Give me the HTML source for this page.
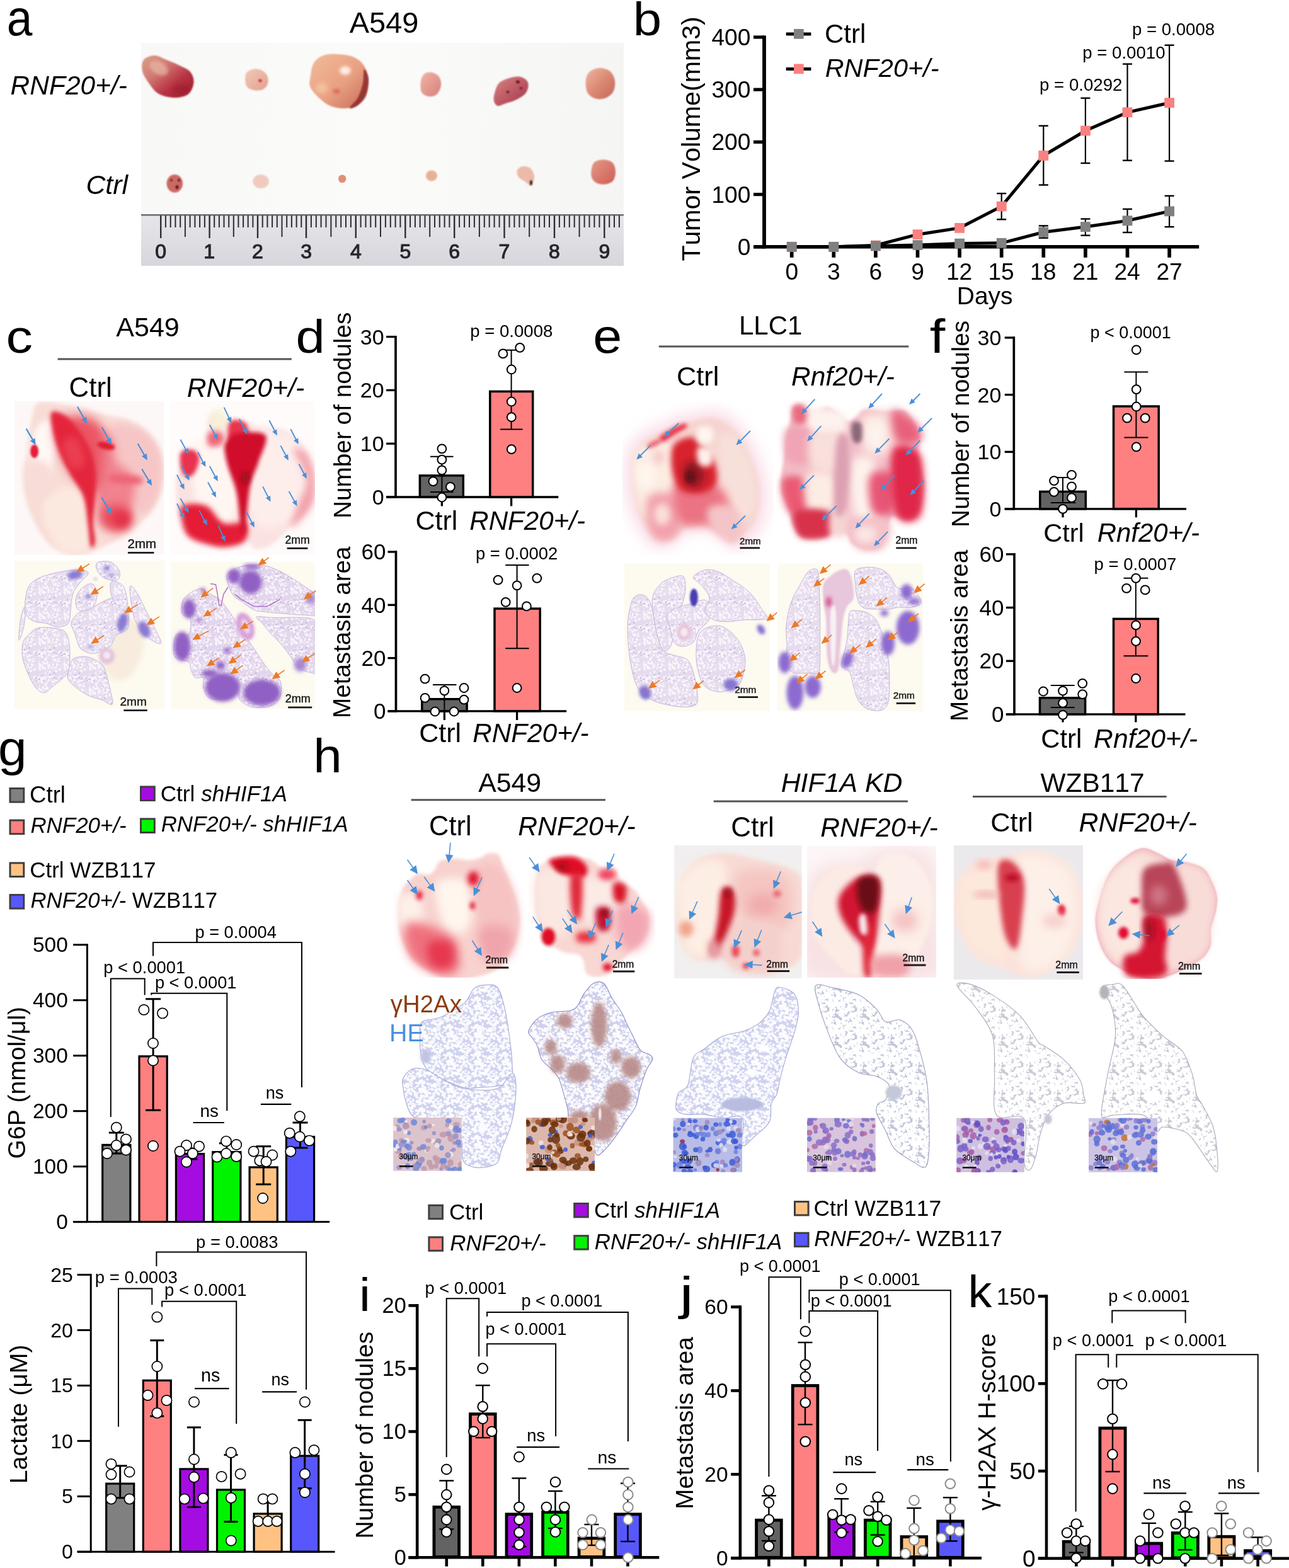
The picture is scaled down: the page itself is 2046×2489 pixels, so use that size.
<!DOCTYPE html>
<html><head><meta charset="utf-8"><title>Figure</title>
<style>
html,body{margin:0;padding:0;background:#fff;}
svg{display:block;}
text{font-family:"Liberation Sans",Arial,sans-serif;font-kerning:none;}
</style></head><body>
<svg width="2046" height="2489" viewBox="0 0 2046 2489">
<rect width="2046" height="2489" fill="#fff"/>
<defs><filter id="b0_6" x="-50%" y="-50%" width="200%" height="200%"><feGaussianBlur stdDeviation="0.6"/></filter><filter id="b0_8" x="-50%" y="-50%" width="200%" height="200%"><feGaussianBlur stdDeviation="0.8"/></filter><filter id="b1" x="-50%" y="-50%" width="200%" height="200%"><feGaussianBlur stdDeviation="1"/></filter><filter id="b1_2" x="-50%" y="-50%" width="200%" height="200%"><feGaussianBlur stdDeviation="1.2"/></filter><filter id="b1_5" x="-50%" y="-50%" width="200%" height="200%"><feGaussianBlur stdDeviation="1.5"/></filter><filter id="b2" x="-50%" y="-50%" width="200%" height="200%"><feGaussianBlur stdDeviation="2"/></filter><filter id="b2_5" x="-50%" y="-50%" width="200%" height="200%"><feGaussianBlur stdDeviation="2.5"/></filter><filter id="b3" x="-50%" y="-50%" width="200%" height="200%"><feGaussianBlur stdDeviation="3"/></filter><filter id="b3_5" x="-50%" y="-50%" width="200%" height="200%"><feGaussianBlur stdDeviation="3.5"/></filter><filter id="b4" x="-50%" y="-50%" width="200%" height="200%"><feGaussianBlur stdDeviation="4"/></filter><filter id="b5" x="-50%" y="-50%" width="200%" height="200%"><feGaussianBlur stdDeviation="5"/></filter><filter id="b6" x="-50%" y="-50%" width="200%" height="200%"><feGaussianBlur stdDeviation="6"/></filter><filter id="b7" x="-50%" y="-50%" width="200%" height="200%"><feGaussianBlur stdDeviation="7"/></filter><filter id="b8" x="-50%" y="-50%" width="200%" height="200%"><feGaussianBlur stdDeviation="8"/></filter><filter id="b9" x="-50%" y="-50%" width="200%" height="200%"><feGaussianBlur stdDeviation="9"/></filter><filter id="b12" x="-50%" y="-50%" width="200%" height="200%"><feGaussianBlur stdDeviation="12"/></filter></defs>
<defs><pattern id="alv" width="40" height="40" patternUnits="userSpaceOnUse"><circle cx="13.0" cy="6.0" r="1.8" fill="#fdf8fc" fill-opacity="0.8"/><circle cx="2.9" cy="21.4" r="1.4" fill="#fdf8fc" fill-opacity="0.8"/><circle cx="42.9" cy="21.4" r="1.4" fill="#fdf8fc" fill-opacity="0.8"/><circle cx="2.3" cy="20.3" r="0.9" fill="#fdf8fc" fill-opacity="0.8"/><circle cx="42.3" cy="20.3" r="0.9" fill="#fdf8fc" fill-opacity="0.8"/><circle cx="17.3" cy="2.8" r="0.9" fill="#fdf8fc" fill-opacity="0.8"/><circle cx="17.3" cy="42.8" r="0.9" fill="#fdf8fc" fill-opacity="0.8"/><circle cx="17.0" cy="33.1" r="1.0" fill="#fdf8fc" fill-opacity="0.8"/><circle cx="8.9" cy="25.1" r="2.3" fill="#fdf8fc" fill-opacity="0.8"/><circle cx="23.1" cy="15.9" r="2.4" fill="#fdf8fc" fill-opacity="0.8"/><circle cx="1.9" cy="34.3" r="1.3" fill="#fdf8fc" fill-opacity="0.8"/><circle cx="41.9" cy="34.3" r="1.3" fill="#fdf8fc" fill-opacity="0.8"/><circle cx="5.8" cy="4.7" r="1.3" fill="#fdf8fc" fill-opacity="0.8"/><circle cx="32.6" cy="7.2" r="1.7" fill="#fdf8fc" fill-opacity="0.8"/><circle cx="25.6" cy="14.9" r="1.7" fill="#fdf8fc" fill-opacity="0.8"/><circle cx="2.5" cy="2.4" r="1.1" fill="#fdf8fc" fill-opacity="0.8"/><circle cx="2.5" cy="42.4" r="1.1" fill="#fdf8fc" fill-opacity="0.8"/><circle cx="42.5" cy="2.4" r="1.1" fill="#fdf8fc" fill-opacity="0.8"/><circle cx="42.5" cy="42.4" r="1.1" fill="#fdf8fc" fill-opacity="0.8"/><circle cx="27.2" cy="17.1" r="1.3" fill="#fdf8fc" fill-opacity="0.8"/><circle cx="23.4" cy="18.1" r="1.3" fill="#fdf8fc" fill-opacity="0.8"/><circle cx="31.8" cy="28.0" r="1.2" fill="#fdf8fc" fill-opacity="0.8"/><circle cx="23.0" cy="21.0" r="2.2" fill="#fdf8fc" fill-opacity="0.8"/><circle cx="29.2" cy="11.5" r="2.4" fill="#fdf8fc" fill-opacity="0.8"/><circle cx="4.7" cy="16.7" r="2.0" fill="#fdf8fc" fill-opacity="0.8"/><circle cx="6.1" cy="19.6" r="0.9" fill="#fdf8fc" fill-opacity="0.8"/><circle cx="26.7" cy="30.6" r="1.7" fill="#fdf8fc" fill-opacity="0.8"/><circle cx="35.0" cy="12.5" r="1.9" fill="#fdf8fc" fill-opacity="0.8"/><circle cx="23.8" cy="23.2" r="1.5" fill="#fdf8fc" fill-opacity="0.8"/><circle cx="33.6" cy="-2.2" r="1.6" fill="#fdf8fc" fill-opacity="0.8"/><circle cx="33.6" cy="37.8" r="1.6" fill="#fdf8fc" fill-opacity="0.8"/><circle cx="26.6" cy="2.4" r="1.9" fill="#fdf8fc" fill-opacity="0.8"/><circle cx="26.6" cy="42.4" r="1.9" fill="#fdf8fc" fill-opacity="0.8"/><circle cx="25.9" cy="-0.3" r="2.1" fill="#fdf8fc" fill-opacity="0.8"/><circle cx="25.9" cy="39.7" r="2.1" fill="#fdf8fc" fill-opacity="0.8"/><circle cx="11.4" cy="15.4" r="1.9" fill="#fdf8fc" fill-opacity="0.8"/><circle cx="0.9" cy="18.5" r="1.1" fill="#fdf8fc" fill-opacity="0.8"/><circle cx="40.9" cy="18.5" r="1.1" fill="#fdf8fc" fill-opacity="0.8"/><circle cx="4.7" cy="2.4" r="2.0" fill="#fdf8fc" fill-opacity="0.8"/><circle cx="4.7" cy="42.4" r="2.0" fill="#fdf8fc" fill-opacity="0.8"/><circle cx="5.2" cy="9.9" r="1.4" fill="#fdf8fc" fill-opacity="0.8"/><circle cx="34.9" cy="3.2" r="1.5" fill="#fdf8fc" fill-opacity="0.8"/><circle cx="22.0" cy="35.3" r="2.1" fill="#fdf8fc" fill-opacity="0.8"/><circle cx="34.6" cy="11.1" r="1.5" fill="#fdf8fc" fill-opacity="0.8"/><circle cx="14.4" cy="35.4" r="2.3" fill="#fdf8fc" fill-opacity="0.8"/><circle cx="6.0" cy="7.0" r="1.2" fill="#fdf8fc" fill-opacity="0.8"/><circle cx="9.3" cy="19.4" r="1.7" fill="#fdf8fc" fill-opacity="0.8"/><circle cx="10.5" cy="0.2" r="1.5" fill="#fdf8fc" fill-opacity="0.8"/><circle cx="10.5" cy="40.2" r="1.5" fill="#fdf8fc" fill-opacity="0.8"/><circle cx="14.8" cy="22.7" r="2.3" fill="#fdf8fc" fill-opacity="0.8"/><circle cx="27.6" cy="20.6" r="1.8" fill="#fdf8fc" fill-opacity="0.8"/><circle cx="27.0" cy="2.2" r="2.2" fill="#fdf8fc" fill-opacity="0.8"/><circle cx="27.0" cy="42.2" r="2.2" fill="#fdf8fc" fill-opacity="0.8"/><circle cx="31.2" cy="35.0" r="2.1" fill="#fdf8fc" fill-opacity="0.8"/><circle cx="15.7" cy="16.0" r="1.0" fill="#fdf8fc" fill-opacity="0.8"/><circle cx="25.4" cy="2.5" r="0.9" fill="#fdf8fc" fill-opacity="0.8"/><circle cx="25.4" cy="42.5" r="0.9" fill="#fdf8fc" fill-opacity="0.8"/><circle cx="8.4" cy="6.5" r="1.3" fill="#fdf8fc" fill-opacity="0.8"/><circle cx="2.1" cy="0.0" r="1.0" fill="#fdf8fc" fill-opacity="0.8"/><circle cx="2.1" cy="40.0" r="1.0" fill="#fdf8fc" fill-opacity="0.8"/><circle cx="42.1" cy="0.0" r="1.0" fill="#fdf8fc" fill-opacity="0.8"/><circle cx="42.1" cy="40.0" r="1.0" fill="#fdf8fc" fill-opacity="0.8"/><circle cx="4.1" cy="14.5" r="0.8" fill="#fdf8fc" fill-opacity="0.8"/><circle cx="35.0" cy="24.6" r="1.0" fill="#fdf8fc" fill-opacity="0.8"/><circle cx="10.1" cy="13.9" r="1.4" fill="#fdf8fc" fill-opacity="0.8"/><circle cx="4.9" cy="34.0" r="2.4" fill="#fdf8fc" fill-opacity="0.8"/><circle cx="18.6" cy="19.4" r="0.9" fill="#fdf8fc" fill-opacity="0.8"/><circle cx="4.1" cy="13.7" r="1.2" fill="#fdf8fc" fill-opacity="0.8"/><circle cx="33.2" cy="6.5" r="0.8" fill="#fdf8fc" fill-opacity="0.8"/><circle cx="-2.0" cy="21.1" r="1.0" fill="#fdf8fc" fill-opacity="0.8"/><circle cx="38.0" cy="21.1" r="1.0" fill="#fdf8fc" fill-opacity="0.8"/><circle cx="21.7" cy="1.1" r="1.6" fill="#fdf8fc" fill-opacity="0.8"/><circle cx="21.7" cy="41.1" r="1.6" fill="#fdf8fc" fill-opacity="0.8"/><circle cx="-0.9" cy="34.5" r="1.9" fill="#fdf8fc" fill-opacity="0.8"/><circle cx="39.1" cy="34.5" r="1.9" fill="#fdf8fc" fill-opacity="0.8"/><circle cx="10.4" cy="14.7" r="1.1" fill="#fdf8fc" fill-opacity="0.8"/><circle cx="30.9" cy="21.3" r="2.0" fill="#fdf8fc" fill-opacity="0.8"/><circle cx="13.2" cy="8.9" r="2.1" fill="#fdf8fc" fill-opacity="0.8"/><circle cx="-0.6" cy="34.1" r="2.1" fill="#fdf8fc" fill-opacity="0.8"/><circle cx="39.4" cy="34.1" r="2.1" fill="#fdf8fc" fill-opacity="0.8"/><circle cx="32.7" cy="29.6" r="1.2" fill="#fdf8fc" fill-opacity="0.8"/><circle cx="20.7" cy="14.2" r="0.8" fill="#fdf8fc" fill-opacity="0.8"/><circle cx="1.1" cy="11.2" r="1.2" fill="#fdf8fc" fill-opacity="0.8"/><circle cx="41.1" cy="11.2" r="1.2" fill="#fdf8fc" fill-opacity="0.8"/><circle cx="27.7" cy="-1.7" r="1.5" fill="#fdf8fc" fill-opacity="0.8"/><circle cx="27.7" cy="38.3" r="1.5" fill="#fdf8fc" fill-opacity="0.8"/><circle cx="-2.5" cy="-0.5" r="2.3" fill="#fdf8fc" fill-opacity="0.8"/><circle cx="-2.5" cy="39.5" r="2.3" fill="#fdf8fc" fill-opacity="0.8"/><circle cx="37.5" cy="-0.5" r="2.3" fill="#fdf8fc" fill-opacity="0.8"/><circle cx="37.5" cy="39.5" r="2.3" fill="#fdf8fc" fill-opacity="0.8"/><circle cx="14.6" cy="8.8" r="1.2" fill="#fdf8fc" fill-opacity="0.8"/><circle cx="7.9" cy="8.2" r="1.8" fill="#fdf8fc" fill-opacity="0.8"/><circle cx="36.0" cy="33.6" r="1.6" fill="#fdf8fc" fill-opacity="0.8"/><circle cx="26.1" cy="32.0" r="0.9" fill="#fdf8fc" fill-opacity="0.8"/><circle cx="26.4" cy="36.4" r="2.1" fill="#fdf8fc" fill-opacity="0.8"/><circle cx="30.0" cy="19.1" r="1.1" fill="#fdf8fc" fill-opacity="0.8"/><circle cx="31.6" cy="13.3" r="2.1" fill="#fdf8fc" fill-opacity="0.8"/><circle cx="-1.1" cy="15.8" r="1.4" fill="#fdf8fc" fill-opacity="0.8"/><circle cx="38.9" cy="15.8" r="1.4" fill="#fdf8fc" fill-opacity="0.8"/><circle cx="-2.1" cy="29.0" r="1.1" fill="#fdf8fc" fill-opacity="0.8"/><circle cx="37.9" cy="29.0" r="1.1" fill="#fdf8fc" fill-opacity="0.8"/><circle cx="5.1" cy="6.0" r="2.2" fill="#fdf8fc" fill-opacity="0.8"/><circle cx="32.3" cy="5.8" r="2.1" fill="#fdf8fc" fill-opacity="0.8"/><circle cx="-0.8" cy="26.3" r="1.4" fill="#fdf8fc" fill-opacity="0.8"/><circle cx="39.2" cy="26.3" r="1.4" fill="#fdf8fc" fill-opacity="0.8"/><circle cx="21.9" cy="5.2" r="0.8" fill="#fdf8fc" fill-opacity="0.8"/><circle cx="-1.2" cy="26.0" r="1.6" fill="#fdf8fc" fill-opacity="0.8"/><circle cx="38.8" cy="26.0" r="1.6" fill="#fdf8fc" fill-opacity="0.8"/><circle cx="-2.7" cy="17.4" r="2.2" fill="#fdf8fc" fill-opacity="0.8"/><circle cx="37.3" cy="17.4" r="2.2" fill="#fdf8fc" fill-opacity="0.8"/><circle cx="33.0" cy="8.4" r="1.2" fill="#fdf8fc" fill-opacity="0.8"/><circle cx="11.7" cy="9.6" r="1.7" fill="#fdf8fc" fill-opacity="0.8"/><circle cx="10.4" cy="16.8" r="1.0" fill="#fdf8fc" fill-opacity="0.8"/><circle cx="36.4" cy="14.2" r="1.5" fill="#fdf8fc" fill-opacity="0.8"/><circle cx="23.3" cy="36.2" r="1.5" fill="#fdf8fc" fill-opacity="0.8"/><circle cx="36.7" cy="20.1" r="1.7" fill="#fdf8fc" fill-opacity="0.8"/><circle cx="20.9" cy="0.7" r="1.5" fill="#fdf8fc" fill-opacity="0.8"/><circle cx="20.9" cy="40.7" r="1.5" fill="#fdf8fc" fill-opacity="0.8"/><circle cx="7.3" cy="0.2" r="2.1" fill="#fdf8fc" fill-opacity="0.8"/><circle cx="7.3" cy="40.2" r="2.1" fill="#fdf8fc" fill-opacity="0.8"/><circle cx="6.9" cy="18.9" r="2.0" fill="#fdf8fc" fill-opacity="0.8"/><circle cx="22.3" cy="13.0" r="1.6" fill="#fdf8fc" fill-opacity="0.8"/><circle cx="22.2" cy="31.4" r="1.0" fill="#fdf8fc" fill-opacity="0.8"/><circle cx="22.4" cy="9.9" r="1.2" fill="#fdf8fc" fill-opacity="0.8"/><circle cx="30.9" cy="20.3" r="1.7" fill="#fdf8fc" fill-opacity="0.8"/><circle cx="30.4" cy="36.5" r="1.5" fill="#fdf8fc" fill-opacity="0.8"/><circle cx="24.5" cy="20.2" r="1.6" fill="#fdf8fc" fill-opacity="0.8"/><circle cx="27.7" cy="18.1" r="1.7" fill="#fdf8fc" fill-opacity="0.8"/><circle cx="19.1" cy="-2.3" r="1.9" fill="#fdf8fc" fill-opacity="0.8"/><circle cx="19.1" cy="37.7" r="1.9" fill="#fdf8fc" fill-opacity="0.8"/><circle cx="35.1" cy="37.7" r="0.9" fill="#a58acc" fill-opacity="0.45"/><circle cx="22.4" cy="37.7" r="1.4" fill="#a58acc" fill-opacity="0.45"/><circle cx="5.5" cy="4.9" r="1.0" fill="#a58acc" fill-opacity="0.45"/><circle cx="2.9" cy="9.6" r="0.7" fill="#a58acc" fill-opacity="0.45"/><circle cx="26.8" cy="31.4" r="1.5" fill="#a58acc" fill-opacity="0.45"/><circle cx="6.2" cy="28.6" r="1.3" fill="#a58acc" fill-opacity="0.45"/><circle cx="5.7" cy="35.3" r="1.6" fill="#a58acc" fill-opacity="0.45"/><circle cx="8.8" cy="38.1" r="1.0" fill="#a58acc" fill-opacity="0.45"/><circle cx="19.5" cy="39.6" r="1.4" fill="#a58acc" fill-opacity="0.45"/><circle cx="6.5" cy="17.3" r="1.1" fill="#a58acc" fill-opacity="0.45"/><circle cx="13.6" cy="7.8" r="0.9" fill="#a58acc" fill-opacity="0.45"/><circle cx="28.9" cy="0.8" r="1.2" fill="#a58acc" fill-opacity="0.45"/><circle cx="17.6" cy="0.7" r="0.9" fill="#a58acc" fill-opacity="0.45"/><circle cx="25.0" cy="20.5" r="0.7" fill="#a58acc" fill-opacity="0.45"/><circle cx="39.4" cy="31.5" r="1.6" fill="#a58acc" fill-opacity="0.45"/><circle cx="4.2" cy="10.6" r="0.6" fill="#a58acc" fill-opacity="0.45"/><circle cx="31.2" cy="10.8" r="0.7" fill="#a58acc" fill-opacity="0.45"/><circle cx="16.9" cy="36.5" r="1.4" fill="#a58acc" fill-opacity="0.45"/></pattern><pattern id="alvb" width="9" height="8" patternUnits="userSpaceOnUse"><circle cx="3" cy="3" r="2.6" fill="none" stroke="#8890c8" stroke-width="0.9" stroke-opacity="0.6"/><circle cx="7.5" cy="6.8" r="2.1" fill="none" stroke="#8890c8" stroke-width="0.9" stroke-opacity="0.55"/></pattern><pattern id="alvg" width="9" height="8" patternUnits="userSpaceOnUse"><circle cx="3" cy="3" r="2.6" fill="none" stroke="#a0a4c0" stroke-width="0.8" stroke-opacity="0.6"/><circle cx="7.5" cy="6.8" r="2.1" fill="none" stroke="#a0a4c0" stroke-width="0.8" stroke-opacity="0.55"/></pattern></defs>
<defs><linearGradient id="abg" x1="0" y1="0" x2="1" y2="0"><stop offset="0" stop-color="#f8f8f6"/><stop offset="0.5" stop-color="#fbfbf9"/><stop offset="1" stop-color="#f5f5f4"/></linearGradient></defs>
<rect x="224.0" y="68.0" width="766.0" height="273.0" fill="url(#abg)"/>
<defs><linearGradient id="arul" x1="0" y1="0" x2="0" y2="1"><stop offset="0" stop-color="#e6e6ea"/><stop offset="0.5" stop-color="#dedee3"/><stop offset="1" stop-color="#d6d6dc"/></linearGradient></defs>
<rect x="224.0" y="341.0" width="766.0" height="81.0" fill="url(#arul)"/>
<line x1="224.0" y1="341.2" x2="990.0" y2="341.2" stroke="#6a6a70" stroke-width="2.4"/>
<line x1="255.2" y1="342.0" x2="255.2" y2="378.0" stroke="#2c2c32" stroke-width="2.4"/>
<line x1="262.9" y1="342.0" x2="262.9" y2="361.0" stroke="#2c2c32" stroke-width="2.0"/>
<line x1="270.7" y1="342.0" x2="270.7" y2="361.0" stroke="#2c2c32" stroke-width="2.0"/>
<line x1="278.4" y1="342.0" x2="278.4" y2="361.0" stroke="#2c2c32" stroke-width="2.0"/>
<line x1="286.2" y1="342.0" x2="286.2" y2="361.0" stroke="#2c2c32" stroke-width="2.0"/>
<line x1="293.9" y1="342.0" x2="293.9" y2="376.0" stroke="#2c2c32" stroke-width="2.0"/>
<line x1="301.6" y1="342.0" x2="301.6" y2="361.0" stroke="#2c2c32" stroke-width="2.0"/>
<line x1="309.4" y1="342.0" x2="309.4" y2="361.0" stroke="#2c2c32" stroke-width="2.0"/>
<line x1="317.1" y1="342.0" x2="317.1" y2="361.0" stroke="#2c2c32" stroke-width="2.0"/>
<line x1="324.9" y1="342.0" x2="324.9" y2="361.0" stroke="#2c2c32" stroke-width="2.0"/>
<g stroke="#26262c" stroke-width="1.1">
<text x="246.3" y="409.5" font-size="32.00" fill="#26262c"><tspan>0</tspan></text>
</g>
<line x1="332.6" y1="342.0" x2="332.6" y2="378.0" stroke="#2c2c32" stroke-width="2.4"/>
<line x1="340.2" y1="342.0" x2="340.2" y2="361.0" stroke="#2c2c32" stroke-width="2.0"/>
<line x1="347.9" y1="342.0" x2="347.9" y2="361.0" stroke="#2c2c32" stroke-width="2.0"/>
<line x1="355.5" y1="342.0" x2="355.5" y2="361.0" stroke="#2c2c32" stroke-width="2.0"/>
<line x1="363.2" y1="342.0" x2="363.2" y2="361.0" stroke="#2c2c32" stroke-width="2.0"/>
<line x1="370.8" y1="342.0" x2="370.8" y2="376.0" stroke="#2c2c32" stroke-width="2.0"/>
<line x1="378.4" y1="342.0" x2="378.4" y2="361.0" stroke="#2c2c32" stroke-width="2.0"/>
<line x1="386.1" y1="342.0" x2="386.1" y2="361.0" stroke="#2c2c32" stroke-width="2.0"/>
<line x1="393.7" y1="342.0" x2="393.7" y2="361.0" stroke="#2c2c32" stroke-width="2.0"/>
<line x1="401.4" y1="342.0" x2="401.4" y2="361.0" stroke="#2c2c32" stroke-width="2.0"/>
<g stroke="#26262c" stroke-width="1.1">
<text x="323.3" y="409.5" font-size="32.00" fill="#26262c"><tspan>1</tspan></text>
</g>
<line x1="409.0" y1="342.0" x2="409.0" y2="378.0" stroke="#2c2c32" stroke-width="2.4"/>
<line x1="416.7" y1="342.0" x2="416.7" y2="361.0" stroke="#2c2c32" stroke-width="2.0"/>
<line x1="424.4" y1="342.0" x2="424.4" y2="361.0" stroke="#2c2c32" stroke-width="2.0"/>
<line x1="432.1" y1="342.0" x2="432.1" y2="361.0" stroke="#2c2c32" stroke-width="2.0"/>
<line x1="439.8" y1="342.0" x2="439.8" y2="361.0" stroke="#2c2c32" stroke-width="2.0"/>
<line x1="447.5" y1="342.0" x2="447.5" y2="376.0" stroke="#2c2c32" stroke-width="2.0"/>
<line x1="455.2" y1="342.0" x2="455.2" y2="361.0" stroke="#2c2c32" stroke-width="2.0"/>
<line x1="462.9" y1="342.0" x2="462.9" y2="361.0" stroke="#2c2c32" stroke-width="2.0"/>
<line x1="470.6" y1="342.0" x2="470.6" y2="361.0" stroke="#2c2c32" stroke-width="2.0"/>
<line x1="478.3" y1="342.0" x2="478.3" y2="361.0" stroke="#2c2c32" stroke-width="2.0"/>
<g stroke="#26262c" stroke-width="1.1">
<text x="400.1" y="409.5" font-size="32.00" fill="#26262c"><tspan>2</tspan></text>
</g>
<line x1="486.0" y1="342.0" x2="486.0" y2="378.0" stroke="#2c2c32" stroke-width="2.4"/>
<line x1="493.9" y1="342.0" x2="493.9" y2="361.0" stroke="#2c2c32" stroke-width="2.0"/>
<line x1="501.8" y1="342.0" x2="501.8" y2="361.0" stroke="#2c2c32" stroke-width="2.0"/>
<line x1="509.6" y1="342.0" x2="509.6" y2="361.0" stroke="#2c2c32" stroke-width="2.0"/>
<line x1="517.5" y1="342.0" x2="517.5" y2="361.0" stroke="#2c2c32" stroke-width="2.0"/>
<line x1="525.4" y1="342.0" x2="525.4" y2="376.0" stroke="#2c2c32" stroke-width="2.0"/>
<line x1="533.3" y1="342.0" x2="533.3" y2="361.0" stroke="#2c2c32" stroke-width="2.0"/>
<line x1="541.2" y1="342.0" x2="541.2" y2="361.0" stroke="#2c2c32" stroke-width="2.0"/>
<line x1="549.0" y1="342.0" x2="549.0" y2="361.0" stroke="#2c2c32" stroke-width="2.0"/>
<line x1="556.9" y1="342.0" x2="556.9" y2="361.0" stroke="#2c2c32" stroke-width="2.0"/>
<g stroke="#26262c" stroke-width="1.1">
<text x="477.2" y="409.5" font-size="32.00" fill="#26262c"><tspan>3</tspan></text>
</g>
<line x1="564.8" y1="342.0" x2="564.8" y2="378.0" stroke="#2c2c32" stroke-width="2.4"/>
<line x1="572.6" y1="342.0" x2="572.6" y2="361.0" stroke="#2c2c32" stroke-width="2.0"/>
<line x1="580.5" y1="342.0" x2="580.5" y2="361.0" stroke="#2c2c32" stroke-width="2.0"/>
<line x1="588.3" y1="342.0" x2="588.3" y2="361.0" stroke="#2c2c32" stroke-width="2.0"/>
<line x1="596.2" y1="342.0" x2="596.2" y2="361.0" stroke="#2c2c32" stroke-width="2.0"/>
<line x1="604.0" y1="342.0" x2="604.0" y2="376.0" stroke="#2c2c32" stroke-width="2.0"/>
<line x1="611.9" y1="342.0" x2="611.9" y2="361.0" stroke="#2c2c32" stroke-width="2.0"/>
<line x1="619.8" y1="342.0" x2="619.8" y2="361.0" stroke="#2c2c32" stroke-width="2.0"/>
<line x1="627.6" y1="342.0" x2="627.6" y2="361.0" stroke="#2c2c32" stroke-width="2.0"/>
<line x1="635.4" y1="342.0" x2="635.4" y2="361.0" stroke="#2c2c32" stroke-width="2.0"/>
<g stroke="#26262c" stroke-width="1.1">
<text x="556.0" y="409.5" font-size="32.00" fill="#26262c"><tspan>4</tspan></text>
</g>
<line x1="643.3" y1="342.0" x2="643.3" y2="378.0" stroke="#2c2c32" stroke-width="2.4"/>
<line x1="651.1" y1="342.0" x2="651.1" y2="361.0" stroke="#2c2c32" stroke-width="2.0"/>
<line x1="658.9" y1="342.0" x2="658.9" y2="361.0" stroke="#2c2c32" stroke-width="2.0"/>
<line x1="666.7" y1="342.0" x2="666.7" y2="361.0" stroke="#2c2c32" stroke-width="2.0"/>
<line x1="674.5" y1="342.0" x2="674.5" y2="361.0" stroke="#2c2c32" stroke-width="2.0"/>
<line x1="682.2" y1="342.0" x2="682.2" y2="376.0" stroke="#2c2c32" stroke-width="2.0"/>
<line x1="690.0" y1="342.0" x2="690.0" y2="361.0" stroke="#2c2c32" stroke-width="2.0"/>
<line x1="697.8" y1="342.0" x2="697.8" y2="361.0" stroke="#2c2c32" stroke-width="2.0"/>
<line x1="705.6" y1="342.0" x2="705.6" y2="361.0" stroke="#2c2c32" stroke-width="2.0"/>
<line x1="713.4" y1="342.0" x2="713.4" y2="361.0" stroke="#2c2c32" stroke-width="2.0"/>
<g stroke="#26262c" stroke-width="1.1">
<text x="634.4" y="409.5" font-size="32.00" fill="#26262c"><tspan>5</tspan></text>
</g>
<line x1="721.2" y1="342.0" x2="721.2" y2="378.0" stroke="#2c2c32" stroke-width="2.4"/>
<line x1="729.1" y1="342.0" x2="729.1" y2="361.0" stroke="#2c2c32" stroke-width="2.0"/>
<line x1="737.1" y1="342.0" x2="737.1" y2="361.0" stroke="#2c2c32" stroke-width="2.0"/>
<line x1="745.0" y1="342.0" x2="745.0" y2="361.0" stroke="#2c2c32" stroke-width="2.0"/>
<line x1="752.9" y1="342.0" x2="752.9" y2="361.0" stroke="#2c2c32" stroke-width="2.0"/>
<line x1="760.9" y1="342.0" x2="760.9" y2="376.0" stroke="#2c2c32" stroke-width="2.0"/>
<line x1="768.8" y1="342.0" x2="768.8" y2="361.0" stroke="#2c2c32" stroke-width="2.0"/>
<line x1="776.7" y1="342.0" x2="776.7" y2="361.0" stroke="#2c2c32" stroke-width="2.0"/>
<line x1="784.6" y1="342.0" x2="784.6" y2="361.0" stroke="#2c2c32" stroke-width="2.0"/>
<line x1="792.6" y1="342.0" x2="792.6" y2="361.0" stroke="#2c2c32" stroke-width="2.0"/>
<g stroke="#26262c" stroke-width="1.1">
<text x="712.2" y="409.5" font-size="32.00" fill="#26262c"><tspan>6</tspan></text>
</g>
<line x1="800.5" y1="342.0" x2="800.5" y2="378.0" stroke="#2c2c32" stroke-width="2.4"/>
<line x1="808.5" y1="342.0" x2="808.5" y2="361.0" stroke="#2c2c32" stroke-width="2.0"/>
<line x1="816.4" y1="342.0" x2="816.4" y2="361.0" stroke="#2c2c32" stroke-width="2.0"/>
<line x1="824.4" y1="342.0" x2="824.4" y2="361.0" stroke="#2c2c32" stroke-width="2.0"/>
<line x1="832.3" y1="342.0" x2="832.3" y2="361.0" stroke="#2c2c32" stroke-width="2.0"/>
<line x1="840.2" y1="342.0" x2="840.2" y2="376.0" stroke="#2c2c32" stroke-width="2.0"/>
<line x1="848.2" y1="342.0" x2="848.2" y2="361.0" stroke="#2c2c32" stroke-width="2.0"/>
<line x1="856.1" y1="342.0" x2="856.1" y2="361.0" stroke="#2c2c32" stroke-width="2.0"/>
<line x1="864.1" y1="342.0" x2="864.1" y2="361.0" stroke="#2c2c32" stroke-width="2.0"/>
<line x1="872.0" y1="342.0" x2="872.0" y2="361.0" stroke="#2c2c32" stroke-width="2.0"/>
<g stroke="#26262c" stroke-width="1.1">
<text x="791.6" y="409.5" font-size="32.00" fill="#26262c"><tspan>7</tspan></text>
</g>
<line x1="880.0" y1="342.0" x2="880.0" y2="378.0" stroke="#2c2c32" stroke-width="2.4"/>
<line x1="887.9" y1="342.0" x2="887.9" y2="361.0" stroke="#2c2c32" stroke-width="2.0"/>
<line x1="895.9" y1="342.0" x2="895.9" y2="361.0" stroke="#2c2c32" stroke-width="2.0"/>
<line x1="903.8" y1="342.0" x2="903.8" y2="361.0" stroke="#2c2c32" stroke-width="2.0"/>
<line x1="911.7" y1="342.0" x2="911.7" y2="361.0" stroke="#2c2c32" stroke-width="2.0"/>
<line x1="919.6" y1="342.0" x2="919.6" y2="376.0" stroke="#2c2c32" stroke-width="2.0"/>
<line x1="927.6" y1="342.0" x2="927.6" y2="361.0" stroke="#2c2c32" stroke-width="2.0"/>
<line x1="935.5" y1="342.0" x2="935.5" y2="361.0" stroke="#2c2c32" stroke-width="2.0"/>
<line x1="943.4" y1="342.0" x2="943.4" y2="361.0" stroke="#2c2c32" stroke-width="2.0"/>
<line x1="951.4" y1="342.0" x2="951.4" y2="361.0" stroke="#2c2c32" stroke-width="2.0"/>
<g stroke="#26262c" stroke-width="1.1">
<text x="871.1" y="409.5" font-size="32.00" fill="#26262c"><tspan>8</tspan></text>
</g>
<line x1="959.3" y1="342.0" x2="959.3" y2="378.0" stroke="#2c2c32" stroke-width="2.4"/>
<line x1="967.2" y1="342.0" x2="967.2" y2="361.0" stroke="#2c2c32" stroke-width="2.0"/>
<line x1="975.0" y1="342.0" x2="975.0" y2="361.0" stroke="#2c2c32" stroke-width="2.0"/>
<line x1="982.9" y1="342.0" x2="982.9" y2="361.0" stroke="#2c2c32" stroke-width="2.0"/>
<g stroke="#26262c" stroke-width="1.1">
<text x="950.4" y="409.5" font-size="32.00" fill="#26262c"><tspan>9</tspan></text>
</g>
<defs><linearGradient id="t1" x1="0" y1="0" x2="1" y2="1"><stop offset="0" stop-color="#dca08a"/><stop offset="0.35" stop-color="#d07872"/><stop offset="0.65" stop-color="#b83444"/><stop offset="1" stop-color="#9a1a2a"/></linearGradient></defs>
<path d="M228.0,95.0C231.2,90.8 239.3,88.2 245.0,88.0C250.7,87.8 255.7,91.5 262.0,94.0C268.3,96.5 276.3,99.7 283.0,103.0C289.7,106.3 297.9,109.3 302.0,114.0C306.1,118.7 308.0,125.2 307.5,131.0C307.0,136.8 304.1,145.0 299.0,149.0C293.9,153.0 284.8,155.0 277.0,155.0C269.2,155.0 258.7,152.7 252.0,149.0C245.3,145.3 241.3,139.0 237.0,133.0C232.7,127.0 227.5,119.3 226.0,113.0C224.5,106.7 224.8,99.2 228.0,95.0Z" fill="url(#t1)" filter="url(#b0_8)"/>
<ellipse cx="252.0" cy="108.0" rx="16.0" ry="10.0" fill="#e8b8a6" opacity="0.7" transform="rotate(30 252.0 108.0)" filter="url(#b2_5)"/>
<ellipse cx="287.0" cy="142.0" rx="13.0" ry="8.0" fill="#9c1a2a" opacity="0.6" filter="url(#b3)"/>
<defs><linearGradient id="t2" x1="0" y1="0" x2="1" y2="1"><stop offset="0" stop-color="#f2c8b8"/><stop offset="1" stop-color="#e2a090"/></linearGradient></defs>
<path d="M390.0,118.0C391.5,113.7 396.0,111.2 400.0,110.0C404.0,108.8 410.0,109.3 414.0,111.0C418.0,112.7 422.2,116.3 424.0,120.0C425.8,123.7 426.2,129.3 425.0,133.0C423.8,136.7 420.8,140.3 417.0,142.0C413.2,143.7 406.3,144.0 402.0,143.0C397.7,142.0 393.0,140.2 391.0,136.0C389.0,131.8 388.5,122.3 390.0,118.0Z" fill="url(#t2)" filter="url(#b0_8)"/>
<ellipse cx="413.0" cy="128.0" rx="3.0" ry="2.5" fill="#d84040" filter="url(#b1)"/>
<defs><linearGradient id="t3" x1="0" y1="0" x2="1" y2="1"><stop offset="0" stop-color="#f2bc9c"/><stop offset="0.55" stop-color="#e8a080"/><stop offset="1" stop-color="#c86a5a"/></linearGradient></defs>
<path d="M493.0,120.0C494.0,113.8 494.7,105.3 498.0,100.0C501.3,94.7 506.8,90.3 513.0,88.0C519.2,85.7 527.2,85.7 535.0,86.0C542.8,86.3 553.0,87.2 560.0,90.0C567.0,92.8 573.0,97.2 577.0,103.0C581.0,108.8 583.5,117.2 584.0,125.0C584.5,132.8 583.0,143.0 580.0,150.0C577.0,157.0 571.8,163.3 566.0,167.0C560.2,170.7 552.3,172.0 545.0,172.0C537.7,172.0 529.0,170.3 522.0,167.0C515.0,163.7 508.0,157.0 503.0,152.0C498.0,147.0 493.7,142.3 492.0,137.0C490.3,131.7 492.0,126.2 493.0,120.0Z" fill="url(#t3)" filter="url(#b0_8)"/>
<ellipse cx="548.0" cy="112.0" rx="9.0" ry="7.0" fill="#fff4ec" opacity="0.9" filter="url(#b2_5)"/>
<ellipse cx="511.0" cy="140.0" rx="10.0" ry="9.0" fill="#f6caa6" opacity="0.7" filter="url(#b3)"/>
<path d="M578.0,110.0C579.5,108.8 584.5,118.0 585.0,125.0C585.5,132.0 584.0,144.8 581.0,152.0C578.0,159.2 571.3,164.8 567.0,168.0C562.7,171.2 554.8,173.2 555.0,171.0C555.2,168.8 564.5,161.5 568.0,155.0C571.5,148.5 574.3,139.5 576.0,132.0C577.7,124.5 576.5,111.2 578.0,110.0Z" fill="#8c2a2a" opacity="0.85" filter="url(#b1_2)"/>
<ellipse cx="534.0" cy="145.0" rx="6.0" ry="4.0" fill="#d05050" opacity="0.6" filter="url(#b2)"/>
<defs><linearGradient id="t4" x1="0" y1="0" x2="1" y2="1"><stop offset="0" stop-color="#f0b4a6"/><stop offset="1" stop-color="#d8807a"/></linearGradient></defs>
<path d="M668.0,128.0C668.8,123.2 671.0,119.2 674.0,117.0C677.0,114.8 682.2,114.2 686.0,115.0C689.8,115.8 694.7,118.5 697.0,122.0C699.3,125.5 700.7,131.3 700.0,136.0C699.3,140.7 696.3,147.2 693.0,150.0C689.7,152.8 684.0,153.7 680.0,153.0C676.0,152.3 671.0,150.2 669.0,146.0C667.0,141.8 667.2,132.8 668.0,128.0Z" fill="url(#t4)" filter="url(#b0_8)"/>
<defs><linearGradient id="t5" x1="0" y1="0" x2="1" y2="1"><stop offset="0" stop-color="#d48884"/><stop offset="0.5" stop-color="#bf5a66"/><stop offset="1" stop-color="#9c3848"/></linearGradient></defs>
<path d="M785.0,148.0C786.3,143.3 788.2,136.0 792.0,132.0C795.8,128.0 802.3,125.7 808.0,124.0C813.7,122.3 821.0,120.8 826.0,122.0C831.0,123.2 836.5,126.8 838.0,131.0C839.5,135.2 838.0,142.5 835.0,147.0C832.0,151.5 825.3,155.2 820.0,158.0C814.7,160.8 808.0,162.3 803.0,164.0C798.0,165.7 793.2,168.7 790.0,168.0C786.8,167.3 784.8,163.3 784.0,160.0C783.2,156.7 783.7,152.7 785.0,148.0Z" fill="url(#t5)" filter="url(#b0_8)"/>
<ellipse cx="822.0" cy="130.0" rx="3.0" ry="2.5" fill="#6a1c28" filter="url(#b1)"/>
<ellipse cx="806.0" cy="146.0" rx="2.5" ry="2.0" fill="#6a1c28" filter="url(#b1)"/>
<ellipse cx="827.0" cy="140.0" rx="2.5" ry="2.0" fill="#7a2030" filter="url(#b1)"/>
<defs><linearGradient id="t6" x1="0" y1="0" x2="1" y2="1"><stop offset="0" stop-color="#ecb6a2"/><stop offset="0.5" stop-color="#dc8a74"/><stop offset="1" stop-color="#c4645a"/></linearGradient></defs>
<path d="M930.0,126.0C930.8,120.5 933.3,116.0 937.0,113.0C940.7,110.0 946.8,108.0 952.0,108.0C957.2,108.0 964.0,109.7 968.0,113.0C972.0,116.3 975.2,122.5 976.0,128.0C976.8,133.5 975.7,141.3 973.0,146.0C970.3,150.7 964.8,154.3 960.0,156.0C955.2,157.7 948.7,157.7 944.0,156.0C939.3,154.3 934.3,151.0 932.0,146.0C929.7,141.0 929.2,131.5 930.0,126.0Z" fill="url(#t6)" filter="url(#b0_8)"/>
<ellipse cx="277.3" cy="291.3" rx="12.8" ry="14.3" fill="#c96a64" filter="url(#b0_8)"/>
<ellipse cx="281.0" cy="297.0" rx="2.5" ry="3.0" fill="#6a1020" filter="url(#b1)"/>
<ellipse cx="272.0" cy="286.0" rx="2.0" ry="2.0" fill="#8a2030" filter="url(#b1)"/>
<ellipse cx="284.0" cy="286.0" rx="2.0" ry="2.5" fill="#7a1828" filter="url(#b1)"/>
<ellipse cx="414.0" cy="288.0" rx="12.8" ry="11.0" fill="#f0cbbd" filter="url(#b0_8)"/>
<ellipse cx="543.2" cy="283.8" rx="6.2" ry="6.4" fill="#e08f76" filter="url(#b0_6)"/>
<ellipse cx="685.0" cy="279.0" rx="9.0" ry="8.5" fill="#eab092" filter="url(#b0_8)"/>
<path d="M821.0,270.0C822.2,267.2 826.5,264.5 830.0,264.0C833.5,263.5 839.0,264.5 842.0,267.0C845.0,269.5 847.3,275.2 848.0,279.0C848.7,282.8 847.0,287.3 846.0,290.0C845.0,292.7 844.2,295.3 842.0,295.0C839.8,294.7 836.2,290.3 833.0,288.0C829.8,285.7 825.0,284.0 823.0,281.0C821.0,278.0 819.8,272.8 821.0,270.0Z" fill="#ecbaa8" filter="url(#b0_8)"/>
<ellipse cx="843.0" cy="290.0" rx="2.0" ry="4.0" fill="#3a2020" filter="url(#b0_8)"/>
<defs><linearGradient id="c6" x1="0" y1="0" x2="1" y2="1"><stop offset="0" stop-color="#e69a88"/><stop offset="1" stop-color="#cc5c54"/></linearGradient></defs>
<path d="M939.0,268.0C939.8,264.0 940.8,259.4 944.0,257.0C947.2,254.6 953.3,253.3 958.0,253.5C962.7,253.7 968.8,254.9 972.0,258.0C975.2,261.1 976.8,267.2 977.0,272.0C977.2,276.8 975.8,283.6 973.0,287.0C970.2,290.4 964.5,292.0 960.0,292.5C955.5,293.0 949.5,291.9 946.0,290.0C942.5,288.1 940.2,284.7 939.0,281.0C937.8,277.3 938.2,272.0 939.0,268.0Z" fill="url(#c6)" filter="url(#b0_8)"/>
<clipPath id="cp1"><rect x="23.2" y="636.5" width="237.3" height="244.8"/></clipPath><g clip-path="url(#cp1)">
<rect x="23.2" y="636.5" width="237.3" height="244.8" fill="#fdf8f7"/>
<path d="M63.2,638.6C75.0,635.3 104.0,642.7 120.8,645.8C137.6,649.0 149.6,653.8 164.0,657.4C178.4,661.0 195.2,662.4 207.2,667.4C219.2,672.5 228.3,679.4 236.0,687.6C243.7,695.8 249.5,706.8 253.3,716.4C257.1,726.0 258.6,735.6 259.1,745.2C259.5,754.8 258.6,764.4 256.2,774.0C253.8,783.6 250.4,793.2 244.7,802.8C238.9,812.4 230.3,823.2 221.6,831.6C213.0,840.0 202.4,847.2 192.8,853.2C183.2,859.2 172.4,863.5 164.0,867.6C155.6,871.7 149.6,875.4 142.4,877.7C135.2,880.0 128.7,881.8 120.8,881.3C112.9,880.8 102.6,878.3 94.9,874.8C87.2,871.3 81.2,867.6 74.7,860.4C68.2,853.2 61.5,842.4 56.0,831.6C50.5,820.8 44.7,807.6 41.6,795.6C38.5,783.6 37.3,770.4 37.3,759.6C37.3,748.8 40.4,740.9 41.6,730.8C42.8,720.7 43.0,709.9 44.5,699.1C45.9,688.3 47.1,676.1 50.2,666.0C53.4,655.9 51.4,642.0 63.2,638.6Z" fill="#f8dcd6" filter="url(#b3)"/>
<path d="M178.4,673.2C185.6,668.4 209.6,674.4 221.6,680.4C233.6,686.4 244.4,698.4 250.4,709.2C256.4,720.0 257.6,732.0 257.6,745.2C257.6,758.4 255.2,776.4 250.4,788.4C245.6,800.4 236.0,817.2 228.8,817.2C221.6,817.2 213.2,800.4 207.2,788.4C201.2,776.4 197.6,758.4 192.8,745.2C188.0,732.0 180.8,721.2 178.4,709.2C176.0,697.2 171.2,678.0 178.4,673.2Z" fill="#f6c6c6" filter="url(#b6)"/>
<path d="M113.6,666.0C119.6,662.4 138.8,668.4 149.6,673.2C160.4,678.0 172.4,685.2 178.4,694.8C184.4,704.4 180.8,721.2 185.6,730.8C190.4,740.4 202.4,745.2 207.2,752.4C212.0,759.6 214.4,763.2 214.4,774.0C214.4,784.8 209.6,806.4 207.2,817.2C204.8,828.0 206.0,835.2 200.0,838.8C194.0,842.4 178.4,842.4 171.2,838.8C164.0,835.2 160.4,828.0 156.8,817.2C153.2,806.4 153.2,788.4 149.6,774.0C146.0,759.6 141.2,744.0 135.2,730.8C129.2,717.6 117.2,705.6 113.6,694.8C110.0,684.0 107.6,669.6 113.6,666.0Z" fill="#f07484" opacity="0.85" filter="url(#b7)"/>
<path d="M80.5,781.2C87.0,776.2 97.3,772.6 106.4,772.6C115.5,772.6 128.5,773.8 135.2,781.2C141.9,788.7 145.0,805.2 146.7,817.2C148.4,829.2 147.2,843.1 145.3,853.2C143.4,863.3 141.7,873.6 135.2,877.7C128.7,881.8 114.8,880.6 106.4,877.7C98.0,874.8 90.8,868.1 84.8,860.4C78.8,852.7 73.3,841.2 70.4,831.6C67.5,822.0 65.8,811.2 67.5,802.8C69.2,794.4 74.0,786.2 80.5,781.2Z" fill="#fbe8de" filter="url(#b5)"/>
<path d="M63.2,673.2C68.0,668.6 76.4,665.0 80.5,667.4C84.6,669.8 87.0,677.0 87.7,687.6C88.4,698.2 87.0,718.8 84.8,730.8C82.6,742.8 78.8,754.8 74.7,759.6C70.6,764.4 64.6,764.4 60.3,759.6C56.0,754.8 50.2,741.6 48.8,730.8C47.4,720.0 49.3,704.4 51.7,694.8C54.1,685.2 58.4,677.8 63.2,673.2Z" fill="#fff8f4" filter="url(#b5)"/>
<path d="M41.6,730.8C47.1,724.8 70.4,730.8 77.6,738.0C84.8,745.2 86.5,765.6 84.8,774.0C83.1,782.4 74.2,788.4 67.5,788.4C60.8,788.4 48.8,783.6 44.5,774.0C40.2,764.4 36.1,736.8 41.6,730.8Z" fill="#f8dcd8" filter="url(#b6)"/>
<path d="M92.0,666.0C102.3,658.8 146.0,655.2 156.8,673.2C167.6,691.2 162.8,759.6 156.8,774.0C150.8,788.4 131.1,769.2 120.8,759.6C110.5,750.0 99.7,732.0 94.9,716.4C90.1,700.8 81.7,673.2 92.0,666.0Z" fill="#e84454" opacity="0.75" filter="url(#b9)"/>
<path d="M81.9,654.5C85.5,650.2 98.7,656.2 106.4,661.7C114.1,667.2 121.3,677.3 128.0,687.6C134.7,697.9 142.6,711.6 146.7,723.6C150.8,735.6 151.8,747.6 152.5,759.6C153.2,771.6 151.8,783.6 151.0,795.6C150.3,807.6 148.2,820.8 148.2,831.6C148.2,842.4 151.8,854.4 151.0,860.4C150.3,866.4 145.8,872.4 143.8,867.6C141.9,862.8 141.4,844.8 139.5,831.6C137.6,818.4 136.9,801.4 132.3,788.4C127.8,775.4 118.4,765.4 112.2,753.8C105.9,742.3 99.4,730.3 94.9,719.3C90.3,708.2 87.0,698.4 84.8,687.6C82.6,676.8 78.3,658.8 81.9,654.5Z" fill="#e4283c" filter="url(#b3)"/>
<path d="M100.6,702.0C103.0,696.0 115.0,690.0 120.8,694.8C126.6,699.6 135.2,722.4 135.2,730.8C135.2,739.2 125.6,745.2 120.8,745.2C116.0,745.2 109.8,738.0 106.4,730.8C103.0,723.6 98.2,708.0 100.6,702.0Z" fill="#ec4454" opacity="0.8" filter="url(#b6)"/>
<ellipse cx="184.2" cy="821.5" rx="25.9" ry="20.2" fill="#e84858" filter="url(#b9)"/>
<ellipse cx="192.8" cy="824.4" rx="13.0" ry="13.0" fill="#e43048" filter="url(#b6)"/>
<path d="M175.5,753.8C182.7,752.4 213.9,754.3 221.6,756.7C229.3,759.1 228.8,766.8 221.6,768.2C214.4,769.7 186.1,767.8 178.4,765.4C170.7,763.0 168.3,755.3 175.5,753.8Z" fill="#ee6474" filter="url(#b4)"/>
<ellipse cx="54.6" cy="716.4" rx="6.5" ry="10.8" fill="#e61e3c" filter="url(#b1_5)"/>
<ellipse cx="168.3" cy="707.8" rx="14.4" ry="6.0" fill="#e01c32" transform="rotate(12 168.3 707.8)" filter="url(#b2)"/>
</g>
<line x1="41.6" y1="680.4" x2="52.7" y2="699.4" stroke="#4a90d8" stroke-width="2.2"/>
<polygon points="56.7,706.3 47.8,700.0 55.6,695.4" fill="#4a90d8"/>
<line x1="123.0" y1="645.8" x2="134.1" y2="665.5" stroke="#4a90d8" stroke-width="2.2"/>
<polygon points="138.1,672.5 129.2,666.0 137.1,661.6" fill="#4a90d8"/>
<line x1="161.8" y1="678.2" x2="173.1" y2="698.6" stroke="#4a90d8" stroke-width="2.2"/>
<polygon points="177.0,705.6 168.2,699.0 176.1,694.7" fill="#4a90d8"/>
<line x1="218.7" y1="704.2" x2="229.9" y2="723.8" stroke="#4a90d8" stroke-width="2.2"/>
<polygon points="233.9,730.8 225.0,724.3 232.8,719.9" fill="#4a90d8"/>
<line x1="225.2" y1="744.5" x2="237.0" y2="764.3" stroke="#4a90d8" stroke-width="2.2"/>
<polygon points="241.1,771.1 232.1,764.8 239.8,760.2" fill="#4a90d8"/>
<line x1="161.1" y1="789.1" x2="173.0" y2="809.6" stroke="#4a90d8" stroke-width="2.2"/>
<polygon points="177.0,816.5 168.1,810.1 175.9,805.6" fill="#4a90d8"/>
<text x="202.6" y="869.8" font-size="20.51" fill="#1a1a1a" stroke="#1a1a1a" stroke-width="0.45"><tspan>2mm</tspan></text>
<line x1="202.9" y1="877.4" x2="244.4" y2="877.4" stroke="#1a1a1a" stroke-width="2.8"/>
<clipPath id="cp2"><rect x="270.0" y="636.5" width="230.0" height="244.5"/></clipPath><g clip-path="url(#cp2)">
<rect x="270.0" y="636.5" width="230.0" height="244.5" fill="#fefbfa"/>
<path d="M285.7,740.6C283.9,748.7 279.3,756.7 278.8,768.3C278.4,779.8 280.0,795.9 283.0,809.7C286.0,823.6 288.3,842.0 296.8,851.2C305.3,860.4 323.3,862.3 334.1,865.0C345.0,867.8 352.6,869.6 361.8,867.8C371.0,866.0 382.5,853.5 389.4,854.0C396.3,854.4 396.3,868.7 403.3,870.6C410.2,872.4 420.5,871.7 430.9,865.0C441.3,858.4 455.1,840.8 465.5,830.5C475.8,820.1 487.4,813.2 493.1,802.8C498.9,792.4 500.0,779.8 500.0,768.3C500.0,756.7 496.6,744.1 493.1,733.7C489.7,723.3 486.2,714.6 479.3,706.0C472.4,697.5 462.0,687.1 451.6,682.5C441.3,677.9 428.6,680.7 417.1,678.4C405.6,676.1 391.7,669.9 382.5,668.7C373.3,667.6 368.7,673.3 361.8,671.5C354.9,669.6 346.3,658.1 341.0,657.7C335.7,657.2 331.8,661.3 330.0,668.7C328.1,676.1 333.9,694.5 330.0,701.9C326.1,709.3 313.2,710.0 306.5,713.0C299.8,715.9 293.3,715.3 289.9,719.9C286.4,724.5 287.6,732.5 285.7,740.6Z" fill="#fbe2e0" filter="url(#b3)"/>
<ellipse cx="346.6" cy="668.7" rx="15.2" ry="19.4" fill="#f8f0d8" filter="url(#b6)"/>
<path d="M403.3,685.3C413.6,674.9 444.7,685.3 458.6,692.2C472.4,699.1 480.7,714.1 486.2,726.8C491.7,739.5 492.9,754.4 491.7,768.3C490.6,782.1 486.0,799.4 479.3,809.7C472.6,820.1 462.0,825.9 451.6,830.5C441.3,835.1 426.3,840.8 417.1,837.4C407.9,833.9 399.8,823.6 396.3,809.7C392.9,795.9 395.2,775.2 396.3,754.4C397.5,733.7 392.9,695.7 403.3,685.3Z" fill="#fdeeec" filter="url(#b7)"/>
<path d="M465.5,713.0C466.6,709.5 480.7,713.0 486.2,719.9C491.7,726.8 496.8,741.8 498.7,754.4C500.5,767.1 500.5,784.4 497.3,795.9C494.0,807.4 485.3,816.6 479.3,823.6C473.3,830.5 462.5,840.8 461.3,837.4C460.2,833.9 468.2,814.3 472.4,802.8C476.5,791.3 485.1,778.6 486.2,768.3C487.4,757.9 482.8,749.8 479.3,740.6C475.8,731.4 464.3,716.4 465.5,713.0Z" fill="#f0909c" opacity="0.8" filter="url(#b6)"/>
<path d="M303.7,706.0C312.9,694.5 349.8,691.1 361.8,699.1C373.8,707.2 373.8,734.8 375.6,754.4C377.4,774.0 377.4,804.0 372.8,816.6C368.2,829.3 357.2,830.5 348.0,830.5C338.7,830.5 324.4,827.0 317.5,816.6C310.6,806.3 308.8,786.7 306.5,768.3C304.2,749.8 294.5,717.6 303.7,706.0Z" fill="#fff6f2" filter="url(#b6)"/>
<path d="M289.9,802.8C296.3,799.4 316.4,798.2 327.2,802.8C338.0,807.4 344.5,825.9 354.9,830.5C365.2,835.1 383.7,825.9 389.4,830.5C395.2,835.1 394.0,851.9 389.4,858.1C384.8,864.3 371.0,866.6 361.8,867.8C352.6,869.0 344.5,867.8 334.1,865.0C323.8,862.3 307.2,858.1 299.6,851.2C292.0,844.3 290.1,831.6 288.5,823.6C286.9,815.5 283.4,806.3 289.9,802.8Z" fill="#e41e36" filter="url(#b4)"/>
<path d="M287.1,718.5C290.1,713.0 301.6,713.0 306.5,714.3C311.3,715.7 315.5,721.2 316.2,726.8C316.8,732.3 313.4,742.4 310.6,747.5C307.9,752.6 303.3,757.2 299.6,757.2C295.9,757.2 290.6,754.0 288.5,747.5C286.4,741.1 284.1,724.0 287.1,718.5Z" fill="#e83250" filter="url(#b3)"/>
<path d="M364.5,670.1C368.7,664.1 384.4,666.6 389.4,671.5C394.5,676.3 395.9,691.8 395.0,699.1C394.0,706.5 389.0,714.3 383.9,715.7C378.8,717.1 367.8,715.0 364.5,707.4C361.3,699.8 360.4,676.1 364.5,670.1Z" fill="#e8344c" filter="url(#b3)"/>
<path d="M330.0,688.1C332.7,684.4 343.6,683.9 348.0,685.3C352.3,686.7 356.2,692.7 356.2,696.4C356.2,700.0 352.1,705.6 348.0,707.4C343.8,709.3 334.4,710.6 331.4,707.4C328.4,704.2 327.2,691.8 330.0,688.1Z" fill="#f06878" filter="url(#b4)"/>
<path d="M359.0,701.9C362.2,697.7 365.2,689.9 375.6,688.1C386.0,686.2 415.5,683.2 421.2,690.8C427.0,698.4 414.1,720.8 410.2,733.7C406.3,746.6 400.7,755.6 397.7,768.3C394.7,780.9 393.6,797.1 392.2,809.7C390.8,822.4 391.0,839.7 389.4,844.3C387.8,848.9 384.8,847.8 382.5,837.4C380.2,827.0 379.1,798.2 375.6,782.1C372.1,766.0 365.0,752.1 361.8,740.6C358.6,729.1 356.7,719.4 356.2,713.0C355.8,706.5 355.8,706.0 359.0,701.9Z" fill="#d0102a" filter="url(#b3)"/>
<ellipse cx="389.4" cy="758.6" rx="5.5" ry="8.3" fill="#8a0a1a" filter="url(#b5)"/>
</g>
<line x1="355.6" y1="646.6" x2="364.3" y2="665.1" stroke="#4a90d8" stroke-width="1.9"/>
<polygon points="367.3,671.5 359.8,665.0 367.1,661.6" fill="#4a90d8"/>
<line x1="332.7" y1="674.2" x2="342.5" y2="692.3" stroke="#4a90d8" stroke-width="1.9"/>
<polygon points="345.9,698.4 338.1,692.4 345.1,688.6" fill="#4a90d8"/>
<line x1="379.8" y1="665.3" x2="389.0" y2="683.2" stroke="#4a90d8" stroke-width="1.9"/>
<polygon points="392.2,689.4 384.5,683.3 391.6,679.6" fill="#4a90d8"/>
<line x1="427.4" y1="667.3" x2="436.7" y2="685.3" stroke="#4a90d8" stroke-width="1.9"/>
<polygon points="439.9,691.5 432.2,685.3 439.3,681.7" fill="#4a90d8"/>
<line x1="461.3" y1="681.2" x2="470.6" y2="699.1" stroke="#4a90d8" stroke-width="1.9"/>
<polygon points="473.8,705.3 466.1,699.2 473.2,695.5" fill="#4a90d8"/>
<line x1="286.4" y1="697.7" x2="295.9" y2="715.1" stroke="#4a90d8" stroke-width="1.9"/>
<polygon points="299.3,721.2 291.5,715.3 298.5,711.4" fill="#4a90d8"/>
<line x1="314.1" y1="717.8" x2="323.2" y2="735.1" stroke="#4a90d8" stroke-width="1.9"/>
<polygon points="326.5,741.3 318.8,735.2 325.8,731.5" fill="#4a90d8"/>
<line x1="445.4" y1="707.4" x2="454.6" y2="724.7" stroke="#4a90d8" stroke-width="1.9"/>
<polygon points="457.9,730.9 450.1,724.8 457.2,721.1" fill="#4a90d8"/>
<line x1="332.7" y1="739.9" x2="342.5" y2="758.0" stroke="#4a90d8" stroke-width="1.9"/>
<polygon points="345.9,764.1 338.1,758.1 345.1,754.3" fill="#4a90d8"/>
<line x1="474.5" y1="736.5" x2="483.6" y2="753.8" stroke="#4a90d8" stroke-width="1.9"/>
<polygon points="486.9,760.0 479.2,753.9 486.2,750.1" fill="#4a90d8"/>
<line x1="287.8" y1="739.2" x2="297.3" y2="756.6" stroke="#4a90d8" stroke-width="1.9"/>
<polygon points="300.7,762.7 292.8,756.7 299.9,752.9" fill="#4a90d8"/>
<line x1="280.9" y1="753.7" x2="289.5" y2="771.0" stroke="#4a90d8" stroke-width="1.9"/>
<polygon points="292.7,777.2 285.0,771.0 292.2,767.4" fill="#4a90d8"/>
<line x1="330.0" y1="765.5" x2="339.8" y2="783.5" stroke="#4a90d8" stroke-width="1.9"/>
<polygon points="343.1,789.7 335.3,783.7 342.3,779.9" fill="#4a90d8"/>
<line x1="417.1" y1="772.4" x2="426.3" y2="790.4" stroke="#4a90d8" stroke-width="1.9"/>
<polygon points="429.5,796.6 421.9,790.4 429.0,786.8" fill="#4a90d8"/>
<line x1="458.6" y1="780.0" x2="468.3" y2="797.4" stroke="#4a90d8" stroke-width="1.9"/>
<polygon points="471.7,803.5 463.8,797.6 470.8,793.7" fill="#4a90d8"/>
<line x1="286.4" y1="791.1" x2="296.1" y2="808.5" stroke="#4a90d8" stroke-width="1.9"/>
<polygon points="299.6,814.6 291.7,808.7 298.7,804.8" fill="#4a90d8"/>
<line x1="280.9" y1="799.4" x2="289.6" y2="817.3" stroke="#4a90d8" stroke-width="1.9"/>
<polygon points="292.7,823.6 285.1,817.2 292.3,813.7" fill="#4a90d8"/>
<line x1="316.2" y1="810.4" x2="325.5" y2="827.8" stroke="#4a90d8" stroke-width="1.9"/>
<polygon points="328.9,833.9 321.1,827.9 328.1,824.1" fill="#4a90d8"/>
<line x1="391.5" y1="813.2" x2="400.7" y2="831.2" stroke="#4a90d8" stroke-width="1.9"/>
<polygon points="403.9,837.4 396.3,831.2 403.4,827.5" fill="#4a90d8"/>
<line x1="346.6" y1="834.6" x2="354.8" y2="853.1" stroke="#4a90d8" stroke-width="1.9"/>
<polygon points="357.6,859.5 350.3,852.9 357.6,849.7" fill="#4a90d8"/>
<text x="452.5" y="862.5" font-size="17.62" fill="#1a1a1a" stroke="#1a1a1a" stroke-width="0.45"><tspan>2mm</tspan></text>
<line x1="455.6" y1="870.4" x2="488.5" y2="870.4" stroke="#1a1a1a" stroke-width="2.8"/>
<clipPath id="cp3"><rect x="22.8" y="890.0" width="239.2" height="235.0"/></clipPath><g clip-path="url(#cp3)">
<rect x="22.8" y="890.0" width="239.2" height="235.0" fill="#fdfaf0"/>
<path d="M175.2,983.8C185.8,975.6 216.4,981.4 224.6,990.8C232.9,1000.3 228.2,1026.1 224.6,1040.2C221.1,1054.3 211.7,1069.6 203.5,1075.5C195.2,1081.4 182.3,1081.4 175.2,1075.5C168.2,1069.6 161.1,1055.5 161.1,1040.2C161.1,1024.9 164.7,992.0 175.2,983.8Z" fill="#f7ecde" filter="url(#b4)"/>
<path d="M39.8,958.4C40.2,950.9 41.6,938.4 45.4,931.6C49.2,924.7 54.8,921.2 62.3,917.5C69.9,913.7 81.2,911.1 90.6,909.0C100.0,906.9 110.6,904.8 118.8,904.8C127.0,904.8 138.5,905.7 140.0,909.0C141.4,912.3 131.0,919.6 127.3,924.5C123.5,929.5 119.7,933.5 117.4,938.6C115.0,943.8 114.3,948.0 113.1,955.6C112.0,963.1 111.7,977.7 110.3,983.8C108.9,989.9 108.0,990.4 104.7,992.3C101.4,994.1 95.7,995.5 90.6,995.1C85.4,994.6 79.5,990.8 73.6,989.4C67.7,988.0 60.5,988.7 55.3,986.6C50.1,984.5 45.2,981.4 42.6,976.7C40.0,972.0 39.3,965.9 39.8,958.4Z" fill="#e6dcee" filter="url(#b0_8)"/>
<path d="M39.8,958.4C40.2,950.9 41.6,938.4 45.4,931.6C49.2,924.7 54.8,921.2 62.3,917.5C69.9,913.7 81.2,911.1 90.6,909.0C100.0,906.9 110.6,904.8 118.8,904.8C127.0,904.8 138.5,905.7 140.0,909.0C141.4,912.3 131.0,919.6 127.3,924.5C123.5,929.5 119.7,933.5 117.4,938.6C115.0,943.8 114.3,948.0 113.1,955.6C112.0,963.1 111.7,977.7 110.3,983.8C108.9,989.9 108.0,990.4 104.7,992.3C101.4,994.1 95.7,995.5 90.6,995.1C85.4,994.6 79.5,990.8 73.6,989.4C67.7,988.0 60.5,988.7 55.3,986.6C50.1,984.5 45.2,981.4 42.6,976.7C40.0,972.0 39.3,965.9 39.8,958.4Z" fill="url(#alv)" stroke="#c4b4dc" stroke-width="1"/>
<path d="M29.9,1016.2C29.2,1013.9 31.3,992.5 32.7,983.8C34.1,975.1 37.2,965.2 38.3,964.0C39.5,962.9 40.0,971.1 39.8,976.7C39.5,982.4 38.6,991.3 36.9,997.9C35.3,1004.5 30.6,1018.6 29.9,1016.2Z" fill="#e6dcee" filter="url(#b0_8)"/>
<path d="M29.9,1016.2C29.2,1013.9 31.3,992.5 32.7,983.8C34.1,975.1 37.2,965.2 38.3,964.0C39.5,962.9 40.0,971.1 39.8,976.7C39.5,982.4 38.6,991.3 36.9,997.9C35.3,1004.5 30.6,1018.6 29.9,1016.2Z" fill="url(#alv)" stroke="#c4b4dc" stroke-width="1"/>
<path d="M36.9,1019.1C39.1,1013.2 44.0,1008.7 48.2,1005.0C52.5,1001.2 55.3,997.7 62.3,996.5C69.4,995.3 83.5,996.5 90.6,997.9C97.6,999.3 101.4,1000.3 104.7,1005.0C108.0,1009.7 109.4,1017.9 110.3,1026.1C111.3,1034.4 110.8,1047.3 110.3,1054.3C109.8,1061.4 112.0,1062.6 107.5,1068.5C103.0,1074.3 89.9,1084.5 83.5,1089.6C77.2,1094.8 74.1,1099.5 69.4,1099.5C64.7,1099.5 60.0,1096.0 55.3,1089.6C50.6,1083.3 44.5,1069.6 41.2,1061.4C37.9,1053.2 36.2,1047.3 35.5,1040.2C34.8,1033.2 34.8,1024.9 36.9,1019.1Z" fill="#e6dcee" filter="url(#b0_8)"/>
<path d="M36.9,1019.1C39.1,1013.2 44.0,1008.7 48.2,1005.0C52.5,1001.2 55.3,997.7 62.3,996.5C69.4,995.3 83.5,996.5 90.6,997.9C97.6,999.3 101.4,1000.3 104.7,1005.0C108.0,1009.7 109.4,1017.9 110.3,1026.1C111.3,1034.4 110.8,1047.3 110.3,1054.3C109.8,1061.4 112.0,1062.6 107.5,1068.5C103.0,1074.3 89.9,1084.5 83.5,1089.6C77.2,1094.8 74.1,1099.5 69.4,1099.5C64.7,1099.5 60.0,1096.0 55.3,1089.6C50.6,1083.3 44.5,1069.6 41.2,1061.4C37.9,1053.2 36.2,1047.3 35.5,1040.2C34.8,1033.2 34.8,1024.9 36.9,1019.1Z" fill="url(#alv)" stroke="#c4b4dc" stroke-width="1"/>
<path d="M113.1,988.0C114.3,982.6 120.2,976.5 125.8,972.5C131.5,968.5 140.0,967.3 147.0,964.0C154.1,960.7 162.3,955.1 168.2,952.7C174.1,950.4 177.6,948.5 182.3,949.9C187.0,951.3 192.9,957.9 196.4,961.2C199.9,964.5 202.3,964.0 203.5,969.7C204.6,975.3 204.6,989.7 203.5,995.1C202.3,1000.5 199.7,999.8 196.4,1002.1C193.1,1004.5 187.2,1005.2 183.7,1009.2C180.2,1013.2 179.0,1022.1 175.2,1026.1C171.5,1030.1 165.8,1031.3 161.1,1033.2C156.4,1035.1 152.4,1037.9 147.0,1037.4C141.6,1036.9 132.9,1034.1 128.7,1030.4C124.4,1026.6 123.3,1019.1 121.6,1014.8C120.0,1010.6 120.2,1009.4 118.8,1005.0C117.4,1000.5 112.0,993.4 113.1,988.0Z" fill="#e6dcee" filter="url(#b0_8)"/>
<path d="M113.1,988.0C114.3,982.6 120.2,976.5 125.8,972.5C131.5,968.5 140.0,967.3 147.0,964.0C154.1,960.7 162.3,955.1 168.2,952.7C174.1,950.4 177.6,948.5 182.3,949.9C187.0,951.3 192.9,957.9 196.4,961.2C199.9,964.5 202.3,964.0 203.5,969.7C204.6,975.3 204.6,989.7 203.5,995.1C202.3,1000.5 199.7,999.8 196.4,1002.1C193.1,1004.5 187.2,1005.2 183.7,1009.2C180.2,1013.2 179.0,1022.1 175.2,1026.1C171.5,1030.1 165.8,1031.3 161.1,1033.2C156.4,1035.1 152.4,1037.9 147.0,1037.4C141.6,1036.9 132.9,1034.1 128.7,1030.4C124.4,1026.6 123.3,1019.1 121.6,1014.8C120.0,1010.6 120.2,1009.4 118.8,1005.0C117.4,1000.5 112.0,993.4 113.1,988.0Z" fill="url(#alv)" stroke="#c4b4dc" stroke-width="1"/>
<path d="M111.7,1054.3C113.6,1049.2 114.1,1046.4 118.8,1044.5C123.5,1042.6 132.9,1041.4 140.0,1043.1C147.0,1044.7 156.4,1050.1 161.1,1054.3C165.8,1058.6 165.8,1061.4 168.2,1068.5C170.5,1075.5 173.6,1088.5 175.2,1096.7C176.9,1104.9 180.4,1115.5 178.1,1117.9C175.7,1120.2 167.5,1113.1 161.1,1110.8C154.8,1108.4 147.0,1107.3 140.0,1103.7C132.9,1100.2 124.2,1094.3 118.8,1089.6C113.4,1084.9 108.7,1081.4 107.5,1075.5C106.3,1069.6 109.8,1059.5 111.7,1054.3Z" fill="#e6dcee" filter="url(#b0_8)"/>
<path d="M111.7,1054.3C113.6,1049.2 114.1,1046.4 118.8,1044.5C123.5,1042.6 132.9,1041.4 140.0,1043.1C147.0,1044.7 156.4,1050.1 161.1,1054.3C165.8,1058.6 165.8,1061.4 168.2,1068.5C170.5,1075.5 173.6,1088.5 175.2,1096.7C176.9,1104.9 180.4,1115.5 178.1,1117.9C175.7,1120.2 167.5,1113.1 161.1,1110.8C154.8,1108.4 147.0,1107.3 140.0,1103.7C132.9,1100.2 124.2,1094.3 118.8,1089.6C113.4,1084.9 108.7,1081.4 107.5,1075.5C106.3,1069.6 109.8,1059.5 111.7,1054.3Z" fill="url(#alv)" stroke="#c4b4dc" stroke-width="1"/>
<path d="M206.3,931.6C207.5,926.9 213.3,935.1 217.6,941.4C221.8,947.8 227.0,960.3 231.7,969.7C236.4,979.1 241.8,989.7 245.8,997.9C249.8,1006.1 255.2,1015.3 255.7,1019.1C256.1,1022.8 252.6,1022.1 248.6,1020.5C244.6,1018.8 236.9,1014.1 231.7,1009.2C226.5,1004.2 221.1,997.4 217.6,990.8C214.0,984.3 212.4,979.6 210.5,969.7C208.6,959.8 205.1,936.3 206.3,931.6Z" fill="#e6dcee" filter="url(#b0_8)"/>
<path d="M206.3,931.6C207.5,926.9 213.3,935.1 217.6,941.4C221.8,947.8 227.0,960.3 231.7,969.7C236.4,979.1 241.8,989.7 245.8,997.9C249.8,1006.1 255.2,1015.3 255.7,1019.1C256.1,1022.8 252.6,1022.1 248.6,1020.5C244.6,1018.8 236.9,1014.1 231.7,1009.2C226.5,1004.2 221.1,997.4 217.6,990.8C214.0,984.3 212.4,979.6 210.5,969.7C208.6,959.8 205.1,936.3 206.3,931.6Z" fill="url(#alv)" stroke="#c4b4dc" stroke-width="1"/>
<path d="M175.2,927.3C175.9,923.1 178.8,922.4 182.3,923.1C185.8,923.8 193.1,926.2 196.4,931.6C199.7,937.0 201.3,949.2 202.0,955.6C202.8,961.9 202.8,968.3 200.6,969.7C198.5,971.1 193.1,967.6 189.3,964.0C185.6,960.5 180.4,954.6 178.1,948.5C175.7,942.4 174.5,931.6 175.2,927.3Z" fill="#e6dcee" filter="url(#b0_8)"/>
<path d="M175.2,927.3C175.9,923.1 178.8,922.4 182.3,923.1C185.8,923.8 193.1,926.2 196.4,931.6C199.7,937.0 201.3,949.2 202.0,955.6C202.8,961.9 202.8,968.3 200.6,969.7C198.5,971.1 193.1,967.6 189.3,964.0C185.6,960.5 180.4,954.6 178.1,948.5C175.7,942.4 174.5,931.6 175.2,927.3Z" fill="url(#alv)" stroke="#c4b4dc" stroke-width="1"/>
<path d="M121.6,945.7C123.5,940.3 128.7,934.6 132.9,931.6C137.1,928.5 143.5,925.2 147.0,927.3C150.5,929.5 154.1,938.2 154.1,944.3C154.1,950.4 151.0,959.8 147.0,964.0C143.0,968.3 134.3,969.7 130.1,969.7C125.8,969.7 123.0,968.0 121.6,964.0C120.2,960.0 119.7,951.1 121.6,945.7Z" fill="#e6dcee" filter="url(#b0_8)"/>
<path d="M121.6,945.7C123.5,940.3 128.7,934.6 132.9,931.6C137.1,928.5 143.5,925.2 147.0,927.3C150.5,929.5 154.1,938.2 154.1,944.3C154.1,950.4 151.0,959.8 147.0,964.0C143.0,968.3 134.3,969.7 130.1,969.7C125.8,969.7 123.0,968.0 121.6,964.0C120.2,960.0 119.7,951.1 121.6,945.7Z" fill="url(#alv)" stroke="#c4b4dc" stroke-width="1"/>
<path d="M154.1,893.5C157.4,890.9 169.4,889.9 175.2,892.1C181.1,894.2 187.5,901.5 189.3,906.2C191.2,910.9 190.1,918.2 186.5,920.3C183.0,922.4 173.4,921.0 168.2,918.9C163.0,916.8 157.8,911.8 155.5,907.6C153.1,903.3 150.8,896.1 154.1,893.5Z" fill="#e6dcee" filter="url(#b0_8)"/>
<path d="M154.1,893.5C157.4,890.9 169.4,889.9 175.2,892.1C181.1,894.2 187.5,901.5 189.3,906.2C191.2,910.9 190.1,918.2 186.5,920.3C183.0,922.4 173.4,921.0 168.2,918.9C163.0,916.8 157.8,911.8 155.5,907.6C153.1,903.3 150.8,896.1 154.1,893.5Z" fill="url(#alv)" stroke="#c4b4dc" stroke-width="1"/>
<ellipse cx="169.6" cy="1041.6" rx="12.7" ry="12.7" fill="#e4c4dc" filter="url(#b2)"/>
<ellipse cx="169.6" cy="1040.2" rx="5.6" ry="5.6" fill="#f4e8f0" filter="url(#b1_5)"/>
<ellipse cx="118.8" cy="912.5" rx="12.0" ry="7.1" fill="#8a7ad4" transform="rotate(-15 118.8 912.5)" filter="url(#b2_5)"/>
<ellipse cx="194.3" cy="988.0" rx="7.8" ry="15.5" fill="#8a7ad4" transform="rotate(15 194.3 988.0)" filter="url(#b2_5)"/>
<ellipse cx="228.9" cy="999.3" rx="8.5" ry="13.4" fill="#8a7ad4" transform="rotate(-25 228.9 999.3)" filter="url(#b2_5)"/>
<ellipse cx="140.0" cy="946.4" rx="4.2" ry="3.5" fill="#8a7ad4" filter="url(#b2_5)"/>
<ellipse cx="143.5" cy="1026.1" rx="2.8" ry="2.3" fill="#8a7ad4" filter="url(#b2_5)"/>
<ellipse cx="169.6" cy="901.9" rx="4.9" ry="4.2" fill="#8a7ad4" filter="url(#b2_5)"/>
<ellipse cx="176.6" cy="913.2" rx="4.9" ry="2.1" fill="#8a7ad4" filter="url(#b2_5)"/>
<ellipse cx="151.2" cy="918.9" rx="2.1" ry="1.7" fill="#8a7ad4" filter="url(#b2_5)"/>
</g>
<line x1="142.1" y1="894.9" x2="129.8" y2="902.7" stroke="#ec7a26" stroke-width="1.6"/>
<polygon points="120.9,908.3 128.4,896.7 134.5,906.5" fill="#ec7a26"/>
<line x1="163.9" y1="930.9" x2="152.3" y2="938.5" stroke="#ec7a26" stroke-width="1.6"/>
<polygon points="143.5,944.3 150.8,932.6 157.1,942.2" fill="#ec7a26"/>
<line x1="218.3" y1="959.8" x2="206.0" y2="967.6" stroke="#ec7a26" stroke-width="1.6"/>
<polygon points="197.1,973.2 204.6,961.7 210.7,971.4" fill="#ec7a26"/>
<line x1="252.9" y1="978.8" x2="241.2" y2="986.5" stroke="#ec7a26" stroke-width="1.6"/>
<polygon points="232.4,992.3 239.7,980.6 246.0,990.2" fill="#ec7a26"/>
<line x1="165.4" y1="1008.5" x2="153.1" y2="1016.3" stroke="#ec7a26" stroke-width="1.6"/>
<polygon points="144.2,1021.9 151.7,1010.3 157.8,1020.1" fill="#ec7a26"/>
<text x="190.5" y="1120.0" font-size="19.09" fill="#1a1a1a" stroke="#1a1a1a" stroke-width="0.45"><tspan>2mm</tspan></text>
<line x1="196.4" y1="1127.7" x2="233.8" y2="1127.7" stroke="#1a1a1a" stroke-width="2.8"/>
<clipPath id="cp4"><rect x="271.2" y="891.2" width="228.8" height="234.4"/></clipPath><g clip-path="url(#cp4)">
<rect x="271.2" y="891.2" width="228.8" height="234.4" fill="#fdfaf0"/>
<path d="M361.8,909.9C365.7,905.3 376.1,900.9 385.3,898.8C394.5,896.8 407.2,896.1 417.1,897.4C427.0,898.8 435.5,902.7 444.7,907.1C453.9,911.5 464.3,918.6 472.4,923.7C480.4,928.8 487.1,933.6 493.1,937.5C499.1,941.5 505.8,941.0 508.3,947.2C510.9,953.4 512.0,970.0 508.3,974.9C504.6,979.7 496.8,976.5 486.2,976.2C475.6,976.0 456.3,974.4 444.7,973.5C433.2,972.6 424.0,971.6 417.1,970.7C410.2,969.8 409.0,970.7 403.3,968.0C397.5,965.2 388.0,958.0 382.5,954.1C377.0,950.2 373.5,949.1 370.1,944.4C366.6,939.8 363.2,932.2 361.8,926.5C360.4,920.7 357.9,914.5 361.8,909.9Z" fill="#e2d6ec" filter="url(#b0_8)"/>
<path d="M361.8,909.9C365.7,905.3 376.1,900.9 385.3,898.8C394.5,896.8 407.2,896.1 417.1,897.4C427.0,898.8 435.5,902.7 444.7,907.1C453.9,911.5 464.3,918.6 472.4,923.7C480.4,928.8 487.1,933.6 493.1,937.5C499.1,941.5 505.8,941.0 508.3,947.2C510.9,953.4 512.0,970.0 508.3,974.9C504.6,979.7 496.8,976.5 486.2,976.2C475.6,976.0 456.3,974.4 444.7,973.5C433.2,972.6 424.0,971.6 417.1,970.7C410.2,969.8 409.0,970.7 403.3,968.0C397.5,965.2 388.0,958.0 382.5,954.1C377.0,950.2 373.5,949.1 370.1,944.4C366.6,939.8 363.2,932.2 361.8,926.5C360.4,920.7 357.9,914.5 361.8,909.9Z" fill="url(#alv)" stroke="#c4b4dc" stroke-width="1"/>
<path d="M407.4,979.0C409.7,977.4 416.6,979.9 430.9,980.4C445.2,980.9 481.6,979.2 493.1,981.8C504.6,984.3 497.5,991.0 500.0,995.6C502.6,1000.2 506.9,997.9 508.3,1009.4C509.7,1021.0 510.9,1055.1 508.3,1064.7C505.8,1074.4 499.1,1068.4 493.1,1067.5C487.1,1066.6 477.5,1063.1 472.4,1059.2C467.3,1055.3 467.3,1050.4 462.7,1044.0C458.1,1037.5 450.0,1026.7 444.7,1020.5C439.4,1014.3 435.5,1011.7 430.9,1006.7C426.3,1001.6 421.0,994.7 417.1,990.1C413.2,985.5 405.1,980.6 407.4,979.0Z" fill="#e2d6ec" filter="url(#b0_8)"/>
<path d="M407.4,979.0C409.7,977.4 416.6,979.9 430.9,980.4C445.2,980.9 481.6,979.2 493.1,981.8C504.6,984.3 497.5,991.0 500.0,995.6C502.6,1000.2 506.9,997.9 508.3,1009.4C509.7,1021.0 510.9,1055.1 508.3,1064.7C505.8,1074.4 499.1,1068.4 493.1,1067.5C487.1,1066.6 477.5,1063.1 472.4,1059.2C467.3,1055.3 467.3,1050.4 462.7,1044.0C458.1,1037.5 450.0,1026.7 444.7,1020.5C439.4,1014.3 435.5,1011.7 430.9,1006.7C426.3,1001.6 421.0,994.7 417.1,990.1C413.2,985.5 405.1,980.6 407.4,979.0Z" fill="url(#alv)" stroke="#c4b4dc" stroke-width="1"/>
<path d="M289.9,954.1C292.2,948.4 298.6,943.5 303.7,940.3C308.8,937.1 315.2,934.3 320.3,934.8C325.4,935.2 329.5,940.3 334.1,943.1C338.7,945.8 343.3,947.2 348.0,951.4C352.6,955.5 357.2,961.7 361.8,968.0C366.4,974.2 371.0,981.8 375.6,988.7C380.2,995.6 384.8,1002.5 389.4,1009.4C394.0,1016.3 398.6,1023.3 403.3,1030.2C407.9,1037.1 412.5,1044.5 417.1,1050.9C421.7,1057.4 426.3,1063.8 430.9,1068.9C435.5,1073.9 442.4,1075.1 444.7,1081.3C447.0,1087.5 447.0,1099.8 444.7,1106.2C442.4,1112.7 437.8,1117.3 430.9,1120.0C424.0,1122.8 411.3,1124.0 403.3,1122.8C395.2,1121.6 387.1,1117.0 382.5,1113.1C377.9,1109.2 379.1,1100.0 375.6,1099.3C372.1,1098.6 368.7,1107.4 361.8,1109.0C354.9,1110.6 340.6,1111.7 334.1,1109.0C327.7,1106.2 324.9,1097.9 323.1,1092.4C321.2,1086.9 325.1,1078.6 323.1,1075.8C321.0,1073.0 313.9,1077.6 310.6,1075.8C307.4,1073.9 305.6,1068.9 303.7,1064.7C301.9,1060.6 303.7,1054.4 299.6,1050.9C295.4,1047.4 282.7,1048.6 278.8,1044.0C274.9,1039.4 275.6,1029.5 276.1,1023.3C276.5,1017.0 277.7,1009.4 281.6,1006.7C285.5,1003.9 296.1,1010.8 299.6,1006.7C303.0,1002.5 303.9,987.1 302.3,981.8C300.7,976.5 292.0,979.5 289.9,974.9C287.8,970.3 287.6,959.9 289.9,954.1Z" fill="#e2d6ec" filter="url(#b0_8)"/>
<path d="M289.9,954.1C292.2,948.4 298.6,943.5 303.7,940.3C308.8,937.1 315.2,934.3 320.3,934.8C325.4,935.2 329.5,940.3 334.1,943.1C338.7,945.8 343.3,947.2 348.0,951.4C352.6,955.5 357.2,961.7 361.8,968.0C366.4,974.2 371.0,981.8 375.6,988.7C380.2,995.6 384.8,1002.5 389.4,1009.4C394.0,1016.3 398.6,1023.3 403.3,1030.2C407.9,1037.1 412.5,1044.5 417.1,1050.9C421.7,1057.4 426.3,1063.8 430.9,1068.9C435.5,1073.9 442.4,1075.1 444.7,1081.3C447.0,1087.5 447.0,1099.8 444.7,1106.2C442.4,1112.7 437.8,1117.3 430.9,1120.0C424.0,1122.8 411.3,1124.0 403.3,1122.8C395.2,1121.6 387.1,1117.0 382.5,1113.1C377.9,1109.2 379.1,1100.0 375.6,1099.3C372.1,1098.6 368.7,1107.4 361.8,1109.0C354.9,1110.6 340.6,1111.7 334.1,1109.0C327.7,1106.2 324.9,1097.9 323.1,1092.4C321.2,1086.9 325.1,1078.6 323.1,1075.8C321.0,1073.0 313.9,1077.6 310.6,1075.8C307.4,1073.9 305.6,1068.9 303.7,1064.7C301.9,1060.6 303.7,1054.4 299.6,1050.9C295.4,1047.4 282.7,1048.6 278.8,1044.0C274.9,1039.4 275.6,1029.5 276.1,1023.3C276.5,1017.0 277.7,1009.4 281.6,1006.7C285.5,1003.9 296.1,1010.8 299.6,1006.7C303.0,1002.5 303.9,987.1 302.3,981.8C300.7,976.5 292.0,979.5 289.9,974.9C287.8,970.3 287.6,959.9 289.9,954.1Z" fill="url(#alv)" stroke="#c4b4dc" stroke-width="1"/>
<ellipse cx="389.4" cy="994.2" rx="13.1" ry="22.8" fill="#d8a2d8" transform="rotate(-20 389.4 994.2)" filter="url(#b2)"/>
<ellipse cx="390.1" cy="994.2" rx="4.8" ry="12.4" fill="#f0dcf0" transform="rotate(-20 390.1 994.2)" filter="url(#b2)"/>
<ellipse cx="371.5" cy="914.7" rx="10.4" ry="11.8" fill="#9060c4" filter="url(#b3)"/>
<ellipse cx="397.7" cy="924.4" rx="18.0" ry="18.7" fill="#9060c4" filter="url(#b3)"/>
<ellipse cx="399.8" cy="899.5" rx="13.8" ry="4.1" fill="#9060c4" filter="url(#b3)"/>
<ellipse cx="300.3" cy="966.6" rx="10.4" ry="15.2" fill="#9060c4" filter="url(#b3)"/>
<ellipse cx="289.2" cy="1026.0" rx="13.1" ry="23.5" fill="#9060c4" filter="url(#b3)"/>
<ellipse cx="353.5" cy="1091.0" rx="27.7" ry="22.8" fill="#9060c4" filter="url(#b3)"/>
<ellipse cx="415.7" cy="1099.3" rx="29.7" ry="20.7" fill="#9060c4" filter="url(#b3)"/>
<ellipse cx="350.0" cy="1056.4" rx="7.6" ry="6.9" fill="#9060c4" filter="url(#b3)"/>
<ellipse cx="360.4" cy="1032.9" rx="5.5" ry="4.8" fill="#9060c4" filter="url(#b3)"/>
<ellipse cx="332.7" cy="1068.9" rx="12.4" ry="6.2" fill="#9060c4" filter="url(#b3)"/>
<ellipse cx="321.7" cy="936.8" rx="4.1" ry="3.5" fill="#9060c4" filter="url(#b3)"/>
<ellipse cx="316.2" cy="983.9" rx="4.1" ry="3.5" fill="#9060c4" filter="url(#b3)"/>
<ellipse cx="476.5" cy="1055.1" rx="9.7" ry="11.1" fill="#a888d4" filter="url(#b3)"/>
<ellipse cx="493.1" cy="950.0" rx="7.6" ry="9.0" fill="#a888d4" filter="url(#b3)"/>
<path d="M334.1,926.5 L342.4,927.9 L345.2,943.1 L348.0,962.4" fill="none" stroke="#b070c8" stroke-width="1.5"/>
<path d="M361.8,932.0 L354.9,943.1 L350.7,962.4" fill="none" stroke="#b070c8" stroke-width="1.5"/>
<path d="M372.8,943.1 L382.5,951.4 L403.3,962.4 L424.0,962.4 L444.7,951.4" fill="none" stroke="#b070c8" stroke-width="1.5"/>
</g>
<line x1="426.8" y1="885.0" x2="418.0" y2="891.3" stroke="#ec7a26" stroke-width="1.6"/>
<polygon points="409.5,897.4 416.3,885.5 423.0,894.8" fill="#ec7a26"/>
<line x1="338.3" y1="933.4" x2="326.6" y2="942.3" stroke="#ec7a26" stroke-width="1.6"/>
<polygon points="318.2,948.6 324.7,936.5 331.7,945.6" fill="#ec7a26"/>
<line x1="343.8" y1="965.2" x2="331.2" y2="973.3" stroke="#ec7a26" stroke-width="1.6"/>
<polygon points="322.4,979.0 329.8,967.4 336.0,977.1" fill="#ec7a26"/>
<line x1="331.4" y1="1001.1" x2="314.3" y2="1010.6" stroke="#ec7a26" stroke-width="1.6"/>
<polygon points="305.1,1015.7 313.3,1004.6 318.8,1014.6" fill="#ec7a26"/>
<line x1="401.9" y1="985.9" x2="390.0" y2="993.4" stroke="#ec7a26" stroke-width="1.6"/>
<polygon points="381.1,999.1 388.6,987.5 394.8,997.2" fill="#ec7a26"/>
<line x1="501.4" y1="937.5" x2="490.6" y2="945.3" stroke="#ec7a26" stroke-width="1.6"/>
<polygon points="482.1,951.4 488.9,939.4 495.6,948.8" fill="#ec7a26"/>
<line x1="389.4" y1="1015.0" x2="378.0" y2="1022.8" stroke="#ec7a26" stroke-width="1.6"/>
<polygon points="369.4,1028.8 376.4,1017.0 382.9,1026.4" fill="#ec7a26"/>
<line x1="348.0" y1="1044.0" x2="336.5" y2="1051.9" stroke="#ec7a26" stroke-width="1.6"/>
<polygon points="327.9,1057.8 334.9,1046.0 341.5,1055.5" fill="#ec7a26"/>
<line x1="382.5" y1="1039.8" x2="371.1" y2="1047.7" stroke="#ec7a26" stroke-width="1.6"/>
<polygon points="362.5,1053.7 369.5,1041.8 376.0,1051.3" fill="#ec7a26"/>
<line x1="385.3" y1="1056.4" x2="373.9" y2="1064.3" stroke="#ec7a26" stroke-width="1.6"/>
<polygon points="365.2,1070.3 372.3,1058.4 378.8,1067.9" fill="#ec7a26"/>
<line x1="500.0" y1="1037.1" x2="487.3" y2="1045.7" stroke="#ec7a26" stroke-width="1.6"/>
<polygon points="478.6,1051.6 485.7,1039.8 492.2,1049.3" fill="#ec7a26"/>
<line x1="451.6" y1="1064.0" x2="440.2" y2="1071.9" stroke="#ec7a26" stroke-width="1.6"/>
<polygon points="431.6,1077.9 438.6,1066.0 445.2,1075.5" fill="#ec7a26"/>
<text x="452.8" y="1115.2" font-size="18.04" fill="#1a1a1a" stroke="#1a1a1a" stroke-width="0.45"><tspan>2mm</tspan></text>
<line x1="457.2" y1="1122.8" x2="495.2" y2="1122.8" stroke="#1a1a1a" stroke-width="2.8"/>
<clipPath id="cp5"><rect x="988.0" y="636.0" width="240.0" height="246.0"/></clipPath><g clip-path="url(#cp5)">
<rect x="988.0" y="636.0" width="240.0" height="246.0" fill="#ffffff"/>
<path d="M994.9,721.5C997.5,712.1 1002.4,703.5 1007.8,697.3C1013.1,691.1 1019.9,688.4 1027.1,684.4C1034.4,680.4 1043.2,676.9 1051.3,673.1C1059.4,669.3 1067.4,664.5 1075.5,661.8C1083.6,659.1 1091.4,658.6 1099.7,657.0C1108.0,655.4 1117.4,652.4 1125.5,652.1C1133.6,651.9 1140.3,651.9 1148.1,655.4C1155.9,658.9 1165.5,666.1 1172.3,673.1C1179.0,680.1 1183.6,689.2 1188.4,697.3C1193.2,705.4 1197.3,712.1 1201.3,721.5C1205.3,730.9 1209.9,743.0 1212.6,753.7C1215.3,764.5 1217.2,775.2 1217.4,786.0C1217.7,796.8 1216.4,808.9 1214.2,818.3C1212.1,827.7 1208.8,835.7 1204.5,842.5C1200.2,849.2 1193.8,853.5 1188.4,858.6C1183.0,863.7 1177.6,871.8 1172.3,873.1C1166.9,874.4 1161.5,870.4 1156.1,866.6C1150.8,862.9 1145.4,854.6 1140.0,850.5C1134.6,846.5 1129.3,843.8 1123.9,842.5C1118.5,841.1 1114.5,841.6 1107.8,842.5C1101.0,843.3 1090.3,843.8 1083.6,847.3C1076.8,850.8 1073.3,859.7 1067.4,863.4C1061.5,867.2 1054.0,869.9 1048.1,869.9C1042.2,869.9 1037.3,868.0 1031.9,863.4C1026.6,858.9 1020.7,850.0 1015.8,842.5C1011.0,834.9 1006.4,827.7 1002.9,818.3C999.4,808.9 996.7,796.8 994.9,786.0C993.0,775.2 991.6,764.5 991.6,753.7C991.6,743.0 992.2,730.9 994.9,721.5Z" fill="#fadce6" filter="url(#b12)"/>
<path d="M1006.6,725.8C1009.0,717.4 1013.3,709.7 1018.1,704.2C1022.9,698.7 1028.9,696.3 1035.4,692.7C1041.9,689.1 1049.8,686.0 1057.0,682.6C1064.2,679.2 1071.4,674.9 1078.6,672.5C1085.8,670.1 1092.8,669.6 1100.2,668.2C1107.6,666.8 1116.0,664.1 1123.2,663.9C1130.4,663.6 1136.4,663.6 1143.4,666.8C1150.4,669.9 1159.0,676.4 1165.0,682.6C1171.0,688.8 1175.1,697.0 1179.4,704.2C1183.7,711.4 1187.3,717.4 1190.9,725.8C1194.5,734.2 1198.6,745.0 1201.0,754.6C1203.4,764.2 1205.1,773.8 1205.3,783.4C1205.6,793.0 1204.4,803.8 1202.5,812.2C1200.5,820.6 1197.7,827.8 1193.8,833.8C1190.0,839.8 1184.2,843.7 1179.4,848.2C1174.6,852.8 1169.8,860.0 1165.0,861.2C1160.2,862.4 1155.4,858.8 1150.6,855.4C1145.8,852.1 1141.0,844.6 1136.2,841.0C1131.4,837.4 1126.6,835.0 1121.8,833.8C1117.0,832.6 1113.4,833.1 1107.4,833.8C1101.4,834.5 1091.8,835.0 1085.8,838.1C1079.8,841.3 1076.7,849.2 1071.4,852.5C1066.1,855.9 1059.4,858.3 1054.1,858.3C1048.8,858.3 1044.5,856.6 1039.7,852.5C1034.9,848.5 1029.6,840.5 1025.3,833.8C1021.0,827.1 1016.9,820.6 1013.8,812.2C1010.7,803.8 1008.3,793.0 1006.6,783.4C1004.9,773.8 1003.7,764.2 1003.7,754.6C1003.7,745.0 1004.2,734.2 1006.6,725.8Z" fill="#f6d4d0" filter="url(#b3)"/>
<path d="M1006.6,718.6C1012.6,706.6 1032.8,699.4 1042.6,697.0C1052.4,694.6 1061.3,694.6 1065.6,704.2C1070.0,713.8 1069.5,739.0 1068.5,754.6C1067.6,770.2 1064.7,787.0 1059.9,797.8C1055.1,808.6 1046.9,817.0 1039.7,819.4C1032.5,821.8 1022.2,820.6 1016.7,812.2C1011.2,803.8 1008.3,784.6 1006.6,769.0C1004.9,753.4 1000.6,730.6 1006.6,718.6Z" fill="#fcece2" filter="url(#b6)"/>
<ellipse cx="1025.3" cy="754.6" rx="13.0" ry="21.6" fill="#fff8f0" filter="url(#b8)"/>
<ellipse cx="1045.5" cy="725.8" rx="8.6" ry="11.5" fill="#f6c8c8" filter="url(#b6)"/>
<path d="M1143.4,689.8C1148.2,682.6 1163.8,688.6 1172.2,697.0C1180.6,705.4 1189.0,725.8 1193.8,740.2C1198.6,754.6 1201.0,770.2 1201.0,783.4C1201.0,796.6 1198.6,813.4 1193.8,819.4C1189.0,825.4 1179.4,825.4 1172.2,819.4C1165.0,813.4 1155.4,796.6 1150.6,783.4C1145.8,770.2 1144.6,755.8 1143.4,740.2C1142.2,724.6 1138.6,697.0 1143.4,689.8Z" fill="#f8e0da" filter="url(#b7)"/>
<path d="M1028.2,790.6C1033.7,781.0 1055.1,779.8 1064.2,783.4C1073.3,787.0 1081.2,801.4 1082.9,812.2C1084.6,823.0 1079.8,840.5 1074.3,848.2C1068.8,855.9 1057.0,859.5 1049.8,858.3C1042.6,857.1 1034.7,852.3 1031.1,841.0C1027.5,829.7 1022.7,800.2 1028.2,790.6Z" fill="#f2a0aa" filter="url(#b7)"/>
<ellipse cx="1051.2" cy="816.5" rx="13.0" ry="17.3" fill="#fae0dc" filter="url(#b6)"/>
<path d="M1071.4,769.0C1080.5,761.8 1115.8,766.6 1129.0,769.0C1142.2,771.4 1145.8,776.2 1150.6,783.4C1155.4,790.6 1159.0,803.8 1157.8,812.2C1156.6,820.6 1150.6,830.2 1143.4,833.8C1136.2,837.4 1124.2,833.8 1114.6,833.8C1105.0,833.8 1092.5,837.4 1085.8,833.8C1079.1,830.2 1076.7,823.0 1074.3,812.2C1071.9,801.4 1062.3,776.2 1071.4,769.0Z" fill="#ea6476" opacity="0.85" filter="url(#b7)"/>
<path d="M1126.1,805.0C1132.6,800.2 1156.1,799.0 1165.0,805.0C1173.9,811.0 1179.4,831.7 1179.4,841.0C1179.4,850.4 1171.0,859.3 1165.0,861.2C1159.0,863.1 1149.9,857.1 1143.4,852.5C1136.9,848.0 1129.0,841.7 1126.1,833.8C1123.2,825.9 1119.6,809.8 1126.1,805.0Z" fill="#f4c4c8" filter="url(#b6)"/>
<path d="M1071.4,704.2C1076.7,698.9 1090.8,693.9 1097.3,694.1C1103.8,694.4 1105.0,700.4 1110.3,705.6C1115.6,710.9 1124.4,718.8 1129.0,725.8C1133.6,732.8 1136.4,740.2 1137.6,747.4C1138.8,754.6 1138.8,763.5 1136.2,769.0C1133.6,774.5 1127.8,778.1 1121.8,780.5C1115.8,782.9 1107.4,784.1 1100.2,783.4C1093.0,782.7 1083.9,781.0 1078.6,776.2C1073.3,771.4 1070.7,763.0 1068.5,754.6C1066.4,746.2 1065.2,734.2 1065.6,725.8C1066.1,717.4 1066.1,709.5 1071.4,704.2Z" fill="#d8202e" filter="url(#b5)"/>
<path d="M1085.8,740.2C1088.4,734.4 1102.1,732.0 1107.4,734.4C1112.7,736.8 1117.2,748.4 1117.5,754.6C1117.7,760.8 1113.2,769.5 1108.8,771.9C1104.5,774.3 1095.4,774.3 1091.6,769.0C1087.7,763.7 1083.2,746.0 1085.8,740.2Z" fill="#8a1420" filter="url(#b6)"/>
<ellipse cx="1094.4" cy="757.5" rx="5.8" ry="8.6" fill="#400810" filter="url(#b5)"/>
<path d="M1046.9,694.1C1049.1,690.8 1059.2,684.8 1065.6,681.2C1072.1,677.6 1081.7,673.0 1085.8,672.5C1089.9,672.0 1092.3,675.6 1090.1,678.3C1088.0,680.9 1079.1,684.5 1072.8,688.4C1066.6,692.2 1057.0,700.4 1052.7,701.3C1048.4,702.3 1044.8,697.5 1046.9,694.1Z" fill="#e83048" filter="url(#b3)"/>
<path d="M1028.2,705.6C1030.6,703.2 1042.1,697.5 1045.5,697.0C1048.8,696.5 1050.8,700.4 1048.4,702.8C1046.0,705.2 1034.4,710.9 1031.1,711.4C1027.7,711.9 1025.8,708.0 1028.2,705.6Z" fill="#ec5a6a" filter="url(#b3)"/>
<path d="M1107.4,679.7C1110.3,675.9 1125.2,676.4 1129.0,679.7C1132.8,683.1 1133.3,696.0 1130.4,699.9C1127.6,703.7 1115.6,706.1 1111.7,702.8C1107.9,699.4 1104.5,683.6 1107.4,679.7Z" fill="#fff6f0" filter="url(#b4)"/>
<path d="M1107.4,711.4C1110.5,707.6 1125.4,710.0 1129.0,714.3C1132.6,718.6 1132.1,733.5 1129.0,737.3C1125.9,741.2 1113.9,741.6 1110.3,737.3C1106.7,733.0 1104.3,715.2 1107.4,711.4Z" fill="#fdf0ea" filter="url(#b4)"/>
</g>
<line x1="1077.2" y1="671.8" x2="1059.6" y2="688.3" stroke="#4a90d8" stroke-width="1.9"/>
<polygon points="1054.1,693.4 1058.1,683.8 1064.0,690.0" fill="#4a90d8"/>
<line x1="1032.5" y1="707.1" x2="1015.5" y2="724.1" stroke="#4a90d8" stroke-width="1.9"/>
<polygon points="1010.2,729.4 1013.9,719.7 1019.9,725.7" fill="#4a90d8"/>
<line x1="1190.9" y1="684.0" x2="1173.9" y2="701.1" stroke="#4a90d8" stroke-width="1.9"/>
<polygon points="1168.6,706.4 1172.3,696.6 1178.3,702.7" fill="#4a90d8"/>
<line x1="1183.0" y1="818.7" x2="1166.1" y2="835.1" stroke="#4a90d8" stroke-width="1.9"/>
<polygon points="1160.7,840.3 1164.6,830.6 1170.5,836.7" fill="#4a90d8"/>
<text x="1174.0" y="864.0" font-size="15.19" fill="#1a1a1a" stroke="#1a1a1a" stroke-width="0.45"><tspan>2mm</tspan></text>
<line x1="1174.4" y1="869.8" x2="1206.0" y2="869.8" stroke="#1a1a1a" stroke-width="2.8"/>
<clipPath id="cp6"><rect x="1232.0" y="636.0" width="246.0" height="246.0"/></clipPath><g clip-path="url(#cp6)">
<rect x="1232.0" y="636.0" width="246.0" height="246.0" fill="#ffffff"/>
<path d="M1258.8,646.6C1261.9,642.5 1267.9,642.5 1273.2,643.7C1278.5,644.9 1283.8,653.3 1290.5,653.8C1297.2,654.3 1306.8,646.1 1313.5,646.6C1320.2,647.1 1325.5,653.1 1330.8,656.7C1336.1,660.3 1340.4,667.5 1345.2,668.2C1350.0,668.9 1354.8,664.1 1359.6,661.0C1364.4,657.9 1366.8,650.7 1374.0,649.5C1381.2,648.3 1394.4,653.6 1402.8,653.8C1411.2,654.0 1418.4,650.9 1424.4,650.9C1430.4,650.9 1434.0,649.7 1438.8,653.8C1443.6,657.9 1449.6,668.2 1453.2,675.4C1456.8,682.6 1459.7,689.8 1460.4,697.0C1461.1,704.2 1457.5,711.4 1457.5,718.6C1457.5,725.8 1458.7,731.8 1460.4,740.2C1462.1,748.6 1467.1,759.4 1467.6,769.0C1468.1,778.6 1465.7,789.4 1463.3,797.8C1460.9,806.2 1457.3,814.6 1453.2,819.4C1449.1,824.2 1444.8,826.6 1438.8,826.6C1432.8,826.6 1422.0,818.2 1417.2,819.4C1412.4,820.6 1412.4,827.8 1410.0,833.8C1407.6,839.8 1405.2,849.4 1402.8,855.4C1400.4,861.4 1400.4,866.9 1395.6,869.8C1390.8,872.7 1381.2,873.9 1374.0,872.7C1366.8,871.5 1357.2,866.7 1352.4,862.6C1347.6,858.5 1348.8,851.8 1345.2,848.2C1341.6,844.6 1335.6,841.0 1330.8,841.0C1326.0,841.0 1322.4,845.8 1316.4,848.2C1310.4,850.6 1302.0,854.7 1294.8,855.4C1287.6,856.1 1279.2,856.1 1273.2,852.5C1267.2,848.9 1262.4,841.7 1258.8,833.8C1255.2,825.9 1254.5,813.4 1251.6,805.0C1248.7,796.6 1243.4,791.8 1241.5,783.4C1239.6,775.0 1239.6,764.2 1240.1,754.6C1240.6,745.0 1243.2,735.4 1244.4,725.8C1245.6,716.2 1245.6,706.6 1247.3,697.0C1249.0,687.4 1252.6,676.6 1254.5,668.2C1256.4,659.8 1255.7,650.7 1258.8,646.6Z" fill="#f2bcc6" filter="url(#b2_5)"/>
<path d="M1273.2,646.6C1282.8,641.8 1326.5,647.3 1338.0,653.8C1349.5,660.3 1345.9,678.8 1342.3,685.5C1338.7,692.2 1326.7,694.6 1316.4,694.1C1306.1,693.6 1287.6,690.5 1280.4,682.6C1273.2,674.7 1263.6,651.4 1273.2,646.6Z" fill="#fdf2ee" filter="url(#b6)"/>
<path d="M1258.8,645.2C1261.4,640.6 1274.2,640.8 1277.5,645.2C1280.9,649.5 1281.6,666.5 1279.0,671.1C1276.3,675.6 1265.0,676.8 1261.7,672.5C1258.3,668.2 1256.2,649.7 1258.8,645.2Z" fill="#e8687e" filter="url(#b5)"/>
<path d="M1247.3,682.6C1253.3,674.4 1277.5,672.5 1284.7,679.7C1291.9,686.9 1292.4,716.2 1290.5,725.8C1288.6,735.4 1280.2,736.8 1273.2,737.3C1266.2,737.8 1253.0,737.8 1248.7,728.7C1244.4,719.6 1241.3,690.8 1247.3,682.6Z" fill="#f0a4b4" filter="url(#b6)"/>
<path d="M1287.6,689.8C1295.8,680.9 1330.8,680.9 1339.4,689.8C1348.1,698.7 1347.6,734.2 1339.4,743.1C1331.3,752.0 1299.1,752.0 1290.5,743.1C1281.8,734.2 1279.4,698.7 1287.6,689.8Z" fill="#f9e0dc" filter="url(#b7)"/>
<path d="M1241.5,761.8C1245.8,753.4 1271.0,753.4 1277.5,761.8C1284.0,770.2 1284.7,803.8 1280.4,812.2C1276.1,820.6 1258.1,820.6 1251.6,812.2C1245.1,803.8 1237.2,770.2 1241.5,761.8Z" fill="#ea5a72" filter="url(#b6)"/>
<path d="M1280.4,754.6C1286.9,745.5 1316.4,745.5 1323.6,754.6C1330.8,763.7 1330.1,800.2 1323.6,809.3C1317.1,818.5 1291.9,818.5 1284.7,809.3C1277.5,800.2 1273.9,763.7 1280.4,754.6Z" fill="#fcece4" filter="url(#b7)"/>
<path d="M1261.7,812.2C1270.1,806.2 1306.8,806.2 1316.4,812.2C1326.0,818.2 1324.1,841.0 1319.3,848.2C1314.5,855.4 1296.5,855.4 1287.6,855.4C1278.7,855.4 1270.3,855.4 1266.0,848.2C1261.7,841.0 1253.3,818.2 1261.7,812.2Z" fill="#d8304c" filter="url(#b5)"/>
<path d="M1319.3,812.2C1323.6,806.2 1340.9,806.2 1345.2,812.2C1349.5,818.2 1349.5,842.2 1345.2,848.2C1340.9,854.2 1323.6,854.2 1319.3,848.2C1315.0,842.2 1315.0,818.2 1319.3,812.2Z" fill="#f6d4d4" filter="url(#b6)"/>
<path d="M1366.8,656.7C1375.2,651.2 1408.8,646.4 1417.2,656.7C1425.6,667.0 1424.4,707.6 1417.2,718.6C1410.0,729.6 1382.4,727.7 1374.0,722.9C1365.6,718.1 1368.0,700.8 1366.8,689.8C1365.6,678.8 1358.4,662.2 1366.8,656.7Z" fill="#f8d4d4" filter="url(#b7)"/>
<path d="M1374.0,668.2C1378.8,661.0 1400.4,661.0 1405.7,668.2C1411.0,675.4 1410.5,704.2 1405.7,711.4C1400.9,718.6 1382.2,718.6 1376.9,711.4C1371.6,704.2 1369.2,675.4 1374.0,668.2Z" fill="#fdf2ec" filter="url(#b7)"/>
<path d="M1417.2,650.9C1422.3,646.4 1447.5,664.4 1454.7,672.5C1461.9,680.7 1465.5,695.3 1460.4,699.9C1455.4,704.4 1431.6,708.0 1424.4,699.9C1417.2,691.7 1412.2,655.5 1417.2,650.9Z" fill="#e8607c" filter="url(#b7)"/>
<path d="M1352.4,733.0C1357.7,718.6 1382.4,718.6 1388.4,733.0C1394.4,747.4 1393.7,805.0 1388.4,819.4C1383.1,833.8 1362.7,833.8 1356.7,819.4C1350.7,805.0 1347.1,747.4 1352.4,733.0Z" fill="#fdf4ee" filter="url(#b8)"/>
<path d="M1381.2,754.6C1386.5,745.0 1411.2,745.0 1417.2,754.6C1423.2,764.2 1422.5,802.6 1417.2,812.2C1411.9,821.8 1391.5,821.8 1385.5,812.2C1379.5,802.6 1375.9,764.2 1381.2,754.6Z" fill="#e85474" filter="url(#b7)"/>
<path d="M1417.2,714.3C1423.9,700.8 1449.4,708.0 1457.5,717.2C1465.7,726.3 1465.7,752.0 1466.2,769.0C1466.7,786.1 1466.2,809.8 1460.4,819.4C1454.7,829.0 1438.8,830.2 1431.6,826.6C1424.4,823.0 1419.6,816.5 1417.2,797.8C1414.8,779.1 1410.5,727.7 1417.2,714.3Z" fill="#e02848" filter="url(#b6)"/>
<path d="M1348.1,826.6C1356.5,819.4 1400.9,819.4 1410.0,826.6C1419.1,833.8 1411.2,862.6 1402.8,869.8C1394.4,877.0 1368.7,877.0 1359.6,869.8C1350.5,862.6 1339.7,833.8 1348.1,826.6Z" fill="#f4c2c8" filter="url(#b6)"/>
<ellipse cx="1374.0" cy="848.2" rx="17.3" ry="13.0" fill="#fbe6e4" filter="url(#b6)"/>
<path d="M1352.4,672.5C1354.6,668.0 1364.4,668.0 1366.8,672.5C1369.2,677.1 1369.0,695.3 1366.8,699.9C1364.6,704.4 1356.2,704.4 1353.8,699.9C1351.4,695.3 1350.2,677.1 1352.4,672.5Z" fill="#8a6878" filter="url(#b3)"/>
<path d="M1327.9,699.9C1331.8,682.1 1345.7,685.2 1348.1,702.8C1350.5,720.3 1346.2,787.3 1342.3,805.0C1338.5,822.8 1327.4,826.9 1325.0,809.3C1322.6,791.8 1324.1,717.6 1327.9,699.9Z" fill="#dca0b2" filter="url(#b5)"/>
</g>
<line x1="1293.4" y1="633.6" x2="1276.8" y2="651.9" stroke="#4a90d8" stroke-width="1.9"/>
<polygon points="1271.8,657.4 1275.0,647.5 1281.3,653.2" fill="#4a90d8"/>
<line x1="1303.4" y1="676.1" x2="1286.2" y2="695.1" stroke="#4a90d8" stroke-width="1.9"/>
<polygon points="1281.1,700.6 1284.4,690.7 1290.7,696.4" fill="#4a90d8"/>
<line x1="1399.9" y1="625.0" x2="1383.4" y2="643.2" stroke="#4a90d8" stroke-width="1.9"/>
<polygon points="1378.3,648.8 1381.6,638.9 1387.9,644.6" fill="#4a90d8"/>
<line x1="1460.4" y1="625.0" x2="1448.4" y2="637.0" stroke="#4a90d8" stroke-width="1.9"/>
<polygon points="1443.1,642.3 1446.8,632.6 1452.9,638.6" fill="#4a90d8"/>
<line x1="1479.1" y1="663.9" x2="1461.4" y2="681.6" stroke="#4a90d8" stroke-width="1.9"/>
<polygon points="1456.1,686.9 1459.8,677.2 1465.8,683.2" fill="#4a90d8"/>
<line x1="1411.5" y1="696.3" x2="1393.6" y2="714.7" stroke="#4a90d8" stroke-width="1.9"/>
<polygon points="1388.4,720.0 1392.0,710.3 1398.1,716.2" fill="#4a90d8"/>
<line x1="1460.4" y1="699.2" x2="1442.6" y2="717.5" stroke="#4a90d8" stroke-width="1.9"/>
<polygon points="1437.4,722.9 1440.9,713.1 1447.0,719.1" fill="#4a90d8"/>
<line x1="1291.9" y1="754.6" x2="1274.2" y2="772.3" stroke="#4a90d8" stroke-width="1.9"/>
<polygon points="1268.9,777.6 1272.6,767.9 1278.6,773.9" fill="#4a90d8"/>
<line x1="1420.1" y1="754.6" x2="1402.9" y2="772.9" stroke="#4a90d8" stroke-width="1.9"/>
<polygon points="1397.8,778.4 1401.2,768.5 1407.4,774.4" fill="#4a90d8"/>
<line x1="1466.2" y1="762.5" x2="1449.6" y2="780.7" stroke="#4a90d8" stroke-width="1.9"/>
<polygon points="1444.6,786.3 1447.8,776.4 1454.1,782.1" fill="#4a90d8"/>
<line x1="1327.9" y1="802.9" x2="1309.5" y2="820.7" stroke="#4a90d8" stroke-width="1.9"/>
<polygon points="1304.2,825.9 1308.0,816.2 1313.9,822.3" fill="#4a90d8"/>
<line x1="1379.8" y1="815.1" x2="1362.6" y2="833.4" stroke="#4a90d8" stroke-width="1.9"/>
<polygon points="1357.4,838.9 1360.9,829.0 1367.1,834.8" fill="#4a90d8"/>
<line x1="1409.3" y1="843.9" x2="1392.2" y2="861.5" stroke="#4a90d8" stroke-width="1.9"/>
<polygon points="1387.0,866.9 1390.5,857.2 1396.6,863.1" fill="#4a90d8"/>
<text x="1421.5" y="862.6" font-size="15.72" fill="#1a1a1a" stroke="#1a1a1a" stroke-width="0.45"><tspan>2mm</tspan></text>
<line x1="1422.3" y1="869.8" x2="1454.7" y2="869.8" stroke="#1a1a1a" stroke-width="2.8"/>
<clipPath id="cp7"><rect x="990.6" y="894.2" width="231.4" height="234.9"/></clipPath><g clip-path="url(#cp7)">
<rect x="990.6" y="894.2" width="231.4" height="234.9" fill="#fdfaf0"/>
<path d="M1006.2,948.5C1009.7,944.3 1016.0,943.1 1020.3,944.3C1024.5,945.4 1028.5,949.0 1031.6,955.6C1034.6,962.1 1036.5,974.4 1038.6,983.8C1040.7,993.2 1041.9,1003.8 1044.3,1012.0C1046.6,1020.2 1048.5,1028.5 1052.7,1033.2C1057.0,1037.9 1063.3,1037.9 1069.7,1040.2C1076.0,1042.6 1085.7,1042.6 1090.8,1047.3C1096.0,1052.0 1098.1,1060.2 1100.7,1068.5C1103.3,1076.7 1105.7,1088.5 1106.4,1096.7C1107.1,1104.9 1108.7,1113.6 1105.0,1117.9C1101.2,1122.1 1092.0,1122.1 1083.8,1122.1C1075.6,1122.1 1063.8,1119.7 1055.6,1117.9C1047.3,1116.0 1041.0,1114.3 1034.4,1110.8C1027.8,1107.3 1020.8,1102.6 1016.0,1096.7C1011.3,1090.8 1009.0,1084.9 1006.2,1075.5C1003.3,1066.1 1000.8,1053.2 999.1,1040.2C997.5,1027.3 996.3,1009.7 996.3,997.9C996.3,986.1 997.5,977.9 999.1,969.7C1000.8,961.4 1002.6,952.7 1006.2,948.5Z" fill="#e6dcee" filter="url(#b0_8)"/>
<path d="M1006.2,948.5C1009.7,944.3 1016.0,943.1 1020.3,944.3C1024.5,945.4 1028.5,949.0 1031.6,955.6C1034.6,962.1 1036.5,974.4 1038.6,983.8C1040.7,993.2 1041.9,1003.8 1044.3,1012.0C1046.6,1020.2 1048.5,1028.5 1052.7,1033.2C1057.0,1037.9 1063.3,1037.9 1069.7,1040.2C1076.0,1042.6 1085.7,1042.6 1090.8,1047.3C1096.0,1052.0 1098.1,1060.2 1100.7,1068.5C1103.3,1076.7 1105.7,1088.5 1106.4,1096.7C1107.1,1104.9 1108.7,1113.6 1105.0,1117.9C1101.2,1122.1 1092.0,1122.1 1083.8,1122.1C1075.6,1122.1 1063.8,1119.7 1055.6,1117.9C1047.3,1116.0 1041.0,1114.3 1034.4,1110.8C1027.8,1107.3 1020.8,1102.6 1016.0,1096.7C1011.3,1090.8 1009.0,1084.9 1006.2,1075.5C1003.3,1066.1 1000.8,1053.2 999.1,1040.2C997.5,1027.3 996.3,1009.7 996.3,997.9C996.3,986.1 997.5,977.9 999.1,969.7C1000.8,961.4 1002.6,952.7 1006.2,948.5Z" fill="url(#alv)" stroke="#c4b4dc" stroke-width="1"/>
<path d="M1035.8,948.5C1037.5,939.1 1044.0,932.3 1048.5,927.3C1053.0,922.4 1056.7,921.0 1062.6,918.9C1068.5,916.8 1079.6,912.0 1083.8,914.6C1088.0,917.2 1088.0,927.6 1088.0,934.4C1088.0,941.2 1085.7,948.5 1083.8,955.6C1081.9,962.6 1078.6,969.7 1076.7,976.7C1074.8,983.8 1074.6,989.7 1072.5,997.9C1070.4,1006.1 1067.3,1020.2 1064.0,1026.1C1060.7,1032.0 1056.0,1035.5 1052.7,1033.2C1049.4,1030.8 1046.6,1020.2 1044.3,1012.0C1041.9,1003.8 1040.0,994.4 1038.6,983.8C1037.2,973.2 1034.2,957.9 1035.8,948.5Z" fill="#e6dcee" filter="url(#b0_8)"/>
<path d="M1035.8,948.5C1037.5,939.1 1044.0,932.3 1048.5,927.3C1053.0,922.4 1056.7,921.0 1062.6,918.9C1068.5,916.8 1079.6,912.0 1083.8,914.6C1088.0,917.2 1088.0,927.6 1088.0,934.4C1088.0,941.2 1085.7,948.5 1083.8,955.6C1081.9,962.6 1078.6,969.7 1076.7,976.7C1074.8,983.8 1074.6,989.7 1072.5,997.9C1070.4,1006.1 1067.3,1020.2 1064.0,1026.1C1060.7,1032.0 1056.0,1035.5 1052.7,1033.2C1049.4,1030.8 1046.6,1020.2 1044.3,1012.0C1041.9,1003.8 1040.0,994.4 1038.6,983.8C1037.2,973.2 1034.2,957.9 1035.8,948.5Z" fill="url(#alv)" stroke="#c4b4dc" stroke-width="1"/>
<path d="M1058.4,976.7C1060.5,971.1 1070.1,967.1 1076.7,964.0C1083.3,961.0 1090.8,960.3 1097.9,958.4C1105.0,956.5 1113.7,950.9 1119.1,952.7C1124.5,954.6 1129.7,964.0 1130.4,969.7C1131.1,975.3 1126.8,981.4 1123.3,986.6C1119.8,991.8 1113.0,995.3 1109.2,1000.7C1105.4,1006.1 1105.0,1014.8 1100.7,1019.1C1096.5,1023.3 1089.0,1026.1 1083.8,1026.1C1078.6,1026.1 1073.0,1023.8 1069.7,1019.1C1066.4,1014.4 1065.9,1005.0 1064.0,997.9C1062.1,990.8 1056.3,982.4 1058.4,976.7Z" fill="#e6dcee" filter="url(#b0_8)"/>
<path d="M1058.4,976.7C1060.5,971.1 1070.1,967.1 1076.7,964.0C1083.3,961.0 1090.8,960.3 1097.9,958.4C1105.0,956.5 1113.7,950.9 1119.1,952.7C1124.5,954.6 1129.7,964.0 1130.4,969.7C1131.1,975.3 1126.8,981.4 1123.3,986.6C1119.8,991.8 1113.0,995.3 1109.2,1000.7C1105.4,1006.1 1105.0,1014.8 1100.7,1019.1C1096.5,1023.3 1089.0,1026.1 1083.8,1026.1C1078.6,1026.1 1073.0,1023.8 1069.7,1019.1C1066.4,1014.4 1065.9,1005.0 1064.0,997.9C1062.1,990.8 1056.3,982.4 1058.4,976.7Z" fill="url(#alv)" stroke="#c4b4dc" stroke-width="1"/>
<path d="M1100.7,916.0C1101.9,912.3 1112.5,906.2 1119.1,904.8C1125.7,903.3 1133.2,905.0 1140.2,907.6C1147.3,910.2 1154.3,915.8 1161.4,920.3C1168.5,924.7 1176.7,929.7 1182.6,934.4C1188.5,939.1 1192.0,942.6 1196.7,948.5C1201.4,954.4 1207.3,964.3 1210.8,969.7C1214.3,975.1 1219.0,978.6 1217.9,981.0C1216.7,983.3 1209.6,983.3 1203.7,983.8C1197.9,984.3 1190.8,983.3 1182.6,983.8C1174.3,984.3 1162.6,986.6 1154.3,986.6C1146.1,986.6 1139.1,986.6 1133.2,983.8C1127.3,981.0 1120.2,975.6 1119.1,969.7C1117.9,963.8 1127.3,955.6 1126.1,948.5C1124.9,941.4 1116.2,932.7 1112.0,927.3C1107.8,921.9 1099.5,919.8 1100.7,916.0Z" fill="#e6dcee" filter="url(#b0_8)"/>
<path d="M1100.7,916.0C1101.9,912.3 1112.5,906.2 1119.1,904.8C1125.7,903.3 1133.2,905.0 1140.2,907.6C1147.3,910.2 1154.3,915.8 1161.4,920.3C1168.5,924.7 1176.7,929.7 1182.6,934.4C1188.5,939.1 1192.0,942.6 1196.7,948.5C1201.4,954.4 1207.3,964.3 1210.8,969.7C1214.3,975.1 1219.0,978.6 1217.9,981.0C1216.7,983.3 1209.6,983.3 1203.7,983.8C1197.9,984.3 1190.8,983.3 1182.6,983.8C1174.3,984.3 1162.6,986.6 1154.3,986.6C1146.1,986.6 1139.1,986.6 1133.2,983.8C1127.3,981.0 1120.2,975.6 1119.1,969.7C1117.9,963.8 1127.3,955.6 1126.1,948.5C1124.9,941.4 1116.2,932.7 1112.0,927.3C1107.8,921.9 1099.5,919.8 1100.7,916.0Z" fill="url(#alv)" stroke="#c4b4dc" stroke-width="1"/>
<path d="M1109.2,1007.8C1112.7,1000.3 1119.8,997.2 1126.1,995.1C1132.5,993.0 1140.2,992.3 1147.3,995.1C1154.3,997.9 1163.1,1005.7 1168.5,1012.0C1173.9,1018.4 1177.4,1026.1 1179.8,1033.2C1182.1,1040.2 1183.3,1046.1 1182.6,1054.3C1181.9,1062.6 1179.0,1076.0 1175.5,1082.6C1172.0,1089.2 1167.3,1091.3 1161.4,1093.9C1155.5,1096.4 1147.3,1098.8 1140.2,1098.1C1133.2,1097.4 1124.2,1094.6 1119.1,1089.6C1113.9,1084.7 1111.5,1076.7 1109.2,1068.5C1106.8,1060.2 1105.0,1050.3 1105.0,1040.2C1105.0,1030.1 1105.7,1015.3 1109.2,1007.8Z" fill="#e6dcee" filter="url(#b0_8)"/>
<path d="M1109.2,1007.8C1112.7,1000.3 1119.8,997.2 1126.1,995.1C1132.5,993.0 1140.2,992.3 1147.3,995.1C1154.3,997.9 1163.1,1005.7 1168.5,1012.0C1173.9,1018.4 1177.4,1026.1 1179.8,1033.2C1182.1,1040.2 1183.3,1046.1 1182.6,1054.3C1181.9,1062.6 1179.0,1076.0 1175.5,1082.6C1172.0,1089.2 1167.3,1091.3 1161.4,1093.9C1155.5,1096.4 1147.3,1098.8 1140.2,1098.1C1133.2,1097.4 1124.2,1094.6 1119.1,1089.6C1113.9,1084.7 1111.5,1076.7 1109.2,1068.5C1106.8,1060.2 1105.0,1050.3 1105.0,1040.2C1105.0,1030.1 1105.7,1015.3 1109.2,1007.8Z" fill="url(#alv)" stroke="#c4b4dc" stroke-width="1"/>
<ellipse cx="1085.9" cy="1003.5" rx="11.3" ry="13.4" fill="#e8c4d8" filter="url(#b2)"/>
<ellipse cx="1085.9" cy="1003.5" rx="5.6" ry="7.1" fill="#f6eaf2" filter="url(#b1_5)"/>
<ellipse cx="1101.4" cy="948.5" rx="6.4" ry="14.1" fill="#4a3eb4" filter="url(#b1_5)"/>
<ellipse cx="1023.8" cy="1099.5" rx="9.2" ry="11.3" fill="#8676d0" transform="rotate(-20 1023.8 1099.5)" filter="url(#b2_5)"/>
<ellipse cx="1160.0" cy="1086.8" rx="11.3" ry="9.9" fill="#8676d0" filter="url(#b2_5)"/>
<ellipse cx="1208.0" cy="999.3" rx="5.6" ry="8.5" fill="#8676d0" transform="rotate(-30 1208.0 999.3)" filter="url(#b2_5)"/>
</g>
<line x1="1233.4" y1="972.5" x2="1224.7" y2="979.4" stroke="#ec7a26" stroke-width="1.6"/>
<polygon points="1216.4,985.9 1222.7,973.6 1229.8,982.7" fill="#ec7a26"/>
<line x1="1182.6" y1="1063.5" x2="1174.0" y2="1069.9" stroke="#ec7a26" stroke-width="1.6"/>
<polygon points="1165.6,1076.2 1172.2,1064.1 1179.1,1073.3" fill="#ec7a26"/>
<line x1="1047.1" y1="1079.8" x2="1037.2" y2="1087.0" stroke="#ec7a26" stroke-width="1.6"/>
<polygon points="1028.7,1093.2 1035.4,1081.1 1042.2,1090.4" fill="#ec7a26"/>
<line x1="1117.0" y1="1080.5" x2="1107.5" y2="1088.0" stroke="#ec7a26" stroke-width="1.6"/>
<polygon points="1099.3,1094.6 1105.5,1082.3 1112.7,1091.2" fill="#ec7a26"/>
<text x="1166.2" y="1100.2" font-size="15.43" fill="#1a1a1a" stroke="#1a1a1a" stroke-width="0.45"><tspan>2mm</tspan></text>
<line x1="1171.3" y1="1106.6" x2="1203.0" y2="1106.6" stroke="#1a1a1a" stroke-width="2.8"/>
<clipPath id="cp8"><rect x="1233.6" y="894.2" width="231.4" height="234.8"/></clipPath><g clip-path="url(#cp8)">
<rect x="1233.6" y="894.2" width="231.4" height="234.8" fill="#fdfaf0"/>
<path d="M1274.6,920.3C1277.4,915.8 1280.7,908.8 1284.4,906.2C1288.2,903.6 1294.6,901.2 1297.2,904.8C1299.7,908.3 1299.3,916.5 1300.0,927.3C1300.7,938.2 1301.1,955.6 1301.4,969.7C1301.6,983.8 1301.4,997.9 1301.4,1012.0C1301.4,1026.1 1301.9,1044.9 1301.4,1054.3C1300.9,1063.8 1301.4,1066.1 1298.6,1068.5C1295.7,1070.8 1290.3,1068.5 1284.4,1068.5C1278.6,1068.5 1268.0,1068.9 1263.3,1068.5C1258.6,1068.0 1259.0,1068.0 1256.2,1065.6C1253.4,1063.3 1247.5,1060.9 1246.3,1054.3C1245.2,1047.8 1248.9,1035.5 1249.2,1026.1C1249.4,1016.7 1247.3,1007.3 1247.8,997.9C1248.2,988.5 1250.1,977.9 1252.0,969.7C1253.9,961.4 1256.5,954.6 1259.0,948.5C1261.6,942.4 1264.9,937.7 1267.5,933.0C1270.1,928.3 1271.7,924.7 1274.6,920.3Z" fill="#e6dcee" filter="url(#b0_8)"/>
<path d="M1274.6,920.3C1277.4,915.8 1280.7,908.8 1284.4,906.2C1288.2,903.6 1294.6,901.2 1297.2,904.8C1299.7,908.3 1299.3,916.5 1300.0,927.3C1300.7,938.2 1301.1,955.6 1301.4,969.7C1301.6,983.8 1301.4,997.9 1301.4,1012.0C1301.4,1026.1 1301.9,1044.9 1301.4,1054.3C1300.9,1063.8 1301.4,1066.1 1298.6,1068.5C1295.7,1070.8 1290.3,1068.5 1284.4,1068.5C1278.6,1068.5 1268.0,1068.9 1263.3,1068.5C1258.6,1068.0 1259.0,1068.0 1256.2,1065.6C1253.4,1063.3 1247.5,1060.9 1246.3,1054.3C1245.2,1047.8 1248.9,1035.5 1249.2,1026.1C1249.4,1016.7 1247.3,1007.3 1247.8,997.9C1248.2,988.5 1250.1,977.9 1252.0,969.7C1253.9,961.4 1256.5,954.6 1259.0,948.5C1261.6,942.4 1264.9,937.7 1267.5,933.0C1270.1,928.3 1271.7,924.7 1274.6,920.3Z" fill="url(#alv)" stroke="#c4b4dc" stroke-width="1"/>
<path d="M1357.8,906.2C1360.9,901.7 1369.6,901.0 1376.2,900.5C1382.8,900.1 1391.5,901.2 1397.3,903.3C1403.2,905.5 1407.2,908.5 1411.5,913.2C1415.7,917.9 1419.2,928.0 1422.8,931.6C1426.3,935.1 1428.6,934.2 1432.6,934.4C1436.6,934.6 1442.3,930.6 1446.7,933.0C1451.2,935.3 1457.1,944.3 1459.4,948.5C1461.8,952.7 1463.0,955.8 1460.9,958.4C1458.7,961.0 1452.6,963.1 1446.7,964.0C1440.9,965.0 1431.5,963.6 1425.6,964.0C1419.7,964.5 1417.3,966.4 1411.5,966.9C1405.6,967.3 1397.3,967.3 1390.3,966.9C1383.2,966.4 1374.1,967.1 1369.1,964.0C1364.2,961.0 1362.5,954.6 1360.7,948.5C1358.8,942.4 1358.3,934.4 1357.8,927.3C1357.4,920.3 1354.8,910.6 1357.8,906.2Z" fill="#e6dcee" filter="url(#b0_8)"/>
<path d="M1357.8,906.2C1360.9,901.7 1369.6,901.0 1376.2,900.5C1382.8,900.1 1391.5,901.2 1397.3,903.3C1403.2,905.5 1407.2,908.5 1411.5,913.2C1415.7,917.9 1419.2,928.0 1422.8,931.6C1426.3,935.1 1428.6,934.2 1432.6,934.4C1436.6,934.6 1442.3,930.6 1446.7,933.0C1451.2,935.3 1457.1,944.3 1459.4,948.5C1461.8,952.7 1463.0,955.8 1460.9,958.4C1458.7,961.0 1452.6,963.1 1446.7,964.0C1440.9,965.0 1431.5,963.6 1425.6,964.0C1419.7,964.5 1417.3,966.4 1411.5,966.9C1405.6,967.3 1397.3,967.3 1390.3,966.9C1383.2,966.4 1374.1,967.1 1369.1,964.0C1364.2,961.0 1362.5,954.6 1360.7,948.5C1358.8,942.4 1358.3,934.4 1357.8,927.3C1357.4,920.3 1354.8,910.6 1357.8,906.2Z" fill="url(#alv)" stroke="#c4b4dc" stroke-width="1"/>
<path d="M1349.4,971.1C1352.0,967.6 1357.6,969.4 1362.1,969.7C1366.5,969.9 1371.5,970.1 1376.2,972.5C1380.9,974.8 1386.3,978.4 1390.3,983.8C1394.3,989.2 1397.6,997.9 1400.2,1005.0C1402.8,1012.0 1404.2,1019.1 1405.8,1026.1C1407.5,1033.2 1409.1,1040.2 1410.0,1047.3C1411.0,1054.3 1411.2,1060.2 1411.5,1068.5C1411.7,1076.7 1411.9,1088.5 1411.5,1096.7C1411.0,1104.9 1411.0,1112.7 1408.6,1117.9C1406.3,1123.0 1402.8,1126.6 1397.3,1127.7C1391.9,1128.9 1382.1,1127.7 1376.2,1124.9C1370.3,1122.1 1365.6,1116.7 1362.1,1110.8C1358.5,1104.9 1357.1,1096.7 1355.0,1089.6C1352.9,1082.6 1351.7,1073.2 1349.4,1068.5C1347.0,1063.8 1343.3,1063.8 1340.9,1061.4C1338.5,1059.1 1335.3,1059.1 1335.3,1054.3C1335.3,1049.6 1339.3,1040.2 1340.9,1033.2C1342.5,1026.1 1344.2,1019.1 1345.1,1012.0C1346.1,1005.0 1345.8,997.7 1346.5,990.8C1347.2,984.0 1346.8,974.6 1349.4,971.1Z" fill="#e6dcee" filter="url(#b0_8)"/>
<path d="M1349.4,971.1C1352.0,967.6 1357.6,969.4 1362.1,969.7C1366.5,969.9 1371.5,970.1 1376.2,972.5C1380.9,974.8 1386.3,978.4 1390.3,983.8C1394.3,989.2 1397.6,997.9 1400.2,1005.0C1402.8,1012.0 1404.2,1019.1 1405.8,1026.1C1407.5,1033.2 1409.1,1040.2 1410.0,1047.3C1411.0,1054.3 1411.2,1060.2 1411.5,1068.5C1411.7,1076.7 1411.9,1088.5 1411.5,1096.7C1411.0,1104.9 1411.0,1112.7 1408.6,1117.9C1406.3,1123.0 1402.8,1126.6 1397.3,1127.7C1391.9,1128.9 1382.1,1127.7 1376.2,1124.9C1370.3,1122.1 1365.6,1116.7 1362.1,1110.8C1358.5,1104.9 1357.1,1096.7 1355.0,1089.6C1352.9,1082.6 1351.7,1073.2 1349.4,1068.5C1347.0,1063.8 1343.3,1063.8 1340.9,1061.4C1338.5,1059.1 1335.3,1059.1 1335.3,1054.3C1335.3,1049.6 1339.3,1040.2 1340.9,1033.2C1342.5,1026.1 1344.2,1019.1 1345.1,1012.0C1346.1,1005.0 1345.8,997.7 1346.5,990.8C1347.2,984.0 1346.8,974.6 1349.4,971.1Z" fill="url(#alv)" stroke="#c4b4dc" stroke-width="1"/>
<path d="M1307.0,927.3C1309.1,920.3 1315.3,917.0 1319.7,913.2C1324.2,909.5 1329.6,906.2 1333.8,904.8C1338.1,903.3 1342.1,902.2 1345.1,904.8C1348.2,907.3 1350.5,913.0 1352.2,920.3C1353.8,927.6 1356.4,941.2 1355.0,948.5C1353.6,955.8 1346.5,958.1 1343.7,964.0C1340.9,969.9 1339.5,975.8 1338.1,983.8C1336.7,991.8 1336.2,1002.6 1335.3,1012.0C1334.3,1021.4 1333.4,1031.3 1332.4,1040.2C1331.5,1049.2 1331.7,1061.4 1329.6,1065.6C1327.5,1069.9 1322.6,1069.9 1319.7,1065.6C1316.9,1061.4 1314.1,1053.9 1312.7,1040.2C1311.3,1026.6 1312.2,997.9 1311.3,983.8C1310.3,969.7 1307.7,965.0 1307.0,955.6C1306.3,946.2 1304.9,934.4 1307.0,927.3Z" fill="#e8c6dc" filter="url(#b1_5)"/>
<path d="M1318.3,969.7C1319.5,956.7 1325.6,956.7 1326.8,969.7C1328.0,982.6 1326.6,1034.4 1325.4,1047.3C1324.2,1060.2 1320.9,1060.2 1319.7,1047.3C1318.6,1034.4 1317.1,982.6 1318.3,969.7Z" fill="#f8f0f4" filter="url(#b1_5)"/>
<ellipse cx="1315.5" cy="955.6" rx="4.2" ry="8.5" fill="#d44c88" filter="url(#b3)"/>
<ellipse cx="1441.1" cy="996.5" rx="18.3" ry="26.8" fill="#8c6ad0" filter="url(#b3)"/>
<ellipse cx="1409.3" cy="1021.2" rx="10.6" ry="19.1" fill="#8c6ad0" filter="url(#b3)"/>
<ellipse cx="1439.0" cy="939.3" rx="9.2" ry="12.0" fill="#8c6ad0" filter="url(#b3)"/>
<ellipse cx="1451.0" cy="954.9" rx="9.9" ry="4.9" fill="#8c6ad0" filter="url(#b3)"/>
<ellipse cx="1345.1" cy="1047.3" rx="8.5" ry="14.1" fill="#8c6ad0" transform="rotate(20 1345.1 1047.3)" filter="url(#b3)"/>
<ellipse cx="1261.9" cy="1099.5" rx="13.4" ry="26.8" fill="#8c6ad0" filter="url(#b3)"/>
<ellipse cx="1290.1" cy="1090.3" rx="12.7" ry="17.6" fill="#8c6ad0" filter="url(#b3)"/>
<ellipse cx="1245.6" cy="1051.5" rx="9.9" ry="16.9" fill="#8c6ad0" filter="url(#b3)"/>
<ellipse cx="1403.7" cy="973.2" rx="6.4" ry="4.9" fill="#8c6ad0" filter="url(#b3)"/>
</g>
<line x1="1318.3" y1="896.3" x2="1308.7" y2="904.4" stroke="#ec7a26" stroke-width="1.6"/>
<polygon points="1300.7,911.1 1306.6,898.7 1313.9,907.5" fill="#ec7a26"/>
<line x1="1308.4" y1="918.2" x2="1299.2" y2="925.2" stroke="#ec7a26" stroke-width="1.6"/>
<polygon points="1290.8,931.6 1297.3,919.4 1304.2,928.6" fill="#ec7a26"/>
<line x1="1379.7" y1="914.6" x2="1370.8" y2="922.0" stroke="#ec7a26" stroke-width="1.6"/>
<polygon points="1362.8,928.7 1368.7,916.3 1376.1,925.2" fill="#ec7a26"/>
<line x1="1467.9" y1="926.6" x2="1458.3" y2="934.7" stroke="#ec7a26" stroke-width="1.6"/>
<polygon points="1450.3,941.4 1456.1,929.0 1463.5,937.8" fill="#ec7a26"/>
<line x1="1407.9" y1="949.2" x2="1398.7" y2="956.3" stroke="#ec7a26" stroke-width="1.6"/>
<polygon points="1390.3,962.6 1396.8,950.5 1403.7,959.6" fill="#ec7a26"/>
<line x1="1458.0" y1="973.9" x2="1449.2" y2="981.3" stroke="#ec7a26" stroke-width="1.6"/>
<polygon points="1441.1,988.0 1447.0,975.6 1454.4,984.4" fill="#ec7a26"/>
<line x1="1273.2" y1="983.1" x2="1263.7" y2="990.6" stroke="#ec7a26" stroke-width="1.6"/>
<polygon points="1255.5,997.2 1261.7,984.9 1268.9,993.9" fill="#ec7a26"/>
<line x1="1320.4" y1="1007.8" x2="1311.6" y2="1015.2" stroke="#ec7a26" stroke-width="1.6"/>
<polygon points="1303.5,1021.9 1309.4,1009.5 1316.8,1018.3" fill="#ec7a26"/>
<line x1="1425.6" y1="1003.5" x2="1417.0" y2="1009.9" stroke="#ec7a26" stroke-width="1.6"/>
<polygon points="1408.6,1016.2 1415.2,1004.1 1422.1,1013.3" fill="#ec7a26"/>
<line x1="1391.0" y1="1014.1" x2="1382.1" y2="1021.5" stroke="#ec7a26" stroke-width="1.6"/>
<polygon points="1374.1,1028.2 1380.0,1015.8 1387.3,1024.7" fill="#ec7a26"/>
<line x1="1365.6" y1="1023.3" x2="1356.2" y2="1030.9" stroke="#ec7a26" stroke-width="1.6"/>
<polygon points="1348.0,1037.4 1354.1,1025.1 1361.3,1034.1" fill="#ec7a26"/>
<line x1="1269.6" y1="1036.0" x2="1260.8" y2="1043.4" stroke="#ec7a26" stroke-width="1.6"/>
<polygon points="1252.7,1050.1 1258.6,1037.7 1266.0,1046.5" fill="#ec7a26"/>
<line x1="1281.6" y1="1069.9" x2="1272.0" y2="1077.9" stroke="#ec7a26" stroke-width="1.6"/>
<polygon points="1264.0,1084.7 1269.9,1072.2 1277.3,1081.1" fill="#ec7a26"/>
<line x1="1310.6" y1="1064.9" x2="1301.9" y2="1071.8" stroke="#ec7a26" stroke-width="1.6"/>
<polygon points="1293.6,1078.3 1299.9,1066.1 1307.0,1075.1" fill="#ec7a26"/>
<text x="1417.7" y="1108.7" font-size="15.43" fill="#1a1a1a" stroke="#1a1a1a" stroke-width="0.45"><tspan>2mm</tspan></text>
<line x1="1422.7" y1="1116.4" x2="1453.1" y2="1116.4" stroke="#1a1a1a" stroke-width="2.8"/>
<defs><pattern id="mesh" width="44" height="44" patternUnits="userSpaceOnUse"><circle cx="10.5" cy="23.9" r="1.6" fill="#fff" fill-opacity="0.85"/><circle cx="26.6" cy="27.5" r="1.2" fill="#fff" fill-opacity="0.85"/><circle cx="0.6" cy="36.8" r="1.4" fill="#fff" fill-opacity="0.85"/><circle cx="44.6" cy="36.8" r="1.4" fill="#fff" fill-opacity="0.85"/><circle cx="10.3" cy="-0.2" r="1.7" fill="#fff" fill-opacity="0.85"/><circle cx="10.3" cy="43.8" r="1.7" fill="#fff" fill-opacity="0.85"/><circle cx="36.8" cy="21.0" r="1.9" fill="#fff" fill-opacity="0.85"/><circle cx="6.6" cy="27.9" r="2.2" fill="#fff" fill-opacity="0.85"/><circle cx="23.0" cy="32.6" r="2.0" fill="#fff" fill-opacity="0.85"/><circle cx="2.8" cy="33.4" r="1.9" fill="#fff" fill-opacity="0.85"/><circle cx="46.8" cy="33.4" r="1.9" fill="#fff" fill-opacity="0.85"/><circle cx="13.3" cy="1.4" r="2.2" fill="#fff" fill-opacity="0.85"/><circle cx="13.3" cy="45.4" r="2.2" fill="#fff" fill-opacity="0.85"/><circle cx="20.8" cy="31.6" r="2.2" fill="#fff" fill-opacity="0.85"/><circle cx="31.4" cy="-3.5" r="1.6" fill="#fff" fill-opacity="0.85"/><circle cx="31.4" cy="40.5" r="1.6" fill="#fff" fill-opacity="0.85"/><circle cx="35.2" cy="19.6" r="2.3" fill="#fff" fill-opacity="0.85"/><circle cx="38.7" cy="4.3" r="1.3" fill="#fff" fill-opacity="0.85"/><circle cx="9.5" cy="-1.5" r="1.7" fill="#fff" fill-opacity="0.85"/><circle cx="9.5" cy="42.5" r="1.7" fill="#fff" fill-opacity="0.85"/><circle cx="27.6" cy="13.2" r="1.8" fill="#fff" fill-opacity="0.85"/><circle cx="17.0" cy="15.4" r="1.9" fill="#fff" fill-opacity="0.85"/><circle cx="25.7" cy="39.8" r="2.0" fill="#fff" fill-opacity="0.85"/><circle cx="-3.1" cy="37.7" r="2.4" fill="#fff" fill-opacity="0.85"/><circle cx="40.9" cy="37.7" r="2.4" fill="#fff" fill-opacity="0.85"/><circle cx="29.5" cy="7.2" r="2.2" fill="#fff" fill-opacity="0.85"/><circle cx="-1.6" cy="39.8" r="1.8" fill="#fff" fill-opacity="0.85"/><circle cx="42.4" cy="39.8" r="1.8" fill="#fff" fill-opacity="0.85"/><circle cx="31.4" cy="9.3" r="2.2" fill="#fff" fill-opacity="0.85"/><circle cx="25.2" cy="12.5" r="1.2" fill="#fff" fill-opacity="0.85"/><circle cx="37.6" cy="-0.4" r="1.2" fill="#fff" fill-opacity="0.85"/><circle cx="37.6" cy="43.6" r="1.2" fill="#fff" fill-opacity="0.85"/><circle cx="35.2" cy="18.1" r="1.3" fill="#fff" fill-opacity="0.85"/><circle cx="12.9" cy="33.8" r="2.2" fill="#fff" fill-opacity="0.85"/><circle cx="1.9" cy="27.0" r="1.2" fill="#fff" fill-opacity="0.85"/><circle cx="45.9" cy="27.0" r="1.2" fill="#fff" fill-opacity="0.85"/><circle cx="31.6" cy="14.6" r="2.2" fill="#fff" fill-opacity="0.85"/><circle cx="-0.9" cy="22.2" r="2.4" fill="#fff" fill-opacity="0.85"/><circle cx="43.1" cy="22.2" r="2.4" fill="#fff" fill-opacity="0.85"/><circle cx="13.6" cy="3.4" r="1.9" fill="#fff" fill-opacity="0.85"/><circle cx="13.6" cy="47.4" r="1.9" fill="#fff" fill-opacity="0.85"/><circle cx="1.4" cy="8.7" r="1.6" fill="#fff" fill-opacity="0.85"/><circle cx="45.4" cy="8.7" r="1.6" fill="#fff" fill-opacity="0.85"/><circle cx="26.9" cy="6.9" r="1.2" fill="#fff" fill-opacity="0.85"/><circle cx="38.2" cy="13.8" r="2.3" fill="#fff" fill-opacity="0.85"/><circle cx="39.5" cy="16.6" r="1.7" fill="#fff" fill-opacity="0.85"/><circle cx="22.9" cy="28.3" r="1.9" fill="#fff" fill-opacity="0.85"/><circle cx="24.6" cy="27.3" r="2.3" fill="#fff" fill-opacity="0.85"/><circle cx="22.3" cy="19.0" r="2.0" fill="#fff" fill-opacity="0.85"/><circle cx="10.5" cy="13.2" r="2.4" fill="#fff" fill-opacity="0.85"/><circle cx="22.9" cy="24.1" r="1.1" fill="#fff" fill-opacity="0.85"/><circle cx="18.3" cy="25.5" r="1.1" fill="#fff" fill-opacity="0.85"/><circle cx="27.1" cy="27.8" r="1.2" fill="#fff" fill-opacity="0.85"/><circle cx="27.6" cy="20.5" r="2.0" fill="#fff" fill-opacity="0.85"/><circle cx="15.5" cy="31.1" r="2.1" fill="#fff" fill-opacity="0.85"/><circle cx="1.0" cy="2.7" r="2.0" fill="#fff" fill-opacity="0.85"/><circle cx="1.0" cy="46.7" r="2.0" fill="#fff" fill-opacity="0.85"/><circle cx="45.0" cy="2.7" r="2.0" fill="#fff" fill-opacity="0.85"/><circle cx="45.0" cy="46.7" r="2.0" fill="#fff" fill-opacity="0.85"/><circle cx="-1.6" cy="11.0" r="1.7" fill="#fff" fill-opacity="0.85"/><circle cx="42.4" cy="11.0" r="1.7" fill="#fff" fill-opacity="0.85"/><circle cx="26.1" cy="14.1" r="1.6" fill="#fff" fill-opacity="0.85"/><circle cx="13.8" cy="16.2" r="1.9" fill="#fff" fill-opacity="0.85"/><circle cx="13.2" cy="16.6" r="2.1" fill="#fff" fill-opacity="0.85"/><circle cx="1.2" cy="25.0" r="2.1" fill="#fff" fill-opacity="0.85"/><circle cx="45.2" cy="25.0" r="2.1" fill="#fff" fill-opacity="0.85"/><circle cx="13.6" cy="9.8" r="2.1" fill="#fff" fill-opacity="0.85"/><circle cx="10.5" cy="8.2" r="1.7" fill="#fff" fill-opacity="0.85"/><circle cx="30.7" cy="4.5" r="1.5" fill="#fff" fill-opacity="0.85"/><circle cx="14.7" cy="36.7" r="1.7" fill="#fff" fill-opacity="0.85"/><circle cx="37.6" cy="7.4" r="1.5" fill="#fff" fill-opacity="0.85"/><circle cx="28.6" cy="38.9" r="1.7" fill="#fff" fill-opacity="0.85"/><circle cx="9.9" cy="5.3" r="1.8" fill="#fff" fill-opacity="0.85"/><circle cx="8.4" cy="35.5" r="2.2" fill="#fff" fill-opacity="0.85"/><circle cx="8.1" cy="12.3" r="2.1" fill="#fff" fill-opacity="0.85"/><circle cx="28.2" cy="35.5" r="1.5" fill="#fff" fill-opacity="0.85"/><circle cx="5.7" cy="12.8" r="2.1" fill="#fff" fill-opacity="0.85"/><circle cx="11.9" cy="15.2" r="1.6" fill="#fff" fill-opacity="0.85"/><circle cx="18.5" cy="18.0" r="2.3" fill="#fff" fill-opacity="0.85"/><circle cx="6.9" cy="0.2" r="2.3" fill="#fff" fill-opacity="0.85"/><circle cx="6.9" cy="44.2" r="2.3" fill="#fff" fill-opacity="0.85"/><circle cx="38.7" cy="-0.6" r="1.7" fill="#fff" fill-opacity="0.85"/><circle cx="38.7" cy="43.4" r="1.7" fill="#fff" fill-opacity="0.85"/><circle cx="-2.2" cy="-3.2" r="1.4" fill="#fff" fill-opacity="0.85"/><circle cx="-2.2" cy="40.8" r="1.4" fill="#fff" fill-opacity="0.85"/><circle cx="41.8" cy="-3.2" r="1.4" fill="#fff" fill-opacity="0.85"/><circle cx="41.8" cy="40.8" r="1.4" fill="#fff" fill-opacity="0.85"/><circle cx="32.8" cy="36.8" r="2.0" fill="#fff" fill-opacity="0.85"/><circle cx="22.8" cy="12.7" r="1.5" fill="#fff" fill-opacity="0.85"/><circle cx="10.0" cy="3.0" r="1.9" fill="#fff" fill-opacity="0.85"/><circle cx="10.0" cy="47.0" r="1.9" fill="#fff" fill-opacity="0.85"/><circle cx="12.6" cy="35.6" r="1.2" fill="#fff" fill-opacity="0.85"/><circle cx="39.8" cy="30.5" r="2.3" fill="#fff" fill-opacity="0.85"/><circle cx="39.4" cy="39.6" r="1.9" fill="#fff" fill-opacity="0.85"/><circle cx="0.6" cy="32.8" r="1.3" fill="#fff" fill-opacity="0.85"/><circle cx="44.6" cy="32.8" r="1.3" fill="#fff" fill-opacity="0.85"/><circle cx="13.2" cy="29.2" r="1.8" fill="#fff" fill-opacity="0.85"/><circle cx="18.2" cy="-2.7" r="1.9" fill="#fff" fill-opacity="0.85"/><circle cx="18.2" cy="41.3" r="1.9" fill="#fff" fill-opacity="0.85"/><circle cx="15.0" cy="11.1" r="2.2" fill="#fff" fill-opacity="0.85"/><circle cx="21.0" cy="34.4" r="1.6" fill="#fff" fill-opacity="0.85"/><circle cx="8.7" cy="23.5" r="2.2" fill="#fff" fill-opacity="0.85"/><circle cx="7.5" cy="34.8" r="2.3" fill="#fff" fill-opacity="0.85"/><circle cx="35.5" cy="36.2" r="1.1" fill="#fff" fill-opacity="0.85"/><circle cx="27.7" cy="38.0" r="1.2" fill="#fff" fill-opacity="0.85"/><circle cx="11.9" cy="11.8" r="1.8" fill="#fff" fill-opacity="0.85"/><circle cx="18.6" cy="20.8" r="2.1" fill="#fff" fill-opacity="0.85"/><circle cx="0.1" cy="2.4" r="1.3" fill="#fff" fill-opacity="0.85"/><circle cx="0.1" cy="46.4" r="1.3" fill="#fff" fill-opacity="0.85"/><circle cx="44.1" cy="2.4" r="1.3" fill="#fff" fill-opacity="0.85"/><circle cx="44.1" cy="46.4" r="1.3" fill="#fff" fill-opacity="0.85"/><circle cx="5.5" cy="3.0" r="2.4" fill="#fff" fill-opacity="0.85"/><circle cx="5.5" cy="47.0" r="2.4" fill="#fff" fill-opacity="0.85"/><circle cx="37.6" cy="3.8" r="1.8" fill="#fff" fill-opacity="0.85"/><circle cx="37.6" cy="47.8" r="1.8" fill="#fff" fill-opacity="0.85"/><circle cx="13.9" cy="13.8" r="1.6" fill="#fff" fill-opacity="0.85"/><circle cx="28.5" cy="25.8" r="1.6" fill="#fff" fill-opacity="0.85"/><circle cx="8.4" cy="14.5" r="1.3" fill="#fff" fill-opacity="0.85"/><circle cx="24.4" cy="31.5" r="1.6" fill="#fff" fill-opacity="0.85"/><circle cx="3.5" cy="7.9" r="1.6" fill="#fff" fill-opacity="0.85"/><circle cx="47.5" cy="7.9" r="1.6" fill="#fff" fill-opacity="0.85"/><circle cx="26.6" cy="34.4" r="1.6" fill="#fff" fill-opacity="0.85"/><circle cx="35.3" cy="27.4" r="1.7" fill="#fff" fill-opacity="0.85"/><circle cx="16.4" cy="21.8" r="2.0" fill="#fff" fill-opacity="0.85"/><circle cx="18.5" cy="30.5" r="1.7" fill="#fff" fill-opacity="0.85"/><circle cx="10.8" cy="23.6" r="2.0" fill="#fff" fill-opacity="0.85"/><circle cx="3.1" cy="18.7" r="1.7" fill="#fff" fill-opacity="0.85"/><circle cx="47.1" cy="18.7" r="1.7" fill="#fff" fill-opacity="0.85"/><circle cx="38.7" cy="-2.8" r="1.6" fill="#fff" fill-opacity="0.85"/><circle cx="38.7" cy="41.2" r="1.6" fill="#fff" fill-opacity="0.85"/><circle cx="39.5" cy="34.8" r="1.4" fill="#fff" fill-opacity="0.85"/><circle cx="20.4" cy="5.4" r="2.2" fill="#fff" fill-opacity="0.85"/><circle cx="29.1" cy="39.0" r="2.1" fill="#fff" fill-opacity="0.85"/><circle cx="29.4" cy="32.3" r="1.8" fill="#fff" fill-opacity="0.85"/><circle cx="4.5" cy="25.9" r="1.1" fill="#fff" fill-opacity="0.85"/><circle cx="6.3" cy="34.1" r="1.2" fill="#fff" fill-opacity="0.85"/><circle cx="4.0" cy="4.4" r="2.2" fill="#fff" fill-opacity="0.85"/><circle cx="7.9" cy="1.0" r="2.2" fill="#fff" fill-opacity="0.85"/><circle cx="7.9" cy="45.0" r="2.2" fill="#fff" fill-opacity="0.85"/><circle cx="5.3" cy="37.1" r="2.0" fill="#fff" fill-opacity="0.85"/><circle cx="36.8" cy="-2.1" r="1.9" fill="#fff" fill-opacity="0.85"/><circle cx="36.8" cy="41.9" r="1.9" fill="#fff" fill-opacity="0.85"/><circle cx="35.1" cy="1.6" r="2.1" fill="#fff" fill-opacity="0.85"/><circle cx="35.1" cy="45.6" r="2.1" fill="#fff" fill-opacity="0.85"/><circle cx="22.5" cy="31.5" r="1.2" fill="#fff" fill-opacity="0.85"/><circle cx="33.0" cy="-2.9" r="1.2" fill="#fff" fill-opacity="0.85"/><circle cx="33.0" cy="41.1" r="1.2" fill="#fff" fill-opacity="0.85"/><circle cx="14.3" cy="24.8" r="2.2" fill="#fff" fill-opacity="0.85"/><circle cx="10.7" cy="7.9" r="1.4" fill="#fff" fill-opacity="0.85"/><circle cx="27.1" cy="33.2" r="1.6" fill="#fff" fill-opacity="0.85"/><circle cx="16.2" cy="17.5" r="1.6" fill="#fff" fill-opacity="0.85"/><circle cx="18.4" cy="3.7" r="1.8" fill="#fff" fill-opacity="0.85"/><circle cx="18.4" cy="47.7" r="1.8" fill="#fff" fill-opacity="0.85"/><circle cx="-1.2" cy="18.2" r="2.1" fill="#fff" fill-opacity="0.85"/><circle cx="42.8" cy="18.2" r="2.1" fill="#fff" fill-opacity="0.85"/><circle cx="7.1" cy="30.4" r="2.1" fill="#fff" fill-opacity="0.85"/><circle cx="29.6" cy="22.8" r="1.7" fill="#fff" fill-opacity="0.85"/><circle cx="28.3" cy="39.5" r="1.3" fill="#fff" fill-opacity="0.85"/><circle cx="4.2" cy="32.9" r="2.3" fill="#fff" fill-opacity="0.85"/><circle cx="22.8" cy="19.5" r="2.0" fill="#fff" fill-opacity="0.85"/><circle cx="8.2" cy="11.8" r="1.4" fill="#fff" fill-opacity="0.85"/><circle cx="25.8" cy="13.9" r="1.4" fill="#fff" fill-opacity="0.85"/><circle cx="30.4" cy="-2.0" r="1.5" fill="#fff" fill-opacity="0.85"/><circle cx="30.4" cy="42.0" r="1.5" fill="#fff" fill-opacity="0.85"/><circle cx="31.0" cy="18.2" r="2.2" fill="#fff" fill-opacity="0.85"/><circle cx="25.7" cy="11.8" r="1.4" fill="#fff" fill-opacity="0.85"/><circle cx="1.0" cy="21.1" r="1.6" fill="#fff" fill-opacity="0.85"/><circle cx="45.0" cy="21.1" r="1.6" fill="#fff" fill-opacity="0.85"/><circle cx="7.6" cy="15.9" r="1.5" fill="#fff" fill-opacity="0.85"/><circle cx="34.1" cy="6.3" r="2.4" fill="#fff" fill-opacity="0.85"/><circle cx="21.1" cy="26.4" r="1.7" fill="#fff" fill-opacity="0.85"/><circle cx="36.7" cy="36.2" r="1.8" fill="#fff" fill-opacity="0.85"/><circle cx="21.2" cy="31.7" r="2.2" fill="#fff" fill-opacity="0.85"/><circle cx="17.6" cy="32.3" r="2.3" fill="#fff" fill-opacity="0.85"/><circle cx="20.6" cy="10.1" r="1.4" fill="#fff" fill-opacity="0.85"/><circle cx="31.6" cy="29.7" r="2.3" fill="#fff" fill-opacity="0.85"/><circle cx="37.6" cy="10.7" r="1.3" fill="#fff" fill-opacity="0.85"/><circle cx="11.4" cy="8.2" r="2.0" fill="#fff" fill-opacity="0.85"/><circle cx="37.8" cy="39.6" r="1.4" fill="#fff" fill-opacity="0.85"/><circle cx="38.1" cy="13.8" r="1.7" fill="#fff" fill-opacity="0.85"/><circle cx="32.1" cy="3.8" r="1.2" fill="#fff" fill-opacity="0.85"/><circle cx="32.1" cy="47.8" r="1.2" fill="#fff" fill-opacity="0.85"/><circle cx="36.7" cy="12.8" r="1.6" fill="#fff" fill-opacity="0.85"/><circle cx="25.5" cy="29.7" r="1.1" fill="#fff" fill-opacity="0.85"/><circle cx="14.7" cy="19.2" r="1.7" fill="#fff" fill-opacity="0.85"/><circle cx="9.2" cy="25.7" r="2.3" fill="#fff" fill-opacity="0.85"/><circle cx="17.2" cy="24.0" r="1.3" fill="#fff" fill-opacity="0.85"/><circle cx="12.1" cy="29.3" r="1.2" fill="#fff" fill-opacity="0.85"/><circle cx="39.0" cy="40.0" r="1.2" fill="#fff" fill-opacity="0.85"/><circle cx="-2.6" cy="16.5" r="2.1" fill="#fff" fill-opacity="0.85"/><circle cx="41.4" cy="16.5" r="2.1" fill="#fff" fill-opacity="0.85"/><circle cx="33.3" cy="13.0" r="2.0" fill="#fff" fill-opacity="0.85"/><circle cx="28.8" cy="35.5" r="1.4" fill="#fff" fill-opacity="0.85"/><circle cx="33.2" cy="-1.7" r="2.0" fill="#fff" fill-opacity="0.85"/><circle cx="33.2" cy="42.3" r="2.0" fill="#fff" fill-opacity="0.85"/><circle cx="23.6" cy="5.0" r="1.7" fill="#fff" fill-opacity="0.85"/><circle cx="15.5" cy="31.6" r="2.0" fill="#fff" fill-opacity="0.85"/><circle cx="24.9" cy="8.0" r="1.9" fill="#fff" fill-opacity="0.85"/><circle cx="27.8" cy="7.9" r="2.3" fill="#fff" fill-opacity="0.85"/><circle cx="28.8" cy="5.4" r="2.3" fill="#fff" fill-opacity="0.85"/><circle cx="6.2" cy="14.6" r="2.0" fill="#fff" fill-opacity="0.85"/><circle cx="26.3" cy="24.4" r="1.9" fill="#fff" fill-opacity="0.85"/><circle cx="20.1" cy="13.7" r="1.3" fill="#fff" fill-opacity="0.85"/><circle cx="3.0" cy="31.5" r="2.1" fill="#fff" fill-opacity="0.85"/><circle cx="47.0" cy="31.5" r="2.1" fill="#fff" fill-opacity="0.85"/><circle cx="23.9" cy="32.5" r="1.6" fill="#fff" fill-opacity="0.85"/><circle cx="11.7" cy="16.9" r="2.2" fill="#fff" fill-opacity="0.85"/><circle cx="1.9" cy="22.2" r="1.4" fill="#fff" fill-opacity="0.85"/><circle cx="45.9" cy="22.2" r="1.4" fill="#fff" fill-opacity="0.85"/><circle cx="33.8" cy="15.6" r="1.5" fill="#fff" fill-opacity="0.85"/><circle cx="17.7" cy="23.8" r="2.1" fill="#fff" fill-opacity="0.85"/><circle cx="15.5" cy="37.3" r="1.2" fill="#fff" fill-opacity="0.85"/><circle cx="11.9" cy="4.4" r="1.2" fill="#fff" fill-opacity="0.85"/><circle cx="34.3" cy="32.0" r="1.3" fill="#fff" fill-opacity="0.85"/><circle cx="8.3" cy="18.3" r="2.1" fill="#fff" fill-opacity="0.85"/><circle cx="35.9" cy="32.9" r="1.9" fill="#fff" fill-opacity="0.85"/><circle cx="6.4" cy="17.5" r="1.4" fill="#fff" fill-opacity="0.85"/></pattern><pattern id="mesh2" width="44" height="44" patternUnits="userSpaceOnUse"><circle cx="23.2" cy="25.0" r="1.8" fill="#fff" fill-opacity="1"/><circle cx="11.0" cy="34.4" r="1.5" fill="#fff" fill-opacity="1"/><circle cx="35.3" cy="39.2" r="2.8" fill="#fff" fill-opacity="1"/><circle cx="16.9" cy="24.3" r="2.3" fill="#fff" fill-opacity="1"/><circle cx="27.9" cy="-1.0" r="2.5" fill="#fff" fill-opacity="1"/><circle cx="27.9" cy="43.0" r="2.5" fill="#fff" fill-opacity="1"/><circle cx="13.2" cy="37.8" r="2.2" fill="#fff" fill-opacity="1"/><circle cx="26.5" cy="32.0" r="1.5" fill="#fff" fill-opacity="1"/><circle cx="33.9" cy="29.1" r="2.2" fill="#fff" fill-opacity="1"/><circle cx="23.0" cy="20.3" r="1.8" fill="#fff" fill-opacity="1"/><circle cx="23.3" cy="1.6" r="2.2" fill="#fff" fill-opacity="1"/><circle cx="23.3" cy="45.6" r="2.2" fill="#fff" fill-opacity="1"/><circle cx="28.4" cy="19.5" r="2.3" fill="#fff" fill-opacity="1"/><circle cx="-1.8" cy="39.3" r="1.7" fill="#fff" fill-opacity="1"/><circle cx="42.2" cy="39.3" r="1.7" fill="#fff" fill-opacity="1"/><circle cx="34.9" cy="27.4" r="1.6" fill="#fff" fill-opacity="1"/><circle cx="15.8" cy="10.3" r="1.6" fill="#fff" fill-opacity="1"/><circle cx="23.7" cy="-3.1" r="2.0" fill="#fff" fill-opacity="1"/><circle cx="23.7" cy="40.9" r="2.0" fill="#fff" fill-opacity="1"/><circle cx="38.3" cy="30.6" r="1.7" fill="#fff" fill-opacity="1"/><circle cx="37.8" cy="26.4" r="2.8" fill="#fff" fill-opacity="1"/><circle cx="31.5" cy="32.5" r="2.0" fill="#fff" fill-opacity="1"/><circle cx="35.5" cy="-3.0" r="2.7" fill="#fff" fill-opacity="1"/><circle cx="35.5" cy="41.0" r="2.7" fill="#fff" fill-opacity="1"/><circle cx="19.2" cy="33.3" r="2.2" fill="#fff" fill-opacity="1"/><circle cx="4.8" cy="1.9" r="1.6" fill="#fff" fill-opacity="1"/><circle cx="4.8" cy="45.9" r="1.6" fill="#fff" fill-opacity="1"/><circle cx="8.8" cy="7.1" r="2.2" fill="#fff" fill-opacity="1"/><circle cx="30.8" cy="23.6" r="2.1" fill="#fff" fill-opacity="1"/><circle cx="28.6" cy="13.4" r="2.2" fill="#fff" fill-opacity="1"/><circle cx="33.3" cy="17.7" r="1.8" fill="#fff" fill-opacity="1"/><circle cx="39.6" cy="31.7" r="2.0" fill="#fff" fill-opacity="1"/><circle cx="16.3" cy="23.3" r="2.3" fill="#fff" fill-opacity="1"/><circle cx="9.8" cy="0.1" r="1.8" fill="#fff" fill-opacity="1"/><circle cx="9.8" cy="44.1" r="1.8" fill="#fff" fill-opacity="1"/><circle cx="34.5" cy="6.3" r="2.1" fill="#fff" fill-opacity="1"/><circle cx="8.6" cy="9.2" r="1.7" fill="#fff" fill-opacity="1"/><circle cx="17.8" cy="7.4" r="1.5" fill="#fff" fill-opacity="1"/><circle cx="4.8" cy="7.4" r="2.2" fill="#fff" fill-opacity="1"/><circle cx="2.6" cy="1.0" r="2.1" fill="#fff" fill-opacity="1"/><circle cx="2.6" cy="45.0" r="2.1" fill="#fff" fill-opacity="1"/><circle cx="46.6" cy="1.0" r="2.1" fill="#fff" fill-opacity="1"/><circle cx="46.6" cy="45.0" r="2.1" fill="#fff" fill-opacity="1"/><circle cx="17.9" cy="31.0" r="1.6" fill="#fff" fill-opacity="1"/><circle cx="17.7" cy="17.5" r="1.5" fill="#fff" fill-opacity="1"/><circle cx="-1.5" cy="9.6" r="1.6" fill="#fff" fill-opacity="1"/><circle cx="42.5" cy="9.6" r="1.6" fill="#fff" fill-opacity="1"/><circle cx="20.9" cy="7.2" r="2.4" fill="#fff" fill-opacity="1"/><circle cx="15.2" cy="5.5" r="1.6" fill="#fff" fill-opacity="1"/><circle cx="32.0" cy="12.1" r="2.6" fill="#fff" fill-opacity="1"/><circle cx="20.5" cy="-3.0" r="1.9" fill="#fff" fill-opacity="1"/><circle cx="20.5" cy="41.0" r="1.9" fill="#fff" fill-opacity="1"/><circle cx="11.0" cy="11.7" r="2.6" fill="#fff" fill-opacity="1"/><circle cx="27.7" cy="15.2" r="1.6" fill="#fff" fill-opacity="1"/><circle cx="30.0" cy="-1.4" r="2.3" fill="#fff" fill-opacity="1"/><circle cx="30.0" cy="42.6" r="2.3" fill="#fff" fill-opacity="1"/><circle cx="0.2" cy="1.3" r="1.6" fill="#fff" fill-opacity="1"/><circle cx="0.2" cy="45.3" r="1.6" fill="#fff" fill-opacity="1"/><circle cx="44.2" cy="1.3" r="1.6" fill="#fff" fill-opacity="1"/><circle cx="44.2" cy="45.3" r="1.6" fill="#fff" fill-opacity="1"/><circle cx="7.5" cy="1.6" r="1.6" fill="#fff" fill-opacity="1"/><circle cx="7.5" cy="45.6" r="1.6" fill="#fff" fill-opacity="1"/><circle cx="28.8" cy="39.6" r="1.8" fill="#fff" fill-opacity="1"/><circle cx="-1.2" cy="21.0" r="2.6" fill="#fff" fill-opacity="1"/><circle cx="42.8" cy="21.0" r="2.6" fill="#fff" fill-opacity="1"/><circle cx="-3.6" cy="-2.6" r="1.5" fill="#fff" fill-opacity="1"/><circle cx="-3.6" cy="41.4" r="1.5" fill="#fff" fill-opacity="1"/><circle cx="40.4" cy="-2.6" r="1.5" fill="#fff" fill-opacity="1"/><circle cx="40.4" cy="41.4" r="1.5" fill="#fff" fill-opacity="1"/><circle cx="13.4" cy="26.7" r="2.8" fill="#fff" fill-opacity="1"/><circle cx="3.9" cy="12.9" r="2.7" fill="#fff" fill-opacity="1"/><circle cx="47.9" cy="12.9" r="2.7" fill="#fff" fill-opacity="1"/><circle cx="5.0" cy="17.2" r="2.0" fill="#fff" fill-opacity="1"/><circle cx="29.9" cy="-3.1" r="1.7" fill="#fff" fill-opacity="1"/><circle cx="29.9" cy="40.9" r="1.7" fill="#fff" fill-opacity="1"/><circle cx="32.6" cy="32.3" r="2.7" fill="#fff" fill-opacity="1"/><circle cx="24.3" cy="-3.4" r="2.0" fill="#fff" fill-opacity="1"/><circle cx="24.3" cy="40.6" r="2.0" fill="#fff" fill-opacity="1"/><circle cx="18.2" cy="10.1" r="2.6" fill="#fff" fill-opacity="1"/><circle cx="21.1" cy="11.9" r="1.7" fill="#fff" fill-opacity="1"/><circle cx="31.7" cy="26.7" r="2.5" fill="#fff" fill-opacity="1"/><circle cx="17.0" cy="21.4" r="1.7" fill="#fff" fill-opacity="1"/><circle cx="31.3" cy="1.0" r="2.2" fill="#fff" fill-opacity="1"/><circle cx="31.3" cy="45.0" r="2.2" fill="#fff" fill-opacity="1"/><circle cx="33.4" cy="29.8" r="1.6" fill="#fff" fill-opacity="1"/><circle cx="10.4" cy="37.1" r="2.4" fill="#fff" fill-opacity="1"/><circle cx="38.7" cy="38.4" r="2.1" fill="#fff" fill-opacity="1"/><circle cx="39.5" cy="32.2" r="2.0" fill="#fff" fill-opacity="1"/><circle cx="16.3" cy="3.2" r="2.1" fill="#fff" fill-opacity="1"/><circle cx="16.3" cy="47.2" r="2.1" fill="#fff" fill-opacity="1"/><circle cx="-1.9" cy="4.6" r="2.3" fill="#fff" fill-opacity="1"/><circle cx="42.1" cy="4.6" r="2.3" fill="#fff" fill-opacity="1"/><circle cx="4.8" cy="3.6" r="2.4" fill="#fff" fill-opacity="1"/><circle cx="4.8" cy="47.6" r="2.4" fill="#fff" fill-opacity="1"/><circle cx="10.6" cy="2.1" r="1.7" fill="#fff" fill-opacity="1"/><circle cx="10.6" cy="46.1" r="1.7" fill="#fff" fill-opacity="1"/><circle cx="28.4" cy="25.8" r="1.5" fill="#fff" fill-opacity="1"/><circle cx="10.1" cy="-1.4" r="1.8" fill="#fff" fill-opacity="1"/><circle cx="10.1" cy="42.6" r="1.8" fill="#fff" fill-opacity="1"/><circle cx="24.7" cy="18.5" r="2.6" fill="#fff" fill-opacity="1"/><circle cx="26.6" cy="34.7" r="2.2" fill="#fff" fill-opacity="1"/><circle cx="8.3" cy="7.8" r="1.6" fill="#fff" fill-opacity="1"/><circle cx="36.3" cy="5.0" r="1.5" fill="#fff" fill-opacity="1"/><circle cx="-1.5" cy="8.8" r="2.8" fill="#fff" fill-opacity="1"/><circle cx="42.5" cy="8.8" r="2.8" fill="#fff" fill-opacity="1"/><circle cx="3.8" cy="20.5" r="1.8" fill="#fff" fill-opacity="1"/><circle cx="47.8" cy="20.5" r="1.8" fill="#fff" fill-opacity="1"/><circle cx="36.5" cy="27.1" r="2.4" fill="#fff" fill-opacity="1"/><circle cx="33.5" cy="38.4" r="2.0" fill="#fff" fill-opacity="1"/><circle cx="26.5" cy="19.6" r="1.7" fill="#fff" fill-opacity="1"/><circle cx="36.8" cy="26.2" r="2.6" fill="#fff" fill-opacity="1"/><circle cx="9.1" cy="23.7" r="2.1" fill="#fff" fill-opacity="1"/><circle cx="32.0" cy="3.4" r="2.0" fill="#fff" fill-opacity="1"/><circle cx="32.0" cy="47.4" r="2.0" fill="#fff" fill-opacity="1"/><circle cx="21.3" cy="3.1" r="2.3" fill="#fff" fill-opacity="1"/><circle cx="21.3" cy="47.1" r="2.3" fill="#fff" fill-opacity="1"/><circle cx="32.4" cy="18.6" r="2.4" fill="#fff" fill-opacity="1"/><circle cx="26.7" cy="9.4" r="2.0" fill="#fff" fill-opacity="1"/><circle cx="-0.2" cy="14.7" r="2.1" fill="#fff" fill-opacity="1"/><circle cx="43.8" cy="14.7" r="2.1" fill="#fff" fill-opacity="1"/><circle cx="3.7" cy="9.6" r="1.7" fill="#fff" fill-opacity="1"/><circle cx="47.7" cy="9.6" r="1.7" fill="#fff" fill-opacity="1"/><circle cx="-3.0" cy="32.0" r="2.7" fill="#fff" fill-opacity="1"/><circle cx="41.0" cy="32.0" r="2.7" fill="#fff" fill-opacity="1"/><circle cx="-0.6" cy="26.9" r="2.8" fill="#fff" fill-opacity="1"/><circle cx="43.4" cy="26.9" r="2.8" fill="#fff" fill-opacity="1"/><circle cx="23.6" cy="18.4" r="2.8" fill="#fff" fill-opacity="1"/><circle cx="39.7" cy="-2.2" r="2.2" fill="#fff" fill-opacity="1"/><circle cx="39.7" cy="41.8" r="2.2" fill="#fff" fill-opacity="1"/><circle cx="34.0" cy="17.9" r="2.9" fill="#fff" fill-opacity="1"/><circle cx="-3.5" cy="12.8" r="2.8" fill="#fff" fill-opacity="1"/><circle cx="40.5" cy="12.8" r="2.8" fill="#fff" fill-opacity="1"/><circle cx="8.1" cy="4.2" r="2.5" fill="#fff" fill-opacity="1"/><circle cx="12.9" cy="22.9" r="2.4" fill="#fff" fill-opacity="1"/><circle cx="1.8" cy="32.8" r="1.9" fill="#fff" fill-opacity="1"/><circle cx="45.8" cy="32.8" r="1.9" fill="#fff" fill-opacity="1"/><circle cx="19.0" cy="15.2" r="2.5" fill="#fff" fill-opacity="1"/><circle cx="32.9" cy="12.6" r="1.6" fill="#fff" fill-opacity="1"/><circle cx="13.2" cy="18.1" r="1.6" fill="#fff" fill-opacity="1"/><circle cx="6.7" cy="33.6" r="2.5" fill="#fff" fill-opacity="1"/><circle cx="-1.0" cy="-0.9" r="2.7" fill="#fff" fill-opacity="1"/><circle cx="-1.0" cy="43.1" r="2.7" fill="#fff" fill-opacity="1"/><circle cx="43.0" cy="-0.9" r="2.7" fill="#fff" fill-opacity="1"/><circle cx="43.0" cy="43.1" r="2.7" fill="#fff" fill-opacity="1"/><circle cx="16.4" cy="7.1" r="1.9" fill="#fff" fill-opacity="1"/><circle cx="20.4" cy="23.1" r="2.3" fill="#fff" fill-opacity="1"/><circle cx="15.8" cy="37.5" r="1.9" fill="#fff" fill-opacity="1"/><circle cx="20.4" cy="39.0" r="2.6" fill="#fff" fill-opacity="1"/><circle cx="13.1" cy="10.7" r="2.6" fill="#fff" fill-opacity="1"/><circle cx="0.4" cy="5.8" r="2.2" fill="#fff" fill-opacity="1"/><circle cx="44.4" cy="5.8" r="2.2" fill="#fff" fill-opacity="1"/><circle cx="23.6" cy="7.3" r="1.6" fill="#fff" fill-opacity="1"/><circle cx="9.0" cy="33.9" r="2.2" fill="#fff" fill-opacity="1"/><circle cx="-0.9" cy="34.6" r="2.9" fill="#fff" fill-opacity="1"/><circle cx="43.1" cy="34.6" r="2.9" fill="#fff" fill-opacity="1"/><circle cx="1.5" cy="8.1" r="1.5" fill="#fff" fill-opacity="1"/><circle cx="45.5" cy="8.1" r="1.5" fill="#fff" fill-opacity="1"/><circle cx="19.0" cy="14.9" r="1.6" fill="#fff" fill-opacity="1"/><circle cx="24.0" cy="4.1" r="1.9" fill="#fff" fill-opacity="1"/><circle cx="10.9" cy="35.3" r="2.1" fill="#fff" fill-opacity="1"/><circle cx="11.5" cy="1.9" r="2.1" fill="#fff" fill-opacity="1"/><circle cx="11.5" cy="45.9" r="2.1" fill="#fff" fill-opacity="1"/><circle cx="27.6" cy="29.7" r="2.8" fill="#fff" fill-opacity="1"/><circle cx="35.6" cy="10.9" r="1.7" fill="#fff" fill-opacity="1"/><circle cx="33.4" cy="34.7" r="2.2" fill="#fff" fill-opacity="1"/><circle cx="36.6" cy="24.3" r="1.9" fill="#fff" fill-opacity="1"/><circle cx="7.4" cy="0.8" r="2.4" fill="#fff" fill-opacity="1"/><circle cx="7.4" cy="44.8" r="2.4" fill="#fff" fill-opacity="1"/><circle cx="39.5" cy="39.9" r="2.2" fill="#fff" fill-opacity="1"/><circle cx="29.3" cy="-3.1" r="2.6" fill="#fff" fill-opacity="1"/><circle cx="29.3" cy="40.9" r="2.6" fill="#fff" fill-opacity="1"/><circle cx="26.5" cy="18.2" r="2.2" fill="#fff" fill-opacity="1"/><circle cx="7.5" cy="8.0" r="2.5" fill="#fff" fill-opacity="1"/><circle cx="-0.3" cy="24.1" r="2.1" fill="#fff" fill-opacity="1"/><circle cx="43.7" cy="24.1" r="2.1" fill="#fff" fill-opacity="1"/><circle cx="15.5" cy="20.0" r="2.6" fill="#fff" fill-opacity="1"/><circle cx="19.9" cy="-1.8" r="1.7" fill="#fff" fill-opacity="1"/><circle cx="19.9" cy="42.2" r="1.7" fill="#fff" fill-opacity="1"/><circle cx="13.9" cy="23.0" r="2.1" fill="#fff" fill-opacity="1"/><circle cx="37.4" cy="36.4" r="2.8" fill="#fff" fill-opacity="1"/><circle cx="26.9" cy="1.3" r="2.3" fill="#fff" fill-opacity="1"/><circle cx="26.9" cy="45.3" r="2.3" fill="#fff" fill-opacity="1"/><circle cx="24.2" cy="21.5" r="1.9" fill="#fff" fill-opacity="1"/><circle cx="31.2" cy="-3.9" r="1.6" fill="#fff" fill-opacity="1"/><circle cx="31.2" cy="40.1" r="1.6" fill="#fff" fill-opacity="1"/><circle cx="29.4" cy="16.3" r="2.2" fill="#fff" fill-opacity="1"/><circle cx="39.4" cy="-1.7" r="2.4" fill="#fff" fill-opacity="1"/><circle cx="39.4" cy="42.3" r="2.4" fill="#fff" fill-opacity="1"/><circle cx="8.6" cy="-3.5" r="1.8" fill="#fff" fill-opacity="1"/><circle cx="8.6" cy="40.5" r="1.8" fill="#fff" fill-opacity="1"/><circle cx="16.9" cy="36.4" r="1.9" fill="#fff" fill-opacity="1"/><circle cx="11.9" cy="-2.2" r="2.8" fill="#fff" fill-opacity="1"/><circle cx="11.9" cy="41.8" r="2.8" fill="#fff" fill-opacity="1"/><circle cx="14.0" cy="17.3" r="1.9" fill="#fff" fill-opacity="1"/><circle cx="5.8" cy="11.0" r="2.9" fill="#fff" fill-opacity="1"/><circle cx="3.5" cy="10.1" r="1.8" fill="#fff" fill-opacity="1"/><circle cx="47.5" cy="10.1" r="1.8" fill="#fff" fill-opacity="1"/><circle cx="3.5" cy="23.2" r="2.5" fill="#fff" fill-opacity="1"/><circle cx="47.5" cy="23.2" r="2.5" fill="#fff" fill-opacity="1"/><circle cx="36.9" cy="27.8" r="2.6" fill="#fff" fill-opacity="1"/><circle cx="0.2" cy="12.4" r="2.8" fill="#fff" fill-opacity="1"/><circle cx="44.2" cy="12.4" r="2.8" fill="#fff" fill-opacity="1"/><circle cx="3.1" cy="11.8" r="2.2" fill="#fff" fill-opacity="1"/><circle cx="47.1" cy="11.8" r="2.2" fill="#fff" fill-opacity="1"/><circle cx="11.8" cy="24.0" r="1.6" fill="#fff" fill-opacity="1"/><circle cx="10.4" cy="-1.9" r="1.7" fill="#fff" fill-opacity="1"/><circle cx="10.4" cy="42.1" r="1.7" fill="#fff" fill-opacity="1"/><circle cx="39.8" cy="7.8" r="2.9" fill="#fff" fill-opacity="1"/><circle cx="29.7" cy="28.5" r="1.7" fill="#fff" fill-opacity="1"/><circle cx="2.4" cy="33.4" r="1.7" fill="#fff" fill-opacity="1"/><circle cx="46.4" cy="33.4" r="1.7" fill="#fff" fill-opacity="1"/><circle cx="8.3" cy="36.2" r="2.7" fill="#fff" fill-opacity="1"/><circle cx="2.1" cy="-1.7" r="2.2" fill="#fff" fill-opacity="1"/><circle cx="2.1" cy="42.3" r="2.2" fill="#fff" fill-opacity="1"/><circle cx="46.1" cy="-1.7" r="2.2" fill="#fff" fill-opacity="1"/><circle cx="46.1" cy="42.3" r="2.2" fill="#fff" fill-opacity="1"/><circle cx="16.8" cy="4.7" r="2.0" fill="#fff" fill-opacity="1"/><circle cx="-0.5" cy="12.4" r="1.7" fill="#fff" fill-opacity="1"/><circle cx="43.5" cy="12.4" r="1.7" fill="#fff" fill-opacity="1"/><circle cx="6.4" cy="5.6" r="2.0" fill="#fff" fill-opacity="1"/><circle cx="-3.7" cy="3.4" r="1.8" fill="#fff" fill-opacity="1"/><circle cx="-3.7" cy="47.4" r="1.8" fill="#fff" fill-opacity="1"/><circle cx="40.3" cy="3.4" r="1.8" fill="#fff" fill-opacity="1"/><circle cx="40.3" cy="47.4" r="1.8" fill="#fff" fill-opacity="1"/><circle cx="-2.7" cy="-0.1" r="2.9" fill="#fff" fill-opacity="1"/><circle cx="-2.7" cy="43.9" r="2.9" fill="#fff" fill-opacity="1"/><circle cx="41.3" cy="-0.1" r="2.9" fill="#fff" fill-opacity="1"/><circle cx="41.3" cy="43.9" r="2.9" fill="#fff" fill-opacity="1"/><circle cx="10.8" cy="15.6" r="2.8" fill="#fff" fill-opacity="1"/><circle cx="21.3" cy="31.0" r="1.9" fill="#fff" fill-opacity="1"/><circle cx="0.9" cy="15.2" r="2.5" fill="#fff" fill-opacity="1"/><circle cx="44.9" cy="15.2" r="2.5" fill="#fff" fill-opacity="1"/><circle cx="34.4" cy="25.0" r="2.1" fill="#fff" fill-opacity="1"/><circle cx="23.7" cy="19.5" r="2.2" fill="#fff" fill-opacity="1"/><circle cx="36.7" cy="8.8" r="2.3" fill="#fff" fill-opacity="1"/><circle cx="-3.0" cy="37.3" r="1.8" fill="#fff" fill-opacity="1"/><circle cx="41.0" cy="37.3" r="1.8" fill="#fff" fill-opacity="1"/><circle cx="-1.6" cy="37.0" r="1.7" fill="#fff" fill-opacity="1"/><circle cx="42.4" cy="37.0" r="1.7" fill="#fff" fill-opacity="1"/><circle cx="11.7" cy="8.9" r="1.6" fill="#fff" fill-opacity="1"/><circle cx="-1.0" cy="18.0" r="2.7" fill="#fff" fill-opacity="1"/><circle cx="43.0" cy="18.0" r="2.7" fill="#fff" fill-opacity="1"/><circle cx="5.0" cy="0.6" r="2.7" fill="#fff" fill-opacity="1"/><circle cx="5.0" cy="44.6" r="2.7" fill="#fff" fill-opacity="1"/><circle cx="34.9" cy="-0.4" r="2.5" fill="#fff" fill-opacity="1"/><circle cx="34.9" cy="43.6" r="2.5" fill="#fff" fill-opacity="1"/><circle cx="23.1" cy="33.7" r="1.6" fill="#fff" fill-opacity="1"/><circle cx="23.8" cy="19.4" r="1.7" fill="#fff" fill-opacity="1"/><circle cx="26.4" cy="14.2" r="2.2" fill="#fff" fill-opacity="1"/><circle cx="16.4" cy="14.0" r="2.0" fill="#fff" fill-opacity="1"/><circle cx="26.4" cy="-0.9" r="2.8" fill="#fff" fill-opacity="1"/><circle cx="26.4" cy="43.1" r="2.8" fill="#fff" fill-opacity="1"/><circle cx="37.9" cy="36.7" r="1.9" fill="#fff" fill-opacity="1"/><circle cx="-1.0" cy="11.9" r="1.7" fill="#fff" fill-opacity="1"/><circle cx="43.0" cy="11.9" r="1.7" fill="#fff" fill-opacity="1"/><circle cx="22.0" cy="32.2" r="2.0" fill="#fff" fill-opacity="1"/><circle cx="28.4" cy="12.4" r="2.9" fill="#fff" fill-opacity="1"/><circle cx="19.9" cy="21.0" r="2.2" fill="#fff" fill-opacity="1"/><circle cx="38.5" cy="-0.6" r="2.2" fill="#fff" fill-opacity="1"/><circle cx="38.5" cy="43.4" r="2.2" fill="#fff" fill-opacity="1"/><circle cx="19.4" cy="27.2" r="1.6" fill="#fff" fill-opacity="1"/><circle cx="18.7" cy="37.3" r="2.6" fill="#fff" fill-opacity="1"/><circle cx="2.6" cy="37.6" r="2.0" fill="#fff" fill-opacity="1"/><circle cx="46.6" cy="37.6" r="2.0" fill="#fff" fill-opacity="1"/><circle cx="-0.8" cy="16.1" r="1.8" fill="#fff" fill-opacity="1"/><circle cx="43.2" cy="16.1" r="1.8" fill="#fff" fill-opacity="1"/><circle cx="24.1" cy="38.9" r="2.1" fill="#fff" fill-opacity="1"/><circle cx="38.2" cy="31.3" r="2.0" fill="#fff" fill-opacity="1"/><circle cx="13.2" cy="22.2" r="2.1" fill="#fff" fill-opacity="1"/><circle cx="16.4" cy="28.7" r="2.7" fill="#fff" fill-opacity="1"/><circle cx="25.7" cy="6.4" r="1.8" fill="#fff" fill-opacity="1"/><circle cx="16.3" cy="27.0" r="1.7" fill="#fff" fill-opacity="1"/><circle cx="3.6" cy="14.1" r="1.9" fill="#fff" fill-opacity="1"/><circle cx="47.6" cy="14.1" r="1.9" fill="#fff" fill-opacity="1"/><circle cx="1.3" cy="23.7" r="2.8" fill="#fff" fill-opacity="1"/><circle cx="45.3" cy="23.7" r="2.8" fill="#fff" fill-opacity="1"/><circle cx="23.5" cy="32.4" r="2.7" fill="#fff" fill-opacity="1"/><circle cx="36.9" cy="-3.8" r="2.1" fill="#fff" fill-opacity="1"/><circle cx="36.9" cy="40.2" r="2.1" fill="#fff" fill-opacity="1"/><circle cx="30.0" cy="5.3" r="2.7" fill="#fff" fill-opacity="1"/><circle cx="16.6" cy="20.9" r="2.7" fill="#fff" fill-opacity="1"/><circle cx="12.6" cy="8.4" r="2.7" fill="#fff" fill-opacity="1"/><circle cx="26.3" cy="3.7" r="1.5" fill="#fff" fill-opacity="1"/><circle cx="26.3" cy="47.7" r="1.5" fill="#fff" fill-opacity="1"/><circle cx="15.5" cy="0.3" r="2.7" fill="#fff" fill-opacity="1"/><circle cx="15.5" cy="44.3" r="2.7" fill="#fff" fill-opacity="1"/><circle cx="8.1" cy="12.1" r="2.0" fill="#fff" fill-opacity="1"/><circle cx="22.5" cy="19.0" r="2.4" fill="#fff" fill-opacity="1"/><circle cx="29.0" cy="19.2" r="1.6" fill="#fff" fill-opacity="1"/><circle cx="-0.9" cy="30.4" r="1.6" fill="#fff" fill-opacity="1"/><circle cx="43.1" cy="30.4" r="1.6" fill="#fff" fill-opacity="1"/><circle cx="19.4" cy="33.2" r="2.9" fill="#fff" fill-opacity="1"/><circle cx="2.9" cy="0.4" r="2.2" fill="#fff" fill-opacity="1"/><circle cx="2.9" cy="44.4" r="2.2" fill="#fff" fill-opacity="1"/><circle cx="46.9" cy="0.4" r="2.2" fill="#fff" fill-opacity="1"/><circle cx="46.9" cy="44.4" r="2.2" fill="#fff" fill-opacity="1"/><circle cx="18.6" cy="39.4" r="2.7" fill="#fff" fill-opacity="1"/><circle cx="14.6" cy="18.4" r="2.3" fill="#fff" fill-opacity="1"/><circle cx="38.9" cy="8.9" r="2.0" fill="#fff" fill-opacity="1"/><circle cx="3.9" cy="28.2" r="1.5" fill="#fff" fill-opacity="1"/><circle cx="47.9" cy="28.2" r="1.5" fill="#fff" fill-opacity="1"/><circle cx="-2.9" cy="23.0" r="2.3" fill="#fff" fill-opacity="1"/><circle cx="41.1" cy="23.0" r="2.3" fill="#fff" fill-opacity="1"/><circle cx="3.8" cy="10.2" r="2.2" fill="#fff" fill-opacity="1"/><circle cx="47.8" cy="10.2" r="2.2" fill="#fff" fill-opacity="1"/><circle cx="37.7" cy="23.7" r="1.9" fill="#fff" fill-opacity="1"/></pattern></defs>
<clipPath id="cp9"><rect x="624.0" y="1342.0" width="210.0" height="210.0"/></clipPath><g clip-path="url(#cp9)">
<rect x="624.0" y="1342.0" width="210.0" height="210.0" fill="#ffffff"/>
<path d="M632.7,1436.4C633.7,1426.9 635.8,1417.8 639.0,1411.0C642.2,1404.3 647.5,1399.8 651.7,1395.8C655.9,1391.8 659.5,1388.2 664.4,1387.0C669.2,1385.7 676.4,1389.5 680.8,1388.2C685.3,1387.0 688.0,1382.9 691.0,1379.4C693.9,1375.8 693.5,1369.4 698.6,1366.7C703.6,1363.9 713.4,1363.1 721.4,1362.9C729.4,1362.7 739.3,1365.8 746.7,1365.4C754.1,1365.0 761.5,1362.0 765.7,1360.3C770.0,1358.7 767.8,1355.9 772.1,1355.3C776.3,1354.6 786.4,1352.5 791.1,1356.5C795.7,1360.6 796.8,1371.3 800.0,1379.4C803.1,1387.4 806.7,1396.3 810.1,1404.7C813.5,1413.1 817.7,1420.5 820.2,1430.0C822.8,1439.5 825.3,1452.2 825.3,1461.7C825.3,1471.2 822.8,1478.6 820.2,1487.1C817.7,1495.5 813.9,1505.0 810.1,1512.4C806.3,1519.8 802.7,1526.1 797.4,1531.4C792.1,1536.7 786.9,1540.5 778.4,1544.1C770.0,1547.7 756.2,1551.5 746.7,1553.0C737.2,1554.4 729.8,1553.8 721.4,1553.0C712.9,1552.1 704.5,1550.9 696.0,1547.9C687.6,1544.9 678.1,1540.1 670.7,1535.2C663.3,1530.4 657.0,1525.7 651.7,1518.8C646.4,1511.8 642.2,1501.9 639.0,1493.4C635.8,1485.0 633.7,1477.6 632.7,1468.1C631.6,1458.6 631.6,1445.9 632.7,1436.4Z" fill="#f8d2ce" filter="url(#b2_5)"/>
<path d="M759.4,1373.0C767.8,1367.7 787.3,1368.8 797.4,1379.4C807.6,1389.9 817.1,1416.3 820.2,1436.4C823.4,1456.4 822.3,1489.2 816.4,1499.7C810.5,1510.3 794.2,1506.1 784.7,1499.7C775.2,1493.4 765.7,1476.5 759.4,1461.7C753.1,1446.9 746.7,1425.8 746.7,1411.0C746.7,1396.3 751.0,1378.3 759.4,1373.0Z" fill="#f6c2c2" filter="url(#b7)"/>
<path d="M632.7,1423.7C637.5,1415.3 658.0,1417.4 664.4,1423.7C670.7,1430.0 671.7,1452.2 670.7,1461.7C669.6,1471.2 663.9,1478.6 658.0,1480.7C652.1,1482.8 639.4,1483.9 635.2,1474.4C631.0,1464.9 627.8,1432.2 632.7,1423.7Z" fill="#fdf0ea" filter="url(#b7)"/>
<path d="M693.5,1400.9C699.8,1393.1 725.2,1392.0 734.1,1395.8C742.9,1399.6 744.6,1412.7 746.7,1423.7C748.8,1434.7 748.8,1452.2 746.7,1461.7C744.6,1471.2 740.4,1478.6 734.1,1480.7C727.7,1482.8 715.0,1480.7 708.7,1474.4C702.4,1468.1 698.6,1455.0 696.0,1442.7C693.5,1430.5 687.2,1408.7 693.5,1400.9Z" fill="#fff6ee" filter="url(#b7)"/>
<path d="M642.8,1468.1C647.5,1460.7 663.9,1463.8 677.0,1468.1C690.1,1472.3 712.9,1481.8 721.4,1493.4C729.8,1505.0 730.9,1528.7 727.7,1537.8C724.5,1546.8 711.9,1548.3 702.4,1547.9C692.9,1547.5 679.6,1541.1 670.7,1535.2C661.8,1529.3 653.8,1523.6 649.1,1512.4C644.5,1501.2 638.2,1475.5 642.8,1468.1Z" fill="#ee6676" opacity="0.9" filter="url(#b8)"/>
<path d="M680.8,1497.2C685.9,1491.3 710.4,1491.3 716.3,1497.2C722.2,1503.1 721.4,1526.8 716.3,1532.7C711.2,1538.6 691.8,1538.6 685.9,1532.7C680.0,1526.8 675.8,1503.1 680.8,1497.2Z" fill="#e63850" filter="url(#b7)"/>
<path d="M759.4,1474.4C765.7,1466.0 802.1,1467.0 810.1,1474.4C818.1,1481.8 813.9,1510.3 807.6,1518.8C801.2,1527.2 780.1,1532.5 772.1,1525.1C764.0,1517.7 753.1,1482.8 759.4,1474.4Z" fill="#f0a4ac" filter="url(#b8)"/>
<ellipse cx="751.2" cy="1394.6" rx="8.9" ry="11.4" fill="#e01830" filter="url(#b4)"/>
<ellipse cx="665.6" cy="1421.2" rx="5.1" ry="7.6" fill="#e8203c" filter="url(#b3)"/>
<ellipse cx="749.9" cy="1437.6" rx="4.4" ry="6.3" fill="#e02434" filter="url(#b3)"/>
</g>
<line x1="715.0" y1="1337.5" x2="713.0" y2="1358.9" stroke="#4a90d8" stroke-width="1.6"/>
<polygon points="711.9,1369.8 706.9,1356.3 719.4,1357.5" fill="#4a90d8"/>
<line x1="646.6" y1="1364.8" x2="656.6" y2="1378.7" stroke="#4a90d8" stroke-width="1.6"/>
<polygon points="663.1,1387.6 650.4,1380.7 660.5,1373.4" fill="#4a90d8"/>
<line x1="646.6" y1="1397.1" x2="656.8" y2="1411.5" stroke="#4a90d8" stroke-width="1.6"/>
<polygon points="663.1,1420.5 650.5,1413.5 660.7,1406.3" fill="#4a90d8"/>
<line x1="673.2" y1="1392.0" x2="683.8" y2="1406.6" stroke="#4a90d8" stroke-width="1.6"/>
<polygon points="690.3,1415.5 677.6,1408.7 687.7,1401.3" fill="#4a90d8"/>
<line x1="765.1" y1="1392.7" x2="756.3" y2="1412.4" stroke="#4a90d8" stroke-width="1.6"/>
<polygon points="751.8,1422.4 751.4,1408.0 762.8,1413.1" fill="#4a90d8"/>
<line x1="749.3" y1="1492.8" x2="759.2" y2="1508.2" stroke="#4a90d8" stroke-width="1.6"/>
<polygon points="765.1,1517.5 752.8,1509.9 763.3,1503.2" fill="#4a90d8"/>
<text x="770.6" y="1528.9" font-size="15.95" fill="#1a1a1a" stroke="#1a1a1a" stroke-width="0.45"><tspan>2mm</tspan></text>
<line x1="772.0" y1="1535.9" x2="807.3" y2="1535.9" stroke="#1a1a1a" stroke-width="3.0"/>
<clipPath id="cp10"><rect x="838.0" y="1342.0" width="202.0" height="210.0"/></clipPath><g clip-path="url(#cp10)">
<rect x="838.0" y="1342.0" width="202.0" height="210.0" fill="#ffffff"/>
<path d="M851.5,1392.0C852.7,1384.2 853.0,1381.5 856.5,1376.8C860.1,1372.2 867.1,1367.1 873.0,1364.1C878.9,1361.2 884.6,1359.7 892.0,1359.1C899.4,1358.4 910.0,1359.5 917.4,1360.3C924.8,1361.2 930.0,1361.4 936.4,1364.1C942.7,1366.9 949.1,1374.5 955.4,1376.8C961.7,1379.1 969.1,1374.1 974.4,1378.1C979.7,1382.1 981.8,1395.4 987.1,1400.9C992.4,1406.4 1000.8,1406.2 1006.1,1411.0C1011.4,1415.9 1015.0,1423.7 1018.8,1430.0C1022.6,1436.4 1027.2,1441.7 1028.9,1449.1C1030.6,1456.4 1030.6,1467.0 1028.9,1474.4C1027.2,1481.8 1023.6,1487.1 1018.8,1493.4C1013.9,1499.7 1005.0,1507.1 999.7,1512.4C994.5,1517.7 991.3,1520.9 987.1,1525.1C982.8,1529.3 978.6,1534.0 974.4,1537.8C970.2,1541.6 967.0,1545.8 961.7,1547.9C956.4,1550.0 948.0,1551.1 942.7,1550.4C937.4,1549.8 932.8,1548.3 930.0,1544.1C927.3,1539.9 928.4,1529.9 926.2,1525.1C924.1,1520.2 922.0,1517.1 917.4,1515.0C912.7,1512.8 904.7,1514.3 898.4,1512.4C892.0,1510.5 885.3,1506.7 879.4,1503.5C873.4,1500.4 866.5,1498.3 862.9,1493.4C859.3,1488.6 859.7,1480.7 857.8,1474.4C855.9,1468.1 853.0,1463.8 851.5,1455.4C850.0,1446.9 848.9,1434.3 848.9,1423.7C848.9,1413.1 850.2,1399.8 851.5,1392.0Z" fill="#f8d6d2" filter="url(#b2_5)"/>
<path d="M851.5,1385.7C859.9,1373.0 894.8,1373.0 904.7,1385.7C914.6,1398.4 914.2,1444.8 911.0,1461.7C907.9,1478.6 895.2,1487.1 885.7,1487.1C876.2,1487.1 859.7,1478.6 854.0,1461.7C848.3,1444.8 843.0,1398.4 851.5,1385.7Z" fill="#fbe8e2" filter="url(#b8)"/>
<path d="M923.7,1398.4C932.2,1388.2 971.2,1390.3 980.7,1400.9C990.2,1411.5 989.2,1451.6 980.7,1461.7C972.3,1471.9 939.5,1472.3 930.0,1461.7C920.5,1451.2 915.3,1408.5 923.7,1398.4Z" fill="#fbeae6" filter="url(#b7)"/>
<path d="M980.7,1436.4C988.8,1430.0 1021.5,1439.5 1028.9,1449.1C1036.3,1458.6 1029.9,1483.3 1025.1,1493.4C1020.2,1503.5 1007.1,1510.9 999.7,1509.9C992.4,1508.8 983.9,1499.3 980.7,1487.1C977.6,1474.8 972.7,1442.7 980.7,1436.4Z" fill="#f2a6b2" filter="url(#b8)"/>
<path d="M874.3,1364.1C880.0,1361.6 901.5,1358.4 911.0,1360.3C920.5,1362.2 928.8,1370.3 931.3,1375.6C933.8,1380.8 932.2,1389.9 926.2,1392.0C920.3,1394.1 904.1,1391.0 895.8,1388.2C887.6,1385.5 880.4,1379.6 876.8,1375.6C873.2,1371.5 868.6,1366.7 874.3,1364.1Z" fill="#e01028" filter="url(#b3_5)"/>
<ellipse cx="892.0" cy="1375.6" rx="8.9" ry="7.6" fill="#a80818" filter="url(#b4)"/>
<path d="M906.0,1392.0C908.5,1382.5 921.2,1381.5 923.7,1392.0C926.2,1402.6 923.7,1445.9 921.2,1455.4C918.6,1464.9 911.0,1459.6 908.5,1449.1C906.0,1438.5 903.4,1401.5 906.0,1392.0Z" fill="#e02838" filter="url(#b5)"/>
<ellipse cx="963.6" cy="1388.2" rx="13.9" ry="8.9" fill="#f04462" filter="url(#b4)"/>
<path d="M974.4,1402.2C977.4,1398.4 990.7,1401.1 993.4,1406.0C996.2,1410.8 993.8,1427.5 990.9,1431.3C987.9,1435.1 978.4,1433.6 975.7,1428.8C972.9,1423.9 971.4,1406.0 974.4,1402.2Z" fill="#d81428" filter="url(#b4)"/>
<path d="M946.5,1442.7C949.7,1437.4 964.7,1437.4 968.1,1442.7C971.4,1448.0 970.0,1469.1 966.8,1474.4C963.6,1479.7 952.4,1479.7 949.1,1474.4C945.7,1469.1 943.4,1448.0 946.5,1442.7Z" fill="#c01830" filter="url(#b4)"/>
<ellipse cx="959.8" cy="1449.1" rx="4.4" ry="3.8" fill="#600810" filter="url(#b4)"/>
<ellipse cx="870.5" cy="1487.1" rx="10.8" ry="13.9" fill="#e00c28" filter="url(#b2_5)"/>
<path d="M917.4,1480.7C921.6,1478.4 938.5,1478.4 942.7,1480.7C946.9,1483.1 946.9,1492.4 942.7,1494.7C938.5,1497.0 921.6,1497.0 917.4,1494.7C913.1,1492.4 913.1,1483.1 917.4,1480.7Z" fill="#e83040" filter="url(#b5)"/>
<ellipse cx="964.3" cy="1535.2" rx="7.6" ry="6.3" fill="#e01830" filter="url(#b3)"/>
</g>
<line x1="840.1" y1="1361.0" x2="850.2" y2="1375.4" stroke="#4a90d8" stroke-width="1.6"/>
<polygon points="856.5,1384.4 844.0,1377.4 854.2,1370.2" fill="#4a90d8"/>
<line x1="975.0" y1="1355.3" x2="967.9" y2="1372.4" stroke="#4a90d8" stroke-width="1.6"/>
<polygon points="963.6,1382.5 962.9,1368.1 974.4,1372.9" fill="#4a90d8"/>
<line x1="845.8" y1="1455.4" x2="855.6" y2="1470.3" stroke="#4a90d8" stroke-width="1.6"/>
<polygon points="861.6,1479.5 849.2,1472.0 859.7,1465.2" fill="#4a90d8"/>
<line x1="900.3" y1="1444.6" x2="909.8" y2="1458.4" stroke="#4a90d8" stroke-width="1.6"/>
<polygon points="916.1,1467.4 903.6,1460.3 913.8,1453.2" fill="#4a90d8"/>
<line x1="892.7" y1="1457.9" x2="902.3" y2="1472.3" stroke="#4a90d8" stroke-width="1.6"/>
<polygon points="908.5,1481.4 896.0,1474.1 906.4,1467.1" fill="#4a90d8"/>
<line x1="1013.7" y1="1423.7" x2="1006.5" y2="1440.8" stroke="#4a90d8" stroke-width="1.6"/>
<polygon points="1002.3,1451.0 1001.5,1436.5 1013.1,1441.4" fill="#4a90d8"/>
<line x1="972.5" y1="1445.3" x2="965.9" y2="1461.7" stroke="#4a90d8" stroke-width="1.6"/>
<polygon points="961.7,1471.9 960.8,1457.5 972.4,1462.2" fill="#4a90d8"/>
<line x1="945.9" y1="1464.3" x2="938.8" y2="1480.8" stroke="#4a90d8" stroke-width="1.6"/>
<polygon points="934.5,1490.9 933.9,1476.5 945.3,1481.4" fill="#4a90d8"/>
<line x1="989.0" y1="1480.7" x2="981.8" y2="1497.8" stroke="#4a90d8" stroke-width="1.6"/>
<polygon points="977.6,1508.0 976.8,1493.6 988.4,1498.4" fill="#4a90d8"/>
<line x1="966.2" y1="1499.7" x2="959.0" y2="1516.8" stroke="#4a90d8" stroke-width="1.6"/>
<polygon points="954.8,1527.0 954.0,1512.6 965.5,1517.4" fill="#4a90d8"/>
<text x="971.7" y="1535.9" font-size="15.62" fill="#1a1a1a" stroke="#1a1a1a" stroke-width="0.45"><tspan>2mm</tspan></text>
<line x1="973.1" y1="1541.9" x2="1007.3" y2="1541.9" stroke="#1a1a1a" stroke-width="3.0"/>
<clipPath id="cp11"><rect x="1070.1" y="1342.0" width="202.7" height="211.0"/></clipPath><g clip-path="url(#cp11)">
<rect x="1070.1" y="1342.0" width="202.7" height="211.0" fill="#f1efef"/>
<path d="M1077.7,1423.7C1079.2,1414.2 1079.8,1401.5 1084.0,1392.0C1088.2,1382.5 1095.6,1372.6 1103.0,1366.7C1110.4,1360.8 1118.9,1358.4 1128.4,1356.5C1137.9,1354.6 1150.5,1354.6 1160.0,1355.3C1169.5,1355.9 1176.9,1358.4 1185.4,1360.3C1193.8,1362.2 1202.3,1364.6 1210.7,1366.7C1219.2,1368.8 1227.6,1370.3 1236.1,1373.0C1244.5,1375.8 1255.3,1378.9 1261.4,1383.2C1267.6,1387.4 1270.5,1385.3 1272.8,1398.4C1275.2,1411.5 1275.4,1442.7 1275.4,1461.7C1275.4,1480.7 1275.2,1500.8 1272.8,1512.4C1270.5,1524.0 1266.5,1527.2 1261.4,1531.4C1256.4,1535.7 1249.8,1535.7 1242.4,1537.8C1235.0,1539.9 1226.6,1543.3 1217.1,1544.1C1207.6,1544.9 1194.9,1544.9 1185.4,1542.8C1175.9,1540.7 1167.4,1535.4 1160.0,1531.4C1152.7,1527.4 1147.4,1519.8 1141.0,1518.8C1134.7,1517.7 1128.4,1524.5 1122.0,1525.1C1115.7,1525.7 1108.9,1525.7 1103.0,1522.6C1097.1,1519.4 1090.8,1513.1 1086.5,1506.1C1082.3,1499.1 1079.6,1490.2 1077.7,1480.7C1075.8,1471.2 1075.1,1458.6 1075.1,1449.1C1075.1,1439.5 1076.2,1433.2 1077.7,1423.7Z" fill="#f8dad4" filter="url(#b3)"/>
<path d="M1080.2,1398.4C1089.7,1384.6 1122.4,1368.8 1134.7,1366.7C1146.9,1364.6 1152.7,1367.7 1153.7,1385.7C1154.8,1403.6 1146.3,1452.2 1141.0,1474.4C1135.8,1496.6 1130.5,1513.5 1122.0,1518.8C1113.6,1524.0 1097.7,1517.7 1090.3,1506.1C1083.0,1494.5 1079.4,1467.0 1077.7,1449.1C1076.0,1431.1 1070.7,1412.1 1080.2,1398.4Z" fill="#fcebe0" filter="url(#b7)"/>
<path d="M1084.0,1392.0C1088.0,1380.6 1094.4,1372.4 1103.0,1367.9C1111.7,1363.5 1128.8,1360.3 1136.0,1365.4C1143.1,1370.5 1146.1,1384.4 1146.1,1398.4C1146.1,1412.3 1139.3,1432.2 1136.0,1449.1C1132.6,1466.0 1131.3,1488.1 1125.8,1499.7C1120.3,1511.4 1109.8,1519.8 1103.0,1518.8C1096.3,1517.7 1089.3,1507.1 1085.3,1493.4C1081.3,1479.7 1079.2,1453.3 1078.9,1436.4C1078.7,1419.5 1080.0,1403.4 1084.0,1392.0Z" fill="#fdf0e6" opacity="0.7" filter="url(#b9)"/>
<ellipse cx="1089.1" cy="1474.4" rx="11.4" ry="12.7" fill="#f0a48c" filter="url(#b5)"/>
<path d="M1172.7,1385.7C1185.4,1376.2 1235.4,1378.3 1248.8,1392.0C1262.1,1405.8 1259.9,1454.3 1252.6,1468.1C1245.2,1481.8 1217.7,1477.6 1204.4,1474.4C1191.1,1471.2 1178.0,1463.8 1172.7,1449.1C1167.4,1434.3 1160.0,1395.2 1172.7,1385.7Z" fill="#f5c6c2" filter="url(#b8)"/>
<ellipse cx="1210.7" cy="1436.4" rx="25.3" ry="19.0" fill="#f0acac" filter="url(#b9)"/>
<path d="M1147.4,1468.1C1160.0,1458.6 1215.0,1456.4 1229.7,1468.1C1244.5,1479.7 1244.5,1525.1 1236.1,1537.8C1227.6,1550.4 1192.8,1546.2 1179.1,1544.1C1165.3,1542.0 1159.0,1537.8 1153.7,1525.1C1148.4,1512.4 1134.7,1477.6 1147.4,1468.1Z" fill="#f4d0cc" filter="url(#b7)"/>
<path d="M1146.1,1411.0C1148.9,1407.4 1155.4,1406.4 1158.8,1408.5C1162.2,1410.6 1165.3,1416.9 1166.4,1423.7C1167.4,1430.5 1166.8,1440.6 1165.1,1449.1C1163.4,1457.5 1159.2,1467.0 1156.2,1474.4C1153.3,1481.8 1150.8,1487.1 1147.4,1493.4C1144.0,1499.7 1139.1,1509.7 1136.0,1512.4C1132.8,1515.2 1128.4,1515.2 1128.4,1509.9C1128.4,1504.6 1133.9,1490.9 1136.0,1480.7C1138.1,1470.6 1140.0,1457.5 1141.0,1449.1C1142.1,1440.6 1141.5,1436.4 1142.3,1430.0C1143.1,1423.7 1143.4,1414.6 1146.1,1411.0Z" fill="#c81428" filter="url(#b4)"/>
<ellipse cx="1155.6" cy="1417.4" rx="5.1" ry="6.3" fill="#8a0e1c" filter="url(#b4)"/>
<path d="M1125.8,1493.4C1128.4,1489.8 1138.1,1493.0 1141.0,1497.2C1144.0,1501.4 1146.1,1515.2 1143.6,1518.8C1141.0,1522.3 1128.8,1523.0 1125.8,1518.8C1122.9,1514.5 1123.3,1497.0 1125.8,1493.4Z" fill="#e8a0a8" filter="url(#b6)"/>
<ellipse cx="1167.6" cy="1509.9" rx="6.3" ry="10.1" fill="#e84858" filter="url(#b3)"/>
<ellipse cx="1200.6" cy="1512.4" rx="5.1" ry="5.1" fill="#e85060" filter="url(#b3)"/>
<ellipse cx="1184.1" cy="1533.3" rx="5.1" ry="4.4" fill="#e02840" filter="url(#b3)"/>
<ellipse cx="1233.5" cy="1418.6" rx="6.3" ry="5.1" fill="#e86068" filter="url(#b3)"/>
</g>
<line x1="1106.8" y1="1430.7" x2="1098.5" y2="1449.7" stroke="#4a90d8" stroke-width="1.6"/>
<polygon points="1094.1,1459.8 1093.6,1445.4 1105.1,1450.4" fill="#4a90d8"/>
<line x1="1239.2" y1="1383.2" x2="1232.0" y2="1400.9" stroke="#4a90d8" stroke-width="1.6"/>
<polygon points="1227.8,1411.0 1227.0,1396.6 1238.6,1401.4" fill="#4a90d8"/>
<line x1="1272.8" y1="1447.8" x2="1254.2" y2="1453.5" stroke="#4a90d8" stroke-width="1.6"/>
<polygon points="1243.7,1456.7 1254.3,1446.9 1257.9,1458.9" fill="#4a90d8"/>
<line x1="1177.2" y1="1476.9" x2="1169.5" y2="1494.7" stroke="#4a90d8" stroke-width="1.6"/>
<polygon points="1165.1,1504.8 1164.5,1490.4 1176.0,1495.4" fill="#4a90d8"/>
<line x1="1208.8" y1="1476.3" x2="1201.6" y2="1494.0" stroke="#4a90d8" stroke-width="1.6"/>
<polygon points="1197.4,1504.2 1196.6,1489.8 1208.1,1494.5" fill="#4a90d8"/>
<line x1="1209.5" y1="1532.1" x2="1192.6" y2="1531.3" stroke="#4a90d8" stroke-width="1.6"/>
<polygon points="1181.6,1530.8 1194.9,1525.1 1194.3,1537.6" fill="#4a90d8"/>
<text x="1216.3" y="1535.9" font-size="15.62" fill="#1a1a1a" stroke="#1a1a1a" stroke-width="0.45"><tspan>2mm</tspan></text>
<line x1="1217.7" y1="1541.6" x2="1253.2" y2="1541.6" stroke="#1a1a1a" stroke-width="3.0"/>
<clipPath id="cp12"><rect x="1281.1" y="1342.6" width="204.9" height="209.1"/></clipPath><g clip-path="url(#cp12)">
<rect x="1281.1" y="1342.6" width="204.9" height="209.1" fill="#fdf6f6"/>
<path d="M1281.3,1411.0C1286.6,1381.5 1299.3,1380.4 1313.0,1373.0C1326.7,1365.6 1350.0,1370.5 1363.7,1366.7C1377.4,1362.9 1380.6,1353.4 1395.4,1350.2C1410.2,1347.0 1437.6,1343.9 1452.4,1347.7C1467.2,1351.5 1478.2,1354.0 1484.1,1373.0C1490.0,1392.0 1487.9,1432.2 1487.9,1461.7C1487.9,1491.3 1518.5,1535.7 1484.1,1550.4C1449.7,1565.2 1315.1,1573.7 1281.3,1550.4C1247.5,1527.2 1276.1,1440.6 1281.3,1411.0Z" fill="#f8e2e4" filter="url(#b12)"/>
<path d="M1287.7,1449.1C1288.3,1437.4 1290.2,1421.2 1294.0,1411.0C1297.8,1400.9 1304.1,1393.9 1310.5,1388.2C1316.8,1382.5 1324.2,1379.1 1332.0,1376.8C1339.8,1374.5 1350.4,1372.8 1357.4,1374.3C1364.3,1375.8 1370.7,1379.6 1373.8,1385.7C1377.0,1391.8 1378.1,1403.6 1376.4,1411.0C1374.7,1418.4 1367.9,1423.7 1363.7,1430.0C1359.5,1436.4 1353.1,1439.5 1351.0,1449.1C1348.9,1458.6 1348.9,1476.5 1351.0,1487.1C1353.1,1497.6 1359.5,1504.0 1363.7,1512.4C1367.9,1520.9 1375.3,1531.8 1376.4,1537.8C1377.4,1543.7 1375.3,1546.8 1370.0,1547.9C1364.8,1549.0 1352.1,1547.9 1344.7,1544.1C1337.3,1540.3 1332.0,1531.4 1325.7,1525.1C1319.4,1518.8 1312.6,1513.5 1306.7,1506.1C1300.8,1498.7 1293.4,1490.2 1290.2,1480.7C1287.0,1471.2 1287.0,1460.7 1287.7,1449.1Z" fill="#fcebe4" filter="url(#b2_5)"/>
<path d="M1391.6,1373.0C1394.8,1364.1 1395.8,1361.0 1401.7,1357.8C1407.6,1354.6 1418.6,1353.0 1427.1,1354.0C1435.5,1355.1 1445.0,1357.8 1452.4,1364.1C1459.8,1370.5 1466.8,1382.1 1471.4,1392.0C1476.1,1402.0 1479.2,1412.1 1480.3,1423.7C1481.4,1435.3 1480.3,1449.1 1477.8,1461.7C1475.2,1474.4 1470.4,1488.1 1465.1,1499.7C1459.8,1511.4 1452.4,1524.0 1446.1,1531.4C1439.7,1538.8 1434.5,1541.4 1427.1,1544.1C1419.7,1546.8 1409.1,1549.0 1401.7,1547.9C1394.3,1546.8 1386.3,1543.7 1382.7,1537.8C1379.1,1531.8 1380.2,1523.0 1380.2,1512.4C1380.2,1501.9 1382.9,1485.0 1382.7,1474.4C1382.5,1463.8 1378.9,1459.6 1378.9,1449.1C1378.9,1438.5 1380.6,1423.7 1382.7,1411.0C1384.8,1398.4 1388.4,1381.9 1391.6,1373.0Z" fill="#fceee8" filter="url(#b2_5)"/>
<path d="M1420.7,1446.5C1426.0,1442.3 1447.1,1444.4 1452.4,1449.1C1457.7,1453.7 1457.7,1470.2 1452.4,1474.4C1447.1,1478.6 1426.0,1479.0 1420.7,1474.4C1415.5,1469.8 1415.5,1450.7 1420.7,1446.5Z" fill="#f4c4c4" filter="url(#b8)"/>
<path d="M1332.0,1423.7C1336.3,1412.1 1353.1,1396.7 1363.7,1392.0C1374.3,1387.4 1390.1,1386.3 1395.4,1395.8C1400.7,1405.3 1396.9,1431.7 1395.4,1449.1C1393.9,1466.4 1390.7,1491.3 1386.5,1499.7C1382.3,1508.2 1378.1,1506.1 1370.0,1499.7C1362.0,1493.4 1344.7,1474.4 1338.4,1461.7C1332.0,1449.1 1327.8,1435.3 1332.0,1423.7Z" fill="#d01830" filter="url(#b5)"/>
<path d="M1363.7,1395.8C1368.4,1390.5 1383.8,1389.5 1389.1,1392.0C1394.3,1394.6 1395.4,1402.2 1395.4,1411.0C1395.4,1419.9 1393.1,1439.3 1389.1,1445.3C1385.0,1451.2 1376.0,1450.1 1371.3,1446.5C1366.7,1442.9 1362.4,1432.2 1361.2,1423.7C1359.9,1415.3 1359.1,1401.1 1363.7,1395.8Z" fill="#6a0a14" filter="url(#b4)"/>
<path d="M1371.3,1474.4C1373.8,1462.8 1384.4,1462.8 1386.5,1474.4C1388.6,1486.0 1386.5,1532.5 1384.0,1544.1C1381.5,1555.7 1373.4,1555.7 1371.3,1544.1C1369.2,1532.5 1368.8,1486.0 1371.3,1474.4Z" fill="#e02838" filter="url(#b4)"/>
<path d="M1386.5,1518.8C1395.0,1513.9 1431.3,1513.9 1439.7,1518.8C1448.2,1523.6 1445.7,1543.0 1437.2,1547.9C1428.8,1552.8 1397.5,1552.8 1389.1,1547.9C1380.6,1543.0 1378.1,1523.6 1386.5,1518.8Z" fill="#f0a0a8" filter="url(#b6)"/>
<path d="M1363.7,1455.4C1365.0,1450.7 1371.7,1448.6 1373.8,1452.9C1376.0,1457.1 1377.6,1476.1 1376.4,1480.7C1375.1,1485.4 1368.4,1485.0 1366.2,1480.7C1364.1,1476.5 1362.4,1460.0 1363.7,1455.4Z" fill="#f8e8ec" filter="url(#b3)"/>
</g>
<line x1="1447.3" y1="1424.3" x2="1441.5" y2="1440.6" stroke="#4a90d8" stroke-width="1.6"/>
<polygon points="1437.8,1451.0 1436.3,1436.6 1448.1,1440.8" fill="#4a90d8"/>
<line x1="1289.6" y1="1463.0" x2="1299.4" y2="1477.9" stroke="#4a90d8" stroke-width="1.6"/>
<polygon points="1305.4,1487.1 1293.0,1479.6 1303.5,1472.8" fill="#4a90d8"/>
<line x1="1404.3" y1="1466.8" x2="1414.3" y2="1480.7" stroke="#4a90d8" stroke-width="1.6"/>
<polygon points="1420.7,1489.6 1408.1,1482.7 1418.2,1475.4" fill="#4a90d8"/>
<text x="1432.6" y="1525.7" font-size="15.67" fill="#1a1a1a" stroke="#1a1a1a" stroke-width="0.45"><tspan>2mm</tspan></text>
<line x1="1434.4" y1="1532.1" x2="1469.5" y2="1532.1" stroke="#1a1a1a" stroke-width="3.0"/>
<clipPath id="cp13"><rect x="1513.9" y="1342.0" width="205.3" height="212.9"/></clipPath><g clip-path="url(#cp13)">
<rect x="1513.9" y="1342.0" width="205.3" height="212.9" fill="#ebe9ec"/>
<path d="M1515.1,1423.7C1516.6,1413.1 1518.3,1401.5 1524.0,1392.0C1529.7,1382.5 1540.9,1371.8 1549.4,1366.7C1557.8,1361.6 1567.3,1362.7 1574.7,1361.6C1582.1,1360.6 1587.4,1361.6 1593.7,1360.3C1600.0,1359.1 1605.3,1355.5 1612.7,1354.0C1620.1,1352.5 1628.6,1350.8 1638.1,1351.5C1647.6,1352.1 1660.2,1354.2 1669.7,1357.8C1679.2,1361.4 1688.3,1366.3 1695.1,1373.0C1701.8,1379.8 1706.5,1388.9 1710.3,1398.4C1714.1,1407.9 1716.6,1419.5 1717.9,1430.0C1719.2,1440.6 1719.2,1451.2 1717.9,1461.7C1716.6,1472.3 1714.1,1483.9 1710.3,1493.4C1706.5,1502.9 1701.8,1511.4 1695.1,1518.8C1688.3,1526.1 1678.2,1532.5 1669.7,1537.8C1661.3,1543.0 1652.8,1548.5 1644.4,1550.4C1636.0,1552.3 1626.4,1550.9 1619.1,1549.2C1611.7,1547.5 1606.4,1543.3 1600.0,1540.3C1593.7,1537.3 1587.4,1534.0 1581.0,1531.4C1574.7,1528.9 1568.4,1528.3 1562.0,1525.1C1555.7,1521.9 1549.4,1519.8 1543.0,1512.4C1536.7,1505.0 1528.7,1490.2 1524.0,1480.7C1519.4,1471.2 1516.6,1464.9 1515.1,1455.4C1513.7,1445.9 1513.7,1434.3 1515.1,1423.7Z" fill="#fbe2da" filter="url(#b3)"/>
<path d="M1524.0,1398.4C1534.1,1385.7 1568.4,1366.7 1581.0,1373.0C1593.7,1379.4 1597.9,1411.0 1600.0,1436.4C1602.2,1461.7 1603.2,1513.5 1593.7,1525.1C1584.2,1536.7 1555.3,1518.8 1543.0,1506.1C1530.8,1493.4 1523.4,1467.0 1520.2,1449.1C1517.0,1431.1 1513.9,1411.0 1524.0,1398.4Z" fill="#fde8dc" filter="url(#b9)"/>
<path d="M1619.1,1360.3C1631.7,1348.7 1680.3,1362.5 1695.1,1379.4C1709.9,1396.3 1709.9,1437.4 1707.8,1461.7C1705.7,1486.0 1696.1,1512.4 1682.4,1525.1C1668.7,1537.8 1636.0,1550.4 1625.4,1537.8C1614.8,1525.1 1620.1,1478.6 1619.1,1449.1C1618.0,1419.5 1606.4,1372.0 1619.1,1360.3Z" fill="#fdf0e8" filter="url(#b9)"/>
<path d="M1584.8,1373.0C1588.0,1361.6 1599.6,1363.7 1606.4,1367.9C1613.1,1372.2 1622.9,1382.7 1625.4,1398.4C1627.9,1414.0 1623.7,1443.8 1621.6,1461.7C1619.5,1479.7 1616.9,1501.9 1612.7,1506.1C1608.5,1510.3 1600.5,1498.7 1596.2,1487.1C1592.0,1475.5 1589.3,1455.4 1587.4,1436.4C1585.5,1417.4 1581.7,1384.4 1584.8,1373.0Z" fill="#d84050" filter="url(#b4)"/>
<ellipse cx="1606.4" cy="1393.3" rx="11.4" ry="6.3" fill="#c0102a" filter="url(#b3)"/>
<ellipse cx="1685.0" cy="1445.3" rx="6.3" ry="9.5" fill="#e42040" filter="url(#b2_5)"/>
<ellipse cx="1562.0" cy="1373.0" rx="12.7" ry="6.3" fill="#f4b4b4" filter="url(#b6)"/>
<ellipse cx="1565.8" cy="1419.9" rx="21.5" ry="4.4" fill="#f0a8a8" filter="url(#b6)"/>
<ellipse cx="1673.5" cy="1461.7" rx="19.0" ry="11.4" fill="#f6d0cc" filter="url(#b7)"/>
</g>
<line x1="1665.3" y1="1411.0" x2="1676.0" y2="1426.1" stroke="#4a90d8" stroke-width="1.6"/>
<polygon points="1682.4,1435.1 1669.8,1428.1 1680.0,1420.9" fill="#4a90d8"/>
<text x="1675.3" y="1536.5" font-size="15.95" fill="#1a1a1a" stroke="#1a1a1a" stroke-width="0.45"><tspan>2mm</tspan></text>
<line x1="1677.4" y1="1543.5" x2="1712.8" y2="1543.5" stroke="#1a1a1a" stroke-width="3.0"/>
<clipPath id="cp14"><rect x="1729.0" y="1342.0" width="209.0" height="212.0"/></clipPath><g clip-path="url(#cp14)">
<rect x="1729.0" y="1342.0" width="209.0" height="212.0" fill="#ffffff"/>
<path d="M1740.2,1461.7C1740.2,1449.1 1744.0,1436.4 1747.8,1423.7C1751.6,1411.0 1756.3,1396.3 1763.0,1385.7C1769.8,1375.1 1779.9,1366.7 1788.4,1360.3C1796.8,1354.0 1805.3,1348.3 1813.7,1347.7C1822.2,1347.0 1831.7,1353.4 1839.1,1356.5C1846.4,1359.7 1850.7,1364.4 1858.1,1366.7C1865.5,1369.0 1875.0,1368.4 1883.4,1370.5C1891.9,1372.6 1902.4,1374.7 1908.8,1379.4C1915.1,1384.0 1917.8,1391.0 1921.4,1398.4C1925.0,1405.8 1929.2,1415.3 1930.3,1423.7C1931.4,1432.2 1929.5,1440.6 1927.8,1449.1C1926.1,1457.5 1921.4,1466.0 1920.2,1474.4C1918.9,1482.8 1922.1,1492.4 1920.2,1499.7C1918.3,1507.1 1913.8,1513.5 1908.8,1518.8C1903.7,1524.0 1897.1,1527.2 1889.7,1531.4C1882.4,1535.7 1871.8,1540.9 1864.4,1544.1C1857.0,1547.3 1851.7,1549.0 1845.4,1550.4C1839.1,1551.9 1832.7,1553.4 1826.4,1553.0C1820.0,1552.5 1814.8,1550.4 1807.4,1547.9C1800.0,1545.4 1789.4,1541.6 1782.0,1537.8C1774.6,1534.0 1768.7,1531.4 1763.0,1525.1C1757.3,1518.8 1751.6,1510.3 1747.8,1499.7C1744.0,1489.2 1740.2,1474.4 1740.2,1461.7Z" fill="#f2b8bc" filter="url(#b2_5)"/>
<path d="M1740.2,1461.7C1740.2,1449.1 1744.0,1436.4 1747.8,1423.7C1751.6,1411.0 1756.3,1396.3 1763.0,1385.7C1769.8,1375.1 1779.9,1366.7 1788.4,1360.3C1796.8,1354.0 1805.3,1348.3 1813.7,1347.7C1822.2,1347.0 1831.7,1353.4 1839.1,1356.5C1846.4,1359.7 1850.7,1364.4 1858.1,1366.7C1865.5,1369.0 1875.0,1368.4 1883.4,1370.5C1891.9,1372.6 1902.4,1374.7 1908.8,1379.4C1915.1,1384.0 1917.8,1391.0 1921.4,1398.4C1925.0,1405.8 1929.2,1415.3 1930.3,1423.7C1931.4,1432.2 1929.5,1440.6 1927.8,1449.1C1926.1,1457.5 1921.4,1466.0 1920.2,1474.4C1918.9,1482.8 1922.1,1492.4 1920.2,1499.7C1918.3,1507.1 1913.8,1513.5 1908.8,1518.8C1903.7,1524.0 1897.1,1527.2 1889.7,1531.4C1882.4,1535.7 1871.8,1540.9 1864.4,1544.1C1857.0,1547.3 1851.7,1549.0 1845.4,1550.4C1839.1,1551.9 1832.7,1553.4 1826.4,1553.0C1820.0,1552.5 1814.8,1550.4 1807.4,1547.9C1800.0,1545.4 1789.4,1541.6 1782.0,1537.8C1774.6,1534.0 1768.7,1531.4 1763.0,1525.1C1757.3,1518.8 1751.6,1510.3 1747.8,1499.7C1744.0,1489.2 1740.2,1474.4 1740.2,1461.7Z" fill="none" stroke="#e890a0" stroke-width="1.6" filter="url(#b0_8)"/>
<path d="M1743.7,1461.2C1743.7,1449.1 1747.3,1436.9 1751.0,1424.7C1754.6,1412.6 1759.1,1398.4 1765.6,1388.2C1772.0,1378.1 1781.8,1370.0 1789.9,1363.9C1798.0,1357.8 1806.1,1352.3 1814.2,1351.7C1822.3,1351.1 1831.5,1357.2 1838.5,1360.2C1845.6,1363.3 1849.7,1367.7 1856.8,1370.0C1863.9,1372.2 1873.0,1371.6 1881.1,1373.6C1889.2,1375.7 1899.4,1377.7 1905.5,1382.1C1911.5,1386.6 1914.2,1393.3 1917.6,1400.4C1921.1,1407.5 1925.1,1416.6 1926.1,1424.7C1927.2,1432.8 1925.3,1440.9 1923.7,1449.1C1922.1,1457.2 1917.6,1465.3 1916.4,1473.4C1915.2,1481.5 1918.2,1490.6 1916.4,1497.7C1914.6,1504.8 1910.3,1510.9 1905.5,1516.0C1900.6,1521.0 1894.3,1524.1 1887.2,1528.1C1880.1,1532.2 1870.0,1537.3 1862.9,1540.3C1855.8,1543.3 1850.7,1545.0 1844.6,1546.4C1838.5,1547.8 1832.5,1549.2 1826.4,1548.8C1820.3,1548.4 1815.2,1546.4 1808.1,1543.9C1801.0,1541.5 1790.9,1537.9 1783.8,1534.2C1776.7,1530.6 1771.0,1528.1 1765.6,1522.0C1760.1,1516.0 1754.6,1507.9 1751.0,1497.7C1747.3,1487.6 1743.7,1473.4 1743.7,1461.2Z" fill="#f8dcd8" filter="url(#b4)"/>
<path d="M1747.8,1411.0C1754.6,1393.1 1776.3,1373.0 1788.4,1366.7C1800.4,1360.3 1815.4,1357.2 1820.0,1373.0C1824.7,1388.9 1818.4,1436.4 1816.2,1461.7C1814.1,1487.1 1815.2,1515.6 1807.4,1525.1C1799.6,1534.6 1779.3,1527.2 1769.4,1518.8C1759.4,1510.3 1751.4,1492.4 1747.8,1474.4C1744.2,1456.4 1741.1,1429.0 1747.8,1411.0Z" fill="#fbe6e0" filter="url(#b8)"/>
<path d="M1864.4,1379.4C1873.9,1369.8 1905.6,1378.3 1915.1,1392.0C1924.6,1405.8 1922.5,1441.7 1921.4,1461.7C1920.4,1481.8 1918.3,1502.9 1908.8,1512.4C1899.2,1521.9 1872.8,1529.3 1864.4,1518.8C1856.0,1508.2 1858.1,1472.3 1858.1,1449.1C1858.1,1425.8 1854.9,1388.9 1864.4,1379.4Z" fill="#f8dcd8" filter="url(#b8)"/>
<path d="M1816.2,1379.4C1821.7,1372.6 1837.4,1371.1 1845.4,1370.5C1853.4,1369.8 1858.1,1364.1 1864.4,1375.6C1870.7,1387.0 1885.5,1425.6 1883.4,1438.9C1881.3,1452.2 1862.9,1453.7 1851.7,1455.4C1840.5,1457.1 1822.8,1456.4 1816.2,1449.1C1809.7,1441.7 1812.4,1422.7 1812.4,1411.0C1812.4,1399.4 1810.8,1386.1 1816.2,1379.4Z" fill="#b84458" filter="url(#b5)"/>
<ellipse cx="1839.1" cy="1421.2" rx="13.9" ry="16.5" fill="#d88a98" opacity="0.7" filter="url(#b7)"/>
<path d="M1816.2,1455.4C1821.3,1450.1 1840.7,1450.1 1846.7,1455.4C1852.6,1460.7 1851.3,1476.5 1851.7,1487.1C1852.1,1497.6 1849.2,1509.2 1849.2,1518.8C1849.2,1528.3 1855.5,1538.4 1851.7,1544.1C1847.9,1549.8 1836.9,1552.3 1826.4,1553.0C1815.8,1553.6 1795.3,1553.6 1788.4,1547.9C1781.4,1542.2 1781.4,1525.1 1784.6,1518.8C1787.7,1512.4 1802.1,1515.2 1807.4,1509.9C1812.7,1504.6 1814.8,1496.2 1816.2,1487.1C1817.7,1478.0 1811.2,1460.7 1816.2,1455.4Z" fill="#d41830" filter="url(#b5)"/>
<ellipse cx="1823.8" cy="1474.4" rx="7.6" ry="19.0" fill="#a01020" filter="url(#b6)"/>
<ellipse cx="1801.7" cy="1430.0" rx="7.6" ry="4.4" fill="#e01030" filter="url(#b2_5)"/>
<ellipse cx="1783.3" cy="1480.7" rx="8.2" ry="9.5" fill="#e01030" filter="url(#b2_5)"/>
<ellipse cx="1843.5" cy="1483.9" rx="7.6" ry="10.1" fill="#e01030" filter="url(#b2_5)"/>
</g>
<line x1="1883.4" y1="1355.3" x2="1873.3" y2="1367.7" stroke="#4a90d8" stroke-width="1.6"/>
<polygon points="1866.3,1376.2 1869.7,1362.2 1879.4,1370.1" fill="#4a90d8"/>
<line x1="1781.4" y1="1447.2" x2="1766.9" y2="1462.1" stroke="#4a90d8" stroke-width="1.6"/>
<polygon points="1759.2,1470.0 1763.8,1456.3 1772.8,1465.0" fill="#4a90d8"/>
<line x1="1824.5" y1="1485.2" x2="1807.6" y2="1483.6" stroke="#4a90d8" stroke-width="1.6"/>
<polygon points="1796.6,1482.6 1810.1,1477.6 1809.0,1490.0" fill="#4a90d8"/>
<line x1="1872.0" y1="1468.7" x2="1859.0" y2="1479.4" stroke="#4a90d8" stroke-width="1.6"/>
<polygon points="1850.5,1486.4 1856.5,1473.3 1864.5,1483.0" fill="#4a90d8"/>
<text x="1869.9" y="1539.0" font-size="15.95" fill="#1a1a1a" stroke="#1a1a1a" stroke-width="0.45"><tspan>2mm</tspan></text>
<line x1="1872.0" y1="1545.4" x2="1907.5" y2="1545.4" stroke="#1a1a1a" stroke-width="3.0"/>
<path d="M669.7,1622.1C675.1,1617.2 688.3,1619.6 699.5,1614.7C710.7,1609.7 728.1,1599.7 736.8,1592.3C745.5,1584.8 746.7,1574.6 751.7,1569.9C756.7,1565.2 760.4,1564.4 766.6,1563.9C772.8,1563.5 783.3,1561.0 789.0,1566.9C794.7,1572.9 797.7,1586.8 800.9,1599.7C804.2,1612.7 806.4,1629.6 808.4,1644.5C810.4,1659.4 812.9,1676.8 812.9,1689.2C812.9,1701.7 817.3,1712.9 808.4,1719.1C799.4,1725.3 771.1,1725.3 759.2,1726.5C747.2,1727.8 746.7,1729.0 736.8,1726.5C726.8,1724.1 709.4,1716.6 699.5,1711.6C689.6,1706.7 682.3,1702.9 677.1,1696.7C671.9,1690.5 669.9,1683.0 668.2,1674.3C666.4,1665.6 666.4,1653.2 666.7,1644.5C666.9,1635.8 664.2,1627.1 669.7,1622.1Z" fill="#d0d3ef" filter="url(#b0_6)"/>
<path d="M669.7,1622.1C675.1,1617.2 688.3,1619.6 699.5,1614.7C710.7,1609.7 728.1,1599.7 736.8,1592.3C745.5,1584.8 746.7,1574.6 751.7,1569.9C756.7,1565.2 760.4,1564.4 766.6,1563.9C772.8,1563.5 783.3,1561.0 789.0,1566.9C794.7,1572.9 797.7,1586.8 800.9,1599.7C804.2,1612.7 806.4,1629.6 808.4,1644.5C810.4,1659.4 812.9,1676.8 812.9,1689.2C812.9,1701.7 817.3,1712.9 808.4,1719.1C799.4,1725.3 771.1,1725.3 759.2,1726.5C747.2,1727.8 746.7,1729.0 736.8,1726.5C726.8,1724.1 709.4,1716.6 699.5,1711.6C689.6,1706.7 682.3,1702.9 677.1,1696.7C671.9,1690.5 669.9,1683.0 668.2,1674.3C666.4,1665.6 666.4,1653.2 666.7,1644.5C666.9,1635.8 664.2,1627.1 669.7,1622.1Z" fill="url(#mesh)" stroke="#a6aad6" stroke-width="1.1"/>
<path d="M639.8,1711.6C642.3,1706.7 648.5,1698.9 654.7,1696.7C661.0,1694.5 669.7,1695.7 677.1,1698.2C684.6,1700.7 689.6,1706.7 699.5,1711.6C709.4,1716.6 721.9,1725.3 736.8,1728.0C751.7,1730.8 776.6,1732.0 789.0,1728.0C801.4,1724.1 806.4,1705.7 811.4,1704.2C816.3,1702.7 818.1,1709.1 818.8,1719.1C819.6,1729.0 817.6,1751.4 815.8,1763.8C814.1,1776.3 811.6,1783.7 808.4,1793.7C805.2,1803.6 799.7,1814.8 796.5,1823.5C793.2,1832.2 794.0,1840.9 789.0,1845.9C784.0,1850.8 774.1,1852.6 766.6,1853.3C759.2,1854.1 749.7,1852.8 744.2,1850.3C738.8,1847.9 735.8,1845.4 733.8,1838.4C731.8,1831.5 735.5,1814.8 732.3,1808.6C729.1,1802.4 722.4,1804.9 714.4,1801.1C706.5,1797.4 694.5,1791.2 684.6,1786.2C674.6,1781.2 661.5,1777.5 654.7,1771.3C648.0,1765.1 646.8,1756.4 644.3,1748.9C641.8,1741.5 640.6,1732.8 639.8,1726.5C639.1,1720.3 637.3,1716.6 639.8,1711.6Z" fill="#d0d3ef" filter="url(#b0_6)"/>
<path d="M639.8,1711.6C642.3,1706.7 648.5,1698.9 654.7,1696.7C661.0,1694.5 669.7,1695.7 677.1,1698.2C684.6,1700.7 689.6,1706.7 699.5,1711.6C709.4,1716.6 721.9,1725.3 736.8,1728.0C751.7,1730.8 776.6,1732.0 789.0,1728.0C801.4,1724.1 806.4,1705.7 811.4,1704.2C816.3,1702.7 818.1,1709.1 818.8,1719.1C819.6,1729.0 817.6,1751.4 815.8,1763.8C814.1,1776.3 811.6,1783.7 808.4,1793.7C805.2,1803.6 799.7,1814.8 796.5,1823.5C793.2,1832.2 794.0,1840.9 789.0,1845.9C784.0,1850.8 774.1,1852.6 766.6,1853.3C759.2,1854.1 749.7,1852.8 744.2,1850.3C738.8,1847.9 735.8,1845.4 733.8,1838.4C731.8,1831.5 735.5,1814.8 732.3,1808.6C729.1,1802.4 722.4,1804.9 714.4,1801.1C706.5,1797.4 694.5,1791.2 684.6,1786.2C674.6,1781.2 661.5,1777.5 654.7,1771.3C648.0,1765.1 646.8,1756.4 644.3,1748.9C641.8,1741.5 640.6,1732.8 639.8,1726.5C639.1,1720.3 637.3,1716.6 639.8,1711.6Z" fill="url(#mesh)" stroke="#a6aad6" stroke-width="1.1"/>
<ellipse cx="675.6" cy="1677.3" rx="8.2" ry="11.2" fill="#c0c4e2" filter="url(#b2)"/>
<ellipse cx="762.1" cy="1638.5" rx="3.7" ry="11.9" fill="#fbfbff" transform="rotate(20 762.1 1638.5)" filter="url(#b1)"/>
<ellipse cx="723.4" cy="1647.5" rx="3.0" ry="6.0" fill="#fbfbff" transform="rotate(-30 723.4 1647.5)" filter="url(#b1)"/>
<ellipse cx="765.1" cy="1790.7" rx="5.2" ry="10.4" fill="#fbfbff" filter="url(#b1)"/>
<ellipse cx="759.2" cy="1669.9" rx="6.0" ry="3.0" fill="#fbfbff" transform="rotate(30 759.2 1669.9)" filter="url(#b1)"/>
<rect x="624.2" y="1774.0" width="108.4" height="84.6" fill="#dcc4cc"/>
<clipPath id="cp15"><rect x="624.2" y="1774.0" width="108.4" height="84.6"/></clipPath><g clip-path="url(#cp15)">
<ellipse cx="684.9" cy="1852.2" rx="4.4" ry="4.2" fill="#c09aa8" opacity="0.85"/>
<ellipse cx="644.2" cy="1817.3" rx="4.9" ry="5.2" fill="#c09aa8" opacity="0.85"/>
<ellipse cx="657.1" cy="1781.7" rx="5.0" ry="5.1" fill="#6e88dc" opacity="0.85"/>
<ellipse cx="730.7" cy="1855.6" rx="4.6" ry="4.6" fill="#6e88dc" opacity="0.85"/>
<ellipse cx="625.8" cy="1818.7" rx="3.1" ry="2.6" fill="#6e88dc" opacity="0.85"/>
<ellipse cx="627.5" cy="1813.2" rx="4.1" ry="4.4" fill="#6e88dc" opacity="0.85"/>
<ellipse cx="693.6" cy="1816.3" rx="4.9" ry="4.6" fill="#c09aa8" opacity="0.85"/>
<ellipse cx="732.3" cy="1858.2" rx="5.1" ry="5.2" fill="#6e88dc" opacity="0.85"/>
<ellipse cx="649.1" cy="1798.5" rx="3.1" ry="3.3" fill="#6e88dc" opacity="0.85"/>
<ellipse cx="716.0" cy="1806.7" rx="5.7" ry="6.2" fill="#c09aa8" opacity="0.85"/>
<ellipse cx="646.9" cy="1851.0" rx="4.1" ry="4.7" fill="#6e88dc" opacity="0.85"/>
<ellipse cx="632.1" cy="1827.3" rx="5.3" ry="4.5" fill="#c09aa8" opacity="0.85"/>
<ellipse cx="660.3" cy="1855.6" rx="4.9" ry="3.9" fill="#6e88dc" opacity="0.85"/>
<ellipse cx="635.2" cy="1779.1" rx="4.9" ry="4.1" fill="#6e88dc" opacity="0.85"/>
<ellipse cx="672.7" cy="1790.1" rx="5.1" ry="4.1" fill="#c09aa8" opacity="0.85"/>
<ellipse cx="636.8" cy="1809.6" rx="3.7" ry="3.2" fill="#c09aa8" opacity="0.85"/>
<ellipse cx="711.3" cy="1799.7" rx="4.9" ry="4.1" fill="#9890c8" opacity="0.85"/>
<ellipse cx="716.8" cy="1828.3" rx="3.4" ry="3.9" fill="#c09aa8" opacity="0.85"/>
<ellipse cx="652.2" cy="1839.4" rx="3.8" ry="3.3" fill="#6e88dc" opacity="0.85"/>
<ellipse cx="634.0" cy="1823.3" rx="3.6" ry="3.5" fill="#6e88dc" opacity="0.85"/>
<ellipse cx="673.3" cy="1855.1" rx="4.5" ry="4.4" fill="#c09aa8" opacity="0.85"/>
<ellipse cx="644.0" cy="1787.0" rx="5.0" ry="5.4" fill="#9890c8" opacity="0.85"/>
<ellipse cx="644.8" cy="1836.6" rx="5.3" ry="4.4" fill="#6e88dc" opacity="0.85"/>
<ellipse cx="719.8" cy="1825.1" rx="3.8" ry="3.0" fill="#9890c8" opacity="0.85"/>
<ellipse cx="728.6" cy="1794.2" rx="4.7" ry="4.0" fill="#6e88dc" opacity="0.85"/>
<ellipse cx="688.9" cy="1798.8" rx="3.2" ry="3.3" fill="#9890c8" opacity="0.85"/>
<ellipse cx="649.0" cy="1821.3" rx="5.1" ry="5.1" fill="#6e88dc" opacity="0.85"/>
<ellipse cx="723.6" cy="1791.3" rx="3.0" ry="2.6" fill="#6e88dc" opacity="0.85"/>
<ellipse cx="630.8" cy="1788.9" rx="4.1" ry="4.1" fill="#c09aa8" opacity="0.85"/>
<ellipse cx="663.5" cy="1849.4" rx="5.4" ry="5.5" fill="#6e88dc" opacity="0.85"/>
<ellipse cx="687.6" cy="1785.9" rx="2.5" ry="1.9" fill="#f4ecec" opacity="0.85"/>
<ellipse cx="700.2" cy="1855.5" rx="2.9" ry="2.9" fill="#9890c8" opacity="0.85"/>
<ellipse cx="703.4" cy="1801.0" rx="5.8" ry="4.6" fill="#c09aa8" opacity="0.85"/>
<ellipse cx="704.1" cy="1850.2" rx="5.1" ry="5.3" fill="#c09aa8" opacity="0.85"/>
<ellipse cx="723.4" cy="1803.8" rx="4.4" ry="4.9" fill="#9890c8" opacity="0.85"/>
<ellipse cx="669.4" cy="1840.9" rx="4.9" ry="4.8" fill="#9890c8" opacity="0.85"/>
<ellipse cx="665.6" cy="1823.3" rx="4.8" ry="3.7" fill="#c09aa8" opacity="0.85"/>
<ellipse cx="731.9" cy="1848.4" rx="5.1" ry="4.6" fill="#c09aa8" opacity="0.85"/>
<ellipse cx="687.2" cy="1811.3" rx="4.2" ry="3.3" fill="#f4ecec" opacity="0.85"/>
<ellipse cx="627.4" cy="1824.9" rx="3.5" ry="2.9" fill="#f4ecec" opacity="0.85"/>
<ellipse cx="678.1" cy="1826.0" rx="4.4" ry="3.7" fill="#f4ecec" opacity="0.85"/>
<ellipse cx="656.8" cy="1831.4" rx="3.5" ry="2.8" fill="#6e88dc" opacity="0.85"/>
<ellipse cx="695.7" cy="1811.4" rx="4.9" ry="4.4" fill="#9890c8" opacity="0.85"/>
<ellipse cx="645.7" cy="1810.5" rx="4.1" ry="4.6" fill="#f4ecec" opacity="0.85"/>
<ellipse cx="665.9" cy="1823.3" rx="3.6" ry="2.9" fill="#9890c8" opacity="0.85"/>
<ellipse cx="714.9" cy="1845.8" rx="5.1" ry="5.7" fill="#c09aa8" opacity="0.85"/>
<ellipse cx="642.5" cy="1812.1" rx="3.6" ry="3.0" fill="#6e88dc" opacity="0.85"/>
<ellipse cx="692.0" cy="1815.8" rx="4.0" ry="4.3" fill="#c09aa8" opacity="0.85"/>
<ellipse cx="673.2" cy="1780.3" rx="2.9" ry="3.2" fill="#9890c8" opacity="0.85"/>
<ellipse cx="701.0" cy="1822.3" rx="3.7" ry="4.0" fill="#6e88dc" opacity="0.85"/>
<ellipse cx="638.9" cy="1812.5" rx="3.0" ry="3.2" fill="#6e88dc" opacity="0.85"/>
<ellipse cx="639.5" cy="1778.0" rx="4.5" ry="4.2" fill="#6e88dc" opacity="0.85"/>
<ellipse cx="695.2" cy="1842.3" rx="5.7" ry="5.9" fill="#c09aa8" opacity="0.85"/>
<ellipse cx="675.7" cy="1789.1" rx="3.0" ry="2.8" fill="#6e88dc" opacity="0.85"/>
<ellipse cx="643.6" cy="1797.0" rx="3.2" ry="3.3" fill="#f4ecec" opacity="0.85"/>
<ellipse cx="690.8" cy="1838.0" rx="4.2" ry="4.5" fill="#c09aa8" opacity="0.85"/>
<ellipse cx="633.7" cy="1852.9" rx="4.5" ry="3.6" fill="#9890c8" opacity="0.85"/>
<ellipse cx="692.0" cy="1851.0" rx="4.2" ry="4.1" fill="#c09aa8" opacity="0.85"/>
<ellipse cx="710.6" cy="1853.9" rx="3.9" ry="4.0" fill="#9890c8" opacity="0.85"/>
<ellipse cx="702.5" cy="1843.2" rx="4.6" ry="4.7" fill="#6e88dc" opacity="0.85"/>
<ellipse cx="721.8" cy="1856.9" rx="5.4" ry="5.2" fill="#6e88dc" opacity="0.85"/>
<ellipse cx="658.9" cy="1851.0" rx="4.9" ry="4.3" fill="#9890c8" opacity="0.85"/>
<ellipse cx="672.0" cy="1820.6" rx="4.9" ry="4.6" fill="#6e88dc" opacity="0.85"/>
<ellipse cx="711.9" cy="1779.4" rx="5.0" ry="4.1" fill="#6e88dc" opacity="0.85"/>
<ellipse cx="709.6" cy="1785.9" rx="3.6" ry="3.4" fill="#c09aa8" opacity="0.85"/>
<ellipse cx="715.3" cy="1832.3" rx="4.4" ry="4.2" fill="#f4ecec" opacity="0.85"/>
<ellipse cx="633.5" cy="1792.7" rx="4.1" ry="3.5" fill="#9890c8" opacity="0.85"/>
<ellipse cx="693.5" cy="1818.2" rx="4.2" ry="4.1" fill="#f4ecec" opacity="0.85"/>
<ellipse cx="665.5" cy="1845.5" rx="5.2" ry="4.3" fill="#6e88dc" opacity="0.85"/>
<ellipse cx="729.2" cy="1818.3" rx="4.2" ry="3.5" fill="#9890c8" opacity="0.85"/>
<ellipse cx="678.7" cy="1825.2" rx="3.2" ry="3.7" fill="#c09aa8" opacity="0.85"/>
<ellipse cx="667.6" cy="1841.8" rx="4.7" ry="4.4" fill="#c09aa8" opacity="0.85"/>
<ellipse cx="631.3" cy="1819.6" rx="3.3" ry="3.8" fill="#f4ecec" opacity="0.85"/>
<ellipse cx="653.4" cy="1814.0" rx="3.1" ry="2.9" fill="#9890c8" opacity="0.85"/>
<ellipse cx="721.8" cy="1814.3" rx="3.6" ry="2.9" fill="#9890c8" opacity="0.85"/>
<ellipse cx="724.5" cy="1785.0" rx="5.3" ry="4.0" fill="#c09aa8" opacity="0.85"/>
<ellipse cx="648.8" cy="1832.1" rx="3.8" ry="3.3" fill="#6e88dc" opacity="0.85"/>
<ellipse cx="635.6" cy="1835.8" rx="3.5" ry="3.3" fill="#c09aa8" opacity="0.85"/>
<ellipse cx="645.6" cy="1818.9" rx="4.0" ry="3.6" fill="#6e88dc" opacity="0.85"/>
<ellipse cx="681.6" cy="1787.5" rx="3.7" ry="3.7" fill="#c09aa8" opacity="0.85"/>
<ellipse cx="681.6" cy="1846.0" rx="4.8" ry="5.2" fill="#c09aa8" opacity="0.85"/>
<ellipse cx="704.5" cy="1842.6" rx="5.2" ry="4.6" fill="#6e88dc" opacity="0.85"/>
<ellipse cx="724.2" cy="1792.5" rx="5.5" ry="6.0" fill="#6e88dc" opacity="0.85"/>
<ellipse cx="650.1" cy="1835.5" rx="3.6" ry="2.8" fill="#6e88dc" opacity="0.85"/>
<ellipse cx="669.9" cy="1840.8" rx="3.1" ry="2.8" fill="#9890c8" opacity="0.85"/>
<ellipse cx="626.1" cy="1791.0" rx="3.9" ry="4.3" fill="#f4ecec" opacity="0.85"/>
<ellipse cx="636.7" cy="1816.8" rx="4.6" ry="4.4" fill="#9890c8" opacity="0.85"/>
<ellipse cx="644.7" cy="1780.0" rx="2.7" ry="2.0" fill="#f4ecec" opacity="0.85"/>
<ellipse cx="680.0" cy="1822.1" rx="3.5" ry="2.9" fill="#c09aa8" opacity="0.85"/>
<ellipse cx="715.3" cy="1857.8" rx="5.3" ry="4.2" fill="#6e88dc" opacity="0.85"/>
<ellipse cx="727.3" cy="1813.1" rx="4.9" ry="4.3" fill="#6e88dc" opacity="0.85"/>
<ellipse cx="680.1" cy="1810.4" rx="4.8" ry="3.6" fill="#c09aa8" opacity="0.85"/>
<ellipse cx="715.7" cy="1789.3" rx="3.4" ry="3.6" fill="#f4ecec" opacity="0.85"/>
<ellipse cx="645.4" cy="1788.0" rx="4.5" ry="3.4" fill="#c09aa8" opacity="0.85"/>
<ellipse cx="711.1" cy="1833.6" rx="4.9" ry="4.9" fill="#9890c8" opacity="0.85"/>
</g>
<text x="633.4" y="1840.2" font-size="11.91" fill="#111" stroke="#111" stroke-width="0.3"><tspan>30μm</tspan></text>
<line x1="633.9" y1="1851.3" x2="655.7" y2="1851.3" stroke="#111" stroke-width="2.6"/>
<path d="M838.9,1637.0C840.2,1632.1 846.4,1622.6 852.4,1617.6C858.3,1612.7 866.0,1609.4 874.7,1607.2C883.5,1605.0 897.6,1606.0 904.6,1604.2C911.5,1602.5 912.8,1601.2 916.5,1596.8C920.2,1592.3 922.7,1583.3 927.0,1577.4C931.2,1571.4 936.7,1563.7 941.9,1561.0C947.1,1558.2 953.3,1557.0 958.3,1561.0C963.3,1564.9 967.0,1577.1 971.7,1584.8C976.4,1592.5 982.4,1599.7 986.6,1607.2C990.8,1614.7 994.1,1623.4 997.1,1629.6C1000.0,1635.8 1001.3,1638.3 1004.5,1644.5C1007.8,1650.7 1012.0,1661.9 1016.5,1666.9C1020.9,1671.8 1028.1,1671.8 1031.4,1674.3C1034.6,1676.8 1036.6,1678.1 1035.8,1681.8C1035.1,1685.5 1030.1,1689.2 1026.9,1696.7C1023.7,1704.2 1019.4,1716.6 1016.5,1726.5C1013.5,1736.5 1012.7,1747.7 1009.0,1756.4C1005.3,1765.1 999.1,1771.3 994.1,1778.7C989.1,1786.2 984.1,1794.2 979.2,1801.1C974.2,1808.1 969.2,1815.0 964.2,1820.5C959.3,1826.0 953.1,1833.4 949.3,1833.9C945.6,1834.4 944.4,1827.7 941.9,1823.5C939.4,1819.3 940.6,1813.6 934.4,1808.6C928.2,1803.6 910.1,1801.1 904.6,1793.7C899.1,1786.2 903.3,1773.8 901.6,1763.8C899.9,1753.9 896.6,1742.7 894.1,1734.0C891.7,1725.3 889.9,1717.8 886.7,1711.6C883.5,1705.4 879.2,1701.7 874.7,1696.7C870.3,1691.7 863.6,1688.0 859.8,1681.8C856.1,1675.6 854.9,1665.1 852.4,1659.4C849.9,1653.7 847.2,1651.2 844.9,1647.5C842.7,1643.8 837.7,1642.0 838.9,1637.0Z" fill="#cfd0ec" filter="url(#b0_6)"/>
<path d="M838.9,1637.0C840.2,1632.1 846.4,1622.6 852.4,1617.6C858.3,1612.7 866.0,1609.4 874.7,1607.2C883.5,1605.0 897.6,1606.0 904.6,1604.2C911.5,1602.5 912.8,1601.2 916.5,1596.8C920.2,1592.3 922.7,1583.3 927.0,1577.4C931.2,1571.4 936.7,1563.7 941.9,1561.0C947.1,1558.2 953.3,1557.0 958.3,1561.0C963.3,1564.9 967.0,1577.1 971.7,1584.8C976.4,1592.5 982.4,1599.7 986.6,1607.2C990.8,1614.7 994.1,1623.4 997.1,1629.6C1000.0,1635.8 1001.3,1638.3 1004.5,1644.5C1007.8,1650.7 1012.0,1661.9 1016.5,1666.9C1020.9,1671.8 1028.1,1671.8 1031.4,1674.3C1034.6,1676.8 1036.6,1678.1 1035.8,1681.8C1035.1,1685.5 1030.1,1689.2 1026.9,1696.7C1023.7,1704.2 1019.4,1716.6 1016.5,1726.5C1013.5,1736.5 1012.7,1747.7 1009.0,1756.4C1005.3,1765.1 999.1,1771.3 994.1,1778.7C989.1,1786.2 984.1,1794.2 979.2,1801.1C974.2,1808.1 969.2,1815.0 964.2,1820.5C959.3,1826.0 953.1,1833.4 949.3,1833.9C945.6,1834.4 944.4,1827.7 941.9,1823.5C939.4,1819.3 940.6,1813.6 934.4,1808.6C928.2,1803.6 910.1,1801.1 904.6,1793.7C899.1,1786.2 903.3,1773.8 901.6,1763.8C899.9,1753.9 896.6,1742.7 894.1,1734.0C891.7,1725.3 889.9,1717.8 886.7,1711.6C883.5,1705.4 879.2,1701.7 874.7,1696.7C870.3,1691.7 863.6,1688.0 859.8,1681.8C856.1,1675.6 854.9,1665.1 852.4,1659.4C849.9,1653.7 847.2,1651.2 844.9,1647.5C842.7,1643.8 837.7,1642.0 838.9,1637.0Z" fill="url(#mesh)" stroke="#8c8cc8" stroke-width="1.1"/>
<ellipse cx="896.4" cy="1620.6" rx="12.7" ry="11.9" fill="#b88a88" opacity="0.9" filter="url(#b3)"/>
<ellipse cx="950.8" cy="1626.6" rx="12.7" ry="35.8" fill="#b88a88" opacity="0.9" filter="url(#b3)"/>
<ellipse cx="874.0" cy="1662.4" rx="9.7" ry="11.9" fill="#b88a88" opacity="0.9" filter="url(#b3)"/>
<ellipse cx="885.2" cy="1689.2" rx="11.9" ry="14.9" fill="#b88a88" opacity="0.9" filter="url(#b3)"/>
<ellipse cx="918.0" cy="1702.7" rx="19.4" ry="16.4" fill="#b88a88" opacity="0.9" filter="url(#b3)"/>
<ellipse cx="977.7" cy="1677.3" rx="8.9" ry="11.9" fill="#b88a88" opacity="0.9" filter="url(#b3)"/>
<ellipse cx="1001.5" cy="1694.5" rx="15.7" ry="17.2" fill="#b88a88" opacity="0.9" filter="url(#b3)"/>
<ellipse cx="980.7" cy="1740.0" rx="20.9" ry="23.9" fill="#b88a88" opacity="0.9" filter="url(#b3)"/>
<ellipse cx="956.8" cy="1781.7" rx="22.4" ry="29.8" fill="#b88a88" opacity="0.9" filter="url(#b3)"/>
<ellipse cx="919.5" cy="1771.3" rx="14.9" ry="8.9" fill="#b88a88" opacity="0.9" filter="url(#b3)"/>
<ellipse cx="952.3" cy="1768.3" rx="1.8" ry="10.4" fill="#ffffff" filter="url(#b1)"/>
<rect x="835.2" y="1774.0" width="108.9" height="84.6" fill="#dcb8ac"/>
<clipPath id="cp16"><rect x="835.2" y="1774.0" width="108.9" height="84.6"/></clipPath><g clip-path="url(#cp16)">
<ellipse cx="850.5" cy="1776.0" rx="5.8" ry="4.8" fill="#c89080" opacity="0.85"/>
<ellipse cx="906.1" cy="1803.2" rx="6.8" ry="5.7" fill="#6a300c" opacity="0.85"/>
<ellipse cx="870.0" cy="1824.9" rx="5.7" ry="5.8" fill="#c89080" opacity="0.85"/>
<ellipse cx="912.3" cy="1778.1" rx="5.5" ry="5.5" fill="#c89080" opacity="0.85"/>
<ellipse cx="855.9" cy="1845.9" rx="5.8" ry="6.5" fill="#6a300c" opacity="0.85"/>
<ellipse cx="939.9" cy="1821.9" rx="3.9" ry="3.9" fill="#f0e4e0" opacity="0.85"/>
<ellipse cx="939.4" cy="1800.4" rx="6.4" ry="7.3" fill="#6a300c" opacity="0.85"/>
<ellipse cx="850.7" cy="1843.8" rx="4.4" ry="3.6" fill="#3a5ad0" opacity="0.85"/>
<ellipse cx="893.1" cy="1776.7" rx="6.9" ry="6.6" fill="#6a300c" opacity="0.85"/>
<ellipse cx="879.8" cy="1829.9" rx="6.2" ry="5.5" fill="#9a5020" opacity="0.85"/>
<ellipse cx="898.6" cy="1799.2" rx="5.3" ry="5.1" fill="#9a5020" opacity="0.85"/>
<ellipse cx="908.5" cy="1818.7" rx="3.8" ry="4.3" fill="#9a5020" opacity="0.85"/>
<ellipse cx="882.2" cy="1808.1" rx="6.9" ry="7.8" fill="#6a300c" opacity="0.85"/>
<ellipse cx="878.8" cy="1782.2" rx="6.2" ry="5.1" fill="#9a5020" opacity="0.85"/>
<ellipse cx="873.2" cy="1801.8" rx="3.7" ry="3.0" fill="#3a5ad0" opacity="0.85"/>
<ellipse cx="893.5" cy="1841.3" rx="6.0" ry="5.0" fill="#6a300c" opacity="0.85"/>
<ellipse cx="840.9" cy="1808.7" rx="4.8" ry="5.4" fill="#3a5ad0" opacity="0.85"/>
<ellipse cx="927.4" cy="1816.2" rx="5.1" ry="5.0" fill="#9a5020" opacity="0.85"/>
<ellipse cx="916.2" cy="1814.0" rx="5.1" ry="5.2" fill="#c89080" opacity="0.85"/>
<ellipse cx="920.6" cy="1843.4" rx="5.9" ry="6.6" fill="#6a300c" opacity="0.85"/>
<ellipse cx="889.7" cy="1827.7" rx="5.0" ry="4.1" fill="#6a300c" opacity="0.85"/>
<ellipse cx="882.5" cy="1796.8" rx="2.9" ry="3.3" fill="#3a5ad0" opacity="0.85"/>
<ellipse cx="848.1" cy="1792.3" rx="4.7" ry="5.1" fill="#6a300c" opacity="0.85"/>
<ellipse cx="865.3" cy="1782.2" rx="5.4" ry="4.5" fill="#6a300c" opacity="0.85"/>
<ellipse cx="915.2" cy="1852.3" rx="6.6" ry="5.1" fill="#6a300c" opacity="0.85"/>
<ellipse cx="927.6" cy="1776.8" rx="4.1" ry="3.9" fill="#9a5020" opacity="0.85"/>
<ellipse cx="916.9" cy="1834.8" rx="4.9" ry="4.2" fill="#9a5020" opacity="0.85"/>
<ellipse cx="864.2" cy="1779.5" rx="6.0" ry="4.9" fill="#6a300c" opacity="0.85"/>
<ellipse cx="905.5" cy="1778.8" rx="4.5" ry="4.5" fill="#c89080" opacity="0.85"/>
<ellipse cx="888.2" cy="1776.5" rx="6.4" ry="4.8" fill="#6a300c" opacity="0.85"/>
<ellipse cx="942.5" cy="1845.6" rx="3.4" ry="3.2" fill="#3a5ad0" opacity="0.85"/>
<ellipse cx="872.5" cy="1847.1" rx="6.5" ry="4.9" fill="#6a300c" opacity="0.85"/>
<ellipse cx="904.9" cy="1788.8" rx="5.9" ry="6.5" fill="#9a5020" opacity="0.85"/>
<ellipse cx="874.6" cy="1845.8" rx="4.0" ry="3.3" fill="#3a5ad0" opacity="0.85"/>
<ellipse cx="852.5" cy="1845.0" rx="5.5" ry="5.7" fill="#6a300c" opacity="0.85"/>
<ellipse cx="941.2" cy="1790.1" rx="3.3" ry="3.6" fill="#f0e4e0" opacity="0.85"/>
<ellipse cx="877.3" cy="1829.5" rx="2.9" ry="2.3" fill="#f0e4e0" opacity="0.85"/>
<ellipse cx="876.5" cy="1794.0" rx="5.6" ry="6.3" fill="#6a300c" opacity="0.85"/>
<ellipse cx="895.9" cy="1847.1" rx="5.8" ry="5.6" fill="#6a300c" opacity="0.85"/>
<ellipse cx="837.6" cy="1854.2" rx="3.9" ry="4.2" fill="#f0e4e0" opacity="0.85"/>
<ellipse cx="845.9" cy="1779.6" rx="3.6" ry="3.5" fill="#c89080" opacity="0.85"/>
<ellipse cx="934.2" cy="1808.9" rx="4.8" ry="5.1" fill="#c89080" opacity="0.85"/>
<ellipse cx="940.9" cy="1853.7" rx="6.2" ry="6.9" fill="#6a300c" opacity="0.85"/>
<ellipse cx="906.2" cy="1801.2" rx="3.0" ry="2.6" fill="#f0e4e0" opacity="0.85"/>
<ellipse cx="936.0" cy="1799.2" rx="3.9" ry="3.4" fill="#6a300c" opacity="0.85"/>
<ellipse cx="883.7" cy="1802.1" rx="4.4" ry="4.2" fill="#6a300c" opacity="0.85"/>
<ellipse cx="873.8" cy="1842.8" rx="4.4" ry="4.3" fill="#9a5020" opacity="0.85"/>
<ellipse cx="939.6" cy="1805.7" rx="3.3" ry="3.7" fill="#c89080" opacity="0.85"/>
<ellipse cx="858.9" cy="1784.8" rx="4.2" ry="3.7" fill="#9a5020" opacity="0.85"/>
<ellipse cx="840.5" cy="1858.1" rx="6.6" ry="5.2" fill="#6a300c" opacity="0.85"/>
<ellipse cx="922.5" cy="1816.7" rx="3.7" ry="3.3" fill="#9a5020" opacity="0.85"/>
<ellipse cx="934.8" cy="1823.3" rx="4.9" ry="4.9" fill="#9a5020" opacity="0.85"/>
<ellipse cx="909.9" cy="1842.4" rx="6.1" ry="5.4" fill="#6a300c" opacity="0.85"/>
<ellipse cx="836.3" cy="1780.9" rx="4.4" ry="4.1" fill="#6a300c" opacity="0.85"/>
<ellipse cx="858.8" cy="1814.0" rx="3.8" ry="3.8" fill="#f0e4e0" opacity="0.85"/>
<ellipse cx="935.4" cy="1823.5" rx="4.9" ry="4.1" fill="#6a300c" opacity="0.85"/>
<ellipse cx="936.8" cy="1802.5" rx="3.8" ry="3.7" fill="#3a5ad0" opacity="0.85"/>
<ellipse cx="879.4" cy="1851.6" rx="5.7" ry="6.1" fill="#6a300c" opacity="0.85"/>
<ellipse cx="929.8" cy="1840.2" rx="4.6" ry="4.4" fill="#6a300c" opacity="0.85"/>
<ellipse cx="897.6" cy="1824.9" rx="3.4" ry="3.3" fill="#3a5ad0" opacity="0.85"/>
<ellipse cx="922.1" cy="1805.5" rx="7.1" ry="7.0" fill="#6a300c" opacity="0.85"/>
<ellipse cx="880.5" cy="1784.8" rx="6.3" ry="4.8" fill="#6a300c" opacity="0.85"/>
<ellipse cx="868.7" cy="1839.7" rx="3.1" ry="3.2" fill="#3a5ad0" opacity="0.85"/>
<ellipse cx="860.6" cy="1785.0" rx="3.7" ry="3.7" fill="#3a5ad0" opacity="0.85"/>
<ellipse cx="836.2" cy="1811.3" rx="6.5" ry="5.3" fill="#6a300c" opacity="0.85"/>
<ellipse cx="890.5" cy="1787.6" rx="3.4" ry="3.1" fill="#c89080" opacity="0.85"/>
<ellipse cx="854.3" cy="1781.1" rx="5.0" ry="4.3" fill="#9a5020" opacity="0.85"/>
<ellipse cx="884.3" cy="1833.0" rx="5.2" ry="4.4" fill="#9a5020" opacity="0.85"/>
<ellipse cx="928.7" cy="1778.3" rx="4.3" ry="3.3" fill="#6a300c" opacity="0.85"/>
<ellipse cx="894.1" cy="1852.1" rx="4.8" ry="4.3" fill="#c89080" opacity="0.85"/>
<ellipse cx="915.0" cy="1793.6" rx="5.9" ry="5.4" fill="#9a5020" opacity="0.85"/>
<ellipse cx="872.6" cy="1821.4" rx="4.3" ry="4.8" fill="#6a300c" opacity="0.85"/>
<ellipse cx="890.9" cy="1850.5" rx="5.0" ry="4.8" fill="#c89080" opacity="0.85"/>
<ellipse cx="939.0" cy="1851.8" rx="5.3" ry="4.8" fill="#6a300c" opacity="0.85"/>
<ellipse cx="902.6" cy="1846.3" rx="5.1" ry="4.4" fill="#6a300c" opacity="0.85"/>
<ellipse cx="921.6" cy="1788.4" rx="3.5" ry="3.5" fill="#3a5ad0" opacity="0.85"/>
<ellipse cx="924.2" cy="1800.7" rx="6.6" ry="6.1" fill="#6a300c" opacity="0.85"/>
<ellipse cx="837.3" cy="1783.6" rx="4.7" ry="5.0" fill="#6a300c" opacity="0.85"/>
<ellipse cx="903.9" cy="1800.0" rx="3.8" ry="4.0" fill="#f0e4e0" opacity="0.85"/>
<ellipse cx="844.1" cy="1813.7" rx="4.2" ry="3.4" fill="#9a5020" opacity="0.85"/>
<ellipse cx="843.3" cy="1850.0" rx="4.3" ry="4.8" fill="#9a5020" opacity="0.85"/>
<ellipse cx="836.4" cy="1850.1" rx="4.1" ry="4.0" fill="#f0e4e0" opacity="0.85"/>
<ellipse cx="887.3" cy="1776.1" rx="3.6" ry="3.1" fill="#c89080" opacity="0.85"/>
<ellipse cx="925.5" cy="1784.0" rx="4.1" ry="3.3" fill="#c89080" opacity="0.85"/>
<ellipse cx="873.5" cy="1809.1" rx="4.3" ry="4.4" fill="#6a300c" opacity="0.85"/>
<ellipse cx="932.1" cy="1814.7" rx="5.3" ry="5.6" fill="#6a300c" opacity="0.85"/>
<ellipse cx="863.2" cy="1784.4" rx="4.8" ry="4.1" fill="#6a300c" opacity="0.85"/>
<ellipse cx="873.9" cy="1833.8" rx="3.0" ry="2.4" fill="#f0e4e0" opacity="0.85"/>
<ellipse cx="878.0" cy="1851.0" rx="4.5" ry="3.8" fill="#6a300c" opacity="0.85"/>
<ellipse cx="862.8" cy="1855.2" rx="6.9" ry="5.8" fill="#6a300c" opacity="0.85"/>
<ellipse cx="888.2" cy="1823.5" rx="4.2" ry="3.9" fill="#6a300c" opacity="0.85"/>
<ellipse cx="835.3" cy="1834.8" rx="3.9" ry="4.1" fill="#f0e4e0" opacity="0.85"/>
<ellipse cx="885.7" cy="1817.9" rx="3.9" ry="3.7" fill="#9a5020" opacity="0.85"/>
<ellipse cx="870.2" cy="1777.8" rx="4.4" ry="3.4" fill="#6a300c" opacity="0.85"/>
<ellipse cx="860.9" cy="1821.0" rx="4.0" ry="3.4" fill="#3a5ad0" opacity="0.85"/>
</g>
<text x="844.4" y="1840.2" font-size="11.91" fill="#111" stroke="#111" stroke-width="0.3"><tspan>30μm</tspan></text>
<line x1="844.9" y1="1851.3" x2="866.7" y2="1851.3" stroke="#111" stroke-width="2.6"/>
<path d="M1073.0,1751.6C1073.4,1746.8 1074.2,1739.1 1077.3,1734.3C1080.4,1729.5 1087.8,1731.9 1091.7,1722.8C1095.5,1713.7 1096.0,1689.2 1100.3,1679.6C1104.6,1670.0 1109.9,1671.0 1117.6,1665.2C1125.3,1659.4 1135.8,1649.8 1146.4,1645.0C1157.0,1640.2 1171.4,1639.8 1181.0,1636.4C1190.6,1633.0 1197.3,1630.2 1204.0,1624.9C1210.7,1619.6 1217.0,1613.4 1221.3,1604.7C1225.6,1596.1 1227.1,1579.3 1229.9,1573.0C1232.8,1566.8 1233.3,1566.3 1238.6,1567.3C1243.9,1568.2 1256.8,1572.1 1261.6,1578.8C1266.4,1585.5 1267.4,1598.0 1267.4,1607.6C1267.4,1617.2 1265.0,1624.4 1261.6,1636.4C1258.3,1648.4 1251.1,1667.1 1247.2,1679.6C1243.4,1692.1 1241.0,1701.7 1238.6,1711.3C1236.2,1720.9 1235.2,1730.5 1232.8,1737.2C1230.4,1743.9 1226.1,1744.4 1224.2,1751.6C1222.3,1758.8 1225.6,1771.8 1221.3,1780.4C1217.0,1789.1 1205.4,1797.2 1198.2,1803.5C1191.0,1809.7 1181.4,1822.7 1178.1,1817.9C1174.7,1813.1 1183.4,1781.9 1178.1,1774.7C1172.8,1767.5 1156.5,1775.6 1146.4,1774.7C1136.3,1773.7 1127.2,1769.9 1117.6,1768.9C1108.0,1767.9 1096.0,1769.9 1088.8,1768.9C1081.6,1767.9 1077.0,1766.0 1074.4,1763.1C1071.8,1760.3 1072.5,1756.4 1073.0,1751.6Z" fill="#d0d3ef" filter="url(#b0_6)"/>
<path d="M1073.0,1751.6C1073.4,1746.8 1074.2,1739.1 1077.3,1734.3C1080.4,1729.5 1087.8,1731.9 1091.7,1722.8C1095.5,1713.7 1096.0,1689.2 1100.3,1679.6C1104.6,1670.0 1109.9,1671.0 1117.6,1665.2C1125.3,1659.4 1135.8,1649.8 1146.4,1645.0C1157.0,1640.2 1171.4,1639.8 1181.0,1636.4C1190.6,1633.0 1197.3,1630.2 1204.0,1624.9C1210.7,1619.6 1217.0,1613.4 1221.3,1604.7C1225.6,1596.1 1227.1,1579.3 1229.9,1573.0C1232.8,1566.8 1233.3,1566.3 1238.6,1567.3C1243.9,1568.2 1256.8,1572.1 1261.6,1578.8C1266.4,1585.5 1267.4,1598.0 1267.4,1607.6C1267.4,1617.2 1265.0,1624.4 1261.6,1636.4C1258.3,1648.4 1251.1,1667.1 1247.2,1679.6C1243.4,1692.1 1241.0,1701.7 1238.6,1711.3C1236.2,1720.9 1235.2,1730.5 1232.8,1737.2C1230.4,1743.9 1226.1,1744.4 1224.2,1751.6C1222.3,1758.8 1225.6,1771.8 1221.3,1780.4C1217.0,1789.1 1205.4,1797.2 1198.2,1803.5C1191.0,1809.7 1181.4,1822.7 1178.1,1817.9C1174.7,1813.1 1183.4,1781.9 1178.1,1774.7C1172.8,1767.5 1156.5,1775.6 1146.4,1774.7C1136.3,1773.7 1127.2,1769.9 1117.6,1768.9C1108.0,1767.9 1096.0,1769.9 1088.8,1768.9C1081.6,1767.9 1077.0,1766.0 1074.4,1763.1C1071.8,1760.3 1072.5,1756.4 1073.0,1751.6Z" fill="url(#mesh)" stroke="#a6aad6" stroke-width="1.1"/>
<ellipse cx="1178.1" cy="1753.1" rx="33.1" ry="10.9" fill="#b8bce0" filter="url(#b1_5)"/>
<ellipse cx="1212.6" cy="1664.6" rx="10.1" ry="5.2" fill="#ffffff" filter="url(#b0_8)"/>
<ellipse cx="1192.5" cy="1702.1" rx="8.6" ry="5.2" fill="#ffffff" filter="url(#b0_8)"/>
<rect x="1068.6" y="1774.7" width="109.4" height="85.8" fill="#b8bce6"/>
<clipPath id="cp17"><rect x="1068.6" y="1774.7" width="109.4" height="85.8"/></clipPath><g clip-path="url(#cp17)">
<ellipse cx="1137.8" cy="1844.8" rx="3.5" ry="3.5" fill="#6a80e0" opacity="0.85"/>
<ellipse cx="1168.0" cy="1790.7" rx="3.8" ry="3.8" fill="#e0e0f4" opacity="0.85"/>
<ellipse cx="1174.3" cy="1820.0" rx="3.9" ry="4.4" fill="#6a80e0" opacity="0.85"/>
<ellipse cx="1101.6" cy="1801.2" rx="4.0" ry="3.1" fill="#6a80e0" opacity="0.85"/>
<ellipse cx="1149.1" cy="1811.3" rx="4.8" ry="5.4" fill="#6a80e0" opacity="0.85"/>
<ellipse cx="1143.1" cy="1784.8" rx="2.9" ry="3.4" fill="#6a80e0" opacity="0.85"/>
<ellipse cx="1091.9" cy="1851.6" rx="5.2" ry="4.1" fill="#3c5ad8" opacity="0.85"/>
<ellipse cx="1095.1" cy="1798.1" rx="3.2" ry="3.0" fill="#3c5ad8" opacity="0.85"/>
<ellipse cx="1111.7" cy="1790.6" rx="3.4" ry="2.6" fill="#3c5ad8" opacity="0.85"/>
<ellipse cx="1150.4" cy="1822.7" rx="2.7" ry="2.2" fill="#e0e0f4" opacity="0.85"/>
<ellipse cx="1103.2" cy="1779.6" rx="3.9" ry="3.2" fill="#3c5ad8" opacity="0.85"/>
<ellipse cx="1140.1" cy="1814.0" rx="4.4" ry="4.0" fill="#3c5ad8" opacity="0.85"/>
<ellipse cx="1154.5" cy="1801.1" rx="3.0" ry="2.8" fill="#6a80e0" opacity="0.85"/>
<ellipse cx="1154.0" cy="1784.2" rx="5.5" ry="4.2" fill="#3c5ad8" opacity="0.85"/>
<ellipse cx="1117.1" cy="1801.8" rx="4.9" ry="5.1" fill="#6a80e0" opacity="0.85"/>
<ellipse cx="1122.7" cy="1827.2" rx="3.2" ry="2.5" fill="#3c5ad8" opacity="0.85"/>
<ellipse cx="1148.4" cy="1814.4" rx="3.8" ry="3.6" fill="#6a80e0" opacity="0.85"/>
<ellipse cx="1164.5" cy="1857.2" rx="4.5" ry="3.4" fill="#3c5ad8" opacity="0.85"/>
<ellipse cx="1156.5" cy="1802.6" rx="3.4" ry="2.8" fill="#3c5ad8" opacity="0.85"/>
<ellipse cx="1136.6" cy="1799.3" rx="4.3" ry="4.5" fill="#6a80e0" opacity="0.85"/>
<ellipse cx="1159.5" cy="1811.9" rx="4.2" ry="4.6" fill="#e0e0f4" opacity="0.85"/>
<ellipse cx="1150.7" cy="1825.0" rx="3.5" ry="3.8" fill="#e0e0f4" opacity="0.85"/>
<ellipse cx="1147.5" cy="1794.3" rx="3.0" ry="2.6" fill="#6a80e0" opacity="0.85"/>
<ellipse cx="1131.3" cy="1791.7" rx="3.3" ry="3.7" fill="#6a80e0" opacity="0.85"/>
<ellipse cx="1169.9" cy="1840.9" rx="4.7" ry="5.4" fill="#3c5ad8" opacity="0.85"/>
<ellipse cx="1069.3" cy="1855.3" rx="3.8" ry="4.2" fill="#6a80e0" opacity="0.85"/>
<ellipse cx="1083.7" cy="1778.1" rx="2.8" ry="3.0" fill="#a088b8" opacity="0.85"/>
<ellipse cx="1093.5" cy="1784.4" rx="3.7" ry="3.9" fill="#a088b8" opacity="0.85"/>
<ellipse cx="1163.5" cy="1857.8" rx="4.6" ry="5.0" fill="#a088b8" opacity="0.85"/>
<ellipse cx="1069.3" cy="1848.7" rx="4.8" ry="4.2" fill="#3c5ad8" opacity="0.85"/>
<ellipse cx="1105.0" cy="1803.8" rx="4.5" ry="4.2" fill="#3c5ad8" opacity="0.85"/>
<ellipse cx="1077.6" cy="1792.1" rx="3.5" ry="2.8" fill="#3c5ad8" opacity="0.85"/>
<ellipse cx="1082.8" cy="1843.3" rx="4.6" ry="4.3" fill="#3c5ad8" opacity="0.85"/>
<ellipse cx="1094.3" cy="1776.7" rx="3.0" ry="2.6" fill="#6a80e0" opacity="0.85"/>
<ellipse cx="1096.2" cy="1801.0" rx="5.4" ry="4.1" fill="#3c5ad8" opacity="0.85"/>
<ellipse cx="1110.5" cy="1798.9" rx="4.5" ry="3.8" fill="#6a80e0" opacity="0.85"/>
<ellipse cx="1086.0" cy="1858.6" rx="4.1" ry="3.3" fill="#3c5ad8" opacity="0.85"/>
<ellipse cx="1139.2" cy="1856.8" rx="2.7" ry="2.9" fill="#903048" opacity="0.85"/>
<ellipse cx="1094.6" cy="1842.9" rx="4.5" ry="4.8" fill="#3c5ad8" opacity="0.85"/>
<ellipse cx="1164.5" cy="1781.4" rx="4.8" ry="4.0" fill="#3c5ad8" opacity="0.85"/>
<ellipse cx="1165.2" cy="1811.6" rx="5.3" ry="4.6" fill="#3c5ad8" opacity="0.85"/>
<ellipse cx="1167.9" cy="1828.5" rx="3.4" ry="3.4" fill="#6a80e0" opacity="0.85"/>
<ellipse cx="1156.2" cy="1812.8" rx="3.3" ry="2.6" fill="#e0e0f4" opacity="0.85"/>
<ellipse cx="1085.9" cy="1793.4" rx="2.9" ry="2.3" fill="#a088b8" opacity="0.85"/>
<ellipse cx="1120.7" cy="1789.7" rx="4.3" ry="4.5" fill="#3c5ad8" opacity="0.85"/>
<ellipse cx="1083.4" cy="1819.5" rx="5.6" ry="6.2" fill="#3c5ad8" opacity="0.85"/>
<ellipse cx="1078.6" cy="1849.7" rx="5.2" ry="5.8" fill="#6a80e0" opacity="0.85"/>
<ellipse cx="1110.5" cy="1825.1" rx="4.7" ry="5.4" fill="#6a80e0" opacity="0.85"/>
<ellipse cx="1124.0" cy="1801.3" rx="4.1" ry="4.0" fill="#6a80e0" opacity="0.85"/>
<ellipse cx="1118.7" cy="1853.3" rx="3.8" ry="3.2" fill="#3c5ad8" opacity="0.85"/>
<ellipse cx="1162.5" cy="1800.7" rx="5.4" ry="6.0" fill="#3c5ad8" opacity="0.85"/>
<ellipse cx="1156.6" cy="1791.4" rx="3.4" ry="3.7" fill="#e0e0f4" opacity="0.85"/>
<ellipse cx="1134.4" cy="1849.4" rx="5.7" ry="5.0" fill="#3c5ad8" opacity="0.85"/>
<ellipse cx="1072.0" cy="1801.9" rx="4.6" ry="4.0" fill="#3c5ad8" opacity="0.85"/>
<ellipse cx="1139.7" cy="1828.0" rx="4.8" ry="4.2" fill="#a088b8" opacity="0.85"/>
<ellipse cx="1107.0" cy="1799.5" rx="3.1" ry="3.3" fill="#6a80e0" opacity="0.85"/>
<ellipse cx="1072.0" cy="1836.2" rx="2.6" ry="2.4" fill="#e0e0f4" opacity="0.85"/>
<ellipse cx="1167.4" cy="1811.8" rx="4.5" ry="4.0" fill="#3c5ad8" opacity="0.85"/>
<ellipse cx="1095.2" cy="1780.0" rx="3.2" ry="3.1" fill="#3c5ad8" opacity="0.85"/>
<ellipse cx="1142.0" cy="1796.9" rx="5.2" ry="4.0" fill="#a088b8" opacity="0.85"/>
<ellipse cx="1105.1" cy="1790.1" rx="5.1" ry="5.3" fill="#6a80e0" opacity="0.85"/>
<ellipse cx="1088.0" cy="1844.2" rx="4.2" ry="3.6" fill="#3c5ad8" opacity="0.85"/>
<ellipse cx="1104.2" cy="1825.2" rx="4.0" ry="3.9" fill="#3c5ad8" opacity="0.85"/>
<ellipse cx="1127.2" cy="1824.8" rx="4.0" ry="4.4" fill="#3c5ad8" opacity="0.85"/>
<ellipse cx="1140.5" cy="1810.0" rx="2.8" ry="2.8" fill="#e0e0f4" opacity="0.85"/>
<ellipse cx="1086.6" cy="1820.4" rx="3.7" ry="3.7" fill="#3c5ad8" opacity="0.85"/>
<ellipse cx="1069.9" cy="1829.0" rx="3.3" ry="2.9" fill="#a088b8" opacity="0.85"/>
<ellipse cx="1174.2" cy="1801.6" rx="4.6" ry="4.1" fill="#6a80e0" opacity="0.85"/>
<ellipse cx="1087.6" cy="1831.7" rx="2.6" ry="2.6" fill="#e0e0f4" opacity="0.85"/>
<ellipse cx="1168.5" cy="1840.4" rx="4.1" ry="3.7" fill="#a088b8" opacity="0.85"/>
<ellipse cx="1139.5" cy="1827.1" rx="4.5" ry="4.7" fill="#6a80e0" opacity="0.85"/>
<ellipse cx="1136.5" cy="1849.9" rx="4.0" ry="3.6" fill="#e0e0f4" opacity="0.85"/>
<ellipse cx="1108.6" cy="1845.8" rx="4.9" ry="5.4" fill="#a088b8" opacity="0.85"/>
<ellipse cx="1144.4" cy="1817.4" rx="3.1" ry="3.1" fill="#e0e0f4" opacity="0.85"/>
<ellipse cx="1107.8" cy="1792.8" rx="4.0" ry="4.5" fill="#e0e0f4" opacity="0.85"/>
<ellipse cx="1083.8" cy="1784.3" rx="4.6" ry="5.0" fill="#3c5ad8" opacity="0.85"/>
<ellipse cx="1155.1" cy="1778.7" rx="3.7" ry="3.6" fill="#3c5ad8" opacity="0.85"/>
<ellipse cx="1122.6" cy="1833.7" rx="3.7" ry="3.3" fill="#a088b8" opacity="0.85"/>
<ellipse cx="1068.8" cy="1791.9" rx="3.6" ry="3.7" fill="#6a80e0" opacity="0.85"/>
<ellipse cx="1095.2" cy="1859.7" rx="4.9" ry="4.5" fill="#3c5ad8" opacity="0.85"/>
<ellipse cx="1146.8" cy="1844.8" rx="4.1" ry="4.1" fill="#a088b8" opacity="0.85"/>
<ellipse cx="1115.5" cy="1808.4" rx="3.8" ry="3.4" fill="#3c5ad8" opacity="0.85"/>
<ellipse cx="1093.0" cy="1784.5" rx="3.2" ry="2.6" fill="#e0e0f4" opacity="0.85"/>
<ellipse cx="1168.5" cy="1821.7" rx="3.2" ry="3.1" fill="#3c5ad8" opacity="0.85"/>
<ellipse cx="1121.5" cy="1855.8" rx="5.8" ry="5.3" fill="#3c5ad8" opacity="0.85"/>
<ellipse cx="1122.5" cy="1781.6" rx="3.8" ry="4.0" fill="#a088b8" opacity="0.85"/>
<ellipse cx="1147.7" cy="1859.5" rx="3.7" ry="3.8" fill="#a088b8" opacity="0.85"/>
<ellipse cx="1169.7" cy="1849.4" rx="4.9" ry="4.3" fill="#a088b8" opacity="0.85"/>
<ellipse cx="1136.3" cy="1785.0" rx="4.0" ry="3.6" fill="#3c5ad8" opacity="0.85"/>
<ellipse cx="1088.9" cy="1830.7" rx="4.0" ry="3.1" fill="#3c5ad8" opacity="0.85"/>
<ellipse cx="1172.1" cy="1793.9" rx="4.4" ry="3.5" fill="#a088b8" opacity="0.85"/>
<ellipse cx="1086.6" cy="1829.8" rx="4.7" ry="5.0" fill="#3c5ad8" opacity="0.85"/>
<ellipse cx="1151.2" cy="1849.7" rx="4.2" ry="3.5" fill="#6a80e0" opacity="0.85"/>
<ellipse cx="1162.3" cy="1845.1" rx="4.9" ry="5.5" fill="#3c5ad8" opacity="0.85"/>
<ellipse cx="1112.7" cy="1790.7" rx="3.8" ry="4.3" fill="#a088b8" opacity="0.85"/>
<ellipse cx="1069.3" cy="1775.3" rx="3.4" ry="3.8" fill="#e0e0f4" opacity="0.85"/>
<ellipse cx="1160.1" cy="1780.6" rx="2.9" ry="3.1" fill="#e0e0f4" opacity="0.85"/>
<ellipse cx="1103.5" cy="1857.1" rx="2.8" ry="2.7" fill="#6a80e0" opacity="0.85"/>
<ellipse cx="1145.3" cy="1850.9" rx="3.0" ry="2.9" fill="#e0e0f4" opacity="0.85"/>
<ellipse cx="1083.1" cy="1811.6" rx="3.9" ry="3.2" fill="#903048" opacity="0.85"/>
</g>
<text x="1077.8" y="1842.1" font-size="11.91" fill="#111" stroke="#111" stroke-width="0.3"><tspan>30μm</tspan></text>
<line x1="1078.3" y1="1853.2" x2="1100.1" y2="1853.2" stroke="#111" stroke-width="2.6"/>
<path d="M1294.7,1564.4C1298.1,1560.1 1307.9,1564.9 1319.2,1567.3C1330.5,1569.7 1350.4,1573.0 1362.4,1578.8C1374.4,1584.6 1384.0,1594.6 1391.2,1601.8C1398.4,1609.0 1399.4,1619.1 1405.6,1622.0C1411.9,1624.9 1421.5,1616.7 1428.7,1619.1C1435.9,1621.5 1443.1,1626.3 1448.8,1636.4C1454.6,1646.5 1459.4,1665.2 1463.2,1679.6C1467.1,1694.0 1469.9,1706.0 1471.9,1722.8C1473.8,1739.6 1474.3,1763.6 1474.7,1780.4C1475.2,1797.2 1475.7,1811.6 1474.7,1823.6C1473.8,1835.6 1473.3,1849.1 1469.0,1852.4C1464.7,1855.8 1457.0,1848.6 1448.8,1843.8C1440.7,1839.0 1427.2,1831.8 1420.0,1823.6C1412.8,1815.5 1410.4,1804.4 1405.6,1794.8C1400.8,1785.2 1393.1,1773.2 1391.2,1766.0C1389.3,1758.8 1391.7,1755.0 1394.1,1751.6C1396.5,1748.3 1402.7,1750.7 1405.6,1745.9C1408.5,1741.1 1413.8,1729.1 1411.4,1722.8C1409.0,1716.6 1399.4,1711.8 1391.2,1708.4C1383.1,1705.0 1372.0,1707.5 1362.4,1702.6C1352.8,1697.8 1341.8,1690.6 1333.6,1679.6C1325.5,1668.6 1319.2,1650.8 1313.5,1636.4C1307.7,1622.0 1302.2,1605.2 1299.1,1593.2C1295.9,1581.2 1291.4,1568.7 1294.7,1564.4Z" fill="#c2c6da" filter="url(#b0_6)"/>
<path d="M1294.7,1564.4C1298.1,1560.1 1307.9,1564.9 1319.2,1567.3C1330.5,1569.7 1350.4,1573.0 1362.4,1578.8C1374.4,1584.6 1384.0,1594.6 1391.2,1601.8C1398.4,1609.0 1399.4,1619.1 1405.6,1622.0C1411.9,1624.9 1421.5,1616.7 1428.7,1619.1C1435.9,1621.5 1443.1,1626.3 1448.8,1636.4C1454.6,1646.5 1459.4,1665.2 1463.2,1679.6C1467.1,1694.0 1469.9,1706.0 1471.9,1722.8C1473.8,1739.6 1474.3,1763.6 1474.7,1780.4C1475.2,1797.2 1475.7,1811.6 1474.7,1823.6C1473.8,1835.6 1473.3,1849.1 1469.0,1852.4C1464.7,1855.8 1457.0,1848.6 1448.8,1843.8C1440.7,1839.0 1427.2,1831.8 1420.0,1823.6C1412.8,1815.5 1410.4,1804.4 1405.6,1794.8C1400.8,1785.2 1393.1,1773.2 1391.2,1766.0C1389.3,1758.8 1391.7,1755.0 1394.1,1751.6C1396.5,1748.3 1402.7,1750.7 1405.6,1745.9C1408.5,1741.1 1413.8,1729.1 1411.4,1722.8C1409.0,1716.6 1399.4,1711.8 1391.2,1708.4C1383.1,1705.0 1372.0,1707.5 1362.4,1702.6C1352.8,1697.8 1341.8,1690.6 1333.6,1679.6C1325.5,1668.6 1319.2,1650.8 1313.5,1636.4C1307.7,1622.0 1302.2,1605.2 1299.1,1593.2C1295.9,1581.2 1291.4,1568.7 1294.7,1564.4Z" fill="url(#mesh2)" stroke="#9ca0bc" stroke-width="1.1"/>
<ellipse cx="1418.6" cy="1734.3" rx="13.0" ry="11.5" fill="#c4c8d8" filter="url(#b1_5)"/>
<ellipse cx="1379.7" cy="1676.7" rx="11.5" ry="5.2" fill="#ffffff" filter="url(#b0_8)"/>
<rect x="1281.0" y="1774.7" width="108.8" height="85.8" fill="#d8c4dc"/>
<clipPath id="cp18"><rect x="1281.0" y="1774.7" width="108.8" height="85.8"/></clipPath><g clip-path="url(#cp18)">
<ellipse cx="1340.0" cy="1848.7" rx="3.6" ry="3.0" fill="#8a70c8" opacity="0.85"/>
<ellipse cx="1293.7" cy="1775.5" rx="3.6" ry="3.4" fill="#8a70c8" opacity="0.85"/>
<ellipse cx="1356.5" cy="1807.2" rx="3.8" ry="3.9" fill="#7070d0" opacity="0.85"/>
<ellipse cx="1289.0" cy="1846.9" rx="4.8" ry="3.8" fill="#8a70c8" opacity="0.85"/>
<ellipse cx="1291.3" cy="1857.0" rx="3.4" ry="3.4" fill="#8a70c8" opacity="0.85"/>
<ellipse cx="1284.8" cy="1807.8" rx="3.9" ry="4.4" fill="#7070d0" opacity="0.85"/>
<ellipse cx="1309.1" cy="1796.0" rx="3.3" ry="3.3" fill="#8a70c8" opacity="0.85"/>
<ellipse cx="1328.5" cy="1777.9" rx="4.5" ry="4.7" fill="#7070d0" opacity="0.85"/>
<ellipse cx="1316.8" cy="1846.0" rx="3.8" ry="3.7" fill="#e8dce8" opacity="0.85"/>
<ellipse cx="1306.4" cy="1813.8" rx="4.7" ry="4.8" fill="#b06aa8" opacity="0.85"/>
<ellipse cx="1370.2" cy="1846.7" rx="3.3" ry="2.7" fill="#8a70c8" opacity="0.85"/>
<ellipse cx="1282.6" cy="1839.3" rx="4.9" ry="4.7" fill="#8a70c8" opacity="0.85"/>
<ellipse cx="1319.8" cy="1791.8" rx="3.1" ry="2.7" fill="#7070d0" opacity="0.85"/>
<ellipse cx="1347.0" cy="1779.8" rx="3.8" ry="3.0" fill="#7070d0" opacity="0.85"/>
<ellipse cx="1294.3" cy="1790.1" rx="4.3" ry="4.7" fill="#b06aa8" opacity="0.85"/>
<ellipse cx="1313.0" cy="1830.1" rx="3.5" ry="2.6" fill="#b06aa8" opacity="0.85"/>
<ellipse cx="1355.9" cy="1828.5" rx="3.7" ry="4.0" fill="#8a70c8" opacity="0.85"/>
<ellipse cx="1311.4" cy="1857.1" rx="3.4" ry="2.7" fill="#7070d0" opacity="0.85"/>
<ellipse cx="1375.1" cy="1826.2" rx="4.1" ry="3.9" fill="#b06aa8" opacity="0.85"/>
<ellipse cx="1313.6" cy="1809.3" rx="4.6" ry="5.2" fill="#8a70c8" opacity="0.85"/>
<ellipse cx="1308.4" cy="1855.7" rx="4.9" ry="3.8" fill="#8a70c8" opacity="0.85"/>
<ellipse cx="1351.8" cy="1852.9" rx="3.0" ry="3.3" fill="#b06aa8" opacity="0.85"/>
<ellipse cx="1311.3" cy="1820.5" rx="4.2" ry="3.5" fill="#e8dce8" opacity="0.85"/>
<ellipse cx="1341.9" cy="1781.0" rx="3.0" ry="2.8" fill="#e8dce8" opacity="0.85"/>
<ellipse cx="1383.7" cy="1796.2" rx="3.8" ry="3.7" fill="#8a70c8" opacity="0.85"/>
<ellipse cx="1315.7" cy="1802.6" rx="4.0" ry="4.4" fill="#b06aa8" opacity="0.85"/>
<ellipse cx="1380.2" cy="1855.2" rx="5.0" ry="5.3" fill="#8a70c8" opacity="0.85"/>
<ellipse cx="1385.7" cy="1838.4" rx="5.0" ry="4.7" fill="#8a70c8" opacity="0.85"/>
<ellipse cx="1356.2" cy="1837.8" rx="3.2" ry="2.8" fill="#8a70c8" opacity="0.85"/>
<ellipse cx="1304.1" cy="1785.8" rx="3.3" ry="2.5" fill="#b06aa8" opacity="0.85"/>
<ellipse cx="1323.6" cy="1817.7" rx="4.9" ry="4.3" fill="#8a70c8" opacity="0.85"/>
<ellipse cx="1381.1" cy="1828.9" rx="5.0" ry="5.1" fill="#8a70c8" opacity="0.85"/>
<ellipse cx="1345.6" cy="1802.1" rx="4.9" ry="5.3" fill="#8a70c8" opacity="0.85"/>
<ellipse cx="1367.6" cy="1784.8" rx="3.2" ry="2.5" fill="#8a70c8" opacity="0.85"/>
<ellipse cx="1374.3" cy="1854.1" rx="3.2" ry="2.9" fill="#b06aa8" opacity="0.85"/>
<ellipse cx="1377.6" cy="1845.6" rx="3.4" ry="2.9" fill="#7070d0" opacity="0.85"/>
<ellipse cx="1309.7" cy="1809.4" rx="5.3" ry="5.4" fill="#8a70c8" opacity="0.85"/>
<ellipse cx="1300.4" cy="1813.4" rx="5.6" ry="5.2" fill="#8a70c8" opacity="0.85"/>
<ellipse cx="1355.9" cy="1850.0" rx="3.5" ry="3.1" fill="#e8dce8" opacity="0.85"/>
<ellipse cx="1368.3" cy="1798.6" rx="3.3" ry="3.5" fill="#b06aa8" opacity="0.85"/>
<ellipse cx="1350.8" cy="1789.6" rx="2.9" ry="2.4" fill="#b06aa8" opacity="0.85"/>
<ellipse cx="1284.6" cy="1798.1" rx="5.1" ry="4.7" fill="#b06aa8" opacity="0.85"/>
<ellipse cx="1368.3" cy="1800.6" rx="3.6" ry="3.6" fill="#8a70c8" opacity="0.85"/>
<ellipse cx="1316.3" cy="1835.7" rx="4.3" ry="3.8" fill="#e8dce8" opacity="0.85"/>
<ellipse cx="1281.6" cy="1825.4" rx="3.5" ry="3.5" fill="#b06aa8" opacity="0.85"/>
<ellipse cx="1318.0" cy="1832.0" rx="4.4" ry="3.6" fill="#e8dce8" opacity="0.85"/>
<ellipse cx="1332.9" cy="1855.7" rx="3.0" ry="2.7" fill="#7070d0" opacity="0.85"/>
<ellipse cx="1309.2" cy="1851.1" rx="4.6" ry="4.1" fill="#8a70c8" opacity="0.85"/>
<ellipse cx="1286.7" cy="1776.3" rx="4.6" ry="4.5" fill="#7070d0" opacity="0.85"/>
<ellipse cx="1335.0" cy="1855.7" rx="3.6" ry="3.0" fill="#7070d0" opacity="0.85"/>
<ellipse cx="1339.0" cy="1777.3" rx="2.8" ry="2.1" fill="#7070d0" opacity="0.85"/>
<ellipse cx="1350.5" cy="1784.4" rx="4.1" ry="4.4" fill="#e8dce8" opacity="0.85"/>
<ellipse cx="1343.9" cy="1811.9" rx="4.5" ry="4.0" fill="#b06aa8" opacity="0.85"/>
<ellipse cx="1345.3" cy="1832.4" rx="5.0" ry="5.7" fill="#7070d0" opacity="0.85"/>
<ellipse cx="1293.3" cy="1819.8" rx="5.0" ry="4.2" fill="#b06aa8" opacity="0.85"/>
<ellipse cx="1310.9" cy="1794.6" rx="5.3" ry="5.2" fill="#8a70c8" opacity="0.85"/>
<ellipse cx="1336.6" cy="1834.4" rx="3.2" ry="2.7" fill="#8a70c8" opacity="0.85"/>
<ellipse cx="1356.7" cy="1809.0" rx="3.2" ry="2.7" fill="#8a70c8" opacity="0.85"/>
<ellipse cx="1342.9" cy="1811.3" rx="4.3" ry="3.8" fill="#8a70c8" opacity="0.85"/>
<ellipse cx="1316.5" cy="1829.1" rx="4.6" ry="4.5" fill="#8a70c8" opacity="0.85"/>
<ellipse cx="1285.6" cy="1840.1" rx="5.1" ry="5.1" fill="#8a70c8" opacity="0.85"/>
<ellipse cx="1314.3" cy="1837.5" rx="3.5" ry="3.5" fill="#7070d0" opacity="0.85"/>
<ellipse cx="1330.5" cy="1827.5" rx="5.2" ry="4.9" fill="#7070d0" opacity="0.85"/>
<ellipse cx="1384.8" cy="1832.6" rx="4.0" ry="3.5" fill="#8a70c8" opacity="0.85"/>
<ellipse cx="1290.4" cy="1858.7" rx="4.7" ry="4.9" fill="#8a70c8" opacity="0.85"/>
<ellipse cx="1372.5" cy="1835.3" rx="5.5" ry="5.2" fill="#8a70c8" opacity="0.85"/>
<ellipse cx="1342.9" cy="1787.1" rx="5.0" ry="4.3" fill="#7070d0" opacity="0.85"/>
<ellipse cx="1340.8" cy="1809.0" rx="4.0" ry="3.6" fill="#7070d0" opacity="0.85"/>
<ellipse cx="1286.0" cy="1781.9" rx="5.6" ry="5.0" fill="#8a70c8" opacity="0.85"/>
<ellipse cx="1324.6" cy="1829.2" rx="4.9" ry="5.4" fill="#8a70c8" opacity="0.85"/>
<ellipse cx="1384.8" cy="1775.7" rx="3.6" ry="3.4" fill="#8a70c8" opacity="0.85"/>
<ellipse cx="1326.4" cy="1842.0" rx="3.6" ry="2.7" fill="#e8dce8" opacity="0.85"/>
<ellipse cx="1350.8" cy="1796.8" rx="3.7" ry="3.7" fill="#8a70c8" opacity="0.85"/>
<ellipse cx="1388.5" cy="1856.4" rx="3.5" ry="2.7" fill="#b06aa8" opacity="0.85"/>
<ellipse cx="1328.1" cy="1811.1" rx="4.3" ry="3.4" fill="#8a70c8" opacity="0.85"/>
<ellipse cx="1325.6" cy="1839.4" rx="3.5" ry="3.5" fill="#8a70c8" opacity="0.85"/>
<ellipse cx="1365.3" cy="1833.1" rx="3.7" ry="3.8" fill="#8a70c8" opacity="0.85"/>
<ellipse cx="1371.6" cy="1776.5" rx="4.0" ry="3.8" fill="#8a70c8" opacity="0.85"/>
<ellipse cx="1323.4" cy="1824.2" rx="3.8" ry="4.1" fill="#8a70c8" opacity="0.85"/>
<ellipse cx="1356.1" cy="1857.1" rx="3.4" ry="3.8" fill="#8a70c8" opacity="0.85"/>
<ellipse cx="1330.3" cy="1784.8" rx="5.7" ry="4.9" fill="#8a70c8" opacity="0.85"/>
<ellipse cx="1386.7" cy="1787.3" rx="3.0" ry="3.1" fill="#b06aa8" opacity="0.85"/>
<ellipse cx="1294.7" cy="1796.6" rx="3.2" ry="2.8" fill="#8a70c8" opacity="0.85"/>
<ellipse cx="1382.3" cy="1818.5" rx="3.2" ry="3.4" fill="#8a70c8" opacity="0.85"/>
<ellipse cx="1376.9" cy="1777.8" rx="3.5" ry="3.1" fill="#8a70c8" opacity="0.85"/>
<ellipse cx="1382.5" cy="1857.5" rx="3.3" ry="3.0" fill="#7070d0" opacity="0.85"/>
<ellipse cx="1369.4" cy="1855.4" rx="3.0" ry="2.3" fill="#7070d0" opacity="0.85"/>
<ellipse cx="1372.8" cy="1833.8" rx="4.3" ry="4.4" fill="#8a70c8" opacity="0.85"/>
<ellipse cx="1371.8" cy="1799.4" rx="4.6" ry="3.7" fill="#b06aa8" opacity="0.85"/>
<ellipse cx="1315.0" cy="1803.7" rx="3.4" ry="2.6" fill="#b06aa8" opacity="0.85"/>
<ellipse cx="1354.0" cy="1831.8" rx="4.9" ry="4.5" fill="#8a70c8" opacity="0.85"/>
<ellipse cx="1367.4" cy="1859.2" rx="3.7" ry="3.9" fill="#b06aa8" opacity="0.85"/>
<ellipse cx="1372.9" cy="1832.2" rx="3.3" ry="3.6" fill="#7070d0" opacity="0.85"/>
<ellipse cx="1361.7" cy="1838.6" rx="3.3" ry="2.6" fill="#b06aa8" opacity="0.85"/>
<ellipse cx="1353.5" cy="1776.1" rx="2.5" ry="2.3" fill="#e8dce8" opacity="0.85"/>
<ellipse cx="1294.4" cy="1834.3" rx="3.2" ry="3.2" fill="#e8dce8" opacity="0.85"/>
<ellipse cx="1306.4" cy="1787.4" rx="5.0" ry="5.0" fill="#8a70c8" opacity="0.85"/>
<ellipse cx="1293.4" cy="1846.4" rx="3.9" ry="4.3" fill="#8a70c8" opacity="0.85"/>
<ellipse cx="1369.2" cy="1786.6" rx="3.0" ry="3.3" fill="#7070d0" opacity="0.85"/>
<ellipse cx="1284.5" cy="1783.6" rx="3.9" ry="3.3" fill="#8a70c8" opacity="0.85"/>
</g>
<text x="1290.2" y="1842.1" font-size="11.91" fill="#111" stroke="#111" stroke-width="0.3"><tspan>30μm</tspan></text>
<line x1="1290.7" y1="1853.2" x2="1312.5" y2="1853.2" stroke="#111" stroke-width="2.6"/>
<path d="M1518.9,1564.2C1517.8,1558.4 1530.9,1559.7 1540.9,1562.6C1550.8,1565.5 1565.5,1573.1 1578.6,1581.4C1591.7,1589.8 1608.0,1600.8 1619.5,1612.9C1631.0,1624.9 1641.5,1645.9 1647.8,1653.8C1654.1,1661.6 1650.4,1655.3 1657.2,1660.1C1664.0,1664.8 1679.2,1673.2 1688.7,1682.1C1698.1,1691.0 1708.6,1704.1 1713.8,1713.5C1719.1,1723.0 1719.1,1732.4 1720.1,1738.7C1721.2,1745.0 1725.4,1749.2 1720.1,1751.3C1714.9,1753.4 1698.1,1748.1 1688.7,1751.3C1679.2,1754.4 1669.8,1761.7 1663.5,1770.1C1657.2,1778.5 1654.1,1791.1 1650.9,1801.6C1647.8,1812.1 1647.3,1823.8 1644.7,1833.0C1642.0,1842.2 1638.4,1854.5 1635.2,1856.6C1632.1,1858.7 1627.4,1859.0 1625.8,1845.6C1624.2,1832.2 1633.1,1789.0 1625.8,1776.4C1618.4,1763.8 1589.6,1781.7 1581.8,1770.1C1573.9,1758.6 1579.7,1728.2 1578.6,1707.2C1577.6,1686.3 1580.7,1662.7 1575.5,1644.3C1570.2,1626.0 1556.6,1610.5 1547.2,1597.2C1537.7,1583.8 1519.9,1569.9 1518.9,1564.2Z" fill="#cacbd6" filter="url(#b0_6)"/>
<path d="M1518.9,1564.2C1517.8,1558.4 1530.9,1559.7 1540.9,1562.6C1550.8,1565.5 1565.5,1573.1 1578.6,1581.4C1591.7,1589.8 1608.0,1600.8 1619.5,1612.9C1631.0,1624.9 1641.5,1645.9 1647.8,1653.8C1654.1,1661.6 1650.4,1655.3 1657.2,1660.1C1664.0,1664.8 1679.2,1673.2 1688.7,1682.1C1698.1,1691.0 1708.6,1704.1 1713.8,1713.5C1719.1,1723.0 1719.1,1732.4 1720.1,1738.7C1721.2,1745.0 1725.4,1749.2 1720.1,1751.3C1714.9,1753.4 1698.1,1748.1 1688.7,1751.3C1679.2,1754.4 1669.8,1761.7 1663.5,1770.1C1657.2,1778.5 1654.1,1791.1 1650.9,1801.6C1647.8,1812.1 1647.3,1823.8 1644.7,1833.0C1642.0,1842.2 1638.4,1854.5 1635.2,1856.6C1632.1,1858.7 1627.4,1859.0 1625.8,1845.6C1624.2,1832.2 1633.1,1789.0 1625.8,1776.4C1618.4,1763.8 1589.6,1781.7 1581.8,1770.1C1573.9,1758.6 1579.7,1728.2 1578.6,1707.2C1577.6,1686.3 1580.7,1662.7 1575.5,1644.3C1570.2,1626.0 1556.6,1610.5 1547.2,1597.2C1537.7,1583.8 1519.9,1569.9 1518.9,1564.2Z" fill="url(#mesh2)" stroke="#a8aabc" stroke-width="1.1"/>
<ellipse cx="1594.3" cy="1630.2" rx="6.3" ry="7.9" fill="#ffffff" filter="url(#b0_8)"/>
<ellipse cx="1643.1" cy="1677.4" rx="5.7" ry="6.9" fill="#ffffff" filter="url(#b0_8)"/>
<ellipse cx="1663.5" cy="1776.4" rx="6.3" ry="7.9" fill="#c8c8d4" filter="url(#b1_5)"/>
<rect x="1518.2" y="1774.8" width="107.6" height="85.9" fill="#cfc0e0"/>
<clipPath id="cp19"><rect x="1518.2" y="1774.8" width="107.6" height="85.9"/></clipPath><g clip-path="url(#cp19)">
<ellipse cx="1620.5" cy="1787.7" rx="5.1" ry="5.6" fill="#7a60c8" opacity="0.85"/>
<ellipse cx="1550.7" cy="1805.0" rx="4.0" ry="4.5" fill="#e8e0f0" opacity="0.85"/>
<ellipse cx="1576.4" cy="1808.1" rx="3.3" ry="3.4" fill="#e8e0f0" opacity="0.85"/>
<ellipse cx="1575.7" cy="1829.0" rx="4.9" ry="3.7" fill="#7a60c8" opacity="0.85"/>
<ellipse cx="1594.1" cy="1823.8" rx="5.4" ry="4.2" fill="#7a60c8" opacity="0.85"/>
<ellipse cx="1572.2" cy="1839.0" rx="3.7" ry="3.9" fill="#7a60c8" opacity="0.85"/>
<ellipse cx="1551.1" cy="1846.1" rx="3.4" ry="3.9" fill="#7a60c8" opacity="0.85"/>
<ellipse cx="1557.2" cy="1792.2" rx="4.4" ry="4.8" fill="#7a60c8" opacity="0.85"/>
<ellipse cx="1577.8" cy="1812.6" rx="4.0" ry="3.2" fill="#7a60c8" opacity="0.85"/>
<ellipse cx="1562.9" cy="1815.1" rx="3.7" ry="2.9" fill="#e8e0f0" opacity="0.85"/>
<ellipse cx="1614.1" cy="1796.6" rx="4.8" ry="4.9" fill="#5a50c8" opacity="0.85"/>
<ellipse cx="1547.2" cy="1782.0" rx="4.3" ry="4.0" fill="#7a60c8" opacity="0.85"/>
<ellipse cx="1570.0" cy="1821.9" rx="3.5" ry="2.9" fill="#a860a8" opacity="0.85"/>
<ellipse cx="1569.0" cy="1789.8" rx="3.9" ry="4.4" fill="#a860a8" opacity="0.85"/>
<ellipse cx="1596.4" cy="1805.3" rx="3.8" ry="3.9" fill="#5a50c8" opacity="0.85"/>
<ellipse cx="1587.1" cy="1777.9" rx="5.1" ry="4.2" fill="#a860a8" opacity="0.85"/>
<ellipse cx="1575.3" cy="1856.3" rx="4.2" ry="4.3" fill="#7a60c8" opacity="0.85"/>
<ellipse cx="1619.3" cy="1796.1" rx="4.6" ry="4.7" fill="#7a60c8" opacity="0.85"/>
<ellipse cx="1566.1" cy="1830.4" rx="2.5" ry="2.8" fill="#e8e0f0" opacity="0.85"/>
<ellipse cx="1582.2" cy="1796.7" rx="4.4" ry="4.5" fill="#a860a8" opacity="0.85"/>
<ellipse cx="1531.3" cy="1791.7" rx="5.5" ry="4.6" fill="#7a60c8" opacity="0.85"/>
<ellipse cx="1594.7" cy="1793.8" rx="5.3" ry="5.0" fill="#a860a8" opacity="0.85"/>
<ellipse cx="1540.2" cy="1811.3" rx="3.7" ry="3.2" fill="#5a50c8" opacity="0.85"/>
<ellipse cx="1564.2" cy="1808.7" rx="5.5" ry="4.8" fill="#7a60c8" opacity="0.85"/>
<ellipse cx="1598.9" cy="1812.1" rx="3.2" ry="3.4" fill="#7a60c8" opacity="0.85"/>
<ellipse cx="1588.7" cy="1845.2" rx="3.0" ry="3.3" fill="#e8e0f0" opacity="0.85"/>
<ellipse cx="1610.6" cy="1860.6" rx="4.6" ry="4.3" fill="#7a60c8" opacity="0.85"/>
<ellipse cx="1595.6" cy="1818.2" rx="2.6" ry="2.3" fill="#e8e0f0" opacity="0.85"/>
<ellipse cx="1519.7" cy="1809.9" rx="4.4" ry="4.5" fill="#e8e0f0" opacity="0.85"/>
<ellipse cx="1532.8" cy="1823.9" rx="4.8" ry="4.2" fill="#7a60c8" opacity="0.85"/>
<ellipse cx="1624.9" cy="1830.6" rx="4.6" ry="3.6" fill="#a860a8" opacity="0.85"/>
<ellipse cx="1520.6" cy="1857.6" rx="4.5" ry="4.5" fill="#a860a8" opacity="0.85"/>
<ellipse cx="1522.5" cy="1845.4" rx="3.9" ry="3.1" fill="#e8e0f0" opacity="0.85"/>
<ellipse cx="1611.4" cy="1859.9" rx="3.0" ry="3.4" fill="#5a50c8" opacity="0.85"/>
<ellipse cx="1545.6" cy="1781.6" rx="3.9" ry="3.0" fill="#e8e0f0" opacity="0.85"/>
<ellipse cx="1604.9" cy="1808.9" rx="4.0" ry="3.7" fill="#a860a8" opacity="0.85"/>
<ellipse cx="1524.9" cy="1823.3" rx="5.4" ry="6.1" fill="#7a60c8" opacity="0.85"/>
<ellipse cx="1550.8" cy="1845.0" rx="3.9" ry="4.2" fill="#7a60c8" opacity="0.85"/>
<ellipse cx="1610.6" cy="1828.4" rx="4.5" ry="5.0" fill="#5a50c8" opacity="0.85"/>
<ellipse cx="1554.4" cy="1837.8" rx="4.4" ry="4.7" fill="#7a60c8" opacity="0.85"/>
<ellipse cx="1596.1" cy="1825.5" rx="4.5" ry="5.1" fill="#5a50c8" opacity="0.85"/>
<ellipse cx="1523.3" cy="1842.8" rx="5.5" ry="5.5" fill="#7a60c8" opacity="0.85"/>
<ellipse cx="1546.9" cy="1859.3" rx="5.1" ry="5.8" fill="#a860a8" opacity="0.85"/>
<ellipse cx="1610.2" cy="1794.6" rx="4.0" ry="3.1" fill="#e8e0f0" opacity="0.85"/>
<ellipse cx="1566.5" cy="1819.8" rx="5.8" ry="5.8" fill="#7a60c8" opacity="0.85"/>
<ellipse cx="1604.0" cy="1840.1" rx="5.4" ry="6.1" fill="#7a60c8" opacity="0.85"/>
<ellipse cx="1573.9" cy="1831.9" rx="2.6" ry="2.3" fill="#e8e0f0" opacity="0.85"/>
<ellipse cx="1597.4" cy="1780.1" rx="3.7" ry="3.1" fill="#7a60c8" opacity="0.85"/>
<ellipse cx="1569.1" cy="1860.2" rx="4.0" ry="3.1" fill="#7a60c8" opacity="0.85"/>
<ellipse cx="1598.4" cy="1808.6" rx="5.8" ry="4.9" fill="#7a60c8" opacity="0.85"/>
<ellipse cx="1551.8" cy="1858.8" rx="5.0" ry="4.6" fill="#5a50c8" opacity="0.85"/>
<ellipse cx="1585.0" cy="1825.1" rx="4.9" ry="3.9" fill="#7a60c8" opacity="0.85"/>
<ellipse cx="1555.3" cy="1802.1" rx="3.0" ry="2.3" fill="#5a50c8" opacity="0.85"/>
<ellipse cx="1532.5" cy="1801.3" rx="5.1" ry="5.4" fill="#a860a8" opacity="0.85"/>
<ellipse cx="1542.4" cy="1828.7" rx="4.2" ry="4.8" fill="#a860a8" opacity="0.85"/>
<ellipse cx="1610.5" cy="1798.1" rx="4.1" ry="3.7" fill="#e8e0f0" opacity="0.85"/>
<ellipse cx="1530.7" cy="1818.8" rx="4.9" ry="4.2" fill="#7a60c8" opacity="0.85"/>
<ellipse cx="1581.4" cy="1820.1" rx="5.1" ry="5.6" fill="#7a60c8" opacity="0.85"/>
<ellipse cx="1622.9" cy="1799.7" rx="5.2" ry="4.4" fill="#7a60c8" opacity="0.85"/>
<ellipse cx="1556.0" cy="1819.8" rx="4.3" ry="4.5" fill="#e8e0f0" opacity="0.85"/>
<ellipse cx="1616.8" cy="1810.1" rx="3.0" ry="3.2" fill="#e8e0f0" opacity="0.85"/>
<ellipse cx="1547.5" cy="1859.2" rx="5.6" ry="6.0" fill="#a860a8" opacity="0.85"/>
<ellipse cx="1604.7" cy="1809.0" rx="3.9" ry="4.2" fill="#a860a8" opacity="0.85"/>
<ellipse cx="1598.1" cy="1781.3" rx="4.6" ry="4.2" fill="#a860a8" opacity="0.85"/>
<ellipse cx="1609.1" cy="1813.7" rx="4.4" ry="4.4" fill="#7a60c8" opacity="0.85"/>
<ellipse cx="1531.4" cy="1791.9" rx="3.4" ry="3.4" fill="#a860a8" opacity="0.85"/>
<ellipse cx="1592.9" cy="1842.7" rx="5.2" ry="5.9" fill="#7a60c8" opacity="0.85"/>
<ellipse cx="1576.1" cy="1824.5" rx="4.8" ry="4.6" fill="#a860a8" opacity="0.85"/>
<ellipse cx="1593.7" cy="1840.4" rx="4.1" ry="3.2" fill="#7a60c8" opacity="0.85"/>
<ellipse cx="1544.9" cy="1802.9" rx="5.5" ry="5.9" fill="#a860a8" opacity="0.85"/>
<ellipse cx="1580.9" cy="1837.1" rx="3.4" ry="3.4" fill="#5a50c8" opacity="0.85"/>
<ellipse cx="1539.8" cy="1829.5" rx="4.9" ry="4.0" fill="#a860a8" opacity="0.85"/>
<ellipse cx="1548.0" cy="1851.2" rx="3.0" ry="3.3" fill="#e8e0f0" opacity="0.85"/>
<ellipse cx="1551.3" cy="1788.4" rx="3.5" ry="3.2" fill="#e8e0f0" opacity="0.85"/>
<ellipse cx="1571.2" cy="1777.6" rx="3.9" ry="3.8" fill="#a860a8" opacity="0.85"/>
<ellipse cx="1545.0" cy="1821.9" rx="2.9" ry="3.0" fill="#e8e0f0" opacity="0.85"/>
<ellipse cx="1551.0" cy="1786.3" rx="5.8" ry="4.8" fill="#a860a8" opacity="0.85"/>
<ellipse cx="1534.8" cy="1798.6" rx="3.7" ry="4.0" fill="#a860a8" opacity="0.85"/>
<ellipse cx="1529.7" cy="1778.1" rx="4.8" ry="4.0" fill="#a860a8" opacity="0.85"/>
<ellipse cx="1583.8" cy="1832.1" rx="2.8" ry="2.4" fill="#e8e0f0" opacity="0.85"/>
<ellipse cx="1624.4" cy="1815.7" rx="3.9" ry="3.7" fill="#5a50c8" opacity="0.85"/>
<ellipse cx="1537.1" cy="1782.8" rx="3.4" ry="3.0" fill="#7a60c8" opacity="0.85"/>
<ellipse cx="1621.1" cy="1842.3" rx="5.8" ry="4.4" fill="#7a60c8" opacity="0.85"/>
<ellipse cx="1600.5" cy="1836.6" rx="2.9" ry="3.3" fill="#5a50c8" opacity="0.85"/>
<ellipse cx="1586.4" cy="1835.7" rx="3.3" ry="3.6" fill="#5a50c8" opacity="0.85"/>
<ellipse cx="1584.1" cy="1851.0" rx="4.0" ry="3.7" fill="#7a60c8" opacity="0.85"/>
<ellipse cx="1519.7" cy="1791.5" rx="4.1" ry="4.7" fill="#e8e0f0" opacity="0.85"/>
<ellipse cx="1535.1" cy="1778.5" rx="5.2" ry="5.9" fill="#7a60c8" opacity="0.85"/>
<ellipse cx="1601.0" cy="1822.9" rx="3.8" ry="3.9" fill="#7a60c8" opacity="0.85"/>
<ellipse cx="1541.1" cy="1794.4" rx="3.9" ry="3.1" fill="#a860a8" opacity="0.85"/>
<ellipse cx="1592.1" cy="1782.0" rx="4.5" ry="5.0" fill="#7a60c8" opacity="0.85"/>
<ellipse cx="1529.3" cy="1842.2" rx="5.4" ry="4.3" fill="#a860a8" opacity="0.85"/>
<ellipse cx="1612.6" cy="1836.4" rx="5.1" ry="5.3" fill="#5a50c8" opacity="0.85"/>
<ellipse cx="1533.2" cy="1852.3" rx="4.2" ry="3.8" fill="#e8e0f0" opacity="0.85"/>
<ellipse cx="1595.1" cy="1791.9" rx="4.0" ry="3.4" fill="#a860a8" opacity="0.85"/>
<ellipse cx="1551.2" cy="1783.8" rx="4.9" ry="5.2" fill="#5a50c8" opacity="0.85"/>
<ellipse cx="1518.6" cy="1811.4" rx="5.5" ry="4.5" fill="#7a60c8" opacity="0.85"/>
<ellipse cx="1518.7" cy="1805.5" rx="4.6" ry="4.9" fill="#a860a8" opacity="0.85"/>
<ellipse cx="1552.5" cy="1807.0" rx="3.2" ry="3.4" fill="#7a60c8" opacity="0.85"/>
<ellipse cx="1531.1" cy="1810.2" rx="4.3" ry="4.7" fill="#e8e0f0" opacity="0.85"/>
</g>
<text x="1527.4" y="1842.3" font-size="11.91" fill="#111" stroke="#111" stroke-width="0.3"><tspan>30μm</tspan></text>
<line x1="1527.9" y1="1853.4" x2="1549.7" y2="1853.4" stroke="#111" stroke-width="2.6"/>
<path d="M1748.4,1568.9C1749.0,1563.1 1761.5,1563.1 1767.3,1562.6C1773.1,1562.1 1775.2,1557.3 1783.0,1565.7C1790.9,1574.1 1804.0,1599.8 1814.5,1612.9C1824.9,1626.0 1835.4,1634.9 1845.9,1644.3C1856.4,1653.8 1869.5,1659.0 1877.4,1669.5C1885.2,1680.0 1889.4,1695.7 1893.1,1707.2C1896.8,1718.8 1896.8,1730.8 1899.4,1738.7C1902.0,1746.5 1904.6,1746.5 1908.8,1754.4C1913.0,1762.3 1920.9,1775.4 1924.5,1785.8C1928.2,1796.3 1929.5,1805.2 1930.8,1817.3C1932.1,1829.4 1934.0,1852.9 1932.4,1858.2C1930.8,1863.4 1927.9,1857.1 1921.4,1848.7C1914.8,1840.4 1900.4,1816.8 1893.1,1807.9C1885.7,1799.0 1885.2,1798.4 1877.4,1795.3C1869.5,1792.1 1852.7,1789.0 1845.9,1789.0C1839.1,1789.0 1841.7,1798.4 1836.5,1795.3C1831.2,1792.1 1826.0,1774.3 1814.5,1770.1C1802.9,1765.9 1778.3,1770.1 1767.3,1770.1C1756.3,1770.1 1750.0,1780.6 1748.4,1770.1C1746.9,1759.6 1754.2,1728.2 1757.9,1707.2C1761.5,1686.3 1769.4,1662.7 1770.4,1644.3C1771.5,1626.0 1767.8,1609.7 1764.2,1597.2C1760.5,1584.6 1747.9,1574.6 1748.4,1568.9Z" fill="#cacbd6" filter="url(#b0_6)"/>
<path d="M1748.4,1568.9C1749.0,1563.1 1761.5,1563.1 1767.3,1562.6C1773.1,1562.1 1775.2,1557.3 1783.0,1565.7C1790.9,1574.1 1804.0,1599.8 1814.5,1612.9C1824.9,1626.0 1835.4,1634.9 1845.9,1644.3C1856.4,1653.8 1869.5,1659.0 1877.4,1669.5C1885.2,1680.0 1889.4,1695.7 1893.1,1707.2C1896.8,1718.8 1896.8,1730.8 1899.4,1738.7C1902.0,1746.5 1904.6,1746.5 1908.8,1754.4C1913.0,1762.3 1920.9,1775.4 1924.5,1785.8C1928.2,1796.3 1929.5,1805.2 1930.8,1817.3C1932.1,1829.4 1934.0,1852.9 1932.4,1858.2C1930.8,1863.4 1927.9,1857.1 1921.4,1848.7C1914.8,1840.4 1900.4,1816.8 1893.1,1807.9C1885.7,1799.0 1885.2,1798.4 1877.4,1795.3C1869.5,1792.1 1852.7,1789.0 1845.9,1789.0C1839.1,1789.0 1841.7,1798.4 1836.5,1795.3C1831.2,1792.1 1826.0,1774.3 1814.5,1770.1C1802.9,1765.9 1778.3,1770.1 1767.3,1770.1C1756.3,1770.1 1750.0,1780.6 1748.4,1770.1C1746.9,1759.6 1754.2,1728.2 1757.9,1707.2C1761.5,1686.3 1769.4,1662.7 1770.4,1644.3C1771.5,1626.0 1767.8,1609.7 1764.2,1597.2C1760.5,1584.6 1747.9,1574.6 1748.4,1568.9Z" fill="url(#mesh2)" stroke="#a8aabc" stroke-width="1.1"/>
<ellipse cx="1753.1" cy="1575.2" rx="7.9" ry="11.0" fill="#b4b4bc" filter="url(#b1_5)"/>
<ellipse cx="1830.2" cy="1740.3" rx="12.6" ry="9.4" fill="#ffffff" filter="url(#b0_8)"/>
<ellipse cx="1822.3" cy="1713.5" rx="6.3" ry="9.4" fill="#ffffff" filter="url(#b0_8)"/>
<rect x="1728.0" y="1774.8" width="109.1" height="85.9" fill="#ccc4e4"/>
<clipPath id="cp20"><rect x="1728.0" y="1774.8" width="109.1" height="85.9"/></clipPath><g clip-path="url(#cp20)">
<ellipse cx="1775.4" cy="1796.0" rx="4.4" ry="3.7" fill="#5a70d8" opacity="0.85"/>
<ellipse cx="1789.1" cy="1838.7" rx="4.4" ry="4.2" fill="#e8e0f0" opacity="0.85"/>
<ellipse cx="1742.0" cy="1842.2" rx="3.0" ry="2.7" fill="#8a80d0" opacity="0.85"/>
<ellipse cx="1807.4" cy="1814.1" rx="4.5" ry="4.3" fill="#5a70d8" opacity="0.85"/>
<ellipse cx="1834.9" cy="1806.6" rx="4.3" ry="4.4" fill="#e8e0f0" opacity="0.85"/>
<ellipse cx="1834.6" cy="1792.5" rx="3.6" ry="3.4" fill="#8a80d0" opacity="0.85"/>
<ellipse cx="1759.8" cy="1791.9" rx="5.6" ry="6.4" fill="#5a70d8" opacity="0.85"/>
<ellipse cx="1814.6" cy="1809.7" rx="3.1" ry="2.8" fill="#e8e0f0" opacity="0.85"/>
<ellipse cx="1740.9" cy="1815.5" rx="4.3" ry="4.3" fill="#5a70d8" opacity="0.85"/>
<ellipse cx="1738.9" cy="1847.7" rx="3.8" ry="3.6" fill="#8a80d0" opacity="0.85"/>
<ellipse cx="1768.0" cy="1853.8" rx="5.8" ry="4.7" fill="#5a70d8" opacity="0.85"/>
<ellipse cx="1816.4" cy="1845.5" rx="3.5" ry="3.9" fill="#b06aa8" opacity="0.85"/>
<ellipse cx="1778.0" cy="1777.8" rx="4.0" ry="3.3" fill="#8a80d0" opacity="0.85"/>
<ellipse cx="1822.5" cy="1804.3" rx="5.3" ry="4.8" fill="#5a70d8" opacity="0.85"/>
<ellipse cx="1771.4" cy="1789.2" rx="3.6" ry="3.6" fill="#5a70d8" opacity="0.85"/>
<ellipse cx="1747.9" cy="1837.5" rx="4.1" ry="3.2" fill="#8a80d0" opacity="0.85"/>
<ellipse cx="1804.6" cy="1853.2" rx="5.4" ry="5.3" fill="#5a70d8" opacity="0.85"/>
<ellipse cx="1808.9" cy="1780.2" rx="5.3" ry="4.1" fill="#5a70d8" opacity="0.85"/>
<ellipse cx="1780.5" cy="1793.3" rx="3.0" ry="2.6" fill="#b06aa8" opacity="0.85"/>
<ellipse cx="1757.3" cy="1781.5" rx="5.2" ry="4.2" fill="#c87030" opacity="0.85"/>
<ellipse cx="1751.1" cy="1787.2" rx="3.8" ry="3.0" fill="#5a70d8" opacity="0.85"/>
<ellipse cx="1741.1" cy="1808.5" rx="5.6" ry="6.1" fill="#5a70d8" opacity="0.85"/>
<ellipse cx="1745.8" cy="1854.7" rx="3.4" ry="3.3" fill="#8a80d0" opacity="0.85"/>
<ellipse cx="1773.5" cy="1794.4" rx="5.0" ry="3.9" fill="#8a80d0" opacity="0.85"/>
<ellipse cx="1803.3" cy="1798.9" rx="3.2" ry="2.5" fill="#5a70d8" opacity="0.85"/>
<ellipse cx="1785.0" cy="1806.0" rx="5.4" ry="5.5" fill="#c87030" opacity="0.85"/>
<ellipse cx="1750.5" cy="1851.4" rx="4.2" ry="4.1" fill="#5a70d8" opacity="0.85"/>
<ellipse cx="1830.6" cy="1827.1" rx="5.4" ry="4.9" fill="#5a70d8" opacity="0.85"/>
<ellipse cx="1736.2" cy="1785.4" rx="3.5" ry="3.0" fill="#8a80d0" opacity="0.85"/>
<ellipse cx="1752.6" cy="1822.6" rx="4.9" ry="4.7" fill="#b06aa8" opacity="0.85"/>
<ellipse cx="1805.4" cy="1839.3" rx="2.8" ry="2.4" fill="#e8e0f0" opacity="0.85"/>
<ellipse cx="1769.7" cy="1840.3" rx="3.8" ry="4.3" fill="#e8e0f0" opacity="0.85"/>
<ellipse cx="1832.9" cy="1846.0" rx="4.5" ry="5.1" fill="#8a80d0" opacity="0.85"/>
<ellipse cx="1777.0" cy="1845.2" rx="4.5" ry="4.4" fill="#8a80d0" opacity="0.85"/>
<ellipse cx="1786.7" cy="1851.6" rx="4.6" ry="5.1" fill="#c87030" opacity="0.85"/>
<ellipse cx="1816.3" cy="1777.7" rx="5.1" ry="4.1" fill="#8a80d0" opacity="0.85"/>
<ellipse cx="1757.5" cy="1844.7" rx="4.4" ry="4.1" fill="#8a80d0" opacity="0.85"/>
<ellipse cx="1780.1" cy="1849.5" rx="5.5" ry="4.8" fill="#5a70d8" opacity="0.85"/>
<ellipse cx="1759.5" cy="1856.0" rx="3.1" ry="2.3" fill="#b06aa8" opacity="0.85"/>
<ellipse cx="1762.2" cy="1827.5" rx="4.0" ry="3.3" fill="#8a80d0" opacity="0.85"/>
<ellipse cx="1730.2" cy="1800.5" rx="4.2" ry="4.2" fill="#b06aa8" opacity="0.85"/>
<ellipse cx="1758.3" cy="1790.3" rx="5.4" ry="4.9" fill="#5a70d8" opacity="0.85"/>
<ellipse cx="1824.2" cy="1842.0" rx="5.5" ry="5.4" fill="#5a70d8" opacity="0.85"/>
<ellipse cx="1772.8" cy="1852.3" rx="5.1" ry="5.1" fill="#b06aa8" opacity="0.85"/>
<ellipse cx="1796.4" cy="1834.4" rx="3.4" ry="3.9" fill="#8a80d0" opacity="0.85"/>
<ellipse cx="1830.0" cy="1848.5" rx="3.7" ry="2.8" fill="#c87030" opacity="0.85"/>
<ellipse cx="1815.2" cy="1856.3" rx="3.8" ry="3.4" fill="#5a70d8" opacity="0.85"/>
<ellipse cx="1765.9" cy="1787.7" rx="4.9" ry="4.9" fill="#5a70d8" opacity="0.85"/>
<ellipse cx="1741.0" cy="1799.1" rx="3.3" ry="3.4" fill="#b06aa8" opacity="0.85"/>
<ellipse cx="1794.6" cy="1775.3" rx="3.3" ry="3.2" fill="#8a80d0" opacity="0.85"/>
<ellipse cx="1813.4" cy="1788.0" rx="4.1" ry="3.5" fill="#8a80d0" opacity="0.85"/>
<ellipse cx="1824.3" cy="1789.3" rx="2.9" ry="2.6" fill="#8a80d0" opacity="0.85"/>
<ellipse cx="1731.4" cy="1783.1" rx="3.3" ry="3.0" fill="#e8e0f0" opacity="0.85"/>
<ellipse cx="1729.4" cy="1855.7" rx="3.1" ry="3.5" fill="#e8e0f0" opacity="0.85"/>
<ellipse cx="1745.4" cy="1790.2" rx="5.2" ry="4.4" fill="#8a80d0" opacity="0.85"/>
<ellipse cx="1810.0" cy="1801.0" rx="5.8" ry="4.6" fill="#5a70d8" opacity="0.85"/>
<ellipse cx="1832.2" cy="1812.5" rx="5.2" ry="4.6" fill="#5a70d8" opacity="0.85"/>
<ellipse cx="1781.8" cy="1785.6" rx="3.5" ry="3.4" fill="#e8e0f0" opacity="0.85"/>
<ellipse cx="1826.1" cy="1853.4" rx="4.5" ry="4.8" fill="#b06aa8" opacity="0.85"/>
<ellipse cx="1793.7" cy="1837.5" rx="4.0" ry="3.7" fill="#8a80d0" opacity="0.85"/>
<ellipse cx="1768.0" cy="1808.6" rx="3.9" ry="3.3" fill="#8a80d0" opacity="0.85"/>
<ellipse cx="1803.0" cy="1789.6" rx="3.8" ry="3.4" fill="#5a70d8" opacity="0.85"/>
<ellipse cx="1772.9" cy="1786.8" rx="4.4" ry="4.5" fill="#8a80d0" opacity="0.85"/>
<ellipse cx="1771.1" cy="1798.9" rx="4.9" ry="4.6" fill="#5a70d8" opacity="0.85"/>
<ellipse cx="1779.5" cy="1796.8" rx="3.3" ry="2.6" fill="#8a80d0" opacity="0.85"/>
<ellipse cx="1792.6" cy="1805.1" rx="3.7" ry="4.2" fill="#e8e0f0" opacity="0.85"/>
<ellipse cx="1747.6" cy="1782.7" rx="3.7" ry="4.0" fill="#8a80d0" opacity="0.85"/>
<ellipse cx="1790.8" cy="1775.6" rx="4.4" ry="3.8" fill="#8a80d0" opacity="0.85"/>
<ellipse cx="1761.3" cy="1807.7" rx="3.2" ry="2.7" fill="#5a70d8" opacity="0.85"/>
<ellipse cx="1780.4" cy="1831.2" rx="3.8" ry="4.4" fill="#8a80d0" opacity="0.85"/>
<ellipse cx="1733.0" cy="1796.8" rx="3.8" ry="4.3" fill="#5a70d8" opacity="0.85"/>
<ellipse cx="1834.5" cy="1857.1" rx="5.1" ry="4.6" fill="#5a70d8" opacity="0.85"/>
<ellipse cx="1813.9" cy="1808.5" rx="4.1" ry="3.9" fill="#b06aa8" opacity="0.85"/>
<ellipse cx="1823.1" cy="1779.7" rx="3.4" ry="3.5" fill="#5a70d8" opacity="0.85"/>
<ellipse cx="1803.1" cy="1778.9" rx="3.7" ry="4.2" fill="#8a80d0" opacity="0.85"/>
<ellipse cx="1749.0" cy="1797.9" rx="5.5" ry="4.6" fill="#5a70d8" opacity="0.85"/>
<ellipse cx="1782.0" cy="1820.0" rx="4.2" ry="3.2" fill="#5a70d8" opacity="0.85"/>
<ellipse cx="1731.5" cy="1853.8" rx="4.5" ry="4.3" fill="#8a80d0" opacity="0.85"/>
<ellipse cx="1781.6" cy="1853.3" rx="4.1" ry="4.3" fill="#8a80d0" opacity="0.85"/>
<ellipse cx="1770.4" cy="1822.3" rx="5.3" ry="4.1" fill="#5a70d8" opacity="0.85"/>
<ellipse cx="1829.8" cy="1799.9" rx="3.9" ry="3.9" fill="#8a80d0" opacity="0.85"/>
<ellipse cx="1766.8" cy="1812.5" rx="4.0" ry="4.3" fill="#e8e0f0" opacity="0.85"/>
<ellipse cx="1785.8" cy="1826.7" rx="3.3" ry="2.9" fill="#5a70d8" opacity="0.85"/>
<ellipse cx="1788.1" cy="1789.1" rx="4.3" ry="3.9" fill="#8a80d0" opacity="0.85"/>
<ellipse cx="1824.9" cy="1835.8" rx="3.5" ry="3.2" fill="#c87030" opacity="0.85"/>
<ellipse cx="1801.9" cy="1802.0" rx="5.4" ry="4.4" fill="#5a70d8" opacity="0.85"/>
<ellipse cx="1812.6" cy="1846.3" rx="5.7" ry="4.5" fill="#5a70d8" opacity="0.85"/>
<ellipse cx="1779.0" cy="1797.4" rx="5.3" ry="4.6" fill="#5a70d8" opacity="0.85"/>
<ellipse cx="1782.7" cy="1833.9" rx="4.9" ry="4.1" fill="#5a70d8" opacity="0.85"/>
<ellipse cx="1824.6" cy="1843.3" rx="4.0" ry="4.4" fill="#5a70d8" opacity="0.85"/>
<ellipse cx="1801.7" cy="1848.1" rx="5.7" ry="6.1" fill="#5a70d8" opacity="0.85"/>
<ellipse cx="1830.2" cy="1829.5" rx="5.0" ry="4.7" fill="#5a70d8" opacity="0.85"/>
<ellipse cx="1809.6" cy="1850.0" rx="3.4" ry="3.0" fill="#e8e0f0" opacity="0.85"/>
<ellipse cx="1759.5" cy="1782.7" rx="3.5" ry="3.2" fill="#5a70d8" opacity="0.85"/>
<ellipse cx="1808.3" cy="1799.8" rx="3.3" ry="3.5" fill="#8a80d0" opacity="0.85"/>
<ellipse cx="1813.7" cy="1794.0" rx="4.5" ry="5.1" fill="#5a70d8" opacity="0.85"/>
<ellipse cx="1745.2" cy="1846.1" rx="4.5" ry="3.9" fill="#5a70d8" opacity="0.85"/>
<ellipse cx="1782.5" cy="1777.8" rx="5.7" ry="6.2" fill="#5a70d8" opacity="0.85"/>
<ellipse cx="1787.2" cy="1841.3" rx="5.2" ry="5.3" fill="#5a70d8" opacity="0.85"/>
<ellipse cx="1825.3" cy="1835.6" rx="4.2" ry="4.1" fill="#8a80d0" opacity="0.85"/>
</g>
<text x="1737.2" y="1842.3" font-size="11.91" fill="#111" stroke="#111" stroke-width="0.3"><tspan>30μm</tspan></text>
<line x1="1737.7" y1="1853.4" x2="1759.5" y2="1853.4" stroke="#111" stroke-width="2.6"/>
<text x="554.8" y="51.9" font-size="46.94" fill="#000"><tspan>A549</tspan></text>
<text x="16.6" y="149.8" font-size="42.49" fill="#000"><tspan font-style="italic">RNF20+/-</tspan></text>
<text x="136.4" y="307.7" font-size="42.83" fill="#000"><tspan font-style="italic">Ctrl</tspan></text>
<text x="184.2" y="534.1" font-size="43.09" fill="#000"><tspan>A549</tspan></text>
<line x1="91.6" y1="570.1" x2="462.8" y2="570.1" stroke="#555" stroke-width="3"/>
<text x="109.6" y="630.3" font-size="43.83" fill="#000"><tspan>Ctrl</tspan></text>
<text x="296.7" y="630.3" font-size="42.79" fill="#000"><tspan font-style="italic">RNF20+/-</tspan></text>
<text x="1173.0" y="531.0" font-size="42.00" fill="#000"><tspan>LLC1</tspan></text>
<line x1="1045.8" y1="550.0" x2="1442.3" y2="550.0" stroke="#555" stroke-width="3"/>
<text x="1074.0" y="611.9" font-size="43.27" fill="#000"><tspan>Ctrl</tspan></text>
<text x="1256.0" y="611.9" font-size="42.44" fill="#000"><tspan font-style="italic">Rnf20+/-</tspan></text>
<text x="759.2" y="1257.0" font-size="42.82" fill="#000"><tspan>A549</tspan></text>
<line x1="652.7" y1="1269.7" x2="961.0" y2="1269.7" stroke="#555" stroke-width="3"/>
<text x="681.1" y="1326.2" font-size="43.48" fill="#000"><tspan>Ctrl</tspan></text>
<text x="822.2" y="1326.2" font-size="42.79" fill="#000"><tspan font-style="italic">RNF20+/-</tspan></text>
<text x="1239.7" y="1257.0" font-size="42.83" fill="#000"><tspan font-style="italic">HIF1A KD</tspan></text>
<line x1="1132.7" y1="1272.0" x2="1440.9" y2="1272.0" stroke="#555" stroke-width="3"/>
<text x="1160.2" y="1327.6" font-size="44.10" fill="#000"><tspan>Ctrl</tspan></text>
<text x="1302.2" y="1327.6" font-size="42.79" fill="#000"><tspan font-style="italic">RNF20+/-</tspan></text>
<text x="1651.4" y="1257.2" font-size="42.47" fill="#000"><tspan>WZB117</tspan></text>
<line x1="1544.0" y1="1264.5" x2="1851.6" y2="1264.5" stroke="#555" stroke-width="3"/>
<text x="1572.3" y="1320.1" font-size="43.34" fill="#000"><tspan>Ctrl</tspan></text>
<text x="1712.5" y="1320.1" font-size="42.91" fill="#000"><tspan font-style="italic">RNF20+/-</tspan></text>
<line x1="1213.0" y1="56.5" x2="1213.0" y2="394.6" stroke="#000" stroke-width="5.8"/>
<line x1="1196.0" y1="391.8" x2="1903.2" y2="391.8" stroke="#000" stroke-width="5.5"/>
<line x1="1196.0" y1="59.0" x2="1213.0" y2="59.0" stroke="#000" stroke-width="5.2"/>
<line x1="1196.0" y1="142.2" x2="1213.0" y2="142.2" stroke="#000" stroke-width="5.2"/>
<line x1="1196.0" y1="225.4" x2="1213.0" y2="225.4" stroke="#000" stroke-width="5.2"/>
<line x1="1196.0" y1="308.6" x2="1213.0" y2="308.6" stroke="#000" stroke-width="5.2"/>
<line x1="1196.0" y1="391.8" x2="1213.0" y2="391.8" stroke="#000" stroke-width="5.2"/>
<text x="1129.4" y="72.0" font-size="37.20" fill="#000"><tspan>400</tspan></text>
<text x="1129.4" y="155.2" font-size="37.20" fill="#000"><tspan>300</tspan></text>
<text x="1129.4" y="238.4" font-size="37.20" fill="#000"><tspan>200</tspan></text>
<text x="1129.4" y="321.6" font-size="37.20" fill="#000"><tspan>100</tspan></text>
<text x="1170.8" y="404.8" font-size="37.20" fill="#000"><tspan>0</tspan></text>
<line x1="1256.7" y1="391.8" x2="1256.7" y2="408.8" stroke="#000" stroke-width="5.7"/>
<text x="1246.4" y="444.0" font-size="37.20" fill="#000"><tspan>0</tspan></text>
<line x1="1323.3" y1="391.8" x2="1323.3" y2="408.8" stroke="#000" stroke-width="5.7"/>
<text x="1313.1" y="444.0" font-size="37.20" fill="#000"><tspan>3</tspan></text>
<line x1="1389.9" y1="391.8" x2="1389.9" y2="408.8" stroke="#000" stroke-width="5.7"/>
<text x="1379.4" y="444.0" font-size="37.20" fill="#000"><tspan>6</tspan></text>
<line x1="1456.5" y1="391.8" x2="1456.5" y2="408.8" stroke="#000" stroke-width="5.7"/>
<text x="1446.2" y="444.0" font-size="37.20" fill="#000"><tspan>9</tspan></text>
<line x1="1523.1" y1="391.8" x2="1523.1" y2="408.8" stroke="#000" stroke-width="5.7"/>
<text x="1501.9" y="444.0" font-size="37.20" fill="#000"><tspan>12</tspan></text>
<line x1="1589.7" y1="391.8" x2="1589.7" y2="408.8" stroke="#000" stroke-width="5.7"/>
<text x="1568.4" y="444.0" font-size="37.20" fill="#000"><tspan>15</tspan></text>
<line x1="1656.3" y1="391.8" x2="1656.3" y2="408.8" stroke="#000" stroke-width="5.7"/>
<text x="1635.0" y="444.0" font-size="37.20" fill="#000"><tspan>18</tspan></text>
<line x1="1722.9" y1="391.8" x2="1722.9" y2="408.8" stroke="#000" stroke-width="5.7"/>
<text x="1702.2" y="444.0" font-size="37.20" fill="#000"><tspan>21</tspan></text>
<line x1="1789.5" y1="391.8" x2="1789.5" y2="408.8" stroke="#000" stroke-width="5.7"/>
<text x="1768.4" y="444.0" font-size="37.20" fill="#000"><tspan>24</tspan></text>
<line x1="1856.1" y1="391.8" x2="1856.1" y2="408.8" stroke="#000" stroke-width="5.7"/>
<text x="1835.4" y="444.0" font-size="37.20" fill="#000"><tspan>27</tspan></text>
<text x="1518.8" y="483.4" font-size="38.93" fill="#000"><tspan>Days</tspan></text>
<text transform="translate(1110.8,414.6) rotate(-90)" font-size="41.12" fill="#000"><tspan>Tumor Volume(mm3)</tspan></text>
<line x1="1589.7" y1="307.1" x2="1589.7" y2="348.3" stroke="#000" stroke-width="2.2"/>
<line x1="1582.2" y1="307.1" x2="1597.2" y2="307.1" stroke="#000" stroke-width="2.4"/>
<line x1="1582.2" y1="348.3" x2="1597.2" y2="348.3" stroke="#000" stroke-width="2.4"/>
<line x1="1656.3" y1="199.7" x2="1656.3" y2="293.6" stroke="#000" stroke-width="2.2"/>
<line x1="1648.8" y1="199.7" x2="1663.8" y2="199.7" stroke="#000" stroke-width="2.4"/>
<line x1="1648.8" y1="293.6" x2="1663.8" y2="293.6" stroke="#000" stroke-width="2.4"/>
<line x1="1722.9" y1="155.7" x2="1722.9" y2="259.0" stroke="#000" stroke-width="2.2"/>
<line x1="1715.4" y1="155.7" x2="1730.4" y2="155.7" stroke="#000" stroke-width="2.4"/>
<line x1="1715.4" y1="259.0" x2="1730.4" y2="259.0" stroke="#000" stroke-width="2.4"/>
<line x1="1789.5" y1="101.6" x2="1789.5" y2="254.7" stroke="#000" stroke-width="2.2"/>
<line x1="1782.0" y1="101.6" x2="1797.0" y2="101.6" stroke="#000" stroke-width="2.4"/>
<line x1="1782.0" y1="254.7" x2="1797.0" y2="254.7" stroke="#000" stroke-width="2.4"/>
<line x1="1856.1" y1="71.7" x2="1856.1" y2="255.6" stroke="#000" stroke-width="2.2"/>
<line x1="1848.6" y1="71.7" x2="1863.6" y2="71.7" stroke="#000" stroke-width="2.4"/>
<line x1="1848.6" y1="255.6" x2="1863.6" y2="255.6" stroke="#000" stroke-width="2.4"/>
<line x1="1656.3" y1="358.4" x2="1656.3" y2="377.7" stroke="#000" stroke-width="2.2"/>
<line x1="1648.8" y1="358.4" x2="1663.8" y2="358.4" stroke="#000" stroke-width="2.4"/>
<line x1="1648.8" y1="377.7" x2="1663.8" y2="377.7" stroke="#000" stroke-width="2.4"/>
<line x1="1722.9" y1="347.5" x2="1722.9" y2="373.7" stroke="#000" stroke-width="2.2"/>
<line x1="1715.4" y1="347.5" x2="1730.4" y2="347.5" stroke="#000" stroke-width="2.4"/>
<line x1="1715.4" y1="373.7" x2="1730.4" y2="373.7" stroke="#000" stroke-width="2.4"/>
<line x1="1789.5" y1="331.9" x2="1789.5" y2="369.0" stroke="#000" stroke-width="2.2"/>
<line x1="1782.0" y1="331.9" x2="1797.0" y2="331.9" stroke="#000" stroke-width="2.4"/>
<line x1="1782.0" y1="369.0" x2="1797.0" y2="369.0" stroke="#000" stroke-width="2.4"/>
<line x1="1856.1" y1="310.9" x2="1856.1" y2="360.1" stroke="#000" stroke-width="2.2"/>
<line x1="1848.6" y1="310.9" x2="1863.6" y2="310.9" stroke="#000" stroke-width="2.4"/>
<line x1="1848.6" y1="360.1" x2="1863.6" y2="360.1" stroke="#000" stroke-width="2.4"/>
<polyline points="1256.7,391.8 1323.3,391.8 1389.9,389.5 1456.5,372.2 1523.1,361.9 1589.7,327.6 1656.3,247.0 1722.9,207.5 1789.5,178.3 1856.1,163.2" fill="none" stroke="#000" stroke-width="5"/>
<rect x="1248.8" y="383.9" width="15.8" height="15.8" fill="#fb8080"/>
<rect x="1315.4" y="383.9" width="15.8" height="15.8" fill="#fb8080"/>
<rect x="1382.0" y="381.6" width="15.8" height="15.8" fill="#fb8080"/>
<rect x="1448.6" y="364.3" width="15.8" height="15.8" fill="#fb8080"/>
<rect x="1515.2" y="354.0" width="15.8" height="15.8" fill="#fb8080"/>
<rect x="1581.8" y="319.7" width="15.8" height="15.8" fill="#fb8080"/>
<rect x="1648.4" y="239.1" width="15.8" height="15.8" fill="#fb8080"/>
<rect x="1715.0" y="199.6" width="15.8" height="15.8" fill="#fb8080"/>
<rect x="1781.6" y="170.4" width="15.8" height="15.8" fill="#fb8080"/>
<rect x="1848.2" y="155.3" width="15.8" height="15.8" fill="#fb8080"/>
<polyline points="1256.7,391.8 1323.3,391.8 1389.9,390.5 1456.5,389.0 1523.1,386.6 1589.7,385.8 1656.3,368.5 1722.9,360.1 1789.5,350.3 1856.1,335.4" fill="none" stroke="#000" stroke-width="5"/>
<rect x="1248.8" y="383.9" width="15.8" height="15.8" fill="#808080"/>
<rect x="1315.4" y="383.9" width="15.8" height="15.8" fill="#808080"/>
<rect x="1382.0" y="382.6" width="15.8" height="15.8" fill="#808080"/>
<rect x="1448.6" y="381.1" width="15.8" height="15.8" fill="#808080"/>
<rect x="1515.2" y="378.7" width="15.8" height="15.8" fill="#808080"/>
<rect x="1581.8" y="377.9" width="15.8" height="15.8" fill="#808080"/>
<rect x="1648.4" y="360.6" width="15.8" height="15.8" fill="#808080"/>
<rect x="1715.0" y="352.2" width="15.8" height="15.8" fill="#808080"/>
<rect x="1781.6" y="342.4" width="15.8" height="15.8" fill="#808080"/>
<rect x="1848.2" y="327.5" width="15.8" height="15.8" fill="#808080"/>
<line x1="1247.7" y1="53.9" x2="1287.4" y2="53.9" stroke="#000" stroke-width="5"/>
<rect x="1260.0" y="46.0" width="15.7" height="15.7" fill="#808080"/>
<line x1="1247.7" y1="109.4" x2="1287.4" y2="109.4" stroke="#000" stroke-width="5"/>
<rect x="1260.0" y="101.5" width="15.7" height="15.7" fill="#fb8080"/>
<text x="1308.9" y="67.7" font-size="42.09" fill="#000"><tspan>Ctrl</tspan></text>
<text x="1309.7" y="122.4" font-size="41.45" fill="#000"><tspan font-style="italic">RNF20+/-</tspan></text>
<text x="1650.1" y="144.0" font-size="27.61" fill="#000"><tspan>p = 0.0292</tspan></text>
<text x="1718.2" y="92.8" font-size="27.63" fill="#000"><tspan>p = 0.0010</tspan></text>
<text x="1797.0" y="56.0" font-size="27.59" fill="#000"><tspan>p = 0.0008</tspan></text>
<line x1="628.0" y1="532.9" x2="628.0" y2="790.7" stroke="#000" stroke-width="3.7"/>
<line x1="613.1" y1="789.0" x2="886.3" y2="789.0" stroke="#000" stroke-width="3.4"/>
<line x1="613.1" y1="534.6" x2="628.0" y2="534.6" stroke="#000" stroke-width="3.3"/>
<line x1="613.1" y1="619.4" x2="628.0" y2="619.4" stroke="#000" stroke-width="3.3"/>
<line x1="613.1" y1="704.2" x2="628.0" y2="704.2" stroke="#000" stroke-width="3.3"/>
<line x1="613.1" y1="789.0" x2="628.0" y2="789.0" stroke="#000" stroke-width="3.3"/>
<text x="571.8" y="546.5" font-size="34.00" fill="#000"><tspan>30</tspan></text>
<text x="571.8" y="631.3" font-size="34.00" fill="#000"><tspan>20</tspan></text>
<text x="571.8" y="716.1" font-size="34.00" fill="#000"><tspan>10</tspan></text>
<text x="590.7" y="800.9" font-size="34.00" fill="#000"><tspan>0</tspan></text>
<line x1="701.4" y1="789.0" x2="701.4" y2="803.4" stroke="#000" stroke-width="3.3"/>
<line x1="811.6" y1="789.0" x2="811.6" y2="803.4" stroke="#000" stroke-width="3.3"/>
<rect x="666.4" y="754.9" width="68.9" height="34.0" fill="#636363" stroke="#000" stroke-width="3.5"/>
<rect x="777.8" y="621.4" width="67.9" height="167.5" fill="#ff8080" stroke="#000" stroke-width="3.5"/>
<line x1="701.4" y1="724.7" x2="701.4" y2="780.9" stroke="#000" stroke-width="2"/>
<line x1="683.0" y1="724.7" x2="719.5" y2="724.7" stroke="#000" stroke-width="2"/>
<line x1="683.0" y1="780.9" x2="719.5" y2="780.9" stroke="#000" stroke-width="2"/>
<line x1="811.6" y1="555.7" x2="811.6" y2="681.5" stroke="#000" stroke-width="2"/>
<line x1="794.0" y1="555.7" x2="829.5" y2="555.7" stroke="#000" stroke-width="2"/>
<line x1="794.0" y1="681.5" x2="829.5" y2="681.5" stroke="#000" stroke-width="2"/>
<circle cx="701.4" cy="712.3" r="6.9" fill="#fff" stroke="#000" stroke-width="2"/>
<circle cx="701.4" cy="729.6" r="6.9" fill="#fff" stroke="#000" stroke-width="2"/>
<circle cx="701.4" cy="746.3" r="6.9" fill="#fff" stroke="#000" stroke-width="2"/>
<circle cx="687.5" cy="764.2" r="6.9" fill="#fff" stroke="#000" stroke-width="2"/>
<circle cx="714.9" cy="772.8" r="6.9" fill="#fff" stroke="#000" stroke-width="2"/>
<circle cx="701.4" cy="789.5" r="6.9" fill="#fff" stroke="#000" stroke-width="2"/>
<circle cx="798.4" cy="561.4" r="6.9" fill="#fff" stroke="#000" stroke-width="2"/>
<circle cx="825.2" cy="551.9" r="6.9" fill="#fff" stroke="#000" stroke-width="2"/>
<circle cx="811.8" cy="586.5" r="6.9" fill="#fff" stroke="#000" stroke-width="2"/>
<circle cx="811.8" cy="637.5" r="6.9" fill="#fff" stroke="#000" stroke-width="2"/>
<circle cx="811.8" cy="662.2" r="6.9" fill="#fff" stroke="#000" stroke-width="2"/>
<circle cx="811.8" cy="713.2" r="6.9" fill="#fff" stroke="#000" stroke-width="2"/>
<text x="746.2" y="534.6" font-size="27.59" fill="#000"><tspan>p = 0.0008</tspan></text>
<text transform="translate(557.1,823.0) rotate(-90)" font-size="38.75" fill="#000"><tspan>Number of nodules</tspan></text>
<text x="659.4" y="841.4" font-size="43.06" fill="#000"><tspan>Ctrl</tspan></text>
<text x="745.3" y="841.4" font-size="42.10" fill="#000"><tspan font-style="italic">RNF20+/-</tspan></text>
<line x1="628.5" y1="874.3" x2="628.5" y2="1130.6" stroke="#000" stroke-width="3.7"/>
<line x1="615.5" y1="1128.9" x2="899.2" y2="1128.9" stroke="#000" stroke-width="3.4"/>
<line x1="615.5" y1="876.0" x2="628.5" y2="876.0" stroke="#000" stroke-width="3.3"/>
<line x1="615.5" y1="960.3" x2="628.5" y2="960.3" stroke="#000" stroke-width="3.3"/>
<line x1="615.5" y1="1044.6" x2="628.5" y2="1044.6" stroke="#000" stroke-width="3.3"/>
<line x1="615.5" y1="1128.9" x2="628.5" y2="1128.9" stroke="#000" stroke-width="3.3"/>
<text x="573.6" y="888.2" font-size="35.00" fill="#000"><tspan>60</tspan></text>
<text x="573.6" y="972.5" font-size="35.00" fill="#000"><tspan>40</tspan></text>
<text x="573.6" y="1056.8" font-size="35.00" fill="#000"><tspan>20</tspan></text>
<text x="593.1" y="1141.1" font-size="35.00" fill="#000"><tspan>0</tspan></text>
<line x1="705.4" y1="1128.9" x2="705.4" y2="1143.0" stroke="#000" stroke-width="3.3"/>
<line x1="820.6" y1="1128.9" x2="820.6" y2="1143.0" stroke="#000" stroke-width="3.3"/>
<rect x="669.8" y="1109.7" width="71.3" height="19.1" fill="#636363" stroke="#000" stroke-width="3.5"/>
<rect x="785.0" y="966.1" width="72.2" height="162.6" fill="#ff8080" stroke="#000" stroke-width="3.5"/>
<line x1="705.4" y1="1087.1" x2="705.4" y2="1128.0" stroke="#000" stroke-width="2"/>
<line x1="687.0" y1="1087.1" x2="724.4" y2="1087.1" stroke="#000" stroke-width="2"/>
<line x1="687.0" y1="1128.0" x2="724.4" y2="1128.0" stroke="#000" stroke-width="2"/>
<line x1="820.6" y1="897.0" x2="820.6" y2="1029.2" stroke="#000" stroke-width="2"/>
<line x1="802.2" y1="897.0" x2="839.6" y2="897.0" stroke="#000" stroke-width="2"/>
<line x1="802.2" y1="1029.2" x2="839.6" y2="1029.2" stroke="#000" stroke-width="2"/>
<circle cx="674.6" cy="1077.6" r="6.9" fill="#fff" stroke="#000" stroke-width="2"/>
<circle cx="736.5" cy="1092.0" r="6.9" fill="#fff" stroke="#000" stroke-width="2"/>
<circle cx="705.4" cy="1096.3" r="6.9" fill="#fff" stroke="#000" stroke-width="2"/>
<circle cx="674.6" cy="1107.9" r="6.9" fill="#fff" stroke="#000" stroke-width="2"/>
<circle cx="736.5" cy="1110.7" r="6.9" fill="#fff" stroke="#000" stroke-width="2"/>
<circle cx="690.4" cy="1129.5" r="6.9" fill="#fff" stroke="#000" stroke-width="2"/>
<circle cx="720.7" cy="1129.5" r="6.9" fill="#fff" stroke="#000" stroke-width="2"/>
<circle cx="790.6" cy="920.6" r="6.9" fill="#fff" stroke="#000" stroke-width="2"/>
<circle cx="852.3" cy="917.8" r="6.9" fill="#fff" stroke="#000" stroke-width="2"/>
<circle cx="820.6" cy="929.3" r="6.9" fill="#fff" stroke="#000" stroke-width="2"/>
<circle cx="802.7" cy="955.8" r="6.9" fill="#fff" stroke="#000" stroke-width="2"/>
<circle cx="835.9" cy="962.4" r="6.9" fill="#fff" stroke="#000" stroke-width="2"/>
<circle cx="820.6" cy="1092.0" r="6.9" fill="#fff" stroke="#000" stroke-width="2"/>
<text x="754.9" y="887.5" font-size="27.44" fill="#000"><tspan>p = 0.0002</tspan></text>
<text transform="translate(555.7,1139.9) rotate(-90)" font-size="38.60" fill="#000"><tspan>Metastasis area</tspan></text>
<text x="665.2" y="1178.4" font-size="43.06" fill="#000"><tspan>Ctrl</tspan></text>
<text x="750.2" y="1178.4" font-size="42.31" fill="#000"><tspan font-style="italic">RNF20+/-</tspan></text>
<line x1="1609.3" y1="534.3" x2="1609.3" y2="809.6" stroke="#000" stroke-width="3.7"/>
<line x1="1594.7" y1="807.9" x2="1883.0" y2="807.9" stroke="#000" stroke-width="3.4"/>
<line x1="1594.7" y1="536.0" x2="1609.3" y2="536.0" stroke="#000" stroke-width="3.3"/>
<line x1="1594.7" y1="626.6" x2="1609.3" y2="626.6" stroke="#000" stroke-width="3.3"/>
<line x1="1594.7" y1="717.3" x2="1609.3" y2="717.3" stroke="#000" stroke-width="3.3"/>
<line x1="1594.7" y1="807.9" x2="1609.3" y2="807.9" stroke="#000" stroke-width="3.3"/>
<text x="1551.5" y="547.9" font-size="34.00" fill="#000"><tspan>30</tspan></text>
<text x="1551.5" y="638.5" font-size="34.00" fill="#000"><tspan>20</tspan></text>
<text x="1551.5" y="729.1" font-size="34.00" fill="#000"><tspan>10</tspan></text>
<text x="1570.4" y="819.8" font-size="34.00" fill="#000"><tspan>0</tspan></text>
<line x1="1687.0" y1="807.9" x2="1687.0" y2="821.3" stroke="#000" stroke-width="3.3"/>
<line x1="1803.4" y1="807.9" x2="1803.4" y2="821.3" stroke="#000" stroke-width="3.3"/>
<rect x="1650.8" y="780.4" width="72.5" height="27.4" fill="#636363" stroke="#000" stroke-width="3.5"/>
<rect x="1767.5" y="645.0" width="71.7" height="162.7" fill="#ff8080" stroke="#000" stroke-width="3.5"/>
<line x1="1687.0" y1="758.1" x2="1687.0" y2="798.0" stroke="#000" stroke-width="2"/>
<line x1="1667.8" y1="758.1" x2="1707.3" y2="758.1" stroke="#000" stroke-width="2"/>
<line x1="1667.8" y1="798.0" x2="1707.3" y2="798.0" stroke="#000" stroke-width="2"/>
<line x1="1803.4" y1="590.5" x2="1803.4" y2="694.4" stroke="#000" stroke-width="2"/>
<line x1="1784.4" y1="590.5" x2="1822.4" y2="590.5" stroke="#000" stroke-width="2"/>
<line x1="1784.4" y1="694.4" x2="1822.4" y2="694.4" stroke="#000" stroke-width="2"/>
<circle cx="1701.0" cy="753.8" r="6.9" fill="#fff" stroke="#000" stroke-width="2"/>
<circle cx="1673.0" cy="763.1" r="6.9" fill="#fff" stroke="#000" stroke-width="2"/>
<circle cx="1701.0" cy="772.4" r="6.9" fill="#fff" stroke="#000" stroke-width="2"/>
<circle cx="1673.0" cy="780.8" r="6.9" fill="#fff" stroke="#000" stroke-width="2"/>
<circle cx="1701.0" cy="790.2" r="6.9" fill="#fff" stroke="#000" stroke-width="2"/>
<circle cx="1687.0" cy="807.9" r="6.9" fill="#fff" stroke="#000" stroke-width="2"/>
<circle cx="1803.7" cy="555.3" r="6.9" fill="#fff" stroke="#000" stroke-width="2"/>
<circle cx="1803.7" cy="618.1" r="6.9" fill="#fff" stroke="#000" stroke-width="2"/>
<circle cx="1803.7" cy="645.5" r="6.9" fill="#fff" stroke="#000" stroke-width="2"/>
<circle cx="1789.0" cy="663.6" r="6.9" fill="#fff" stroke="#000" stroke-width="2"/>
<circle cx="1817.7" cy="663.6" r="6.9" fill="#fff" stroke="#000" stroke-width="2"/>
<circle cx="1803.7" cy="709.3" r="6.9" fill="#fff" stroke="#000" stroke-width="2"/>
<text x="1730.5" y="536.7" font-size="27.00" fill="#000"><tspan>p &lt; 0.0001</tspan></text>
<text transform="translate(1537.9,836.9) rotate(-90)" font-size="38.83" fill="#000"><tspan>Number of nodules</tspan></text>
<text x="1656.3" y="859.5" font-size="41.46" fill="#000"><tspan>Ctrl</tspan></text>
<text x="1741.7" y="859.5" font-size="41.99" fill="#000"><tspan font-style="italic">Rnf20+/-</tspan></text>
<line x1="1610.0" y1="878.1" x2="1610.0" y2="1135.6" stroke="#000" stroke-width="3.7"/>
<line x1="1596.9" y1="1133.9" x2="1881.5" y2="1133.9" stroke="#000" stroke-width="3.4"/>
<line x1="1596.9" y1="879.8" x2="1610.0" y2="879.8" stroke="#000" stroke-width="3.3"/>
<line x1="1596.9" y1="964.5" x2="1610.0" y2="964.5" stroke="#000" stroke-width="3.3"/>
<line x1="1596.9" y1="1049.2" x2="1610.0" y2="1049.2" stroke="#000" stroke-width="3.3"/>
<line x1="1596.9" y1="1133.9" x2="1610.0" y2="1133.9" stroke="#000" stroke-width="3.3"/>
<text x="1554.6" y="892.0" font-size="35.00" fill="#000"><tspan>60</tspan></text>
<text x="1554.6" y="976.7" font-size="35.00" fill="#000"><tspan>40</tspan></text>
<text x="1554.6" y="1061.4" font-size="35.00" fill="#000"><tspan>20</tspan></text>
<text x="1574.1" y="1146.1" font-size="35.00" fill="#000"><tspan>0</tspan></text>
<line x1="1687.0" y1="1133.9" x2="1687.0" y2="1146.4" stroke="#000" stroke-width="3.3"/>
<line x1="1802.8" y1="1133.9" x2="1802.8" y2="1146.4" stroke="#000" stroke-width="3.3"/>
<rect x="1650.5" y="1107.8" width="72.1" height="26.0" fill="#636363" stroke="#000" stroke-width="3.5"/>
<rect x="1767.5" y="982.4" width="70.7" height="151.4" fill="#ff8080" stroke="#000" stroke-width="3.5"/>
<line x1="1687.0" y1="1087.9" x2="1687.0" y2="1123.0" stroke="#000" stroke-width="2"/>
<line x1="1667.8" y1="1087.9" x2="1705.7" y2="1087.9" stroke="#000" stroke-width="2"/>
<line x1="1667.8" y1="1123.0" x2="1705.7" y2="1123.0" stroke="#000" stroke-width="2"/>
<line x1="1802.8" y1="917.8" x2="1802.8" y2="1041.2" stroke="#000" stroke-width="2"/>
<line x1="1783.5" y1="917.8" x2="1822.4" y2="917.8" stroke="#000" stroke-width="2"/>
<line x1="1783.5" y1="1041.2" x2="1822.4" y2="1041.2" stroke="#000" stroke-width="2"/>
<circle cx="1718.2" cy="1084.8" r="6.9" fill="#fff" stroke="#000" stroke-width="2"/>
<circle cx="1656.0" cy="1097.5" r="6.9" fill="#fff" stroke="#000" stroke-width="2"/>
<circle cx="1687.0" cy="1096.6" r="6.9" fill="#fff" stroke="#000" stroke-width="2"/>
<circle cx="1718.2" cy="1102.2" r="6.9" fill="#fff" stroke="#000" stroke-width="2"/>
<circle cx="1687.0" cy="1115.9" r="6.9" fill="#fff" stroke="#000" stroke-width="2"/>
<circle cx="1687.0" cy="1134.9" r="6.9" fill="#fff" stroke="#000" stroke-width="2"/>
<circle cx="1803.0" cy="917.8" r="6.9" fill="#fff" stroke="#000" stroke-width="2"/>
<circle cx="1788.1" cy="933.9" r="6.9" fill="#fff" stroke="#000" stroke-width="2"/>
<circle cx="1817.7" cy="936.4" r="6.9" fill="#fff" stroke="#000" stroke-width="2"/>
<circle cx="1803.0" cy="992.4" r="6.9" fill="#fff" stroke="#000" stroke-width="2"/>
<circle cx="1803.0" cy="1017.9" r="6.9" fill="#fff" stroke="#000" stroke-width="2"/>
<circle cx="1803.0" cy="1077.0" r="6.9" fill="#fff" stroke="#000" stroke-width="2"/>
<text x="1736.6" y="905.3" font-size="27.50" fill="#000"><tspan>p = 0.0007</tspan></text>
<text transform="translate(1536.1,1144.9) rotate(-90)" font-size="38.56" fill="#000"><tspan>Metastasis area</tspan></text>
<text x="1652.3" y="1186.8" font-size="41.74" fill="#000"><tspan>Ctrl</tspan></text>
<text x="1736.1" y="1186.8" font-size="42.68" fill="#000"><tspan font-style="italic">Rnf20+/-</tspan></text>
<rect x="16.0" y="1251.5" width="21.8" height="21.6" fill="#808080" stroke="#3f3f3f" stroke-width="3"/>
<rect x="16.0" y="1302.1" width="21.8" height="21.6" fill="#ff8080" stroke="#3f3f3f" stroke-width="3"/>
<rect x="16.0" y="1369.9" width="21.8" height="21.6" fill="#ffc283" stroke="#3f3f3f" stroke-width="3"/>
<rect x="16.0" y="1420.5" width="21.8" height="21.6" fill="#5757fb" stroke="#3f3f3f" stroke-width="3"/>
<rect x="223.5" y="1248.9" width="21.8" height="21.6" fill="#a40ce2" stroke="#3f3f3f" stroke-width="3"/>
<rect x="223.5" y="1299.9" width="21.8" height="21.6" fill="#00f400" stroke="#3f3f3f" stroke-width="3"/>
<text x="47.1" y="1273.9" font-size="36.59" fill="#000"><tspan>Ctrl</tspan></text>
<text x="48.4" y="1321.6" font-size="34.93" fill="#000"><tspan font-style="italic">RNF20+/-</tspan></text>
<text x="47.2" y="1392.6" font-size="35.00" fill="#000"><tspan>Ctrl WZB117</tspan></text>
<text x="48.4" y="1441.0" font-size="34.80" fill="#000"><tspan font-style="italic">RNF20+/-</tspan><tspan> WZB117</tspan></text>
<text x="254.7" y="1271.6" font-size="35.19" fill="#000"><tspan>Ctrl </tspan><tspan font-style="italic">shHIF1A</tspan></text>
<text x="255.7" y="1320.0" font-size="34.83" fill="#000"><tspan font-style="italic">RNF20+/- shHIF1A</tspan></text>
<line x1="138.4" y1="1498.2" x2="138.4" y2="1941.1" stroke="#000" stroke-width="3.0"/>
<line x1="116.1" y1="1939.6" x2="523.2" y2="1939.6" stroke="#000" stroke-width="3.0"/>
<line x1="116.1" y1="1499.7" x2="138.4" y2="1499.7" stroke="#000" stroke-width="3.0"/>
<line x1="116.1" y1="1587.7" x2="138.4" y2="1587.7" stroke="#000" stroke-width="3.0"/>
<line x1="116.1" y1="1675.7" x2="138.4" y2="1675.7" stroke="#000" stroke-width="3.0"/>
<line x1="116.1" y1="1763.7" x2="138.4" y2="1763.7" stroke="#000" stroke-width="3.0"/>
<line x1="116.1" y1="1851.7" x2="138.4" y2="1851.7" stroke="#000" stroke-width="3.0"/>
<line x1="116.1" y1="1939.7" x2="138.4" y2="1939.7" stroke="#000" stroke-width="3.0"/>
<text x="51.9" y="1511.4" font-size="33.50" fill="#000"><tspan>500</tspan></text>
<text x="51.9" y="1599.4" font-size="33.50" fill="#000"><tspan>400</tspan></text>
<text x="51.9" y="1687.4" font-size="33.50" fill="#000"><tspan>300</tspan></text>
<text x="51.9" y="1775.4" font-size="33.50" fill="#000"><tspan>200</tspan></text>
<text x="51.9" y="1863.4" font-size="33.50" fill="#000"><tspan>100</tspan></text>
<text x="89.2" y="1951.4" font-size="33.50" fill="#000"><tspan>0</tspan></text>
<rect x="162.7" y="1817.4" width="44.2" height="122.1" fill="#808080" stroke="#000" stroke-width="3.2"/>
<rect x="221.0" y="1676.8" width="44.2" height="262.7" fill="#ff8080" stroke="#000" stroke-width="3.2"/>
<rect x="279.4" y="1831.6" width="44.2" height="107.9" fill="#a40ce2" stroke="#000" stroke-width="3.2"/>
<rect x="337.7" y="1828.7" width="44.2" height="110.8" fill="#00f400" stroke="#000" stroke-width="3.2"/>
<rect x="396.1" y="1852.9" width="44.2" height="86.6" fill="#ffc283" stroke="#000" stroke-width="3.2"/>
<rect x="454.4" y="1804.5" width="44.2" height="135.0" fill="#5757fb" stroke="#000" stroke-width="3.2"/>
<line x1="184.8" y1="1798.0" x2="184.8" y2="1831.0" stroke="#000" stroke-width="3.0"/>
<line x1="172.8" y1="1798.0" x2="196.8" y2="1798.0" stroke="#000" stroke-width="3.0"/>
<line x1="172.8" y1="1831.0" x2="196.8" y2="1831.0" stroke="#000" stroke-width="3.0"/>
<line x1="243.1" y1="1585.8" x2="243.1" y2="1762.3" stroke="#000" stroke-width="3.0"/>
<line x1="231.1" y1="1585.8" x2="255.1" y2="1585.8" stroke="#000" stroke-width="3.0"/>
<line x1="231.1" y1="1762.3" x2="255.1" y2="1762.3" stroke="#000" stroke-width="3.0"/>
<line x1="301.5" y1="1823.0" x2="301.5" y2="1840.0" stroke="#000" stroke-width="3.0"/>
<line x1="289.5" y1="1823.0" x2="313.5" y2="1823.0" stroke="#000" stroke-width="3.0"/>
<line x1="289.5" y1="1840.0" x2="313.5" y2="1840.0" stroke="#000" stroke-width="3.0"/>
<line x1="359.8" y1="1814.8" x2="359.8" y2="1830.0" stroke="#000" stroke-width="3.0"/>
<line x1="347.8" y1="1814.8" x2="371.8" y2="1814.8" stroke="#000" stroke-width="3.0"/>
<line x1="347.8" y1="1830.0" x2="371.8" y2="1830.0" stroke="#000" stroke-width="3.0"/>
<line x1="418.2" y1="1819.7" x2="418.2" y2="1880.0" stroke="#000" stroke-width="3.0"/>
<line x1="406.2" y1="1819.7" x2="430.2" y2="1819.7" stroke="#000" stroke-width="3.0"/>
<line x1="406.2" y1="1880.0" x2="430.2" y2="1880.0" stroke="#000" stroke-width="3.0"/>
<line x1="476.5" y1="1782.0" x2="476.5" y2="1822.0" stroke="#000" stroke-width="3.0"/>
<line x1="464.5" y1="1782.0" x2="488.5" y2="1782.0" stroke="#000" stroke-width="3.0"/>
<line x1="464.5" y1="1822.0" x2="488.5" y2="1822.0" stroke="#000" stroke-width="3.0"/>
<circle cx="184.8" cy="1789.7" r="8.1" fill="#fff" stroke="#000" stroke-width="1.7"/>
<circle cx="200.0" cy="1808.4" r="8.1" fill="#fff" stroke="#000" stroke-width="1.7"/>
<circle cx="184.8" cy="1818.0" r="8.1" fill="#fff" stroke="#000" stroke-width="1.7"/>
<circle cx="170.0" cy="1831.0" r="8.1" fill="#fff" stroke="#000" stroke-width="1.7"/>
<circle cx="200.0" cy="1825.5" r="8.1" fill="#fff" stroke="#000" stroke-width="1.7"/>
<circle cx="228.4" cy="1602.9" r="8.1" fill="#fff" stroke="#000" stroke-width="1.7"/>
<circle cx="258.0" cy="1608.4" r="8.1" fill="#fff" stroke="#000" stroke-width="1.7"/>
<circle cx="243.0" cy="1656.0" r="8.1" fill="#fff" stroke="#000" stroke-width="1.7"/>
<circle cx="243.0" cy="1683.5" r="8.1" fill="#fff" stroke="#000" stroke-width="1.7"/>
<circle cx="243.0" cy="1819.0" r="8.1" fill="#fff" stroke="#000" stroke-width="1.7"/>
<circle cx="296.0" cy="1818.0" r="8.1" fill="#fff" stroke="#000" stroke-width="1.7"/>
<circle cx="316.0" cy="1819.7" r="8.1" fill="#fff" stroke="#000" stroke-width="1.7"/>
<circle cx="285.5" cy="1827.7" r="8.1" fill="#fff" stroke="#000" stroke-width="1.7"/>
<circle cx="305.8" cy="1831.0" r="8.1" fill="#fff" stroke="#000" stroke-width="1.7"/>
<circle cx="296.0" cy="1844.5" r="8.1" fill="#fff" stroke="#000" stroke-width="1.7"/>
<circle cx="359.0" cy="1811.6" r="8.1" fill="#fff" stroke="#000" stroke-width="1.7"/>
<circle cx="375.2" cy="1817.0" r="8.1" fill="#fff" stroke="#000" stroke-width="1.7"/>
<circle cx="344.5" cy="1836.5" r="8.1" fill="#fff" stroke="#000" stroke-width="1.7"/>
<circle cx="359.0" cy="1831.0" r="8.1" fill="#fff" stroke="#000" stroke-width="1.7"/>
<circle cx="375.2" cy="1835.8" r="8.1" fill="#fff" stroke="#000" stroke-width="1.7"/>
<circle cx="402.6" cy="1827.7" r="8.1" fill="#fff" stroke="#000" stroke-width="1.7"/>
<circle cx="432.3" cy="1833.5" r="8.1" fill="#fff" stroke="#000" stroke-width="1.7"/>
<circle cx="412.3" cy="1842.3" r="8.1" fill="#fff" stroke="#000" stroke-width="1.7"/>
<circle cx="422.6" cy="1843.9" r="8.1" fill="#fff" stroke="#000" stroke-width="1.7"/>
<circle cx="417.1" cy="1902.0" r="8.1" fill="#fff" stroke="#000" stroke-width="1.7"/>
<circle cx="475.8" cy="1772.3" r="8.1" fill="#fff" stroke="#000" stroke-width="1.7"/>
<circle cx="459.7" cy="1798.7" r="8.1" fill="#fff" stroke="#000" stroke-width="1.7"/>
<circle cx="475.8" cy="1804.5" r="8.1" fill="#fff" stroke="#000" stroke-width="1.7"/>
<circle cx="491.0" cy="1810.6" r="8.1" fill="#fff" stroke="#000" stroke-width="1.7"/>
<circle cx="461.3" cy="1827.7" r="8.1" fill="#fff" stroke="#000" stroke-width="1.7"/>
<polyline points="175.8,1773.0 175.8,1553.5 229.7,1553.5 229.7,1579.4" fill="none" stroke="#000" stroke-width="2"/>
<polyline points="240.3,1579.4 240.3,1576.8 360.3,1576.8 360.3,1763.2" fill="none" stroke="#000" stroke-width="2"/>
<polyline points="243.0,1517.4 243.0,1496.1 479.0,1496.1 479.0,1726.0" fill="none" stroke="#000" stroke-width="2"/>
<text x="164.2" y="1544.5" font-size="27.36" fill="#000"><tspan>p &lt; 0.0001</tspan></text>
<text x="245.9" y="1568.7" font-size="27.26" fill="#000"><tspan>p &lt; 0.0001</tspan></text>
<text x="309.5" y="1489.0" font-size="27.19" fill="#000"><tspan>p = 0.0004</tspan></text>
<line x1="306.5" y1="1782.0" x2="355.8" y2="1782.0" stroke="#000" stroke-width="2.2"/>
<text x="317.5" y="1773.0" font-size="27.89" fill="#000"><tspan>ns</tspan></text>
<line x1="413.9" y1="1752.9" x2="462.3" y2="1752.9" stroke="#000" stroke-width="2.2"/>
<text x="421.7" y="1743.9" font-size="27.16" fill="#000"><tspan>ns</tspan></text>
<text transform="translate(39.6,1839.4) rotate(-90)" font-size="39.02" fill="#000"><tspan>G6P (nmol/μl)</tspan></text>
<line x1="144.2" y1="2022.0" x2="144.2" y2="2464.7" stroke="#000" stroke-width="3.0"/>
<line x1="122.6" y1="2463.2" x2="531.6" y2="2463.2" stroke="#000" stroke-width="3.0"/>
<line x1="122.6" y1="2023.5" x2="144.2" y2="2023.5" stroke="#000" stroke-width="3.0"/>
<line x1="122.6" y1="2111.4" x2="144.2" y2="2111.4" stroke="#000" stroke-width="3.0"/>
<line x1="122.6" y1="2199.4" x2="144.2" y2="2199.4" stroke="#000" stroke-width="3.0"/>
<line x1="122.6" y1="2287.3" x2="144.2" y2="2287.3" stroke="#000" stroke-width="3.0"/>
<line x1="122.6" y1="2375.3" x2="144.2" y2="2375.3" stroke="#000" stroke-width="3.0"/>
<line x1="122.6" y1="2463.2" x2="144.2" y2="2463.2" stroke="#000" stroke-width="3.0"/>
<text x="80.2" y="2034.7" font-size="32.00" fill="#000"><tspan>25</tspan></text>
<text x="80.2" y="2122.6" font-size="32.00" fill="#000"><tspan>20</tspan></text>
<text x="80.2" y="2210.4" font-size="32.00" fill="#000"><tspan>15</tspan></text>
<text x="80.2" y="2298.5" font-size="32.00" fill="#000"><tspan>10</tspan></text>
<text x="98.0" y="2386.3" font-size="32.00" fill="#000"><tspan>5</tspan></text>
<text x="98.0" y="2474.4" font-size="32.00" fill="#000"><tspan>0</tspan></text>
<rect x="168.7" y="2355.1" width="44.0" height="108.0" fill="#808080" stroke="#000" stroke-width="3.2"/>
<rect x="227.3" y="2191.3" width="44.0" height="271.8" fill="#ff8080" stroke="#000" stroke-width="3.2"/>
<rect x="285.9" y="2331.9" width="44.0" height="131.2" fill="#a40ce2" stroke="#000" stroke-width="3.2"/>
<rect x="344.5" y="2364.8" width="44.0" height="98.3" fill="#00f400" stroke="#000" stroke-width="3.2"/>
<rect x="403.1" y="2402.9" width="44.0" height="60.2" fill="#ffc283" stroke="#000" stroke-width="3.2"/>
<rect x="461.7" y="2311.0" width="44.0" height="152.1" fill="#5757fb" stroke="#000" stroke-width="3.2"/>
<line x1="190.7" y1="2326.8" x2="190.7" y2="2377.7" stroke="#000" stroke-width="3.0"/>
<line x1="179.7" y1="2326.8" x2="201.7" y2="2326.8" stroke="#000" stroke-width="3.0"/>
<line x1="179.7" y1="2377.7" x2="201.7" y2="2377.7" stroke="#000" stroke-width="3.0"/>
<line x1="249.3" y1="2127.7" x2="249.3" y2="2248.0" stroke="#000" stroke-width="3.0"/>
<line x1="238.3" y1="2127.7" x2="260.3" y2="2127.7" stroke="#000" stroke-width="3.0"/>
<line x1="238.3" y1="2248.0" x2="260.3" y2="2248.0" stroke="#000" stroke-width="3.0"/>
<line x1="307.9" y1="2265.8" x2="307.9" y2="2392.3" stroke="#000" stroke-width="3.0"/>
<line x1="296.9" y1="2265.8" x2="318.9" y2="2265.8" stroke="#000" stroke-width="3.0"/>
<line x1="296.9" y1="2392.3" x2="318.9" y2="2392.3" stroke="#000" stroke-width="3.0"/>
<line x1="366.5" y1="2309.4" x2="366.5" y2="2415.5" stroke="#000" stroke-width="3.0"/>
<line x1="355.5" y1="2309.4" x2="377.5" y2="2309.4" stroke="#000" stroke-width="3.0"/>
<line x1="355.5" y1="2415.5" x2="377.5" y2="2415.5" stroke="#000" stroke-width="3.0"/>
<line x1="425.1" y1="2385.2" x2="425.1" y2="2417.0" stroke="#000" stroke-width="3.0"/>
<line x1="414.1" y1="2385.2" x2="436.1" y2="2385.2" stroke="#000" stroke-width="3.0"/>
<line x1="414.1" y1="2417.0" x2="436.1" y2="2417.0" stroke="#000" stroke-width="3.0"/>
<line x1="483.7" y1="2254.2" x2="483.7" y2="2362.6" stroke="#000" stroke-width="3.0"/>
<line x1="472.7" y1="2254.2" x2="494.7" y2="2254.2" stroke="#000" stroke-width="3.0"/>
<line x1="472.7" y1="2362.6" x2="494.7" y2="2362.6" stroke="#000" stroke-width="3.0"/>
<circle cx="176.5" cy="2323.9" r="8.1" fill="#fff" stroke="#000" stroke-width="1.7"/>
<circle cx="176.5" cy="2340.6" r="8.1" fill="#fff" stroke="#000" stroke-width="1.7"/>
<circle cx="205.5" cy="2336.5" r="8.1" fill="#fff" stroke="#000" stroke-width="1.7"/>
<circle cx="176.5" cy="2379.4" r="8.1" fill="#fff" stroke="#000" stroke-width="1.7"/>
<circle cx="205.5" cy="2379.4" r="8.1" fill="#fff" stroke="#000" stroke-width="1.7"/>
<circle cx="249.4" cy="2090.6" r="8.1" fill="#fff" stroke="#000" stroke-width="1.7"/>
<circle cx="249.4" cy="2169.0" r="8.1" fill="#fff" stroke="#000" stroke-width="1.7"/>
<circle cx="234.5" cy="2214.8" r="8.1" fill="#fff" stroke="#000" stroke-width="1.7"/>
<circle cx="264.5" cy="2222.9" r="8.1" fill="#fff" stroke="#000" stroke-width="1.7"/>
<circle cx="249.4" cy="2242.9" r="8.1" fill="#fff" stroke="#000" stroke-width="1.7"/>
<circle cx="308.0" cy="2225.5" r="8.1" fill="#fff" stroke="#000" stroke-width="1.7"/>
<circle cx="308.0" cy="2316.5" r="8.1" fill="#fff" stroke="#000" stroke-width="1.7"/>
<circle cx="308.0" cy="2344.8" r="8.1" fill="#fff" stroke="#000" stroke-width="1.7"/>
<circle cx="292.9" cy="2379.4" r="8.1" fill="#fff" stroke="#000" stroke-width="1.7"/>
<circle cx="322.6" cy="2378.4" r="8.1" fill="#fff" stroke="#000" stroke-width="1.7"/>
<circle cx="366.8" cy="2305.8" r="8.1" fill="#fff" stroke="#000" stroke-width="1.7"/>
<circle cx="351.6" cy="2343.9" r="8.1" fill="#fff" stroke="#000" stroke-width="1.7"/>
<circle cx="381.6" cy="2339.7" r="8.1" fill="#fff" stroke="#000" stroke-width="1.7"/>
<circle cx="366.8" cy="2377.7" r="8.1" fill="#fff" stroke="#000" stroke-width="1.7"/>
<circle cx="366.8" cy="2445.5" r="8.1" fill="#fff" stroke="#000" stroke-width="1.7"/>
<circle cx="417.7" cy="2379.4" r="8.1" fill="#fff" stroke="#000" stroke-width="1.7"/>
<circle cx="432.3" cy="2379.4" r="8.1" fill="#fff" stroke="#000" stroke-width="1.7"/>
<circle cx="409.7" cy="2414.8" r="8.1" fill="#fff" stroke="#000" stroke-width="1.7"/>
<circle cx="425.2" cy="2414.8" r="8.1" fill="#fff" stroke="#000" stroke-width="1.7"/>
<circle cx="439.4" cy="2414.8" r="8.1" fill="#fff" stroke="#000" stroke-width="1.7"/>
<circle cx="483.9" cy="2225.5" r="8.1" fill="#fff" stroke="#000" stroke-width="1.7"/>
<circle cx="468.4" cy="2305.8" r="8.1" fill="#fff" stroke="#000" stroke-width="1.7"/>
<circle cx="498.4" cy="2301.9" r="8.1" fill="#fff" stroke="#000" stroke-width="1.7"/>
<circle cx="483.9" cy="2339.7" r="8.1" fill="#fff" stroke="#000" stroke-width="1.7"/>
<circle cx="483.9" cy="2369.0" r="8.1" fill="#fff" stroke="#000" stroke-width="1.7"/>
<polyline points="188.0,2264.8 188.0,2045.5 241.3,2045.5 241.3,2071.3" fill="none" stroke="#000" stroke-width="2"/>
<polyline points="257.1,2074.5 257.1,2065.8 375.2,2065.8 375.2,2260.0" fill="none" stroke="#000" stroke-width="2"/>
<polyline points="248.4,2010.0 248.4,1987.4 486.1,1987.4 486.1,2205.8" fill="none" stroke="#000" stroke-width="2"/>
<text x="150.8" y="2036.8" font-size="27.55" fill="#000"><tspan>p = 0.0003</tspan></text>
<text x="261.1" y="2057.4" font-size="27.45" fill="#000"><tspan>p &lt; 0.0001</tspan></text>
<text x="311.1" y="1981.0" font-size="27.42" fill="#000"><tspan>p = 0.0083</tspan></text>
<line x1="309.0" y1="2204.2" x2="363.5" y2="2204.2" stroke="#000" stroke-width="2.2"/>
<text x="319.1" y="2192.9" font-size="28.73" fill="#000"><tspan>ns</tspan></text>
<line x1="416.1" y1="2209.4" x2="471.0" y2="2209.4" stroke="#000" stroke-width="2.2"/>
<text x="430.5" y="2198.7" font-size="26.95" fill="#000"><tspan>ns</tspan></text>
<text transform="translate(42.9,2355.2) rotate(-90)" font-size="39.20" fill="#000"><tspan>Lactate (μM)</tspan></text>
<line x1="662.2" y1="2070.1" x2="662.2" y2="2474.6" stroke="#000" stroke-width="4.6"/>
<line x1="648.4" y1="2472.3" x2="1046.3" y2="2472.3" stroke="#000" stroke-width="4.6"/>
<line x1="648.4" y1="2072.4" x2="662.2" y2="2072.4" stroke="#000" stroke-width="4.6"/>
<line x1="648.4" y1="2172.4" x2="662.2" y2="2172.4" stroke="#000" stroke-width="4.6"/>
<line x1="648.4" y1="2272.4" x2="662.2" y2="2272.4" stroke="#000" stroke-width="4.6"/>
<line x1="648.4" y1="2372.4" x2="662.2" y2="2372.4" stroke="#000" stroke-width="4.6"/>
<line x1="648.4" y1="2472.4" x2="662.2" y2="2472.4" stroke="#000" stroke-width="4.6"/>
<text x="606.6" y="2084.4" font-size="34.30" fill="#000"><tspan>20</tspan></text>
<text x="606.7" y="2184.2" font-size="34.30" fill="#000"><tspan>15</tspan></text>
<text x="606.6" y="2284.4" font-size="34.30" fill="#000"><tspan>10</tspan></text>
<text x="625.8" y="2384.2" font-size="34.30" fill="#000"><tspan>5</tspan></text>
<text x="625.7" y="2484.4" font-size="34.30" fill="#000"><tspan>0</tspan></text>
<line x1="708.8" y1="2472.3" x2="708.8" y2="2486.5" stroke="#000" stroke-width="4.6"/>
<line x1="766.3" y1="2472.3" x2="766.3" y2="2486.5" stroke="#000" stroke-width="4.6"/>
<line x1="823.9" y1="2472.3" x2="823.9" y2="2486.5" stroke="#000" stroke-width="4.6"/>
<line x1="881.4" y1="2472.3" x2="881.4" y2="2486.5" stroke="#000" stroke-width="4.6"/>
<line x1="939.0" y1="2472.3" x2="939.0" y2="2486.5" stroke="#000" stroke-width="4.6"/>
<line x1="996.5" y1="2472.3" x2="996.5" y2="2486.5" stroke="#000" stroke-width="4.6"/>
<rect x="688.9" y="2392.3" width="39.7" height="79.1" fill="#636363" stroke="#000" stroke-width="4.8"/>
<rect x="746.5" y="2244.6" width="39.7" height="226.8" fill="#ff8080" stroke="#000" stroke-width="4.8"/>
<rect x="804.0" y="2403.7" width="39.7" height="67.7" fill="#a40ce2" stroke="#000" stroke-width="4.8"/>
<rect x="861.6" y="2400.4" width="39.7" height="71.0" fill="#00f400" stroke="#000" stroke-width="4.8"/>
<rect x="919.1" y="2441.8" width="39.7" height="29.6" fill="#ffc283" stroke="#000" stroke-width="4.8"/>
<rect x="976.7" y="2403.7" width="39.7" height="67.7" fill="#5757fb" stroke="#000" stroke-width="4.8"/>
<line x1="708.8" y1="2350.4" x2="708.8" y2="2427.4" stroke="#000" stroke-width="2.4"/>
<line x1="697.3" y1="2350.4" x2="720.3" y2="2350.4" stroke="#000" stroke-width="2.4"/>
<line x1="697.3" y1="2427.4" x2="720.3" y2="2427.4" stroke="#000" stroke-width="2.4"/>
<line x1="766.3" y1="2199.1" x2="766.3" y2="2282.1" stroke="#000" stroke-width="2.4"/>
<line x1="754.8" y1="2199.1" x2="777.8" y2="2199.1" stroke="#000" stroke-width="2.4"/>
<line x1="754.8" y1="2282.1" x2="777.8" y2="2282.1" stroke="#000" stroke-width="2.4"/>
<line x1="823.9" y1="2346.5" x2="823.9" y2="2455.0" stroke="#000" stroke-width="2.4"/>
<line x1="812.4" y1="2346.5" x2="835.4" y2="2346.5" stroke="#000" stroke-width="2.4"/>
<line x1="812.4" y1="2455.0" x2="835.4" y2="2455.0" stroke="#000" stroke-width="2.4"/>
<line x1="881.4" y1="2366.9" x2="881.4" y2="2425.9" stroke="#000" stroke-width="2.4"/>
<line x1="869.9" y1="2366.9" x2="892.9" y2="2366.9" stroke="#000" stroke-width="2.4"/>
<line x1="869.9" y1="2425.9" x2="892.9" y2="2425.9" stroke="#000" stroke-width="2.4"/>
<line x1="939.0" y1="2419.9" x2="939.0" y2="2452.9" stroke="#000" stroke-width="2.4"/>
<line x1="927.5" y1="2419.9" x2="950.5" y2="2419.9" stroke="#000" stroke-width="2.4"/>
<line x1="927.5" y1="2452.9" x2="950.5" y2="2452.9" stroke="#000" stroke-width="2.4"/>
<line x1="996.5" y1="2354.6" x2="996.5" y2="2446.9" stroke="#000" stroke-width="2.4"/>
<line x1="985.0" y1="2354.6" x2="1008.0" y2="2354.6" stroke="#000" stroke-width="2.4"/>
<line x1="985.0" y1="2446.9" x2="1008.0" y2="2446.9" stroke="#000" stroke-width="2.4"/>
<circle cx="708.7" cy="2332.4" r="7.8" fill="#fff" stroke="#000" stroke-width="2.0"/>
<circle cx="708.7" cy="2372.6" r="7.8" fill="#fff" stroke="#000" stroke-width="2.0"/>
<circle cx="708.7" cy="2392.3" r="7.8" fill="#fff" stroke="#000" stroke-width="2.0"/>
<circle cx="708.7" cy="2412.4" r="7.8" fill="#fff" stroke="#000" stroke-width="2.0"/>
<circle cx="708.7" cy="2431.9" r="7.8" fill="#fff" stroke="#000" stroke-width="2.0"/>
<circle cx="766.2" cy="2172.1" r="7.8" fill="#fff" stroke="#000" stroke-width="2.0"/>
<circle cx="766.2" cy="2232.7" r="7.8" fill="#fff" stroke="#000" stroke-width="2.0"/>
<circle cx="766.2" cy="2252.1" r="7.8" fill="#fff" stroke="#000" stroke-width="2.0"/>
<circle cx="751.8" cy="2272.2" r="7.8" fill="#fff" stroke="#000" stroke-width="2.0"/>
<circle cx="780.6" cy="2272.2" r="7.8" fill="#fff" stroke="#000" stroke-width="2.0"/>
<circle cx="824.0" cy="2312.6" r="7.8" fill="#fff" stroke="#000" stroke-width="2.0"/>
<circle cx="824.0" cy="2392.3" r="7.8" fill="#fff" stroke="#000" stroke-width="2.0"/>
<circle cx="824.0" cy="2412.4" r="7.8" fill="#fff" stroke="#000" stroke-width="2.0"/>
<circle cx="824.0" cy="2432.5" r="7.8" fill="#fff" stroke="#000" stroke-width="2.0"/>
<circle cx="824.0" cy="2452.3" r="7.8" fill="#fff" stroke="#000" stroke-width="2.0"/>
<circle cx="881.5" cy="2352.5" r="7.8" fill="#fff" stroke="#000" stroke-width="2.0"/>
<circle cx="867.4" cy="2392.3" r="7.8" fill="#fff" stroke="#000" stroke-width="2.0"/>
<circle cx="895.9" cy="2392.3" r="7.8" fill="#fff" stroke="#000" stroke-width="2.0"/>
<circle cx="881.5" cy="2412.4" r="7.8" fill="#fff" stroke="#000" stroke-width="2.0"/>
<circle cx="881.5" cy="2431.9" r="7.8" fill="#fff" stroke="#000" stroke-width="2.0"/>
<circle cx="939.3" cy="2412.4" r="7.8" fill="#fff" stroke="#8a8a8a" stroke-width="2.0"/>
<circle cx="925.0" cy="2432.8" r="7.8" fill="#fff" stroke="#8a8a8a" stroke-width="2.0"/>
<circle cx="953.4" cy="2432.8" r="7.8" fill="#fff" stroke="#8a8a8a" stroke-width="2.0"/>
<circle cx="925.0" cy="2452.3" r="7.8" fill="#fff" stroke="#8a8a8a" stroke-width="2.0"/>
<circle cx="953.4" cy="2452.3" r="7.8" fill="#fff" stroke="#8a8a8a" stroke-width="2.0"/>
<circle cx="996.9" cy="2352.5" r="7.8" fill="#fff" stroke="#8a8a8a" stroke-width="2.0"/>
<circle cx="996.9" cy="2372.6" r="7.8" fill="#fff" stroke="#8a8a8a" stroke-width="2.0"/>
<circle cx="996.9" cy="2392.3" r="7.8" fill="#fff" stroke="#8a8a8a" stroke-width="2.0"/>
<circle cx="996.9" cy="2412.4" r="7.8" fill="#fff" stroke="#8a8a8a" stroke-width="2.0"/>
<circle cx="996.9" cy="2472.3" r="7.8" fill="#fff" stroke="#8a8a8a" stroke-width="2.0"/>
<polyline points="708.7,2313.0 708.7,2061.3 760.2,2061.3 760.2,2153.3" fill="none" stroke="#000" stroke-width="2"/>
<polyline points="773.1,2153.3 773.1,2133.2 882.1,2133.2 882.1,2280.0" fill="none" stroke="#000" stroke-width="2"/>
<polyline points="773.1,2089.8 773.1,2082.9 996.9,2082.9 996.9,2288.0" fill="none" stroke="#000" stroke-width="2"/>
<text x="674.5" y="2053.5" font-size="27.30" fill="#000"><tspan>p &lt; 0.0001</tspan></text>
<text x="770.5" y="2119.4" font-size="27.11" fill="#000"><tspan>p &lt; 0.0001</tspan></text>
<text x="827.4" y="2073.9" font-size="27.11" fill="#000"><tspan>p &lt; 0.0001</tspan></text>
<line x1="820.1" y1="2297.1" x2="888.1" y2="2297.1" stroke="#000" stroke-width="2.2"/>
<text x="836.2" y="2288.1" font-size="27.37" fill="#000"><tspan>ns</tspan></text>
<line x1="933.3" y1="2331.5" x2="998.4" y2="2331.5" stroke="#000" stroke-width="2.2"/>
<text x="948.5" y="2322.5" font-size="28.31" fill="#000"><tspan>ns</tspan></text>
<text transform="translate(592.2,2442.6) rotate(-90)" font-size="38.91" fill="#000"><tspan>Number of nodules</tspan></text>
<line x1="1174.9" y1="2072.3" x2="1174.9" y2="2475.5" stroke="#000" stroke-width="4.6"/>
<line x1="1160.2" y1="2473.2" x2="1558.0" y2="2473.2" stroke="#000" stroke-width="4.6"/>
<line x1="1160.2" y1="2074.6" x2="1174.9" y2="2074.6" stroke="#000" stroke-width="4.6"/>
<line x1="1160.2" y1="2207.5" x2="1174.9" y2="2207.5" stroke="#000" stroke-width="4.6"/>
<line x1="1160.2" y1="2340.3" x2="1174.9" y2="2340.3" stroke="#000" stroke-width="4.6"/>
<line x1="1160.2" y1="2473.2" x2="1174.9" y2="2473.2" stroke="#000" stroke-width="4.6"/>
<text x="1118.3" y="2086.3" font-size="33.50" fill="#000"><tspan>60</tspan></text>
<text x="1118.3" y="2219.2" font-size="33.50" fill="#000"><tspan>40</tspan></text>
<text x="1118.3" y="2352.0" font-size="33.50" fill="#000"><tspan>20</tspan></text>
<text x="1137.0" y="2484.9" font-size="33.50" fill="#000"><tspan>0</tspan></text>
<line x1="1220.4" y1="2473.2" x2="1220.4" y2="2486.5" stroke="#000" stroke-width="4.6"/>
<line x1="1278.0" y1="2473.2" x2="1278.0" y2="2486.5" stroke="#000" stroke-width="4.6"/>
<line x1="1335.6" y1="2473.2" x2="1335.6" y2="2486.5" stroke="#000" stroke-width="4.6"/>
<line x1="1393.2" y1="2473.2" x2="1393.2" y2="2486.5" stroke="#000" stroke-width="4.6"/>
<line x1="1450.8" y1="2473.2" x2="1450.8" y2="2486.5" stroke="#000" stroke-width="4.6"/>
<line x1="1508.4" y1="2473.2" x2="1508.4" y2="2486.5" stroke="#000" stroke-width="4.6"/>
<rect x="1200.6" y="2413.1" width="39.7" height="59.2" fill="#636363" stroke="#000" stroke-width="4.8"/>
<rect x="1258.2" y="2199.5" width="39.7" height="272.8" fill="#ff8080" stroke="#000" stroke-width="4.8"/>
<rect x="1315.8" y="2409.0" width="39.7" height="63.3" fill="#a40ce2" stroke="#000" stroke-width="4.8"/>
<rect x="1373.4" y="2413.1" width="39.7" height="59.2" fill="#00f400" stroke="#000" stroke-width="4.8"/>
<rect x="1431.0" y="2439.5" width="39.7" height="32.8" fill="#ffc283" stroke="#000" stroke-width="4.8"/>
<rect x="1488.6" y="2414.8" width="39.7" height="57.5" fill="#5757fb" stroke="#000" stroke-width="4.8"/>
<line x1="1220.4" y1="2374.3" x2="1220.4" y2="2445.9" stroke="#000" stroke-width="2.4"/>
<line x1="1208.9" y1="2374.3" x2="1231.9" y2="2374.3" stroke="#000" stroke-width="2.4"/>
<line x1="1208.9" y1="2445.9" x2="1231.9" y2="2445.9" stroke="#000" stroke-width="2.4"/>
<line x1="1278.0" y1="2131.0" x2="1278.0" y2="2261.2" stroke="#000" stroke-width="2.4"/>
<line x1="1266.5" y1="2131.0" x2="1289.5" y2="2131.0" stroke="#000" stroke-width="2.4"/>
<line x1="1266.5" y1="2261.2" x2="1289.5" y2="2261.2" stroke="#000" stroke-width="2.4"/>
<line x1="1335.6" y1="2379.2" x2="1335.6" y2="2432.1" stroke="#000" stroke-width="2.4"/>
<line x1="1324.1" y1="2379.2" x2="1347.1" y2="2379.2" stroke="#000" stroke-width="2.4"/>
<line x1="1324.1" y1="2432.1" x2="1347.1" y2="2432.1" stroke="#000" stroke-width="2.4"/>
<line x1="1393.2" y1="2383.7" x2="1393.2" y2="2436.5" stroke="#000" stroke-width="2.4"/>
<line x1="1381.7" y1="2383.7" x2="1404.7" y2="2383.7" stroke="#000" stroke-width="2.4"/>
<line x1="1381.7" y1="2436.5" x2="1404.7" y2="2436.5" stroke="#000" stroke-width="2.4"/>
<line x1="1450.8" y1="2393.9" x2="1450.8" y2="2470.3" stroke="#000" stroke-width="2.4"/>
<line x1="1439.3" y1="2393.9" x2="1462.3" y2="2393.9" stroke="#000" stroke-width="2.4"/>
<line x1="1439.3" y1="2470.3" x2="1462.3" y2="2470.3" stroke="#000" stroke-width="2.4"/>
<line x1="1508.4" y1="2377.2" x2="1508.4" y2="2446.2" stroke="#000" stroke-width="2.4"/>
<line x1="1496.9" y1="2377.2" x2="1519.9" y2="2377.2" stroke="#000" stroke-width="2.4"/>
<line x1="1496.9" y1="2446.2" x2="1519.9" y2="2446.2" stroke="#000" stroke-width="2.4"/>
<circle cx="1220.4" cy="2366.0" r="7.8" fill="#fff" stroke="#000" stroke-width="2.0"/>
<circle cx="1220.4" cy="2385.1" r="7.8" fill="#fff" stroke="#000" stroke-width="2.0"/>
<circle cx="1220.4" cy="2412.1" r="7.8" fill="#fff" stroke="#000" stroke-width="2.0"/>
<circle cx="1220.4" cy="2430.7" r="7.8" fill="#fff" stroke="#000" stroke-width="2.0"/>
<circle cx="1220.4" cy="2454.2" r="7.8" fill="#fff" stroke="#000" stroke-width="2.0"/>
<circle cx="1278.3" cy="2113.4" r="7.8" fill="#fff" stroke="#000" stroke-width="2.0"/>
<circle cx="1278.3" cy="2166.3" r="7.8" fill="#fff" stroke="#000" stroke-width="2.0"/>
<circle cx="1278.3" cy="2185.4" r="7.8" fill="#fff" stroke="#000" stroke-width="2.0"/>
<circle cx="1278.3" cy="2226.5" r="7.8" fill="#fff" stroke="#000" stroke-width="2.0"/>
<circle cx="1278.3" cy="2288.2" r="7.8" fill="#fff" stroke="#000" stroke-width="2.0"/>
<circle cx="1335.8" cy="2363.1" r="7.8" fill="#fff" stroke="#000" stroke-width="2.0"/>
<circle cx="1321.7" cy="2404.2" r="7.8" fill="#fff" stroke="#000" stroke-width="2.0"/>
<circle cx="1335.8" cy="2413.0" r="7.8" fill="#fff" stroke="#000" stroke-width="2.0"/>
<circle cx="1350.2" cy="2412.1" r="7.8" fill="#fff" stroke="#000" stroke-width="2.0"/>
<circle cx="1335.8" cy="2433.0" r="7.8" fill="#fff" stroke="#000" stroke-width="2.0"/>
<circle cx="1393.1" cy="2376.3" r="7.8" fill="#fff" stroke="#000" stroke-width="2.0"/>
<circle cx="1379.0" cy="2397.8" r="7.8" fill="#fff" stroke="#000" stroke-width="2.0"/>
<circle cx="1393.1" cy="2407.2" r="7.8" fill="#fff" stroke="#000" stroke-width="2.0"/>
<circle cx="1406.9" cy="2413.0" r="7.8" fill="#fff" stroke="#000" stroke-width="2.0"/>
<circle cx="1393.1" cy="2446.8" r="7.8" fill="#fff" stroke="#000" stroke-width="2.0"/>
<circle cx="1451.0" cy="2381.6" r="7.8" fill="#fff" stroke="#8a8a8a" stroke-width="2.0"/>
<circle cx="1451.0" cy="2426.3" r="7.8" fill="#fff" stroke="#8a8a8a" stroke-width="2.0"/>
<circle cx="1451.0" cy="2444.8" r="7.8" fill="#fff" stroke="#8a8a8a" stroke-width="2.0"/>
<circle cx="1437.2" cy="2465.9" r="7.8" fill="#fff" stroke="#8a8a8a" stroke-width="2.0"/>
<circle cx="1465.1" cy="2461.5" r="7.8" fill="#fff" stroke="#8a8a8a" stroke-width="2.0"/>
<circle cx="1508.3" cy="2355.2" r="7.8" fill="#fff" stroke="#8a8a8a" stroke-width="2.0"/>
<circle cx="1508.3" cy="2394.8" r="7.8" fill="#fff" stroke="#8a8a8a" stroke-width="2.0"/>
<circle cx="1508.3" cy="2428.6" r="7.8" fill="#fff" stroke="#8a8a8a" stroke-width="2.0"/>
<circle cx="1494.2" cy="2441.5" r="7.8" fill="#fff" stroke="#8a8a8a" stroke-width="2.0"/>
<circle cx="1522.4" cy="2430.7" r="7.8" fill="#fff" stroke="#8a8a8a" stroke-width="2.0"/>
<polyline points="1220.4,2344.0 1220.4,2027.3 1270.9,2027.3 1270.9,2094.3" fill="none" stroke="#000" stroke-width="2"/>
<polyline points="1284.4,2100.2 1284.4,2081.1 1393.1,2081.1 1393.1,2302.9" fill="none" stroke="#000" stroke-width="2"/>
<polyline points="1284.4,2067.8 1284.4,2048.2 1508.9,2048.2 1508.9,2319.9" fill="none" stroke="#000" stroke-width="2"/>
<text x="1174.0" y="2019.4" font-size="27.04" fill="#000"><tspan>p &lt; 0.0001</tspan></text>
<text x="1286.8" y="2073.7" font-size="27.11" fill="#000"><tspan>p &lt; 0.0001</tspan></text>
<text x="1331.8" y="2040.0" font-size="27.08" fill="#000"><tspan>p &lt; 0.0001</tspan></text>
<line x1="1322.3" y1="2337.2" x2="1390.2" y2="2337.2" stroke="#000" stroke-width="2.2"/>
<text x="1340.5" y="2326.4" font-size="27.16" fill="#000"><tspan>ns</tspan></text>
<line x1="1440.1" y1="2333.1" x2="1505.3" y2="2333.1" stroke="#000" stroke-width="2.2"/>
<text x="1453.6" y="2325.8" font-size="27.68" fill="#000"><tspan>ns</tspan></text>
<text transform="translate(1100.1,2395.7) rotate(-90)" font-size="38.74" fill="#000"><tspan>Metastasis area</tspan></text>
<line x1="1661.0" y1="2055.3" x2="1661.0" y2="2476.1" stroke="#000" stroke-width="4.6"/>
<line x1="1647.8" y1="2473.8" x2="2046.0" y2="2473.8" stroke="#000" stroke-width="4.6"/>
<line x1="1647.8" y1="2057.6" x2="1661.0" y2="2057.6" stroke="#000" stroke-width="4.6"/>
<line x1="1647.8" y1="2196.3" x2="1661.0" y2="2196.3" stroke="#000" stroke-width="4.6"/>
<line x1="1647.8" y1="2335.1" x2="1661.0" y2="2335.1" stroke="#000" stroke-width="4.6"/>
<line x1="1647.8" y1="2473.8" x2="1661.0" y2="2473.8" stroke="#000" stroke-width="4.6"/>
<text x="1581.7" y="2070.5" font-size="37.00" fill="#000"><tspan>150</tspan></text>
<text x="1581.7" y="2209.2" font-size="37.00" fill="#000"><tspan>100</tspan></text>
<text x="1602.3" y="2348.0" font-size="37.00" fill="#000"><tspan>50</tspan></text>
<text x="1622.9" y="2486.7" font-size="37.00" fill="#000"><tspan>0</tspan></text>
<line x1="1708.3" y1="2473.8" x2="1708.3" y2="2486.5" stroke="#000" stroke-width="4.6"/>
<line x1="1766.0" y1="2473.8" x2="1766.0" y2="2486.5" stroke="#000" stroke-width="4.6"/>
<line x1="1823.6" y1="2473.8" x2="1823.6" y2="2486.5" stroke="#000" stroke-width="4.6"/>
<line x1="1881.3" y1="2473.8" x2="1881.3" y2="2486.5" stroke="#000" stroke-width="4.6"/>
<line x1="1938.9" y1="2473.8" x2="1938.9" y2="2486.5" stroke="#000" stroke-width="4.6"/>
<line x1="1996.6" y1="2473.8" x2="1996.6" y2="2486.5" stroke="#000" stroke-width="4.6"/>
<rect x="1688.2" y="2447.1" width="40.2" height="25.8" fill="#636363" stroke="#000" stroke-width="4.8"/>
<rect x="1745.9" y="2267.0" width="40.2" height="205.9" fill="#ff8080" stroke="#000" stroke-width="4.8"/>
<rect x="1803.5" y="2450.0" width="40.2" height="22.9" fill="#a40ce2" stroke="#000" stroke-width="4.8"/>
<rect x="1861.2" y="2433.4" width="40.2" height="39.5" fill="#00f400" stroke="#000" stroke-width="4.8"/>
<rect x="1918.8" y="2439.2" width="40.2" height="33.7" fill="#ffc283" stroke="#000" stroke-width="4.8"/>
<rect x="1976.5" y="2461.6" width="40.2" height="11.3" fill="#5757fb" stroke="#000" stroke-width="4.8"/>
<line x1="1708.3" y1="2422.8" x2="1708.3" y2="2464.5" stroke="#000" stroke-width="2.4"/>
<line x1="1696.8" y1="2422.8" x2="1719.8" y2="2422.8" stroke="#000" stroke-width="2.4"/>
<line x1="1696.8" y1="2464.5" x2="1719.8" y2="2464.5" stroke="#000" stroke-width="2.4"/>
<line x1="1766.0" y1="2191.1" x2="1766.0" y2="2336.0" stroke="#000" stroke-width="2.4"/>
<line x1="1754.5" y1="2191.1" x2="1777.5" y2="2191.1" stroke="#000" stroke-width="2.4"/>
<line x1="1754.5" y1="2336.0" x2="1777.5" y2="2336.0" stroke="#000" stroke-width="2.4"/>
<line x1="1823.6" y1="2417.9" x2="1823.6" y2="2470.0" stroke="#000" stroke-width="2.4"/>
<line x1="1812.1" y1="2417.9" x2="1835.1" y2="2417.9" stroke="#000" stroke-width="2.4"/>
<line x1="1812.1" y1="2470.0" x2="1835.1" y2="2470.0" stroke="#000" stroke-width="2.4"/>
<line x1="1881.3" y1="2400.1" x2="1881.3" y2="2460.1" stroke="#000" stroke-width="2.4"/>
<line x1="1869.8" y1="2400.1" x2="1892.8" y2="2400.1" stroke="#000" stroke-width="2.4"/>
<line x1="1869.8" y1="2460.1" x2="1892.8" y2="2460.1" stroke="#000" stroke-width="2.4"/>
<line x1="1938.9" y1="2402.4" x2="1938.9" y2="2468.9" stroke="#000" stroke-width="2.4"/>
<line x1="1927.4" y1="2402.4" x2="1950.4" y2="2402.4" stroke="#000" stroke-width="2.4"/>
<line x1="1927.4" y1="2468.9" x2="1950.4" y2="2468.9" stroke="#000" stroke-width="2.4"/>
<line x1="1996.6" y1="2440.3" x2="1996.6" y2="2470.0" stroke="#000" stroke-width="2.4"/>
<line x1="1985.1" y1="2440.3" x2="2008.1" y2="2440.3" stroke="#000" stroke-width="2.4"/>
<line x1="1985.1" y1="2470.0" x2="2008.1" y2="2470.0" stroke="#000" stroke-width="2.4"/>
<circle cx="1708.2" cy="2419.0" r="7.8" fill="#fff" stroke="#000" stroke-width="2.0"/>
<circle cx="1693.6" cy="2433.0" r="7.8" fill="#fff" stroke="#000" stroke-width="2.0"/>
<circle cx="1708.2" cy="2446.1" r="7.8" fill="#fff" stroke="#000" stroke-width="2.0"/>
<circle cx="1722.7" cy="2446.1" r="7.8" fill="#fff" stroke="#000" stroke-width="2.0"/>
<circle cx="1708.2" cy="2473.2" r="7.8" fill="#fff" stroke="#000" stroke-width="2.0"/>
<circle cx="1750.7" cy="2196.9" r="7.8" fill="#fff" stroke="#000" stroke-width="2.0"/>
<circle cx="1780.5" cy="2196.9" r="7.8" fill="#fff" stroke="#000" stroke-width="2.0"/>
<circle cx="1765.9" cy="2252.3" r="7.8" fill="#fff" stroke="#000" stroke-width="2.0"/>
<circle cx="1765.9" cy="2308.6" r="7.8" fill="#fff" stroke="#000" stroke-width="2.0"/>
<circle cx="1765.9" cy="2363.1" r="7.8" fill="#fff" stroke="#000" stroke-width="2.0"/>
<circle cx="1823.6" cy="2403.9" r="7.8" fill="#fff" stroke="#000" stroke-width="2.0"/>
<circle cx="1837.9" cy="2433.0" r="7.8" fill="#fff" stroke="#000" stroke-width="2.0"/>
<circle cx="1809.6" cy="2446.1" r="7.8" fill="#fff" stroke="#000" stroke-width="2.0"/>
<circle cx="1809.6" cy="2473.8" r="7.8" fill="#fff" stroke="#000" stroke-width="2.0"/>
<circle cx="1837.9" cy="2473.8" r="7.8" fill="#fff" stroke="#000" stroke-width="2.0"/>
<circle cx="1881.0" cy="2390.8" r="7.8" fill="#fff" stroke="#000" stroke-width="2.0"/>
<circle cx="1866.4" cy="2419.0" r="7.8" fill="#fff" stroke="#000" stroke-width="2.0"/>
<circle cx="1881.0" cy="2433.0" r="7.8" fill="#fff" stroke="#000" stroke-width="2.0"/>
<circle cx="1895.0" cy="2433.0" r="7.8" fill="#fff" stroke="#000" stroke-width="2.0"/>
<circle cx="1881.0" cy="2473.8" r="7.8" fill="#fff" stroke="#000" stroke-width="2.0"/>
<circle cx="1938.7" cy="2390.8" r="7.8" fill="#fff" stroke="#8a8a8a" stroke-width="2.0"/>
<circle cx="1953.3" cy="2419.0" r="7.8" fill="#fff" stroke="#8a8a8a" stroke-width="2.0"/>
<circle cx="1924.1" cy="2433.0" r="7.8" fill="#fff" stroke="#8a8a8a" stroke-width="2.0"/>
<circle cx="1953.3" cy="2459.8" r="7.8" fill="#fff" stroke="#8a8a8a" stroke-width="2.0"/>
<circle cx="1924.1" cy="2473.8" r="7.8" fill="#fff" stroke="#8a8a8a" stroke-width="2.0"/>
<circle cx="1981.6" cy="2433.0" r="7.8" fill="#fff" stroke="#8a8a8a" stroke-width="2.0"/>
<circle cx="2010.1" cy="2446.1" r="7.8" fill="#fff" stroke="#8a8a8a" stroke-width="2.0"/>
<circle cx="1996.1" cy="2459.8" r="7.8" fill="#fff" stroke="#8a8a8a" stroke-width="2.0"/>
<circle cx="1981.6" cy="2473.8" r="7.8" fill="#fff" stroke="#8a8a8a" stroke-width="2.0"/>
<circle cx="2010.1" cy="2473.8" r="7.8" fill="#fff" stroke="#8a8a8a" stroke-width="2.0"/>
<polyline points="1765.3,2100.2 1765.3,2080.4 1881.6,2080.4 1881.6,2100.2" fill="none" stroke="#000" stroke-width="2"/>
<polyline points="1707.6,2399.5 1707.6,2150.3 1759.2,2150.3 1759.2,2170.7" fill="none" stroke="#000" stroke-width="2"/>
<polyline points="1772.3,2170.7 1772.3,2150.3 1996.7,2150.3 1996.7,2336.8" fill="none" stroke="#000" stroke-width="2"/>
<text x="1759.2" y="2067.2" font-size="27.23" fill="#000"><tspan>p &lt; 0.0001</tspan></text>
<text x="1670.8" y="2137.2" font-size="27.19" fill="#000"><tspan>p &lt; 0.0001</tspan></text>
<text x="1817.4" y="2137.2" font-size="27.32" fill="#000"><tspan>p &lt; 0.0001</tspan></text>
<line x1="1815.4" y1="2370.4" x2="1883.0" y2="2370.4" stroke="#000" stroke-width="2.2"/>
<text x="1829.0" y="2363.0" font-size="28.10" fill="#000"><tspan>ns</tspan></text>
<line x1="1934.0" y1="2370.4" x2="1999.0" y2="2370.4" stroke="#000" stroke-width="2.2"/>
<text x="1947.7" y="2363.0" font-size="27.47" fill="#000"><tspan>ns</tspan></text>
<text transform="translate(1580.3,2398.1) rotate(-90)" font-size="38.99" fill="#000"><tspan>γ-H2AX H-score</tspan></text>
<rect x="680.9" y="1913.3" width="21.6" height="21.4" fill="#808080" stroke="#3f3f3f" stroke-width="3"/>
<rect x="680.9" y="1963.9" width="21.6" height="21.4" fill="#ff8080" stroke="#3f3f3f" stroke-width="3"/>
<rect x="911.7" y="1910.5" width="21.6" height="21.4" fill="#a40ce2" stroke="#3f3f3f" stroke-width="3"/>
<rect x="911.7" y="1961.7" width="21.6" height="21.4" fill="#00f400" stroke="#3f3f3f" stroke-width="3"/>
<rect x="1261.5" y="1907.5" width="21.6" height="21.4" fill="#ffc283" stroke="#3f3f3f" stroke-width="3"/>
<rect x="1261.5" y="1957.2" width="21.6" height="21.4" fill="#5757fb" stroke="#3f3f3f" stroke-width="3"/>
<text x="712.9" y="1936.1" font-size="34.99" fill="#000"><tspan>Ctrl</tspan></text>
<text x="714.2" y="1985.0" font-size="34.97" fill="#000"><tspan font-style="italic">RNF20+/-</tspan></text>
<text x="943.0" y="1933.4" font-size="34.96" fill="#000"><tspan>Ctrl </tspan><tspan font-style="italic">shHIF1A</tspan></text>
<text x="943.7" y="1982.8" font-size="34.90" fill="#000"><tspan font-style="italic">RNF20+/- shHIF1A</tspan></text>
<text x="1291.5" y="1929.7" font-size="35.41" fill="#000"><tspan>Ctrl WZB117</tspan></text>
<text x="1292.2" y="1978.4" font-size="35.02" fill="#000"><tspan font-style="italic">RNF20+/-</tspan><tspan> WZB117</tspan></text>
<text transform="translate(10.7,55.9) scale(0.915,1)" font-size="79.77" fill="#000"><tspan>a</tspan></text>
<text transform="translate(1004.7,55.5) scale(1.094,1)" font-size="74.62" fill="#000"><tspan>b</tspan></text>
<text transform="translate(9.4,559.9) scale(1.151,1)" font-size="73.56" fill="#000"><tspan>c</tspan></text>
<text transform="translate(469.5,559.9) scale(1.114,1)" font-size="74.62" fill="#000"><tspan>d</tspan></text>
<text transform="translate(941.2,560.2) scale(1.094,1)" font-size="75.57" fill="#000"><tspan>e</tspan></text>
<text transform="translate(1475.8,560.0) scale(1.174,1)" font-size="75.18" fill="#000"><tspan>f</tspan></text>
<text transform="translate(-2.9,1214.5) scale(1.054,1)" font-size="77.67" fill="#000"><tspan>g</tspan></text>
<text transform="translate(497.3,1225.7) scale(1.072,1)" font-size="76.32" fill="#000"><tspan>h</tspan></text>
<text transform="translate(570.0,2081.4) scale(1.084,1)" font-size="74.52" fill="#000"><tspan>i</tspan></text>
<text transform="translate(1078.8,2078.9) scale(1.327,1)" font-size="74.02" fill="#000"><tspan>j</tspan></text>
<text transform="translate(1536.4,2074.5) scale(1.036,1)" font-size="73.14" fill="#000"><tspan>k</tspan></text>
<text x="619.8" y="1607.0" font-size="38.41" fill="#8c3c10"><tspan>γH2Ax</tspan></text>
<text x="618.0" y="1653.3" font-size="39.39" fill="#4a8fe0"><tspan>HE</tspan></text>
</svg>
</body></html>
